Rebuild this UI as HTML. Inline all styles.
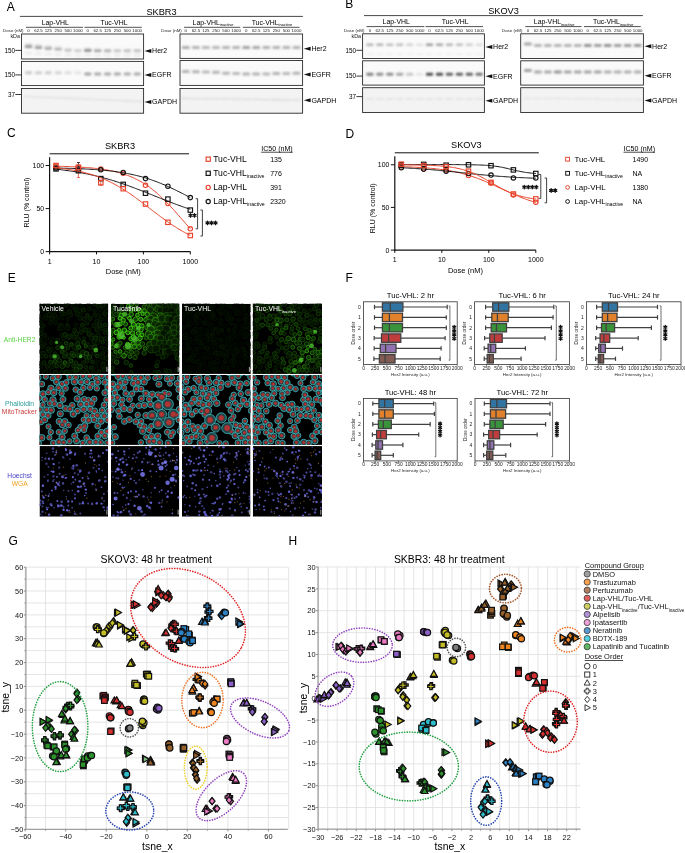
<!DOCTYPE html>
<html><head><meta charset="utf-8"><style>
html,body{margin:0;padding:0;background:#fff;}
svg{display:block;font-family:"Liberation Sans",sans-serif;will-change:transform;filter:blur(0.35px);}
</style></head><body>
<svg width="685" height="853" viewBox="0 0 685 853">
<defs><filter id="bl" x="-20%" y="-50%" width="140%" height="200%"><feGaussianBlur stdDeviation="1.0"/></filter><filter id="bl2" x="-20%" y="-20%" width="140%" height="140%"><feGaussianBlur stdDeviation="0.5"/></filter></defs>
<rect width="685" height="853" fill="#fff"/>
<text x="6.8" y="10.6" font-size="12" text-anchor="start" fill="#000" >A</text><text x="161.5" y="14.8" font-size="9.2" text-anchor="middle" fill="#000" >SKBR3</text><line x1="19.9" y1="16.4" x2="302.9" y2="16.4" stroke="#333" stroke-width="0.9" /><text x="55.3" y="24.6" font-size="6.9" text-anchor="middle" fill="#000" >Lap-VHL</text><line x1="26.0" y1="27.3" x2="83.0" y2="27.3" stroke="#333" stroke-width="0.85" /><text x="114.0" y="24.6" font-size="6.9" text-anchor="middle" fill="#000" >Tuc-VHL</text><line x1="84.5" y1="27.3" x2="141.8" y2="27.3" stroke="#333" stroke-width="0.85" /><text x="23.6" y="32.2" font-size="4.4" text-anchor="end" fill="#222" >Dose (nM)</text><text x="28.6" y="32.2" font-size="4.4" text-anchor="middle" fill="#222" >0</text><text x="38.5" y="32.2" font-size="4.4" text-anchor="middle" fill="#222" >62.5</text><text x="48.3" y="32.2" font-size="4.4" text-anchor="middle" fill="#222" >125</text><text x="58.2" y="32.2" font-size="4.4" text-anchor="middle" fill="#222" >250</text><text x="68.1" y="32.2" font-size="4.4" text-anchor="middle" fill="#222" >500</text><text x="77.9" y="32.2" font-size="4.4" text-anchor="middle" fill="#222" >1000</text><text x="87.8" y="32.2" font-size="4.4" text-anchor="middle" fill="#222" >0</text><text x="97.7" y="32.2" font-size="4.4" text-anchor="middle" fill="#222" >62.5</text><text x="107.6" y="32.2" font-size="4.4" text-anchor="middle" fill="#222" >125</text><text x="117.4" y="32.2" font-size="4.4" text-anchor="middle" fill="#222" >250</text><text x="127.3" y="32.2" font-size="4.4" text-anchor="middle" fill="#222" >500</text><text x="137.2" y="32.2" font-size="4.4" text-anchor="middle" fill="#222" >1000</text><rect x="21.5" y="34.0" width="122.1" height="25.0" fill="#fafafa" stroke="none" stroke-width="1" /><rect x="21.5" y="61.4" width="122.1" height="24.2" fill="#fafafa" stroke="none" stroke-width="1" /><rect x="21.5" y="88.5" width="122.1" height="24.7" fill="#f3f3f3" stroke="none" stroke-width="1" /><g filter="url(#bl)"><rect x="24.9" y="45.1" width="7.4" height="3.0" rx="1.2" fill="rgb(147,147,147)"/><rect x="34.8" y="45.9" width="7.4" height="3.0" rx="1.2" fill="rgb(153,153,153)"/><rect x="44.6" y="46.7" width="7.4" height="3.0" rx="1.2" fill="rgb(163,163,163)"/><rect x="54.5" y="47.5" width="7.4" height="3.0" rx="1.2" fill="rgb(173,173,173)"/><rect x="64.4" y="48.5" width="7.4" height="3.0" rx="1.2" fill="rgb(188,188,188)"/><rect x="74.2" y="49.0" width="7.4" height="3.0" rx="1.2" fill="rgb(198,198,198)"/><rect x="84.1" y="48.7" width="7.4" height="3.0" rx="1.2" fill="rgb(127,127,127)"/><rect x="94.0" y="49.1" width="7.4" height="3.0" rx="1.2" fill="rgb(158,158,158)"/><rect x="103.9" y="49.2" width="7.4" height="3.0" rx="1.2" fill="rgb(178,178,178)"/><rect x="113.7" y="49.2" width="7.4" height="3.0" rx="1.2" fill="rgb(198,198,198)"/><rect x="123.6" y="49.2" width="7.4" height="3.0" rx="1.2" fill="rgb(193,193,193)"/><rect x="133.5" y="49.2" width="7.4" height="3.0" rx="1.2" fill="rgb(193,193,193)"/><rect x="25.1" y="43.6" width="7.0" height="2.0" rx="0.8" fill="rgb(209,209,209)"/><rect x="35.0" y="44.4" width="7.0" height="2.0" rx="0.8" fill="rgb(216,216,216)"/><rect x="44.8" y="45.2" width="7.0" height="2.0" rx="0.8" fill="rgb(224,224,224)"/><rect x="54.7" y="46.0" width="7.0" height="2.0" rx="0.8" fill="rgb(229,229,229)"/><rect x="64.6" y="47.0" width="7.0" height="2.0" rx="0.8" fill="rgb(239,239,239)"/><rect x="74.4" y="47.5" width="7.0" height="2.0" rx="0.8" fill="rgb(244,244,244)"/><rect x="84.3" y="47.2" width="7.0" height="2.0" rx="0.8" fill="rgb(229,229,229)"/><rect x="94.2" y="47.6" width="7.0" height="2.0" rx="0.8" fill="rgb(239,239,239)"/><rect x="25.1" y="51.0" width="7.0" height="4.0" rx="1.6" fill="rgb(239,239,239)"/><rect x="35.0" y="51.5" width="7.0" height="4.0" rx="1.6" fill="rgb(239,239,239)"/><rect x="44.8" y="52.0" width="7.0" height="4.0" rx="1.6" fill="rgb(239,239,239)"/><rect x="54.7" y="52.5" width="7.0" height="4.0" rx="1.6" fill="rgb(239,239,239)"/><rect x="64.6" y="53.0" width="7.0" height="4.0" rx="1.6" fill="rgb(239,239,239)"/><rect x="74.4" y="53.5" width="7.0" height="4.0" rx="1.6" fill="rgb(239,239,239)"/><rect x="84.3" y="53.0" width="7.0" height="4.0" rx="1.6" fill="rgb(239,239,239)"/><rect x="94.2" y="53.5" width="7.0" height="4.0" rx="1.6" fill="rgb(239,239,239)"/><rect x="104.1" y="53.5" width="7.0" height="4.0" rx="1.6" fill="rgb(239,239,239)"/><rect x="113.9" y="53.5" width="7.0" height="4.0" rx="1.6" fill="rgb(239,239,239)"/><rect x="123.8" y="53.5" width="7.0" height="4.0" rx="1.6" fill="rgb(239,239,239)"/><rect x="133.7" y="53.5" width="7.0" height="4.0" rx="1.6" fill="rgb(239,239,239)"/><rect x="25.1" y="71.3" width="7.0" height="3.0" rx="1.2" fill="rgb(198,198,198)"/><rect x="35.0" y="71.3" width="7.0" height="3.0" rx="1.2" fill="rgb(204,204,204)"/><rect x="44.8" y="71.3" width="7.0" height="3.0" rx="1.2" fill="rgb(204,204,204)"/><rect x="54.7" y="71.3" width="7.0" height="3.0" rx="1.2" fill="rgb(211,211,211)"/><rect x="64.6" y="71.3" width="7.0" height="3.0" rx="1.2" fill="rgb(221,221,221)"/><rect x="74.4" y="71.3" width="7.0" height="3.0" rx="1.2" fill="rgb(229,229,229)"/><rect x="84.3" y="72.5" width="7.0" height="3.0" rx="1.2" fill="rgb(163,163,163)"/><rect x="94.2" y="72.5" width="7.0" height="3.0" rx="1.2" fill="rgb(168,168,168)"/><rect x="104.1" y="72.5" width="7.0" height="3.0" rx="1.2" fill="rgb(168,168,168)"/><rect x="113.9" y="72.5" width="7.0" height="3.0" rx="1.2" fill="rgb(168,168,168)"/><rect x="123.8" y="72.5" width="7.0" height="3.0" rx="1.2" fill="rgb(170,170,170)"/><rect x="133.7" y="72.5" width="7.0" height="3.0" rx="1.2" fill="rgb(170,170,170)"/><rect x="23.7" y="95.9" width="9.8" height="1.3" rx="0.5" fill="rgb(221,221,221)"/><rect x="33.6" y="96.4" width="9.8" height="1.3" rx="0.5" fill="rgb(221,221,221)"/><rect x="43.4" y="96.8" width="9.8" height="1.3" rx="0.5" fill="rgb(221,221,221)"/><rect x="53.3" y="97.2" width="9.8" height="1.3" rx="0.5" fill="rgb(221,221,221)"/><rect x="63.2" y="97.6" width="9.8" height="1.3" rx="0.5" fill="rgb(221,221,221)"/><rect x="73.0" y="98.0" width="9.8" height="1.3" rx="0.5" fill="rgb(221,221,221)"/><rect x="82.9" y="98.5" width="9.8" height="1.3" rx="0.5" fill="rgb(221,221,221)"/><rect x="92.8" y="98.9" width="9.8" height="1.3" rx="0.5" fill="rgb(221,221,221)"/><rect x="102.7" y="99.3" width="9.8" height="1.3" rx="0.5" fill="rgb(221,221,221)"/><rect x="112.5" y="99.7" width="9.8" height="1.3" rx="0.5" fill="rgb(221,221,221)"/><rect x="122.4" y="100.1" width="9.8" height="1.3" rx="0.5" fill="rgb(221,221,221)"/><rect x="132.3" y="100.6" width="9.8" height="1.3" rx="0.5" fill="rgb(221,221,221)"/></g><rect x="21.5" y="34.0" width="122.1" height="25.0" fill="none" stroke="#2a2a2a" stroke-width="0.9" /><rect x="21.5" y="61.4" width="122.1" height="24.2" fill="none" stroke="#2a2a2a" stroke-width="0.9" /><rect x="21.5" y="88.5" width="122.1" height="24.7" fill="none" stroke="#2a2a2a" stroke-width="0.9" /><path d="M144.5,50.9 L151.3,48.9 L151.3,52.9 Z" fill="#111"/><text x="152.1" y="53.2" font-size="7" text-anchor="start" fill="#000" >Her2</text><path d="M144.5,74.9 L151.3,72.9 L151.3,76.9 Z" fill="#111"/><text x="152.1" y="77.2" font-size="7" text-anchor="start" fill="#000" >EGFR</text><path d="M144.5,102.0 L151.3,100.0 L151.3,104.0 Z" fill="#111"/><text x="152.1" y="104.3" font-size="7" text-anchor="start" fill="#000" >GAPDH</text><text x="20.0" y="38.4" font-size="5.4" text-anchor="end" fill="#222" >kDa</text><text x="14.9" y="52.6" font-size="6.3" text-anchor="end" fill="#000" >150</text><line x1="15.3" y1="50.4" x2="21.5" y2="50.4" stroke="#222" stroke-width="0.9" /><text x="14.9" y="77.1" font-size="6.3" text-anchor="end" fill="#000" >150</text><line x1="15.3" y1="74.9" x2="21.5" y2="74.9" stroke="#222" stroke-width="0.9" /><text x="14.9" y="96.7" font-size="6.3" text-anchor="end" fill="#000" >37</text><line x1="15.3" y1="94.5" x2="21.5" y2="94.5" stroke="#222" stroke-width="0.9" /><text x="213.0" y="24.6" font-size="6.9" text-anchor="middle" fill="#000" >Lap-VHL<tspan font-size="4" dy="1.6">inactive</tspan></text><line x1="184.0" y1="27.3" x2="240.3" y2="27.3" stroke="#333" stroke-width="0.85" /><text x="271.9" y="24.6" font-size="6.9" text-anchor="middle" fill="#000" >Tuc-VHL<tspan font-size="4" dy="1.6">inactive</tspan></text><line x1="242.8" y1="27.3" x2="299.5" y2="27.3" stroke="#333" stroke-width="0.85" /><text x="181.8" y="32.2" font-size="4.4" text-anchor="end" fill="#222" >Dose (nM)</text><text x="185.8" y="32.2" font-size="4.4" text-anchor="middle" fill="#222" >0</text><text x="195.9" y="32.2" font-size="4.4" text-anchor="middle" fill="#222" >62.5</text><text x="205.9" y="32.2" font-size="4.4" text-anchor="middle" fill="#222" >125</text><text x="216.0" y="32.2" font-size="4.4" text-anchor="middle" fill="#222" >250</text><text x="226.0" y="32.2" font-size="4.4" text-anchor="middle" fill="#222" >500</text><text x="236.1" y="32.2" font-size="4.4" text-anchor="middle" fill="#222" >1000</text><text x="246.2" y="32.2" font-size="4.4" text-anchor="middle" fill="#222" >0</text><text x="256.2" y="32.2" font-size="4.4" text-anchor="middle" fill="#222" >62.5</text><text x="266.3" y="32.2" font-size="4.4" text-anchor="middle" fill="#222" >125</text><text x="276.3" y="32.2" font-size="4.4" text-anchor="middle" fill="#222" >250</text><text x="286.4" y="32.2" font-size="4.4" text-anchor="middle" fill="#222" >500</text><text x="296.5" y="32.2" font-size="4.4" text-anchor="middle" fill="#222" >1000</text><rect x="180.0" y="34.0" width="122.6" height="24.4" fill="#fafafa" stroke="none" stroke-width="1" /><rect x="180.0" y="60.5" width="122.6" height="24.9" fill="#fafafa" stroke="none" stroke-width="1" /><rect x="180.0" y="88.5" width="122.6" height="24.7" fill="#f3f3f3" stroke="none" stroke-width="1" /><g filter="url(#bl)"><rect x="181.9" y="46.1" width="7.8" height="3.0" rx="1.2" fill="rgb(173,173,173)"/><rect x="192.0" y="46.1" width="7.8" height="3.0" rx="1.2" fill="rgb(178,178,178)"/><rect x="202.0" y="46.1" width="7.8" height="3.0" rx="1.2" fill="rgb(183,183,183)"/><rect x="212.1" y="46.1" width="7.8" height="3.0" rx="1.2" fill="rgb(183,183,183)"/><rect x="222.1" y="46.1" width="7.8" height="3.0" rx="1.2" fill="rgb(178,178,178)"/><rect x="232.2" y="46.1" width="7.8" height="3.0" rx="1.2" fill="rgb(178,178,178)"/><rect x="242.3" y="46.1" width="7.8" height="3.0" rx="1.2" fill="rgb(163,163,163)"/><rect x="252.3" y="46.1" width="7.8" height="3.0" rx="1.2" fill="rgb(168,168,168)"/><rect x="262.4" y="46.1" width="7.8" height="3.0" rx="1.2" fill="rgb(178,178,178)"/><rect x="272.4" y="46.1" width="7.8" height="3.0" rx="1.2" fill="rgb(178,178,178)"/><rect x="282.5" y="46.1" width="7.8" height="3.0" rx="1.2" fill="rgb(178,178,178)"/><rect x="292.6" y="46.1" width="7.8" height="3.0" rx="1.2" fill="rgb(178,178,178)"/><rect x="181.9" y="70.0" width="7.8" height="3.0" rx="1.2" fill="rgb(178,178,178)"/><rect x="192.0" y="70.3" width="7.8" height="3.0" rx="1.2" fill="rgb(178,178,178)"/><rect x="202.0" y="70.5" width="7.8" height="3.0" rx="1.2" fill="rgb(183,183,183)"/><rect x="212.1" y="70.7" width="7.8" height="3.0" rx="1.2" fill="rgb(178,178,178)"/><rect x="222.1" y="71.7" width="7.8" height="3.0" rx="1.2" fill="rgb(178,178,178)"/><rect x="232.2" y="72.0" width="7.8" height="3.0" rx="1.2" fill="rgb(183,183,183)"/><rect x="242.3" y="72.5" width="7.8" height="3.0" rx="1.2" fill="rgb(178,178,178)"/><rect x="252.3" y="72.5" width="7.8" height="3.0" rx="1.2" fill="rgb(178,178,178)"/><rect x="262.4" y="72.5" width="7.8" height="3.0" rx="1.2" fill="rgb(183,183,183)"/><rect x="272.4" y="72.0" width="7.8" height="3.0" rx="1.2" fill="rgb(178,178,178)"/><rect x="282.5" y="72.0" width="7.8" height="3.0" rx="1.2" fill="rgb(183,183,183)"/><rect x="292.6" y="71.7" width="7.8" height="3.0" rx="1.2" fill="rgb(178,178,178)"/><rect x="181.1" y="97.8" width="9.5" height="1.3" rx="0.5" fill="rgb(214,214,214)"/><rect x="191.1" y="97.9" width="9.5" height="1.3" rx="0.5" fill="rgb(214,214,214)"/><rect x="201.2" y="98.0" width="9.5" height="1.3" rx="0.5" fill="rgb(214,214,214)"/><rect x="211.2" y="98.2" width="9.5" height="1.3" rx="0.5" fill="rgb(214,214,214)"/><rect x="221.3" y="98.3" width="9.5" height="1.3" rx="0.5" fill="rgb(214,214,214)"/><rect x="231.4" y="98.5" width="9.5" height="1.3" rx="0.5" fill="rgb(214,214,214)"/><rect x="241.4" y="98.7" width="9.5" height="1.3" rx="0.5" fill="rgb(214,214,214)"/><rect x="251.5" y="98.8" width="9.5" height="1.3" rx="0.5" fill="rgb(214,214,214)"/><rect x="261.5" y="99.0" width="9.5" height="1.3" rx="0.5" fill="rgb(214,214,214)"/><rect x="271.6" y="99.1" width="9.5" height="1.3" rx="0.5" fill="rgb(214,214,214)"/><rect x="281.7" y="99.2" width="9.5" height="1.3" rx="0.5" fill="rgb(214,214,214)"/><rect x="291.7" y="99.4" width="9.5" height="1.3" rx="0.5" fill="rgb(214,214,214)"/></g><rect x="180.0" y="34.0" width="122.6" height="24.4" fill="none" stroke="#2a2a2a" stroke-width="0.9" /><rect x="180.0" y="60.5" width="122.6" height="24.9" fill="none" stroke="#2a2a2a" stroke-width="0.9" /><rect x="180.0" y="88.5" width="122.6" height="24.7" fill="none" stroke="#2a2a2a" stroke-width="0.9" /><path d="M303.8,48.8 L310.6,46.8 L310.6,50.8 Z" fill="#111"/><text x="311.4" y="51.1" font-size="7" text-anchor="start" fill="#000" >Her2</text><path d="M303.8,74.6 L310.6,72.6 L310.6,76.6 Z" fill="#111"/><text x="311.4" y="76.9" font-size="7" text-anchor="start" fill="#000" >EGFR</text><path d="M303.8,100.3 L310.6,98.3 L310.6,102.3 Z" fill="#111"/><text x="311.4" y="102.6" font-size="7" text-anchor="start" fill="#000" >GAPDH</text><text x="345.3" y="7.9" font-size="12" text-anchor="start" fill="#000" >B</text><text x="503.5" y="14.0" font-size="9.2" text-anchor="middle" fill="#000" >SKOV3</text><line x1="364.0" y1="15.6" x2="642.9" y2="15.6" stroke="#333" stroke-width="0.9" /><text x="396.2" y="23.9" font-size="6.9" text-anchor="middle" fill="#000" >Lap-VHL</text><line x1="366.5" y1="26.6" x2="424.3" y2="26.6" stroke="#333" stroke-width="0.85" /><text x="455.1" y="23.9" font-size="6.9" text-anchor="middle" fill="#000" >Tuc-VHL</text><line x1="425.6" y1="26.6" x2="483.0" y2="26.6" stroke="#333" stroke-width="0.85" /><text x="364.5" y="32.2" font-size="4.4" text-anchor="end" fill="#222" >Dose (nM)</text><text x="369.9" y="32.2" font-size="4.4" text-anchor="middle" fill="#222" >0</text><text x="379.8" y="32.2" font-size="4.4" text-anchor="middle" fill="#222" >62.5</text><text x="389.8" y="32.2" font-size="4.4" text-anchor="middle" fill="#222" >125</text><text x="399.7" y="32.2" font-size="4.4" text-anchor="middle" fill="#222" >250</text><text x="409.7" y="32.2" font-size="4.4" text-anchor="middle" fill="#222" >500</text><text x="419.6" y="32.2" font-size="4.4" text-anchor="middle" fill="#222" >1000</text><text x="429.5" y="32.2" font-size="4.4" text-anchor="middle" fill="#222" >0</text><text x="439.5" y="32.2" font-size="4.4" text-anchor="middle" fill="#222" >62.5</text><text x="449.4" y="32.2" font-size="4.4" text-anchor="middle" fill="#222" >125</text><text x="459.4" y="32.2" font-size="4.4" text-anchor="middle" fill="#222" >250</text><text x="469.3" y="32.2" font-size="4.4" text-anchor="middle" fill="#222" >500</text><text x="479.2" y="32.2" font-size="4.4" text-anchor="middle" fill="#222" >1000</text><rect x="362.6" y="33.8" width="121.8" height="24.7" fill="#fafafa" stroke="none" stroke-width="1" /><rect x="362.6" y="60.8" width="121.8" height="24.3" fill="#fafafa" stroke="none" stroke-width="1" /><rect x="362.6" y="87.7" width="121.8" height="24.8" fill="#f3f3f3" stroke="none" stroke-width="1" /><g filter="url(#bl)"><rect x="366.3" y="43.5" width="7.2" height="2.6" rx="1.0" fill="rgb(178,178,178)"/><rect x="376.2" y="43.5" width="7.2" height="2.6" rx="1.0" fill="rgb(178,178,178)"/><rect x="386.2" y="43.5" width="7.2" height="2.6" rx="1.0" fill="rgb(188,188,188)"/><rect x="396.1" y="43.5" width="7.2" height="2.6" rx="1.0" fill="rgb(188,188,188)"/><rect x="406.1" y="43.5" width="7.2" height="2.6" rx="1.0" fill="rgb(209,209,209)"/><rect x="416.0" y="43.5" width="7.2" height="2.6" rx="1.0" fill="rgb(224,224,224)"/><rect x="425.9" y="43.5" width="7.2" height="2.6" rx="1.0" fill="rgb(153,153,153)"/><rect x="435.9" y="43.5" width="7.2" height="2.6" rx="1.0" fill="rgb(163,163,163)"/><rect x="445.8" y="43.5" width="7.2" height="2.6" rx="1.0" fill="rgb(178,178,178)"/><rect x="455.8" y="43.5" width="7.2" height="2.6" rx="1.0" fill="rgb(188,188,188)"/><rect x="465.7" y="43.5" width="7.2" height="2.6" rx="1.0" fill="rgb(204,204,204)"/><rect x="475.6" y="43.5" width="7.2" height="2.6" rx="1.0" fill="rgb(219,219,219)"/><rect x="366.4" y="53.0" width="7.0" height="2.0" rx="0.8" fill="rgb(239,239,239)"/><rect x="376.3" y="53.0" width="7.0" height="2.0" rx="0.8" fill="rgb(239,239,239)"/><rect x="386.3" y="53.0" width="7.0" height="2.0" rx="0.8" fill="rgb(239,239,239)"/><rect x="396.2" y="53.0" width="7.0" height="2.0" rx="0.8" fill="rgb(239,239,239)"/><rect x="406.2" y="53.0" width="7.0" height="2.0" rx="0.8" fill="rgb(239,239,239)"/><rect x="416.1" y="53.0" width="7.0" height="2.0" rx="0.8" fill="rgb(239,239,239)"/><rect x="426.0" y="53.0" width="7.0" height="2.0" rx="0.8" fill="rgb(239,239,239)"/><rect x="436.0" y="53.0" width="7.0" height="2.0" rx="0.8" fill="rgb(239,239,239)"/><rect x="445.9" y="53.0" width="7.0" height="2.0" rx="0.8" fill="rgb(239,239,239)"/><rect x="455.9" y="53.0" width="7.0" height="2.0" rx="0.8" fill="rgb(239,239,239)"/><rect x="465.8" y="53.0" width="7.0" height="2.0" rx="0.8" fill="rgb(239,239,239)"/><rect x="475.7" y="53.0" width="7.0" height="2.0" rx="0.8" fill="rgb(239,239,239)"/><rect x="366.3" y="72.8" width="7.2" height="3.0" rx="1.2" fill="rgb(127,127,127)"/><rect x="376.2" y="72.8" width="7.2" height="3.0" rx="1.2" fill="rgb(140,140,140)"/><rect x="386.2" y="72.8" width="7.2" height="3.0" rx="1.2" fill="rgb(140,140,140)"/><rect x="396.1" y="72.8" width="7.2" height="3.0" rx="1.2" fill="rgb(165,165,165)"/><rect x="406.1" y="72.8" width="7.2" height="3.0" rx="1.2" fill="rgb(198,198,198)"/><rect x="416.0" y="72.8" width="7.2" height="3.0" rx="1.2" fill="rgb(229,229,229)"/><rect x="425.9" y="72.8" width="7.2" height="3.0" rx="1.2" fill="rgb(76,76,76)"/><rect x="435.9" y="72.8" width="7.2" height="3.0" rx="1.2" fill="rgb(76,76,76)"/><rect x="445.8" y="72.8" width="7.2" height="3.0" rx="1.2" fill="rgb(96,96,96)"/><rect x="455.8" y="72.8" width="7.2" height="3.0" rx="1.2" fill="rgb(96,96,96)"/><rect x="465.7" y="72.8" width="7.2" height="3.0" rx="1.2" fill="rgb(96,96,96)"/><rect x="475.6" y="72.8" width="7.2" height="3.0" rx="1.2" fill="rgb(114,114,114)"/><rect x="365.9" y="98.6" width="8.0" height="0.9" rx="0.4" fill="rgb(214,214,214)"/><rect x="375.8" y="98.6" width="8.0" height="0.9" rx="0.4" fill="rgb(214,214,214)"/><rect x="385.8" y="98.6" width="8.0" height="0.9" rx="0.4" fill="rgb(214,214,214)"/><rect x="395.7" y="98.6" width="8.0" height="0.9" rx="0.4" fill="rgb(214,214,214)"/><rect x="405.7" y="98.6" width="8.0" height="0.9" rx="0.4" fill="rgb(214,214,214)"/><rect x="415.6" y="98.6" width="8.0" height="0.9" rx="0.4" fill="rgb(214,214,214)"/><rect x="425.5" y="98.6" width="8.0" height="0.9" rx="0.4" fill="rgb(214,214,214)"/><rect x="435.5" y="98.6" width="8.0" height="0.9" rx="0.4" fill="rgb(214,214,214)"/><rect x="445.4" y="98.6" width="8.0" height="0.9" rx="0.4" fill="rgb(214,214,214)"/><rect x="455.4" y="98.6" width="8.0" height="0.9" rx="0.4" fill="rgb(214,214,214)"/><rect x="465.3" y="98.6" width="8.0" height="0.9" rx="0.4" fill="rgb(214,214,214)"/><rect x="475.2" y="98.6" width="8.0" height="0.9" rx="0.4" fill="rgb(214,214,214)"/></g><rect x="362.6" y="33.8" width="121.8" height="24.7" fill="none" stroke="#2a2a2a" stroke-width="0.9" /><rect x="362.6" y="60.8" width="121.8" height="24.3" fill="none" stroke="#2a2a2a" stroke-width="0.9" /><rect x="362.6" y="87.7" width="121.8" height="24.8" fill="none" stroke="#2a2a2a" stroke-width="0.9" /><path d="M485.5,47.0 L492.3,45.0 L492.3,49.0 Z" fill="#111"/><text x="493.1" y="49.3" font-size="7" text-anchor="start" fill="#000" >Her2</text><path d="M485.5,76.3 L492.3,74.3 L492.3,78.3 Z" fill="#111"/><text x="493.1" y="78.6" font-size="7" text-anchor="start" fill="#000" >EGFR</text><path d="M485.5,100.7 L492.3,98.7 L492.3,102.7 Z" fill="#111"/><text x="493.1" y="103.0" font-size="7" text-anchor="start" fill="#000" >GAPDH</text><text x="361.1" y="37.9" font-size="5.4" text-anchor="end" fill="#222" >kDa</text><text x="356.0" y="52.5" font-size="6.3" text-anchor="end" fill="#000" >150</text><line x1="356.4" y1="50.3" x2="362.6" y2="50.3" stroke="#222" stroke-width="0.9" /><text x="356.0" y="78.3" font-size="6.3" text-anchor="end" fill="#000" >150</text><line x1="356.4" y1="76.1" x2="362.6" y2="76.1" stroke="#222" stroke-width="0.9" /><text x="356.0" y="98.8" font-size="6.3" text-anchor="end" fill="#000" >37</text><line x1="356.4" y1="96.6" x2="362.6" y2="96.6" stroke="#222" stroke-width="0.9" /><text x="554.2" y="23.9" font-size="6.9" text-anchor="middle" fill="#000" >Lap-VHL<tspan font-size="4" dy="1.6">inactive</tspan></text><line x1="525.3" y1="26.6" x2="581.5" y2="26.6" stroke="#333" stroke-width="0.85" /><text x="613.2" y="23.9" font-size="6.9" text-anchor="middle" fill="#000" >Tuc-VHL<tspan font-size="4" dy="1.6">inactive</tspan></text><line x1="584.0" y1="26.6" x2="640.8" y2="26.6" stroke="#333" stroke-width="0.85" /><text x="522.5" y="32.2" font-size="4.4" text-anchor="end" fill="#222" >Dose (nM)</text><text x="527.9" y="32.2" font-size="4.4" text-anchor="middle" fill="#222" >0</text><text x="537.9" y="32.2" font-size="4.4" text-anchor="middle" fill="#222" >62.5</text><text x="547.9" y="32.2" font-size="4.4" text-anchor="middle" fill="#222" >125</text><text x="557.8" y="32.2" font-size="4.4" text-anchor="middle" fill="#222" >250</text><text x="567.8" y="32.2" font-size="4.4" text-anchor="middle" fill="#222" >500</text><text x="577.8" y="32.2" font-size="4.4" text-anchor="middle" fill="#222" >1000</text><text x="587.8" y="32.2" font-size="4.4" text-anchor="middle" fill="#222" >0</text><text x="597.8" y="32.2" font-size="4.4" text-anchor="middle" fill="#222" >62.5</text><text x="607.7" y="32.2" font-size="4.4" text-anchor="middle" fill="#222" >125</text><text x="617.7" y="32.2" font-size="4.4" text-anchor="middle" fill="#222" >250</text><text x="627.7" y="32.2" font-size="4.4" text-anchor="middle" fill="#222" >500</text><text x="637.7" y="32.2" font-size="4.4" text-anchor="middle" fill="#222" >1000</text><rect x="520.7" y="33.8" width="122.7" height="24.7" fill="#fafafa" stroke="none" stroke-width="1" /><rect x="520.7" y="60.8" width="122.7" height="24.3" fill="#fafafa" stroke="none" stroke-width="1" /><rect x="520.7" y="87.7" width="122.7" height="24.8" fill="#f3f3f3" stroke="none" stroke-width="1" /><g filter="url(#bl)"><rect x="524.0" y="42.5" width="7.8" height="3.0" rx="1.2" fill="rgb(165,165,165)"/><rect x="534.0" y="44.0" width="7.8" height="3.0" rx="1.2" fill="rgb(178,178,178)"/><rect x="544.0" y="44.0" width="7.8" height="3.0" rx="1.2" fill="rgb(178,178,178)"/><rect x="553.9" y="44.0" width="7.8" height="3.0" rx="1.2" fill="rgb(178,178,178)"/><rect x="563.9" y="44.0" width="7.8" height="3.0" rx="1.2" fill="rgb(178,178,178)"/><rect x="573.9" y="44.0" width="7.8" height="3.0" rx="1.2" fill="rgb(178,178,178)"/><rect x="583.9" y="44.0" width="7.8" height="3.0" rx="1.2" fill="rgb(147,147,147)"/><rect x="593.9" y="44.0" width="7.8" height="3.0" rx="1.2" fill="rgb(158,158,158)"/><rect x="603.8" y="44.0" width="7.8" height="3.0" rx="1.2" fill="rgb(147,147,147)"/><rect x="613.8" y="44.0" width="7.8" height="3.0" rx="1.2" fill="rgb(158,158,158)"/><rect x="623.8" y="44.0" width="7.8" height="3.0" rx="1.2" fill="rgb(158,158,158)"/><rect x="633.8" y="44.0" width="7.8" height="3.0" rx="1.2" fill="rgb(153,153,153)"/><rect x="524.0" y="69.0" width="7.8" height="3.0" rx="1.2" fill="rgb(158,158,158)"/><rect x="534.0" y="70.5" width="7.8" height="3.0" rx="1.2" fill="rgb(168,168,168)"/><rect x="544.0" y="70.5" width="7.8" height="3.0" rx="1.2" fill="rgb(168,168,168)"/><rect x="553.9" y="70.5" width="7.8" height="3.0" rx="1.2" fill="rgb(147,147,147)"/><rect x="563.9" y="70.5" width="7.8" height="3.0" rx="1.2" fill="rgb(163,163,163)"/><rect x="573.9" y="70.5" width="7.8" height="3.0" rx="1.2" fill="rgb(163,163,163)"/><rect x="583.9" y="70.5" width="7.8" height="3.0" rx="1.2" fill="rgb(163,163,163)"/><rect x="593.9" y="70.5" width="7.8" height="3.0" rx="1.2" fill="rgb(163,163,163)"/><rect x="603.8" y="70.5" width="7.8" height="3.0" rx="1.2" fill="rgb(173,173,173)"/><rect x="613.8" y="70.5" width="7.8" height="3.0" rx="1.2" fill="rgb(173,173,173)"/><rect x="623.8" y="70.5" width="7.8" height="3.0" rx="1.2" fill="rgb(173,173,173)"/><rect x="633.8" y="70.5" width="7.8" height="3.0" rx="1.2" fill="rgb(173,173,173)"/><rect x="523.4" y="97.7" width="9.0" height="1.0" rx="0.4" fill="rgb(219,219,219)"/><rect x="533.4" y="97.8" width="9.0" height="1.0" rx="0.4" fill="rgb(219,219,219)"/><rect x="543.4" y="97.9" width="9.0" height="1.0" rx="0.4" fill="rgb(219,219,219)"/><rect x="553.3" y="98.1" width="9.0" height="1.0" rx="0.4" fill="rgb(219,219,219)"/><rect x="563.3" y="98.2" width="9.0" height="1.0" rx="0.4" fill="rgb(219,219,219)"/><rect x="573.3" y="98.3" width="9.0" height="1.0" rx="0.4" fill="rgb(219,219,219)"/><rect x="583.3" y="98.4" width="9.0" height="1.0" rx="0.4" fill="rgb(219,219,219)"/><rect x="593.3" y="98.5" width="9.0" height="1.0" rx="0.4" fill="rgb(219,219,219)"/><rect x="603.2" y="98.7" width="9.0" height="1.0" rx="0.4" fill="rgb(219,219,219)"/><rect x="613.2" y="98.8" width="9.0" height="1.0" rx="0.4" fill="rgb(219,219,219)"/><rect x="623.2" y="98.9" width="9.0" height="1.0" rx="0.4" fill="rgb(219,219,219)"/><rect x="633.2" y="99.0" width="9.0" height="1.0" rx="0.4" fill="rgb(219,219,219)"/></g><rect x="520.7" y="33.8" width="122.7" height="24.7" fill="none" stroke="#2a2a2a" stroke-width="0.9" /><rect x="520.7" y="60.8" width="122.7" height="24.3" fill="none" stroke="#2a2a2a" stroke-width="0.9" /><rect x="520.7" y="87.7" width="122.7" height="24.8" fill="none" stroke="#2a2a2a" stroke-width="0.9" /><path d="M644.5,46.3 L651.3,44.3 L651.3,48.3 Z" fill="#111"/><text x="652.1" y="48.6" font-size="7" text-anchor="start" fill="#000" >Her2</text><path d="M644.5,75.7 L651.3,73.7 L651.3,77.7 Z" fill="#111"/><text x="652.1" y="78.0" font-size="7" text-anchor="start" fill="#000" >EGFR</text><path d="M644.5,100.4 L651.3,98.4 L651.3,102.4 Z" fill="#111"/><text x="652.1" y="102.7" font-size="7" text-anchor="start" fill="#000" >GAPDH</text><line x1="78.4" y1="162.5" x2="78.4" y2="168.9" stroke="#111" stroke-width="0.8" /><line x1="76.9" y1="162.5" x2="79.9" y2="162.5" stroke="#111" stroke-width="0.8" /><line x1="76.9" y1="168.9" x2="79.9" y2="168.9" stroke="#111" stroke-width="0.8" /><line x1="78.4" y1="171.5" x2="78.4" y2="177.6" stroke="#e8422a" stroke-width="0.8" /><line x1="76.9" y1="171.5" x2="79.9" y2="171.5" stroke="#e8422a" stroke-width="0.8" /><line x1="76.9" y1="177.6" x2="79.9" y2="177.6" stroke="#e8422a" stroke-width="0.8" /><line x1="100.8" y1="180.1" x2="100.8" y2="185.3" stroke="#e8422a" stroke-width="0.8" /><line x1="99.3" y1="180.1" x2="102.3" y2="180.1" stroke="#e8422a" stroke-width="0.8" /><line x1="99.3" y1="185.3" x2="102.3" y2="185.3" stroke="#e8422a" stroke-width="0.8" /><text x="7.0" y="137.4" font-size="12" text-anchor="start" fill="#000" >C</text><line x1="49.6" y1="157.3" x2="49.6" y2="252.2" stroke="#111" stroke-width="1.2" /><line x1="49.0" y1="251.6" x2="190.4" y2="251.6" stroke="#111" stroke-width="1.2" /><line x1="45.6" y1="251.6" x2="49.6" y2="251.6" stroke="#111" stroke-width="1" /><text x="44.1" y="254.0" font-size="6.9" text-anchor="end" fill="#000" >0</text><line x1="45.6" y1="208.6" x2="49.6" y2="208.6" stroke="#111" stroke-width="1" /><text x="44.1" y="211.0" font-size="6.9" text-anchor="end" fill="#000" >50</text><line x1="45.6" y1="165.5" x2="49.6" y2="165.5" stroke="#111" stroke-width="1" /><text x="44.1" y="167.9" font-size="6.9" text-anchor="end" fill="#000" >100</text><line x1="49.6" y1="251.6" x2="49.6" y2="254.4" stroke="#111" stroke-width="1" /><text x="49.6" y="263.8" font-size="7.0" text-anchor="middle" fill="#000" >1</text><line x1="96.5" y1="251.6" x2="96.5" y2="254.4" stroke="#111" stroke-width="1" /><text x="96.5" y="263.8" font-size="7.0" text-anchor="middle" fill="#000" >10</text><line x1="143.4" y1="251.6" x2="143.4" y2="254.4" stroke="#111" stroke-width="1" /><text x="143.4" y="263.8" font-size="7.0" text-anchor="middle" fill="#000" >100</text><line x1="190.3" y1="251.6" x2="190.3" y2="254.4" stroke="#111" stroke-width="1" /><text x="190.3" y="263.8" font-size="7.0" text-anchor="middle" fill="#000" >1000</text><text x="123.3" y="274.4" font-size="7.5" text-anchor="middle" fill="#000" >Dose (nM)</text><text x="0.0" y="0.0" font-size="7.0" text-anchor="middle" fill="#000" transform="translate(29.1,202.5) rotate(-90)">RLU (% control)</text><text x="120.0" y="149.2" font-size="9.2" text-anchor="middle" fill="#000" >SKBR3</text><line x1="49.6" y1="153.8" x2="189.0" y2="153.8" stroke="#111" stroke-width="1.0" /><polyline points="53.3,166.2 54.5,166.2 55.6,166.2 56.7,166.2 57.9,166.3 59.0,166.3 60.2,166.3 61.3,166.4 62.4,166.4 63.6,166.4 64.7,166.5 65.9,166.5 67.0,166.5 68.2,166.6 69.3,166.6 70.4,166.7 71.6,166.7 72.7,166.8 73.9,166.8 75.0,166.9 76.1,166.9 77.3,167.0 78.4,167.0 79.6,167.1 80.7,167.2 81.9,167.2 83.0,167.3 84.1,167.4 85.3,167.5 86.4,167.6 87.6,167.6 88.7,167.7 89.8,167.8 91.0,167.9 92.1,168.0 93.3,168.2 94.4,168.3 95.6,168.4 96.7,168.5 97.8,168.7 99.0,168.8 100.1,169.0 101.3,169.1 102.4,169.3 103.5,169.4 104.7,169.6 105.8,169.8 107.0,170.0 108.1,170.2 109.2,170.4 110.4,170.6 111.5,170.9 112.7,171.1 113.8,171.4 115.0,171.6 116.1,171.9 117.2,172.2 118.4,172.5 119.5,172.8 120.7,173.1 121.8,173.5 122.9,173.8 124.1,174.2 125.2,174.6 126.4,175.0 127.5,175.4 128.7,175.8 129.8,176.3 130.9,176.7 132.1,177.2 133.2,177.7 134.4,178.3 135.5,178.8 136.6,179.4 137.8,180.0 138.9,180.6 140.1,181.2 141.2,181.8 142.4,182.5 143.5,183.2 144.6,183.9 145.8,184.7 146.9,185.4 148.1,186.2 149.2,187.0 150.3,187.9 151.5,188.7 152.6,189.6 153.8,190.5 154.9,191.5 156.1,192.4 157.2,193.4 158.3,194.4 159.5,195.4 160.6,196.5 161.8,197.6 162.9,198.7 164.0,199.8 165.2,200.9 166.3,202.1 167.5,203.2 168.6,204.4 169.8,205.6 170.9,206.9 172.0,208.1 173.2,209.3 174.3,210.6 175.5,211.9 176.6,213.2 177.7,214.5 178.9,215.8 180.0,217.1 181.2,218.4 182.3,219.7 183.5,221.0 184.6,222.3 185.7,223.6 186.9,224.9 188.0,226.2 189.2,227.4 190.3,228.7" fill="none" stroke="#e8422a" stroke-width="1.0"/><circle cx="56.0" cy="166.4" r="2.2" fill="none" stroke="#e8422a" stroke-width="1.15"/><circle cx="78.4" cy="167.2" r="2.2" fill="none" stroke="#e8422a" stroke-width="1.15"/><circle cx="100.8" cy="168.9" r="2.2" fill="none" stroke="#e8422a" stroke-width="1.15"/><circle cx="123.2" cy="173.2" r="2.2" fill="none" stroke="#e8422a" stroke-width="1.15"/><circle cx="145.5" cy="185.3" r="2.2" fill="none" stroke="#e8422a" stroke-width="1.15"/><circle cx="167.9" cy="203.4" r="2.2" fill="none" stroke="#e8422a" stroke-width="1.15"/><circle cx="190.3" cy="228.8" r="2.2" fill="none" stroke="#e8422a" stroke-width="1.15"/><polyline points="53.3,168.0 54.5,168.0 55.6,168.0 56.7,168.1 57.9,168.1 59.0,168.1 60.2,168.1 61.3,168.2 62.4,168.2 63.6,168.2 64.7,168.2 65.9,168.3 67.0,168.3 68.2,168.3 69.3,168.4 70.4,168.4 71.6,168.4 72.7,168.5 73.9,168.5 75.0,168.6 76.1,168.6 77.3,168.6 78.4,168.7 79.6,168.7 80.7,168.8 81.9,168.8 83.0,168.9 84.1,168.9 85.3,169.0 86.4,169.1 87.6,169.1 88.7,169.2 89.8,169.2 91.0,169.3 92.1,169.4 93.3,169.5 94.4,169.5 95.6,169.6 96.7,169.7 97.8,169.8 99.0,169.9 100.1,170.0 101.3,170.1 102.4,170.2 103.5,170.3 104.7,170.4 105.8,170.5 107.0,170.6 108.1,170.7 109.2,170.8 110.4,171.0 111.5,171.1 112.7,171.2 113.8,171.4 115.0,171.5 116.1,171.7 117.2,171.8 118.4,172.0 119.5,172.2 120.7,172.4 121.8,172.5 122.9,172.7 124.1,172.9 125.2,173.1 126.4,173.3 127.5,173.5 128.7,173.8 129.8,174.0 130.9,174.2 132.1,174.5 133.2,174.7 134.4,175.0 135.5,175.3 136.6,175.5 137.8,175.8 138.9,176.1 140.1,176.4 141.2,176.7 142.4,177.0 143.5,177.3 144.6,177.7 145.8,178.0 146.9,178.4 148.1,178.7 149.2,179.1 150.3,179.5 151.5,179.9 152.6,180.3 153.8,180.7 154.9,181.1 156.1,181.5 157.2,182.0 158.3,182.4 159.5,182.9 160.6,183.3 161.8,183.8 162.9,184.3 164.0,184.7 165.2,185.2 166.3,185.7 167.5,186.3 168.6,186.8 169.8,187.3 170.9,187.8 172.0,188.4 173.2,188.9 174.3,189.5 175.5,190.0 176.6,190.6 177.7,191.1 178.9,191.7 180.0,192.3 181.2,192.9 182.3,193.4 183.5,194.0 184.6,194.6 185.7,195.2 186.9,195.8 188.0,196.4 189.2,197.0 190.3,197.6" fill="none" stroke="#111" stroke-width="1.0"/><circle cx="56.0" cy="168.1" r="2.2" fill="none" stroke="#111" stroke-width="1.15"/><circle cx="78.4" cy="168.9" r="2.2" fill="none" stroke="#111" stroke-width="1.15"/><circle cx="100.8" cy="169.8" r="2.2" fill="none" stroke="#111" stroke-width="1.15"/><circle cx="123.2" cy="172.4" r="2.2" fill="none" stroke="#111" stroke-width="1.15"/><circle cx="145.5" cy="178.6" r="2.2" fill="none" stroke="#111" stroke-width="1.15"/><circle cx="167.9" cy="186.2" r="2.2" fill="none" stroke="#111" stroke-width="1.15"/><circle cx="190.3" cy="197.6" r="2.2" fill="none" stroke="#111" stroke-width="1.15"/><polyline points="53.3,168.9 54.5,169.0 55.6,169.1 56.7,169.2 57.9,169.4 59.0,169.5 60.2,169.6 61.3,169.8 62.4,169.9 63.6,170.1 64.7,170.2 65.9,170.4 67.0,170.5 68.2,170.7 69.3,170.8 70.4,171.0 71.6,171.2 72.7,171.4 73.9,171.5 75.0,171.7 76.1,171.9 77.3,172.1 78.4,172.3 79.6,172.5 80.7,172.7 81.9,172.9 83.0,173.1 84.1,173.3 85.3,173.6 86.4,173.8 87.6,174.0 88.7,174.3 89.8,174.5 91.0,174.8 92.1,175.0 93.3,175.3 94.4,175.5 95.6,175.8 96.7,176.1 97.8,176.4 99.0,176.7 100.1,176.9 101.3,177.2 102.4,177.5 103.5,177.8 104.7,178.2 105.8,178.5 107.0,178.8 108.1,179.1 109.2,179.5 110.4,179.8 111.5,180.1 112.7,180.5 113.8,180.8 115.0,181.2 116.1,181.6 117.2,181.9 118.4,182.3 119.5,182.7 120.7,183.1 121.8,183.4 122.9,183.8 124.1,184.2 125.2,184.6 126.4,185.0 127.5,185.4 128.7,185.8 129.8,186.3 130.9,186.7 132.1,187.1 133.2,187.5 134.4,188.0 135.5,188.4 136.6,188.8 137.8,189.3 138.9,189.7 140.1,190.2 141.2,190.6 142.4,191.0 143.5,191.5 144.6,191.9 145.8,192.4 146.9,192.9 148.1,193.3 149.2,193.8 150.3,194.2 151.5,194.7 152.6,195.1 153.8,195.6 154.9,196.1 156.1,196.5 157.2,197.0 158.3,197.4 159.5,197.9 160.6,198.3 161.8,198.8 162.9,199.3 164.0,199.7 165.2,200.2 166.3,200.6 167.5,201.1 168.6,201.5 169.8,201.9 170.9,202.4 172.0,202.8 173.2,203.2 174.3,203.7 175.5,204.1 176.6,204.5 177.7,204.9 178.9,205.3 180.0,205.8 181.2,206.2 182.3,206.6 183.5,207.0 184.6,207.4 185.7,207.8 186.9,208.1 188.0,208.5 189.2,208.9 190.3,209.3" fill="none" stroke="#111" stroke-width="1.0"/><rect x="53.8" y="166.7" width="4.4" height="4.4" fill="none" stroke="#111" stroke-width="1.15" /><rect x="76.2" y="168.5" width="4.4" height="4.4" fill="none" stroke="#111" stroke-width="1.15" /><rect x="98.6" y="176.4" width="4.4" height="4.4" fill="none" stroke="#111" stroke-width="1.15" /><rect x="121.0" y="182.2" width="4.4" height="4.4" fill="none" stroke="#111" stroke-width="1.15" /><rect x="143.3" y="191.0" width="4.4" height="4.4" fill="none" stroke="#111" stroke-width="1.15" /><rect x="165.7" y="196.9" width="4.4" height="4.4" fill="none" stroke="#111" stroke-width="1.15" /><rect x="188.1" y="207.9" width="4.4" height="4.4" fill="none" stroke="#111" stroke-width="1.15" /><polyline points="53.3,167.4 54.5,167.6 55.6,167.7 56.7,167.8 57.9,167.9 59.0,168.0 60.2,168.2 61.3,168.3 62.4,168.5 63.6,168.6 64.7,168.8 65.9,168.9 67.0,169.1 68.2,169.3 69.3,169.5 70.4,169.6 71.6,169.8 72.7,170.0 73.9,170.2 75.0,170.5 76.1,170.7 77.3,170.9 78.4,171.2 79.6,171.4 80.7,171.7 81.9,171.9 83.0,172.2 84.1,172.5 85.3,172.8 86.4,173.1 87.6,173.4 88.7,173.7 89.8,174.0 91.0,174.4 92.1,174.7 93.3,175.1 94.4,175.5 95.6,175.9 96.7,176.3 97.8,176.7 99.0,177.1 100.1,177.6 101.3,178.0 102.4,178.5 103.5,179.0 104.7,179.4 105.8,179.9 107.0,180.5 108.1,181.0 109.2,181.5 110.4,182.1 111.5,182.7 112.7,183.2 113.8,183.8 115.0,184.5 116.1,185.1 117.2,185.7 118.4,186.4 119.5,187.0 120.7,187.7 121.8,188.4 122.9,189.1 124.1,189.8 125.2,190.6 126.4,191.3 127.5,192.1 128.7,192.8 129.8,193.6 130.9,194.4 132.1,195.2 133.2,196.0 134.4,196.8 135.5,197.6 136.6,198.5 137.8,199.3 138.9,200.2 140.1,201.0 141.2,201.9 142.4,202.7 143.5,203.6 144.6,204.5 145.8,205.4 146.9,206.2 148.1,207.1 149.2,208.0 150.3,208.9 151.5,209.8 152.6,210.6 153.8,211.5 154.9,212.4 156.1,213.3 157.2,214.1 158.3,215.0 159.5,215.9 160.6,216.7 161.8,217.6 162.9,218.4 164.0,219.2 165.2,220.1 166.3,220.9 167.5,221.7 168.6,222.5 169.8,223.3 170.9,224.0 172.0,224.8 173.2,225.6 174.3,226.3 175.5,227.0 176.6,227.7 177.7,228.4 178.9,229.1 180.0,229.8 181.2,230.5 182.3,231.1 183.5,231.8 184.6,232.4 185.7,233.0 186.9,233.6 188.0,234.2 189.2,234.7 190.3,235.3" fill="none" stroke="#e8422a" stroke-width="1.0"/><rect x="53.8" y="163.3" width="4.4" height="4.4" fill="none" stroke="#e8422a" stroke-width="1.15" /><rect x="76.2" y="165.0" width="4.4" height="4.4" fill="none" stroke="#e8422a" stroke-width="1.15" /><rect x="98.6" y="180.5" width="4.4" height="4.4" fill="none" stroke="#e8422a" stroke-width="1.15" /><rect x="121.0" y="186.5" width="4.4" height="4.4" fill="none" stroke="#e8422a" stroke-width="1.15" /><rect x="143.3" y="201.8" width="4.4" height="4.4" fill="none" stroke="#e8422a" stroke-width="1.15" /><rect x="165.7" y="220.1" width="4.4" height="4.4" fill="none" stroke="#e8422a" stroke-width="1.15" /><rect x="188.1" y="233.3" width="4.4" height="4.4" fill="none" stroke="#e8422a" stroke-width="1.15" /><text x="261.2" y="150.8" font-size="7.1" text-anchor="start" fill="#000" text-decoration="underline">IC50 (nM)</text><rect x="206.1" y="157.1" width="4.2" height="4.2" fill="none" stroke="#e8422a" stroke-width="1.15" /><text x="213.2" y="162.0" font-size="8.6" text-anchor="start" fill="#000" >Tuc-VHL</text><text x="270.2" y="162.0" font-size="7.0" text-anchor="start" fill="#000" >135</text><rect x="206.1" y="171.2" width="4.2" height="4.2" fill="none" stroke="#111" stroke-width="1.15" /><text x="213.2" y="176.1" font-size="8.6" text-anchor="start" fill="#000" >Tuc-VHL<tspan font-size="5.2" dy="1.8">inactive</tspan></text><text x="270.2" y="176.1" font-size="7.0" text-anchor="start" fill="#000" >776</text><circle cx="208.2" cy="187.4" r="2.1" fill="none" stroke="#e8422a" stroke-width="1.15"/><text x="213.2" y="190.2" font-size="8.6" text-anchor="start" fill="#000" >Lap-VHL</text><text x="270.2" y="190.2" font-size="7.0" text-anchor="start" fill="#000" >391</text><circle cx="208.2" cy="201.5" r="2.1" fill="none" stroke="#111" stroke-width="1.15"/><text x="213.2" y="204.3" font-size="8.6" text-anchor="start" fill="#000" >Lap-VHL<tspan font-size="5.2" dy="1.8">inactive</tspan></text><text x="270.2" y="204.3" font-size="7.0" text-anchor="start" fill="#000" >2320</text><path d="M195.6,198.7 H197.6 V228.8 H195.6" fill="none" stroke="#111" stroke-width="0.8"/><path d="M200.4,210.0 H202.4 V236.0 H200.4" fill="none" stroke="#111" stroke-width="0.8"/><path d="M190.50,213.65L190.50,217.15M192.02,214.53L188.98,216.28M192.02,216.28L188.98,214.53" stroke="#111" stroke-width="1.35" stroke-linecap="round" fill="none"/><path d="M194.50,213.65L194.50,217.15M196.02,214.53L192.98,216.28M196.02,216.28L192.98,214.53" stroke="#111" stroke-width="1.35" stroke-linecap="round" fill="none"/><path d="M207.50,221.15L207.50,224.65M209.02,222.03L205.98,223.78M209.02,223.78L205.98,222.03" stroke="#111" stroke-width="1.35" stroke-linecap="round" fill="none"/><path d="M211.50,221.15L211.50,224.65M213.02,222.03L209.98,223.78M213.02,223.78L209.98,222.03" stroke="#111" stroke-width="1.35" stroke-linecap="round" fill="none"/><path d="M215.50,221.15L215.50,224.65M217.02,222.03L213.98,223.78M217.02,223.78L213.98,222.03" stroke="#111" stroke-width="1.35" stroke-linecap="round" fill="none"/><text x="345.5" y="137.5" font-size="12" text-anchor="start" fill="#000" >D</text><line x1="394.8" y1="156.3" x2="394.8" y2="250.7" stroke="#111" stroke-width="1.2" /><line x1="394.2" y1="250.1" x2="535.8" y2="250.1" stroke="#111" stroke-width="1.2" /><line x1="390.8" y1="250.1" x2="394.8" y2="250.1" stroke="#111" stroke-width="1" /><text x="389.3" y="252.5" font-size="6.9" text-anchor="end" fill="#000" >0</text><line x1="390.8" y1="207.4" x2="394.8" y2="207.4" stroke="#111" stroke-width="1" /><text x="389.3" y="209.8" font-size="6.9" text-anchor="end" fill="#000" >50</text><line x1="390.8" y1="164.8" x2="394.8" y2="164.8" stroke="#111" stroke-width="1" /><text x="389.3" y="167.2" font-size="6.9" text-anchor="end" fill="#000" >100</text><line x1="394.8" y1="250.1" x2="394.8" y2="252.9" stroke="#111" stroke-width="1" /><text x="394.8" y="262.3" font-size="7.0" text-anchor="middle" fill="#000" >1</text><line x1="441.8" y1="250.1" x2="441.8" y2="252.9" stroke="#111" stroke-width="1" /><text x="441.8" y="262.3" font-size="7.0" text-anchor="middle" fill="#000" >10</text><line x1="488.8" y1="250.1" x2="488.8" y2="252.9" stroke="#111" stroke-width="1" /><text x="488.8" y="262.3" font-size="7.0" text-anchor="middle" fill="#000" >100</text><line x1="535.8" y1="250.1" x2="535.8" y2="252.9" stroke="#111" stroke-width="1" /><text x="535.8" y="262.3" font-size="7.0" text-anchor="middle" fill="#000" >1000</text><text x="465.4" y="272.9" font-size="7.5" text-anchor="middle" fill="#000" >Dose (nM)</text><text x="0.0" y="0.0" font-size="7.0" text-anchor="middle" fill="#000" transform="translate(375.3,208.3) rotate(-90)">RLU (% control)</text><text x="466.4" y="148.2" font-size="9.2" text-anchor="middle" fill="#000" >SKOV3</text><line x1="394.8" y1="152.8" x2="538.8" y2="152.8" stroke="#111" stroke-width="1.0" /><polyline points="398.5,166.6 399.7,166.7 400.8,166.7 402.0,166.7 403.1,166.7 404.2,166.8 405.4,166.8 406.5,166.9 407.7,166.9 408.8,166.9 410.0,167.0 411.1,167.0 412.2,167.1 413.4,167.1 414.5,167.2 415.7,167.3 416.8,167.3 418.0,167.4 419.1,167.4 420.3,167.5 421.4,167.6 422.5,167.7 423.7,167.7 424.8,167.8 426.0,167.9 427.1,168.0 428.3,168.1 429.4,168.2 430.6,168.3 431.7,168.4 432.8,168.5 434.0,168.6 435.1,168.7 436.3,168.9 437.4,169.0 438.6,169.1 439.7,169.3 440.8,169.4 442.0,169.6 443.1,169.7 444.3,169.9 445.4,170.1 446.6,170.2 447.7,170.4 448.9,170.6 450.0,170.8 451.1,171.0 452.3,171.3 453.4,171.5 454.6,171.7 455.7,172.0 456.9,172.2 458.0,172.5 459.2,172.7 460.3,173.0 461.4,173.3 462.6,173.6 463.7,173.9 464.9,174.2 466.0,174.5 467.2,174.9 468.3,175.2 469.4,175.6 470.6,175.9 471.7,176.3 472.9,176.7 474.0,177.1 475.2,177.5 476.3,177.9 477.5,178.3 478.6,178.7 479.7,179.2 480.9,179.6 482.0,180.1 483.2,180.6 484.3,181.0 485.5,181.5 486.6,182.0 487.8,182.5 488.9,183.0 490.0,183.5 491.2,184.0 492.3,184.5 493.5,185.0 494.6,185.6 495.8,186.1 496.9,186.6 498.0,187.2 499.2,187.7 500.3,188.2 501.5,188.8 502.6,189.3 503.8,189.8 504.9,190.4 506.1,190.9 507.2,191.4 508.3,191.9 509.5,192.5 510.6,193.0 511.8,193.5 512.9,194.0 514.1,194.5 515.2,195.0 516.4,195.5 517.5,195.9 518.6,196.4 519.8,196.9 520.9,197.3 522.1,197.8 523.2,198.2 524.4,198.6 525.5,199.1 526.6,199.5 527.8,199.9 528.9,200.3 530.1,200.6 531.2,201.0 532.4,201.4 533.5,201.7 534.7,202.1 535.8,202.4" fill="none" stroke="#e8422a" stroke-width="1.0"/><circle cx="401.3" cy="165.7" r="2.2" fill="none" stroke="#e8422a" stroke-width="1.15"/><circle cx="423.7" cy="169.1" r="2.2" fill="none" stroke="#e8422a" stroke-width="1.15"/><circle cx="446.1" cy="169.9" r="2.2" fill="none" stroke="#e8422a" stroke-width="1.15"/><circle cx="468.5" cy="175.5" r="2.2" fill="none" stroke="#e8422a" stroke-width="1.15"/><circle cx="491.0" cy="183.1" r="2.2" fill="none" stroke="#e8422a" stroke-width="1.15"/><circle cx="513.4" cy="194.9" r="2.2" fill="none" stroke="#e8422a" stroke-width="1.15"/><circle cx="535.8" cy="202.2" r="2.2" fill="none" stroke="#e8422a" stroke-width="1.15"/><polyline points="398.5,167.6 399.7,167.6 400.8,167.7 402.0,167.7 403.1,167.8 404.2,167.9 405.4,167.9 406.5,168.0 407.7,168.0 408.8,168.1 410.0,168.2 411.1,168.2 412.2,168.3 413.4,168.4 414.5,168.4 415.7,168.5 416.8,168.6 418.0,168.7 419.1,168.8 420.3,168.8 421.4,168.9 422.5,169.0 423.7,169.1 424.8,169.2 426.0,169.3 427.1,169.4 428.3,169.4 429.4,169.5 430.6,169.6 431.7,169.7 432.8,169.8 434.0,169.9 435.1,170.0 436.3,170.1 437.4,170.2 438.6,170.3 439.7,170.5 440.8,170.6 442.0,170.7 443.1,170.8 444.3,170.9 445.4,171.0 446.6,171.1 447.7,171.2 448.9,171.4 450.0,171.5 451.1,171.6 452.3,171.7 453.4,171.8 454.6,171.9 455.7,172.1 456.9,172.2 458.0,172.3 459.2,172.4 460.3,172.5 461.4,172.7 462.6,172.8 463.7,172.9 464.9,173.0 466.0,173.2 467.2,173.3 468.3,173.4 469.4,173.5 470.6,173.6 471.7,173.8 472.9,173.9 474.0,174.0 475.2,174.1 476.3,174.2 477.5,174.3 478.6,174.4 479.7,174.6 480.9,174.7 482.0,174.8 483.2,174.9 484.3,175.0 485.5,175.1 486.6,175.2 487.8,175.3 488.9,175.4 490.0,175.5 491.2,175.6 492.3,175.7 493.5,175.8 494.6,175.9 495.8,176.0 496.9,176.1 498.0,176.2 499.2,176.3 500.3,176.4 501.5,176.4 502.6,176.5 503.8,176.6 504.9,176.7 506.1,176.8 507.2,176.8 508.3,176.9 509.5,177.0 510.6,177.1 511.8,177.1 512.9,177.2 514.1,177.3 515.2,177.3 516.4,177.4 517.5,177.5 518.6,177.5 519.8,177.6 520.9,177.6 522.1,177.7 523.2,177.7 524.4,177.8 525.5,177.8 526.6,177.9 527.8,177.9 528.9,178.0 530.1,178.0 531.2,178.1 532.4,178.1 533.5,178.2 534.7,178.2 535.8,178.2" fill="none" stroke="#111" stroke-width="1.0"/><circle cx="401.3" cy="167.7" r="2.2" fill="none" stroke="#111" stroke-width="1.15"/><circle cx="423.7" cy="169.1" r="2.2" fill="none" stroke="#111" stroke-width="1.15"/><circle cx="446.1" cy="171.2" r="2.2" fill="none" stroke="#111" stroke-width="1.15"/><circle cx="468.5" cy="173.5" r="2.2" fill="none" stroke="#111" stroke-width="1.15"/><circle cx="491.0" cy="175.0" r="2.2" fill="none" stroke="#111" stroke-width="1.15"/><circle cx="513.4" cy="177.9" r="2.2" fill="none" stroke="#111" stroke-width="1.15"/><circle cx="535.8" cy="177.9" r="2.2" fill="none" stroke="#111" stroke-width="1.15"/><polyline points="398.5,164.6 399.7,164.6 400.8,164.6 402.0,164.6 403.1,164.6 404.2,164.6 405.4,164.6 406.5,164.6 407.7,164.6 408.8,164.6 410.0,164.6 411.1,164.6 412.2,164.6 413.4,164.6 414.5,164.6 415.7,164.6 416.8,164.6 418.0,164.6 419.1,164.6 420.3,164.6 421.4,164.6 422.5,164.6 423.7,164.6 424.8,164.6 426.0,164.6 427.1,164.6 428.3,164.6 429.4,164.6 430.6,164.6 431.7,164.6 432.8,164.6 434.0,164.6 435.1,164.6 436.3,164.6 437.4,164.6 438.6,164.6 439.7,164.6 440.8,164.6 442.0,164.6 443.1,164.6 444.3,164.6 445.4,164.6 446.6,164.6 447.7,164.6 448.9,164.6 450.0,164.6 451.1,164.6 452.3,164.6 453.4,164.6 454.6,164.6 455.7,164.6 456.9,164.6 458.0,164.6 459.2,164.7 460.3,164.7 461.4,164.7 462.6,164.7 463.7,164.7 464.9,164.7 466.0,164.7 467.2,164.7 468.3,164.7 469.4,164.7 470.6,164.8 471.7,164.8 472.9,164.8 474.0,164.8 475.2,164.9 476.3,164.9 477.5,164.9 478.6,164.9 479.7,165.0 480.9,165.0 482.0,165.1 483.2,165.1 484.3,165.2 485.5,165.3 486.6,165.3 487.8,165.4 488.9,165.5 490.0,165.6 491.2,165.7 492.3,165.8 493.5,166.0 494.6,166.1 495.8,166.3 496.9,166.4 498.0,166.6 499.2,166.8 500.3,167.0 501.5,167.2 502.6,167.4 503.8,167.7 504.9,167.9 506.1,168.2 507.2,168.4 508.3,168.7 509.5,169.0 510.6,169.2 511.8,169.5 512.9,169.8 514.1,170.1 515.2,170.3 516.4,170.6 517.5,170.9 518.6,171.1 519.8,171.3 520.9,171.6 522.1,171.8 523.2,172.0 524.4,172.2 525.5,172.4 526.6,172.5 527.8,172.7 528.9,172.8 530.1,173.0 531.2,173.1 532.4,173.2 533.5,173.3 534.7,173.4 535.8,173.5" fill="none" stroke="#111" stroke-width="1.0"/><rect x="399.1" y="162.6" width="4.4" height="4.4" fill="none" stroke="#111" stroke-width="1.15" /><rect x="421.5" y="162.2" width="4.4" height="4.4" fill="none" stroke="#111" stroke-width="1.15" /><rect x="443.9" y="163.0" width="4.4" height="4.4" fill="none" stroke="#111" stroke-width="1.15" /><rect x="466.3" y="162.6" width="4.4" height="4.4" fill="none" stroke="#111" stroke-width="1.15" /><rect x="488.8" y="163.5" width="4.4" height="4.4" fill="none" stroke="#111" stroke-width="1.15" /><rect x="511.2" y="167.7" width="4.4" height="4.4" fill="none" stroke="#111" stroke-width="1.15" /><rect x="533.6" y="171.3" width="4.4" height="4.4" fill="none" stroke="#111" stroke-width="1.15" /><polyline points="398.5,164.8 399.7,164.8 400.8,164.8 402.0,164.8 403.1,164.8 404.2,164.8 405.4,164.9 406.5,164.9 407.7,164.9 408.8,164.9 410.0,164.9 411.1,164.9 412.2,164.9 413.4,164.9 414.5,165.0 415.7,165.0 416.8,165.0 418.0,165.0 419.1,165.0 420.3,165.1 421.4,165.1 422.5,165.1 423.7,165.2 424.8,165.2 426.0,165.2 427.1,165.3 428.3,165.3 429.4,165.4 430.6,165.4 431.7,165.4 432.8,165.5 434.0,165.6 435.1,165.6 436.3,165.7 437.4,165.8 438.6,165.8 439.7,165.9 440.8,166.0 442.0,166.1 443.1,166.2 444.3,166.3 445.4,166.5 446.6,166.6 447.7,166.7 448.9,166.9 450.0,167.0 451.1,167.2 452.3,167.3 453.4,167.5 454.6,167.7 455.7,167.9 456.9,168.2 458.0,168.4 459.2,168.7 460.3,168.9 461.4,169.2 462.6,169.5 463.7,169.8 464.9,170.2 466.0,170.5 467.2,170.9 468.3,171.3 469.4,171.7 470.6,172.1 471.7,172.5 472.9,173.0 474.0,173.5 475.2,174.0 476.3,174.5 477.5,175.1 478.6,175.6 479.7,176.2 480.9,176.8 482.0,177.4 483.2,178.0 484.3,178.6 485.5,179.3 486.6,179.9 487.8,180.6 488.9,181.2 490.0,181.9 491.2,182.6 492.3,183.2 493.5,183.9 494.6,184.6 495.8,185.2 496.9,185.9 498.0,186.5 499.2,187.2 500.3,187.8 501.5,188.4 502.6,189.0 503.8,189.6 504.9,190.2 506.1,190.7 507.2,191.3 508.3,191.8 509.5,192.3 510.6,192.7 511.8,193.2 512.9,193.6 514.1,194.1 515.2,194.5 516.4,194.9 517.5,195.2 518.6,195.6 519.8,195.9 520.9,196.2 522.1,196.5 523.2,196.8 524.4,197.1 525.5,197.3 526.6,197.5 527.8,197.8 528.9,198.0 530.1,198.2 531.2,198.4 532.4,198.5 533.5,198.7 534.7,198.9 535.8,199.0" fill="none" stroke="#e8422a" stroke-width="1.0"/><rect x="399.1" y="162.0" width="4.4" height="4.4" fill="none" stroke="#e8422a" stroke-width="1.15" /><rect x="421.5" y="163.5" width="4.4" height="4.4" fill="none" stroke="#e8422a" stroke-width="1.15" /><rect x="443.9" y="164.6" width="4.4" height="4.4" fill="none" stroke="#e8422a" stroke-width="1.15" /><rect x="466.3" y="169.0" width="4.4" height="4.4" fill="none" stroke="#e8422a" stroke-width="1.15" /><rect x="488.8" y="180.2" width="4.4" height="4.4" fill="none" stroke="#e8422a" stroke-width="1.15" /><rect x="511.2" y="191.8" width="4.4" height="4.4" fill="none" stroke="#e8422a" stroke-width="1.15" /><rect x="533.6" y="196.7" width="4.4" height="4.4" fill="none" stroke="#e8422a" stroke-width="1.15" /><text x="623.5" y="150.8" font-size="7.1" text-anchor="start" fill="#000" text-decoration="underline">IC50 (nM)</text><rect x="565.7" y="157.3" width="3.8" height="3.8" fill="none" stroke="#e8422a" stroke-width="0.95" /><text x="574.4" y="162.0" font-size="7.9" text-anchor="start" fill="#000" >Tuc-VHL</text><text x="632.5" y="162.0" font-size="7.0" text-anchor="start" fill="#000" >1490</text><rect x="565.7" y="171.4" width="3.8" height="3.8" fill="none" stroke="#111" stroke-width="0.95" /><text x="574.4" y="176.1" font-size="7.9" text-anchor="start" fill="#000" >Tuc-VHL<tspan font-size="5.2" dy="1.8">inactive</tspan></text><text x="632.5" y="176.1" font-size="7.0" text-anchor="start" fill="#000" >NA</text><circle cx="567.6" cy="187.4" r="1.9" fill="none" stroke="#e8422a" stroke-width="0.95"/><text x="574.4" y="190.2" font-size="7.9" text-anchor="start" fill="#000" >Lap-VHL</text><text x="632.5" y="190.2" font-size="7.0" text-anchor="start" fill="#000" >1380</text><circle cx="567.6" cy="201.5" r="1.9" fill="none" stroke="#111" stroke-width="0.95"/><text x="574.4" y="204.3" font-size="7.9" text-anchor="start" fill="#000" >Lap-VHL<tspan font-size="5.2" dy="1.8">inactive</tspan></text><text x="632.5" y="204.3" font-size="7.0" text-anchor="start" fill="#000" >NA</text><path d="M538.8,174.5 H540.8 V198.4 H538.8" fill="none" stroke="#111" stroke-width="0.8"/><path d="M544.6,178.0 H546.6 V202.8 H544.6" fill="none" stroke="#111" stroke-width="0.8"/><path d="M524.30,185.35L524.30,188.85M525.82,186.23L522.78,187.98M525.82,187.98L522.78,186.23" stroke="#111" stroke-width="1.35" stroke-linecap="round" fill="none"/><path d="M528.30,185.35L528.30,188.85M529.82,186.23L526.78,187.98M529.82,187.98L526.78,186.23" stroke="#111" stroke-width="1.35" stroke-linecap="round" fill="none"/><path d="M532.30,185.35L532.30,188.85M533.82,186.23L530.78,187.98M533.82,187.98L530.78,186.23" stroke="#111" stroke-width="1.35" stroke-linecap="round" fill="none"/><path d="M536.30,185.35L536.30,188.85M537.82,186.23L534.78,187.98M537.82,187.98L534.78,186.23" stroke="#111" stroke-width="1.35" stroke-linecap="round" fill="none"/><path d="M551.20,188.75L551.20,192.25M552.72,189.62L549.68,191.38M552.72,191.38L549.68,189.62" stroke="#111" stroke-width="1.35" stroke-linecap="round" fill="none"/><path d="M555.20,188.75L555.20,192.25M556.72,189.62L553.68,191.38M556.72,191.38L553.68,189.62" stroke="#111" stroke-width="1.35" stroke-linecap="round" fill="none"/><text x="7.8" y="282.0" font-size="12" text-anchor="start" fill="#000" >E</text><text x="345.5" y="281.9" font-size="12" text-anchor="start" fill="#000" >F</text><clipPath id="c00"><rect x="39.5" y="303.8" width="68.6" height="70.1"/></clipPath><g clip-path="url(#c00)"><rect x="39.5" y="303.8" width="68.6" height="70.1" fill="#000" stroke="none" stroke-width="1" /><circle cx="36.0" cy="299.8" r="1.7" fill="rgb(3,10,0)" stroke="rgb(9,31,2)" stroke-width="0.75"/><circle cx="42.4" cy="299.5" r="1.9" fill="rgb(3,10,0)" stroke="rgb(9,33,2)" stroke-width="0.75"/><circle cx="47.4" cy="300.4" r="1.9" fill="rgb(1,5,0)" stroke="rgb(5,18,1)" stroke-width="0.75"/><circle cx="51.4" cy="300.8" r="1.8" fill="rgb(3,10,0)" stroke="rgb(9,32,2)" stroke-width="0.75"/><circle cx="56.7" cy="300.6" r="2.4" fill="rgb(3,10,0)" stroke="rgb(9,33,2)" stroke-width="0.75"/><circle cx="62.2" cy="299.6" r="2.0" fill="rgb(2,8,0)" stroke="rgb(8,27,2)" stroke-width="0.75"/><circle cx="68.7" cy="301.8" r="2.2" fill="rgb(2,8,0)" stroke="rgb(8,27,2)" stroke-width="0.75"/><circle cx="73.2" cy="300.0" r="2.1" fill="rgb(3,11,1)" stroke="rgb(10,34,2)" stroke-width="0.75"/><circle cx="80.1" cy="302.1" r="1.8" fill="rgb(3,10,1)" stroke="rgb(10,33,2)" stroke-width="0.75"/><circle cx="85.3" cy="300.5" r="1.9" fill="rgb(2,6,0)" stroke="rgb(6,21,1)" stroke-width="0.75"/><circle cx="91.9" cy="299.4" r="1.9" fill="rgb(3,11,1)" stroke="rgb(10,36,2)" stroke-width="0.75"/><circle cx="97.0" cy="300.2" r="1.7" fill="rgb(3,10,0)" stroke="rgb(9,32,2)" stroke-width="0.75"/><circle cx="100.2" cy="299.7" r="1.9" fill="rgb(1,6,0)" stroke="rgb(5,19,1)" stroke-width="0.75"/><circle cx="106.1" cy="301.7" r="2.2" fill="rgb(3,11,1)" stroke="rgb(10,34,2)" stroke-width="0.75"/><circle cx="111.1" cy="301.0" r="1.9" fill="rgb(3,10,1)" stroke="rgb(10,33,2)" stroke-width="0.75"/><circle cx="39.6" cy="305.1" r="2.0" fill="rgb(2,9,0)" stroke="rgb(8,28,2)" stroke-width="0.75"/><circle cx="44.7" cy="304.2" r="1.8" fill="rgb(2,8,0)" stroke="rgb(8,27,2)" stroke-width="0.75"/><circle cx="48.7" cy="304.6" r="1.8" fill="rgb(3,11,1)" stroke="rgb(10,36,2)" stroke-width="0.75"/><circle cx="55.9" cy="305.3" r="2.4" fill="rgb(3,12,1)" stroke="rgb(11,38,3)" stroke-width="0.75"/><circle cx="60.2" cy="305.8" r="2.0" fill="rgb(1,5,0)" stroke="rgb(5,17,1)" stroke-width="0.75"/><circle cx="66.1" cy="304.9" r="2.4" fill="rgb(3,11,1)" stroke="rgb(10,35,2)" stroke-width="0.75"/><circle cx="72.5" cy="306.1" r="1.9" fill="rgb(2,9,0)" stroke="rgb(8,28,2)" stroke-width="0.75"/><circle cx="76.2" cy="305.7" r="2.4" fill="rgb(2,7,0)" stroke="rgb(6,23,1)" stroke-width="0.75"/><circle cx="82.5" cy="306.6" r="2.1" fill="rgb(2,7,0)" stroke="rgb(7,24,1)" stroke-width="0.75"/><circle cx="88.5" cy="304.9" r="2.1" fill="rgb(2,7,0)" stroke="rgb(6,23,1)" stroke-width="0.75"/><circle cx="94.6" cy="304.4" r="1.8" fill="rgb(4,14,1)" stroke="rgb(13,44,3)" stroke-width="0.75"/><circle cx="98.4" cy="306.3" r="2.1" fill="rgb(4,13,1)" stroke="rgb(12,41,3)" stroke-width="0.75"/><circle cx="103.0" cy="305.5" r="2.2" fill="rgb(4,13,1)" stroke="rgb(12,42,3)" stroke-width="0.75"/><circle cx="108.0" cy="306.0" r="2.3" fill="rgb(2,7,0)" stroke="rgb(7,24,1)" stroke-width="0.75"/><circle cx="115.6" cy="305.7" r="1.7" fill="rgb(2,9,0)" stroke="rgb(8,29,2)" stroke-width="0.75"/><circle cx="37.6" cy="309.6" r="2.0" fill="rgb(1,5,0)" stroke="rgb(4,16,1)" stroke-width="0.75"/><circle cx="42.5" cy="310.5" r="1.9" fill="rgb(2,8,0)" stroke="rgb(7,26,2)" stroke-width="0.75"/><circle cx="47.5" cy="310.1" r="1.9" fill="rgb(1,6,0)" stroke="rgb(5,19,1)" stroke-width="0.75"/><circle cx="53.7" cy="311.5" r="2.3" fill="rgb(2,7,0)" stroke="rgb(7,23,1)" stroke-width="0.75"/><circle cx="58.0" cy="310.7" r="2.2" fill="rgb(1,5,0)" stroke="rgb(5,16,1)" stroke-width="0.75"/><circle cx="62.2" cy="310.8" r="1.8" fill="rgb(3,11,1)" stroke="rgb(10,36,2)" stroke-width="0.75"/><circle cx="69.3" cy="311.7" r="2.2" fill="rgb(4,12,1)" stroke="rgb(12,40,3)" stroke-width="0.75"/><circle cx="75.3" cy="309.5" r="1.9" fill="rgb(4,13,1)" stroke="rgb(12,41,3)" stroke-width="0.75"/><circle cx="79.4" cy="310.7" r="2.0" fill="rgb(2,9,0)" stroke="rgb(8,29,2)" stroke-width="0.75"/><circle cx="83.7" cy="310.1" r="2.1" fill="rgb(4,15,1)" stroke="rgb(14,47,3)" stroke-width="0.75"/><circle cx="89.5" cy="309.0" r="2.0" fill="rgb(3,9,0)" stroke="rgb(9,30,2)" stroke-width="0.75"/><circle cx="94.6" cy="311.0" r="1.7" fill="rgb(2,9,0)" stroke="rgb(8,29,2)" stroke-width="0.75"/><circle cx="100.2" cy="309.4" r="2.3" fill="rgb(2,7,0)" stroke="rgb(7,23,1)" stroke-width="0.75"/><circle cx="106.4" cy="311.3" r="2.4" fill="rgb(2,8,0)" stroke="rgb(8,27,2)" stroke-width="0.75"/><circle cx="110.8" cy="310.0" r="1.9" fill="rgb(2,8,0)" stroke="rgb(7,25,2)" stroke-width="0.75"/><circle cx="39.3" cy="316.0" r="1.8" fill="rgb(2,8,0)" stroke="rgb(8,28,2)" stroke-width="0.75"/><circle cx="45.6" cy="316.0" r="2.4" fill="rgb(2,8,0)" stroke="rgb(7,25,2)" stroke-width="0.75"/><circle cx="49.3" cy="314.6" r="2.3" fill="rgb(3,11,1)" stroke="rgb(10,36,2)" stroke-width="0.75"/><circle cx="55.0" cy="316.0" r="2.3" fill="rgb(3,10,0)" stroke="rgb(9,31,2)" stroke-width="0.75"/><circle cx="62.2" cy="313.8" r="2.1" fill="rgb(3,12,1)" stroke="rgb(11,39,3)" stroke-width="0.75"/><circle cx="65.2" cy="314.1" r="1.7" fill="rgb(3,11,1)" stroke="rgb(10,34,2)" stroke-width="0.75"/><circle cx="70.8" cy="314.8" r="2.0" fill="rgb(3,11,1)" stroke="rgb(11,37,2)" stroke-width="0.75"/><circle cx="77.3" cy="314.2" r="2.2" fill="rgb(4,12,1)" stroke="rgb(12,40,3)" stroke-width="0.75"/><circle cx="80.9" cy="314.7" r="1.7" fill="rgb(2,9,0)" stroke="rgb(8,29,2)" stroke-width="0.75"/><circle cx="87.4" cy="315.1" r="1.8" fill="rgb(5,16,1)" stroke="rgb(15,51,4)" stroke-width="0.75"/><circle cx="94.6" cy="315.5" r="1.9" fill="rgb(3,12,1)" stroke="rgb(11,38,3)" stroke-width="0.75"/><circle cx="98.6" cy="315.2" r="2.2" fill="rgb(3,10,0)" stroke="rgb(9,32,2)" stroke-width="0.75"/><circle cx="104.5" cy="313.6" r="1.9" fill="rgb(4,15,1)" stroke="rgb(14,49,3)" stroke-width="0.75"/><circle cx="110.6" cy="315.7" r="1.9" fill="rgb(3,12,1)" stroke="rgb(11,37,3)" stroke-width="0.75"/><circle cx="115.9" cy="315.8" r="2.0" fill="rgb(3,10,0)" stroke="rgb(9,32,2)" stroke-width="0.75"/><circle cx="36.2" cy="319.3" r="1.8" fill="rgb(2,6,0)" stroke="rgb(6,20,1)" stroke-width="0.75"/><circle cx="40.7" cy="320.0" r="2.3" fill="rgb(2,6,0)" stroke="rgb(6,21,1)" stroke-width="0.75"/><circle cx="46.0" cy="318.3" r="1.9" fill="rgb(2,8,0)" stroke="rgb(8,27,2)" stroke-width="0.75"/><circle cx="51.8" cy="318.6" r="2.4" fill="rgb(3,12,1)" stroke="rgb(11,37,3)" stroke-width="0.75"/><circle cx="57.6" cy="318.2" r="1.8" fill="rgb(2,8,0)" stroke="rgb(8,27,2)" stroke-width="0.75"/><circle cx="62.0" cy="318.5" r="1.8" fill="rgb(2,7,0)" stroke="rgb(6,22,1)" stroke-width="0.75"/><circle cx="67.7" cy="319.2" r="1.8" fill="rgb(2,8,0)" stroke="rgb(8,27,2)" stroke-width="0.75"/><circle cx="80.0" cy="318.5" r="1.9" fill="rgb(2,9,0)" stroke="rgb(8,29,2)" stroke-width="0.75"/><circle cx="84.4" cy="319.1" r="2.3" fill="rgb(4,13,1)" stroke="rgb(12,41,3)" stroke-width="0.75"/><circle cx="90.1" cy="318.5" r="2.0" fill="rgb(4,15,1)" stroke="rgb(14,49,3)" stroke-width="0.75"/><circle cx="96.9" cy="321.1" r="2.1" fill="rgb(3,12,1)" stroke="rgb(11,39,3)" stroke-width="0.75"/><circle cx="101.2" cy="319.5" r="1.9" fill="rgb(3,11,1)" stroke="rgb(10,35,2)" stroke-width="0.75"/><circle cx="105.5" cy="318.4" r="1.9" fill="rgb(2,7,0)" stroke="rgb(7,23,1)" stroke-width="0.75"/><circle cx="111.6" cy="318.9" r="1.8" fill="rgb(4,14,1)" stroke="rgb(13,46,3)" stroke-width="0.75"/><circle cx="40.2" cy="323.3" r="2.1" fill="rgb(2,8,0)" stroke="rgb(8,27,2)" stroke-width="0.75"/><circle cx="43.2" cy="325.6" r="1.9" fill="rgb(3,11,1)" stroke="rgb(10,36,2)" stroke-width="0.75"/><circle cx="50.1" cy="323.2" r="1.9" fill="rgb(2,7,0)" stroke="rgb(6,23,1)" stroke-width="0.75"/><circle cx="55.5" cy="322.9" r="2.0" fill="rgb(2,8,0)" stroke="rgb(8,26,2)" stroke-width="0.75"/><circle cx="60.9" cy="325.7" r="2.3" fill="rgb(4,13,1)" stroke="rgb(13,43,3)" stroke-width="0.75"/><circle cx="67.3" cy="324.9" r="1.7" fill="rgb(4,14,1)" stroke="rgb(13,44,3)" stroke-width="0.75"/><circle cx="76.0" cy="325.1" r="2.2" fill="rgb(2,7,0)" stroke="rgb(7,24,1)" stroke-width="0.75"/><circle cx="82.5" cy="325.1" r="2.0" fill="rgb(5,18,1)" stroke="rgb(17,57,4)" stroke-width="0.75"/><circle cx="87.3" cy="323.5" r="1.7" fill="rgb(4,14,1)" stroke="rgb(14,46,3)" stroke-width="0.75"/><circle cx="94.1" cy="325.7" r="2.3" fill="rgb(4,13,1)" stroke="rgb(12,40,3)" stroke-width="0.75"/><circle cx="99.7" cy="325.2" r="2.3" fill="rgb(5,17,1)" stroke="rgb(16,53,4)" stroke-width="0.75"/><circle cx="105.0" cy="325.0" r="1.9" fill="rgb(5,17,1)" stroke="rgb(16,53,4)" stroke-width="0.75"/><circle cx="108.6" cy="324.3" r="1.8" fill="rgb(2,7,0)" stroke="rgb(7,24,1)" stroke-width="0.75"/><circle cx="114.4" cy="322.9" r="2.2" fill="rgb(3,10,0)" stroke="rgb(9,33,2)" stroke-width="0.75"/><circle cx="35.1" cy="328.3" r="2.2" fill="rgb(3,12,1)" stroke="rgb(11,37,3)" stroke-width="0.75"/><circle cx="41.2" cy="329.6" r="2.2" fill="rgb(3,10,0)" stroke="rgb(9,31,2)" stroke-width="0.75"/><circle cx="59.5" cy="328.6" r="2.1" fill="rgb(3,10,0)" stroke="rgb(9,31,2)" stroke-width="0.75"/><circle cx="62.7" cy="328.2" r="2.2" fill="rgb(2,6,0)" stroke="rgb(6,21,1)" stroke-width="0.75"/><circle cx="68.0" cy="328.1" r="2.3" fill="rgb(2,9,0)" stroke="rgb(8,29,2)" stroke-width="0.75"/><circle cx="74.7" cy="330.2" r="1.9" fill="rgb(5,16,1)" stroke="rgb(15,50,4)" stroke-width="0.75"/><circle cx="80.7" cy="328.9" r="1.9" fill="rgb(3,10,0)" stroke="rgb(9,32,2)" stroke-width="0.75"/><circle cx="85.6" cy="329.9" r="2.2" fill="rgb(5,17,1)" stroke="rgb(16,53,4)" stroke-width="0.75"/><circle cx="89.3" cy="329.5" r="1.7" fill="rgb(3,10,0)" stroke="rgb(9,32,2)" stroke-width="0.75"/><circle cx="97.1" cy="329.8" r="2.1" fill="rgb(4,14,1)" stroke="rgb(13,45,3)" stroke-width="0.75"/><circle cx="102.1" cy="328.9" r="1.9" fill="rgb(3,11,1)" stroke="rgb(11,37,2)" stroke-width="0.75"/><circle cx="105.7" cy="329.9" r="1.7" fill="rgb(4,13,1)" stroke="rgb(12,41,3)" stroke-width="0.75"/><circle cx="111.6" cy="329.9" r="2.0" fill="rgb(2,9,0)" stroke="rgb(8,28,2)" stroke-width="0.75"/><circle cx="40.6" cy="333.4" r="2.2" fill="rgb(3,12,1)" stroke="rgb(11,38,3)" stroke-width="0.75"/><circle cx="44.3" cy="335.0" r="2.0" fill="rgb(3,12,1)" stroke="rgb(11,38,3)" stroke-width="0.75"/><circle cx="62.0" cy="334.6" r="1.9" fill="rgb(3,9,0)" stroke="rgb(9,31,2)" stroke-width="0.75"/><circle cx="65.1" cy="334.7" r="2.2" fill="rgb(5,18,1)" stroke="rgb(17,59,4)" stroke-width="0.75"/><circle cx="73.0" cy="334.2" r="1.7" fill="rgb(4,13,1)" stroke="rgb(12,42,3)" stroke-width="0.75"/><circle cx="76.6" cy="333.8" r="2.2" fill="rgb(5,16,1)" stroke="rgb(15,51,4)" stroke-width="0.75"/><circle cx="81.3" cy="332.2" r="1.9" fill="rgb(4,15,1)" stroke="rgb(14,47,3)" stroke-width="0.75"/><circle cx="89.2" cy="334.1" r="2.3" fill="rgb(5,18,1)" stroke="rgb(17,58,4)" stroke-width="0.75"/><circle cx="93.3" cy="335.0" r="1.7" fill="rgb(3,12,1)" stroke="rgb(11,38,3)" stroke-width="0.75"/><circle cx="98.4" cy="334.8" r="2.0" fill="rgb(3,12,1)" stroke="rgb(11,38,3)" stroke-width="0.75"/><circle cx="105.0" cy="332.8" r="1.8" fill="rgb(4,14,1)" stroke="rgb(13,44,3)" stroke-width="0.75"/><circle cx="108.7" cy="333.1" r="2.2" fill="rgb(4,14,1)" stroke="rgb(13,44,3)" stroke-width="0.75"/><circle cx="114.0" cy="333.9" r="1.8" fill="rgb(3,10,0)" stroke="rgb(9,32,2)" stroke-width="0.75"/><circle cx="35.8" cy="338.1" r="1.9" fill="rgb(3,12,1)" stroke="rgb(11,38,3)" stroke-width="0.75"/><circle cx="40.8" cy="339.6" r="1.9" fill="rgb(3,11,1)" stroke="rgb(10,36,2)" stroke-width="0.75"/><circle cx="46.9" cy="338.3" r="2.2" fill="rgb(2,7,0)" stroke="rgb(7,23,1)" stroke-width="0.75"/><circle cx="53.0" cy="339.6" r="2.4" fill="rgb(2,9,0)" stroke="rgb(8,29,2)" stroke-width="0.75"/><circle cx="57.9" cy="339.6" r="1.8" fill="rgb(4,12,1)" stroke="rgb(12,40,3)" stroke-width="0.75"/><circle cx="63.5" cy="338.5" r="2.0" fill="rgb(3,11,1)" stroke="rgb(10,36,2)" stroke-width="0.75"/><circle cx="69.0" cy="336.9" r="2.4" fill="rgb(5,18,1)" stroke="rgb(17,58,4)" stroke-width="0.75"/><circle cx="74.1" cy="337.4" r="2.0" fill="rgb(4,13,1)" stroke="rgb(12,40,3)" stroke-width="0.75"/><circle cx="78.2" cy="339.3" r="2.4" fill="rgb(4,15,1)" stroke="rgb(14,48,3)" stroke-width="0.75"/><circle cx="84.1" cy="338.3" r="1.7" fill="rgb(4,13,1)" stroke="rgb(12,42,3)" stroke-width="0.75"/><circle cx="91.2" cy="338.6" r="2.0" fill="rgb(3,11,1)" stroke="rgb(10,34,2)" stroke-width="0.75"/><circle cx="95.4" cy="338.4" r="2.3" fill="rgb(6,20,1)" stroke="rgb(19,64,5)" stroke-width="0.75"/><circle cx="101.5" cy="339.2" r="2.4" fill="rgb(4,15,1)" stroke="rgb(14,49,3)" stroke-width="0.75"/><circle cx="105.5" cy="338.6" r="1.9" fill="rgb(5,16,1)" stroke="rgb(15,50,4)" stroke-width="0.75"/><circle cx="111.3" cy="337.7" r="2.4" fill="rgb(2,7,0)" stroke="rgb(7,24,1)" stroke-width="0.75"/><circle cx="40.0" cy="343.1" r="1.7" fill="rgb(3,11,1)" stroke="rgb(10,34,2)" stroke-width="0.75"/><circle cx="44.8" cy="343.9" r="2.0" fill="rgb(3,11,1)" stroke="rgb(10,34,2)" stroke-width="0.75"/><circle cx="51.2" cy="342.9" r="1.9" fill="rgb(3,10,0)" stroke="rgb(9,31,2)" stroke-width="0.75"/><circle cx="55.7" cy="343.1" r="1.7" fill="rgb(3,9,0)" stroke="rgb(9,30,2)" stroke-width="0.75"/><circle cx="60.8" cy="343.7" r="1.9" fill="rgb(4,13,1)" stroke="rgb(12,41,3)" stroke-width="0.75"/><circle cx="66.1" cy="343.2" r="1.8" fill="rgb(8,25,2)" stroke="rgb(24,81,6)" stroke-width="0.75"/><circle cx="71.5" cy="344.4" r="1.8" fill="rgb(9,30,2)" stroke="rgb(28,96,7)" stroke-width="0.75"/><circle cx="77.6" cy="344.2" r="2.3" fill="rgb(6,20,1)" stroke="rgb(19,64,5)" stroke-width="0.75"/><circle cx="83.7" cy="342.4" r="2.0" fill="rgb(8,27,2)" stroke="rgb(25,84,6)" stroke-width="0.75"/><circle cx="88.0" cy="344.4" r="2.0" fill="rgb(4,13,1)" stroke="rgb(12,40,3)" stroke-width="0.75"/><circle cx="94.2" cy="342.0" r="2.3" fill="rgb(4,14,1)" stroke="rgb(13,46,3)" stroke-width="0.75"/><circle cx="97.5" cy="342.9" r="2.0" fill="rgb(3,11,1)" stroke="rgb(10,35,2)" stroke-width="0.75"/><circle cx="102.7" cy="342.3" r="1.7" fill="rgb(5,16,1)" stroke="rgb(15,52,4)" stroke-width="0.75"/><circle cx="108.1" cy="343.6" r="2.3" fill="rgb(3,10,0)" stroke="rgb(9,31,2)" stroke-width="0.75"/><circle cx="115.7" cy="344.3" r="1.7" fill="rgb(3,11,1)" stroke="rgb(11,36,2)" stroke-width="0.75"/><circle cx="35.5" cy="348.4" r="1.7" fill="rgb(1,5,0)" stroke="rgb(5,17,1)" stroke-width="0.75"/><circle cx="42.4" cy="346.7" r="1.9" fill="rgb(4,12,1)" stroke="rgb(12,40,3)" stroke-width="0.75"/><circle cx="48.4" cy="349.2" r="2.3" fill="rgb(4,14,1)" stroke="rgb(13,44,3)" stroke-width="0.75"/><circle cx="51.9" cy="349.1" r="1.9" fill="rgb(3,11,1)" stroke="rgb(11,36,2)" stroke-width="0.75"/><circle cx="57.8" cy="347.7" r="2.1" fill="rgb(7,23,2)" stroke="rgb(21,71,5)" stroke-width="0.75"/><circle cx="65.0" cy="348.8" r="2.2" fill="rgb(5,17,1)" stroke="rgb(16,56,4)" stroke-width="0.75"/><circle cx="67.9" cy="347.6" r="1.9" fill="rgb(6,19,1)" stroke="rgb(18,60,4)" stroke-width="0.75"/><circle cx="74.3" cy="347.3" r="2.2" fill="rgb(4,14,1)" stroke="rgb(14,46,3)" stroke-width="0.75"/><circle cx="78.8" cy="347.2" r="2.1" fill="rgb(10,33,3)" stroke="rgb(31,105,8)" stroke-width="0.75"/><circle cx="85.8" cy="346.3" r="1.7" fill="rgb(9,30,2)" stroke="rgb(28,95,7)" stroke-width="0.75"/><circle cx="90.7" cy="347.6" r="2.0" fill="rgb(4,15,1)" stroke="rgb(14,48,3)" stroke-width="0.75"/><circle cx="94.5" cy="347.3" r="2.4" fill="rgb(7,23,2)" stroke="rgb(22,73,5)" stroke-width="0.75"/><circle cx="101.7" cy="347.8" r="1.9" fill="rgb(3,11,1)" stroke="rgb(11,37,2)" stroke-width="0.75"/><circle cx="105.4" cy="349.2" r="2.0" fill="rgb(3,10,1)" stroke="rgb(10,34,2)" stroke-width="0.75"/><circle cx="113.0" cy="349.2" r="1.8" fill="rgb(4,13,1)" stroke="rgb(12,41,3)" stroke-width="0.75"/><circle cx="38.0" cy="351.8" r="2.2" fill="rgb(3,11,1)" stroke="rgb(10,36,2)" stroke-width="0.75"/><circle cx="43.2" cy="353.3" r="2.2" fill="rgb(4,13,1)" stroke="rgb(12,41,3)" stroke-width="0.75"/><circle cx="49.3" cy="351.4" r="1.9" fill="rgb(4,14,1)" stroke="rgb(13,43,3)" stroke-width="0.75"/><circle cx="55.2" cy="353.7" r="2.0" fill="rgb(5,16,1)" stroke="rgb(15,50,4)" stroke-width="0.75"/><circle cx="61.8" cy="351.8" r="1.8" fill="rgb(8,27,2)" stroke="rgb(26,86,6)" stroke-width="0.75"/><circle cx="65.1" cy="353.7" r="2.2" fill="rgb(6,19,1)" stroke="rgb(18,61,4)" stroke-width="0.75"/><circle cx="71.8" cy="353.1" r="1.7" fill="rgb(6,21,2)" stroke="rgb(20,68,5)" stroke-width="0.75"/><circle cx="75.8" cy="351.2" r="2.1" fill="rgb(5,16,1)" stroke="rgb(15,52,4)" stroke-width="0.75"/><circle cx="83.0" cy="352.3" r="2.4" fill="rgb(6,21,2)" stroke="rgb(20,68,5)" stroke-width="0.75"/><circle cx="86.5" cy="353.8" r="2.4" fill="rgb(9,30,2)" stroke="rgb(28,96,7)" stroke-width="0.75"/><circle cx="93.6" cy="353.4" r="1.8" fill="rgb(4,14,1)" stroke="rgb(13,45,3)" stroke-width="0.75"/><circle cx="97.4" cy="353.5" r="2.0" fill="rgb(3,10,0)" stroke="rgb(9,32,2)" stroke-width="0.75"/><circle cx="102.7" cy="353.6" r="2.0" fill="rgb(4,14,1)" stroke="rgb(13,45,3)" stroke-width="0.75"/><circle cx="109.3" cy="352.0" r="2.0" fill="rgb(2,8,0)" stroke="rgb(7,25,2)" stroke-width="0.75"/><circle cx="115.0" cy="353.8" r="2.2" fill="rgb(3,10,0)" stroke="rgb(9,32,2)" stroke-width="0.75"/><circle cx="35.8" cy="356.1" r="2.3" fill="rgb(3,11,1)" stroke="rgb(10,34,2)" stroke-width="0.75"/><circle cx="42.0" cy="356.4" r="1.8" fill="rgb(3,11,1)" stroke="rgb(10,36,2)" stroke-width="0.75"/><circle cx="46.1" cy="356.2" r="1.9" fill="rgb(4,15,1)" stroke="rgb(14,48,3)" stroke-width="0.75"/><circle cx="51.4" cy="356.3" r="2.0" fill="rgb(5,17,1)" stroke="rgb(16,54,4)" stroke-width="0.75"/><circle cx="57.5" cy="356.6" r="1.8" fill="rgb(8,27,2)" stroke="rgb(26,86,6)" stroke-width="0.75"/><circle cx="64.3" cy="356.5" r="1.9" fill="rgb(6,21,2)" stroke="rgb(20,68,5)" stroke-width="0.75"/><circle cx="68.9" cy="356.2" r="2.3" fill="rgb(6,20,1)" stroke="rgb(19,63,5)" stroke-width="0.75"/><circle cx="73.8" cy="355.7" r="1.9" fill="rgb(9,29,2)" stroke="rgb(27,93,7)" stroke-width="0.75"/><circle cx="79.0" cy="355.7" r="2.4" fill="rgb(7,24,2)" stroke="rgb(23,77,6)" stroke-width="0.75"/><circle cx="85.8" cy="357.3" r="1.9" fill="rgb(7,23,2)" stroke="rgb(22,73,5)" stroke-width="0.75"/><circle cx="89.6" cy="357.1" r="2.2" fill="rgb(8,26,2)" stroke="rgb(24,81,6)" stroke-width="0.75"/><circle cx="97.2" cy="356.0" r="1.8" fill="rgb(6,21,2)" stroke="rgb(20,67,5)" stroke-width="0.75"/><circle cx="102.3" cy="357.0" r="2.3" fill="rgb(3,12,1)" stroke="rgb(11,38,3)" stroke-width="0.75"/><circle cx="106.7" cy="358.2" r="2.3" fill="rgb(4,13,1)" stroke="rgb(12,42,3)" stroke-width="0.75"/><circle cx="111.8" cy="357.2" r="1.9" fill="rgb(1,6,0)" stroke="rgb(5,19,1)" stroke-width="0.75"/><circle cx="39.8" cy="363.3" r="1.8" fill="rgb(2,6,0)" stroke="rgb(6,21,1)" stroke-width="0.75"/><circle cx="44.1" cy="362.9" r="2.1" fill="rgb(4,15,1)" stroke="rgb(14,49,3)" stroke-width="0.75"/><circle cx="50.6" cy="362.3" r="2.0" fill="rgb(7,23,2)" stroke="rgb(21,72,5)" stroke-width="0.75"/><circle cx="55.1" cy="361.4" r="2.0" fill="rgb(9,29,2)" stroke="rgb(27,92,7)" stroke-width="0.75"/><circle cx="59.5" cy="360.8" r="2.2" fill="rgb(6,21,2)" stroke="rgb(20,68,5)" stroke-width="0.75"/><circle cx="64.9" cy="362.6" r="1.8" fill="rgb(12,39,3)" stroke="rgb(36,122,9)" stroke-width="0.75"/><circle cx="70.9" cy="360.9" r="2.1" fill="rgb(9,30,2)" stroke="rgb(28,94,7)" stroke-width="0.75"/><circle cx="75.8" cy="362.9" r="2.0" fill="rgb(6,19,1)" stroke="rgb(18,61,4)" stroke-width="0.75"/><circle cx="83.5" cy="362.4" r="1.8" fill="rgb(5,16,1)" stroke="rgb(15,50,4)" stroke-width="0.75"/><circle cx="87.1" cy="361.1" r="2.1" fill="rgb(5,16,1)" stroke="rgb(15,53,4)" stroke-width="0.75"/><circle cx="92.6" cy="361.8" r="1.8" fill="rgb(6,19,1)" stroke="rgb(18,60,4)" stroke-width="0.75"/><circle cx="97.6" cy="361.7" r="1.9" fill="rgb(2,8,0)" stroke="rgb(8,26,2)" stroke-width="0.75"/><circle cx="103.3" cy="363.3" r="1.8" fill="rgb(4,12,1)" stroke="rgb(12,40,3)" stroke-width="0.75"/><circle cx="110.8" cy="362.0" r="1.8" fill="rgb(2,8,0)" stroke="rgb(7,25,2)" stroke-width="0.75"/><circle cx="114.0" cy="363.3" r="2.1" fill="rgb(3,11,1)" stroke="rgb(10,36,2)" stroke-width="0.75"/><circle cx="35.9" cy="366.1" r="1.8" fill="rgb(1,5,0)" stroke="rgb(5,18,1)" stroke-width="0.75"/><circle cx="40.4" cy="366.2" r="2.1" fill="rgb(2,9,0)" stroke="rgb(8,28,2)" stroke-width="0.75"/><circle cx="47.2" cy="366.6" r="1.8" fill="rgb(4,14,1)" stroke="rgb(13,46,3)" stroke-width="0.75"/><circle cx="51.8" cy="366.6" r="2.2" fill="rgb(4,12,1)" stroke="rgb(12,40,3)" stroke-width="0.75"/><circle cx="56.6" cy="365.9" r="1.9" fill="rgb(6,21,2)" stroke="rgb(20,67,5)" stroke-width="0.75"/><circle cx="62.3" cy="366.3" r="2.4" fill="rgb(6,22,2)" stroke="rgb(20,69,5)" stroke-width="0.75"/><circle cx="67.5" cy="365.1" r="2.1" fill="rgb(7,22,2)" stroke="rgb(21,71,5)" stroke-width="0.75"/><circle cx="73.7" cy="365.8" r="2.0" fill="rgb(6,21,1)" stroke="rgb(19,66,5)" stroke-width="0.75"/><circle cx="80.0" cy="366.7" r="2.4" fill="rgb(8,27,2)" stroke="rgb(25,86,6)" stroke-width="0.75"/><circle cx="85.9" cy="367.0" r="1.8" fill="rgb(5,16,1)" stroke="rgb(15,51,4)" stroke-width="0.75"/><circle cx="91.1" cy="367.7" r="1.8" fill="rgb(5,18,1)" stroke="rgb(17,57,4)" stroke-width="0.75"/><circle cx="95.6" cy="366.1" r="2.3" fill="rgb(2,8,0)" stroke="rgb(7,26,2)" stroke-width="0.75"/><circle cx="102.8" cy="365.5" r="2.3" fill="rgb(3,10,0)" stroke="rgb(9,32,2)" stroke-width="0.75"/><circle cx="107.4" cy="367.0" r="2.3" fill="rgb(2,9,0)" stroke="rgb(8,28,2)" stroke-width="0.75"/><circle cx="110.7" cy="367.6" r="1.8" fill="rgb(2,9,0)" stroke="rgb(8,28,2)" stroke-width="0.75"/><circle cx="40.4" cy="371.7" r="2.1" fill="rgb(1,5,0)" stroke="rgb(5,18,1)" stroke-width="0.75"/><circle cx="45.3" cy="372.2" r="2.3" fill="rgb(3,11,1)" stroke="rgb(11,37,2)" stroke-width="0.75"/><circle cx="48.9" cy="371.3" r="2.1" fill="rgb(2,8,0)" stroke="rgb(8,26,2)" stroke-width="0.75"/><circle cx="55.4" cy="372.3" r="2.1" fill="rgb(4,15,1)" stroke="rgb(14,47,3)" stroke-width="0.75"/><circle cx="61.7" cy="372.2" r="1.9" fill="rgb(4,14,1)" stroke="rgb(13,43,3)" stroke-width="0.75"/><circle cx="66.5" cy="372.4" r="2.3" fill="rgb(6,19,1)" stroke="rgb(18,61,4)" stroke-width="0.75"/><circle cx="72.1" cy="371.8" r="2.0" fill="rgb(4,12,1)" stroke="rgb(12,40,3)" stroke-width="0.75"/><circle cx="76.2" cy="369.9" r="2.4" fill="rgb(7,24,2)" stroke="rgb(23,76,6)" stroke-width="0.75"/><circle cx="81.3" cy="370.9" r="1.8" fill="rgb(4,13,1)" stroke="rgb(12,41,3)" stroke-width="0.75"/><circle cx="86.6" cy="372.3" r="2.4" fill="rgb(6,20,1)" stroke="rgb(19,64,5)" stroke-width="0.75"/><circle cx="93.4" cy="371.7" r="1.7" fill="rgb(4,12,1)" stroke="rgb(12,40,3)" stroke-width="0.75"/><circle cx="99.0" cy="371.8" r="2.0" fill="rgb(4,15,1)" stroke="rgb(14,47,3)" stroke-width="0.75"/><circle cx="104.0" cy="369.8" r="2.1" fill="rgb(4,13,1)" stroke="rgb(12,42,3)" stroke-width="0.75"/><circle cx="110.3" cy="372.0" r="1.8" fill="rgb(3,11,1)" stroke="rgb(11,36,2)" stroke-width="0.75"/><circle cx="114.8" cy="371.4" r="1.9" fill="rgb(3,11,1)" stroke="rgb(10,34,2)" stroke-width="0.75"/></g><clipPath id="c01"><rect x="39.5" y="375.0" width="68.6" height="69.9"/></clipPath><g clip-path="url(#c01)"><rect x="39.5" y="375.0" width="68.6" height="69.9" fill="#000" stroke="none" stroke-width="1" /><g fill="#1d4a4c" stroke="#48c4cc" stroke-width="0.7"><circle cx="36.2" cy="373.0" r="2.8"/><circle cx="43.6" cy="371.1" r="3.2"/><circle cx="48.1" cy="371.7" r="3.1"/><circle cx="55.2" cy="371.7" r="3.1"/><circle cx="60.2" cy="371.3" r="2.9"/><circle cx="68.1" cy="373.1" r="3.0"/><circle cx="80.6" cy="370.7" r="3.1"/><circle cx="87.0" cy="370.9" r="3.0"/><circle cx="92.6" cy="372.1" r="2.9"/><circle cx="98.9" cy="371.5" r="3.0"/><circle cx="104.5" cy="372.2" r="3.1"/><circle cx="110.7" cy="372.4" r="2.7"/><circle cx="117.0" cy="371.8" r="3.1"/><circle cx="38.3" cy="377.7" r="2.9"/><circle cx="45.8" cy="376.7" r="2.6"/><circle cx="52.7" cy="378.2" r="2.7"/><circle cx="58.1" cy="376.5" r="3.3"/><circle cx="69.6" cy="377.2" r="2.7"/><circle cx="75.7" cy="377.2" r="3.0"/><circle cx="83.0" cy="376.1" r="3.0"/><circle cx="89.6" cy="376.2" r="3.2"/><circle cx="96.1" cy="378.2" r="2.9"/><circle cx="101.6" cy="376.1" r="2.7"/><circle cx="107.8" cy="377.1" r="2.9"/><circle cx="115.3" cy="376.4" r="2.7"/><circle cx="121.2" cy="378.8" r="2.8"/><circle cx="41.8" cy="384.1" r="2.9"/><circle cx="56.3" cy="381.9" r="2.9"/><circle cx="62.1" cy="384.0" r="2.8"/><circle cx="66.3" cy="382.4" r="2.8"/><circle cx="74.4" cy="381.8" r="3.3"/><circle cx="81.0" cy="382.2" r="2.8"/><circle cx="87.0" cy="381.8" r="2.9"/><circle cx="92.3" cy="384.0" r="2.7"/><circle cx="97.7" cy="382.1" r="3.2"/><circle cx="104.7" cy="382.3" r="2.9"/><circle cx="109.6" cy="381.9" r="2.8"/><circle cx="116.2" cy="384.0" r="2.8"/><circle cx="50.9" cy="388.3" r="3.2"/><circle cx="58.6" cy="387.8" r="2.9"/><circle cx="65.4" cy="388.3" r="3.0"/><circle cx="75.7" cy="389.6" r="2.8"/><circle cx="83.4" cy="387.9" r="2.8"/><circle cx="90.0" cy="387.5" r="2.8"/><circle cx="96.8" cy="388.4" r="2.7"/><circle cx="107.6" cy="387.3" r="2.8"/><circle cx="114.7" cy="386.9" r="2.8"/><circle cx="121.1" cy="387.5" r="2.9"/><circle cx="36.9" cy="394.9" r="3.1"/><circle cx="42.9" cy="394.0" r="3.3"/><circle cx="48.4" cy="392.2" r="2.6"/><circle cx="53.8" cy="392.6" r="3.2"/><circle cx="61.6" cy="393.4" r="2.7"/><circle cx="80.3" cy="392.2" r="3.0"/><circle cx="104.9" cy="392.7" r="3.1"/><circle cx="111.2" cy="393.5" r="2.7"/><circle cx="38.9" cy="398.0" r="3.1"/><circle cx="44.7" cy="399.4" r="2.7"/><circle cx="53.0" cy="399.8" r="3.2"/><circle cx="63.0" cy="399.4" r="3.0"/><circle cx="77.2" cy="398.8" r="3.1"/><circle cx="84.2" cy="399.6" r="3.2"/><circle cx="88.5" cy="400.1" r="2.7"/><circle cx="94.1" cy="399.1" r="3.0"/><circle cx="106.6" cy="399.8" r="2.9"/><circle cx="112.6" cy="399.1" r="3.0"/><circle cx="121.4" cy="398.0" r="2.8"/><circle cx="42.7" cy="404.8" r="2.6"/><circle cx="49.8" cy="403.5" r="2.7"/><circle cx="54.6" cy="403.8" r="2.9"/><circle cx="60.0" cy="405.5" r="3.2"/><circle cx="72.3" cy="405.3" r="2.9"/><circle cx="80.6" cy="404.3" r="3.1"/><circle cx="86.8" cy="404.2" r="2.9"/><circle cx="91.5" cy="403.3" r="3.3"/><circle cx="104.2" cy="405.1" r="3.0"/><circle cx="117.7" cy="403.7" r="3.1"/><circle cx="39.8" cy="409.6" r="2.8"/><circle cx="46.6" cy="409.8" r="3.0"/><circle cx="51.3" cy="410.2" r="3.2"/><circle cx="65.5" cy="408.4" r="3.0"/><circle cx="69.9" cy="409.0" r="3.2"/><circle cx="77.5" cy="411.0" r="2.9"/><circle cx="83.7" cy="409.3" r="3.1"/><circle cx="90.3" cy="409.3" r="2.9"/><circle cx="94.7" cy="410.9" r="3.0"/><circle cx="102.0" cy="410.3" r="2.8"/><circle cx="108.3" cy="411.1" r="2.9"/><circle cx="113.9" cy="410.7" r="2.8"/><circle cx="120.8" cy="410.8" r="3.3"/><circle cx="36.3" cy="415.8" r="3.2"/><circle cx="42.9" cy="414.6" r="2.8"/><circle cx="48.1" cy="415.5" r="3.0"/><circle cx="60.3" cy="413.8" r="3.1"/><circle cx="73.3" cy="414.1" r="3.2"/><circle cx="86.6" cy="415.5" r="2.6"/><circle cx="92.9" cy="415.8" r="2.6"/><circle cx="97.3" cy="415.4" r="3.2"/><circle cx="104.3" cy="416.0" r="3.1"/><circle cx="111.8" cy="416.2" r="3.2"/><circle cx="115.9" cy="416.2" r="3.0"/><circle cx="40.8" cy="421.8" r="3.1"/><circle cx="44.7" cy="419.7" r="3.1"/><circle cx="59.2" cy="421.4" r="3.1"/><circle cx="64.8" cy="421.5" r="3.1"/><circle cx="83.7" cy="419.7" r="2.6"/><circle cx="88.7" cy="420.3" r="3.2"/><circle cx="94.1" cy="419.9" r="2.9"/><circle cx="101.0" cy="421.2" r="3.2"/><circle cx="107.4" cy="420.0" r="2.8"/><circle cx="115.3" cy="420.6" r="2.9"/><circle cx="121.2" cy="420.9" r="2.9"/><circle cx="35.2" cy="425.7" r="3.3"/><circle cx="48.5" cy="426.5" r="2.6"/><circle cx="62.3" cy="424.8" r="3.0"/><circle cx="68.4" cy="425.0" r="2.9"/><circle cx="80.6" cy="427.3" r="3.0"/><circle cx="84.7" cy="425.9" r="3.3"/><circle cx="97.6" cy="425.9" r="2.9"/><circle cx="110.2" cy="427.2" r="2.7"/><circle cx="50.8" cy="432.1" r="2.7"/><circle cx="58.8" cy="432.1" r="2.7"/><circle cx="64.8" cy="430.9" r="2.7"/><circle cx="77.9" cy="430.2" r="2.8"/><circle cx="84.1" cy="430.0" r="2.7"/><circle cx="101.3" cy="432.4" r="3.1"/><circle cx="107.1" cy="431.2" r="3.1"/><circle cx="120.9" cy="431.7" r="3.1"/><circle cx="36.1" cy="436.2" r="3.3"/><circle cx="41.7" cy="437.7" r="3.3"/><circle cx="49.4" cy="437.4" r="2.6"/><circle cx="62.1" cy="436.9" r="3.2"/><circle cx="74.8" cy="436.0" r="3.1"/><circle cx="86.7" cy="437.7" r="2.9"/><circle cx="97.8" cy="436.2" r="3.0"/><circle cx="104.8" cy="435.8" r="3.1"/><circle cx="118.4" cy="437.4" r="2.9"/><circle cx="38.5" cy="443.4" r="3.0"/><circle cx="53.4" cy="442.9" r="2.9"/><circle cx="58.9" cy="441.9" r="3.3"/><circle cx="63.5" cy="442.5" r="3.0"/><circle cx="69.5" cy="441.3" r="2.6"/><circle cx="76.5" cy="440.8" r="3.1"/><circle cx="82.7" cy="442.9" r="2.8"/><circle cx="89.7" cy="442.1" r="3.3"/><circle cx="95.8" cy="442.0" r="3.0"/><circle cx="100.6" cy="442.4" r="2.9"/><circle cx="107.5" cy="442.8" r="2.9"/><circle cx="115.1" cy="441.9" r="3.0"/><circle cx="120.4" cy="442.8" r="3.2"/></g><g fill="#b03636" stroke="#702424" stroke-width="0.4"><circle cx="36.2" cy="373.0" r="1.4"/><circle cx="43.6" cy="371.1" r="1.6"/><circle cx="48.1" cy="371.7" r="1.6"/><circle cx="55.2" cy="371.7" r="1.6"/><circle cx="60.2" cy="371.3" r="1.5"/><circle cx="68.1" cy="373.1" r="1.5"/><circle cx="80.6" cy="370.7" r="1.6"/><circle cx="87.0" cy="370.9" r="1.5"/><circle cx="92.6" cy="372.1" r="1.4"/><circle cx="98.9" cy="371.5" r="1.5"/><circle cx="104.5" cy="372.2" r="1.6"/><circle cx="110.7" cy="372.4" r="1.4"/><circle cx="117.0" cy="371.8" r="1.6"/><circle cx="38.3" cy="377.7" r="1.5"/><circle cx="45.8" cy="376.7" r="1.3"/><circle cx="52.7" cy="378.2" r="1.3"/><circle cx="58.1" cy="376.5" r="1.7"/><circle cx="69.6" cy="377.2" r="1.3"/><circle cx="75.7" cy="377.2" r="1.5"/><circle cx="83.0" cy="376.1" r="1.5"/><circle cx="89.6" cy="376.2" r="1.6"/><circle cx="96.1" cy="378.2" r="1.4"/><circle cx="101.6" cy="376.1" r="1.4"/><circle cx="107.8" cy="377.1" r="1.4"/><circle cx="115.3" cy="376.4" r="1.3"/><circle cx="121.2" cy="378.8" r="1.4"/><circle cx="41.8" cy="384.1" r="1.4"/><circle cx="56.3" cy="381.9" r="1.4"/><circle cx="62.1" cy="384.0" r="1.4"/><circle cx="66.3" cy="382.4" r="1.4"/><circle cx="74.4" cy="381.8" r="1.7"/><circle cx="81.0" cy="382.2" r="1.4"/><circle cx="87.0" cy="381.8" r="1.4"/><circle cx="92.3" cy="384.0" r="1.3"/><circle cx="97.7" cy="382.1" r="1.6"/><circle cx="104.7" cy="382.3" r="1.5"/><circle cx="109.6" cy="381.9" r="1.4"/><circle cx="116.2" cy="384.0" r="1.4"/><circle cx="50.9" cy="388.3" r="1.6"/><circle cx="58.6" cy="387.8" r="1.5"/><circle cx="65.4" cy="388.3" r="1.5"/><circle cx="75.7" cy="389.6" r="1.4"/><circle cx="83.4" cy="387.9" r="1.4"/><circle cx="90.0" cy="387.5" r="1.4"/><circle cx="96.8" cy="388.4" r="1.4"/><circle cx="107.6" cy="387.3" r="1.4"/><circle cx="114.7" cy="386.9" r="1.4"/><circle cx="121.1" cy="387.5" r="1.4"/><circle cx="36.9" cy="394.9" r="1.5"/><circle cx="42.9" cy="394.0" r="1.7"/><circle cx="48.4" cy="392.2" r="1.3"/><circle cx="53.8" cy="392.6" r="1.6"/><circle cx="61.6" cy="393.4" r="1.3"/><circle cx="80.3" cy="392.2" r="1.5"/><circle cx="104.9" cy="392.7" r="1.5"/><circle cx="111.2" cy="393.5" r="1.3"/><circle cx="38.9" cy="398.0" r="1.6"/><circle cx="44.7" cy="399.4" r="1.3"/><circle cx="53.0" cy="399.8" r="1.6"/><circle cx="63.0" cy="399.4" r="1.5"/><circle cx="77.2" cy="398.8" r="1.5"/><circle cx="84.2" cy="399.6" r="1.6"/><circle cx="88.5" cy="400.1" r="1.4"/><circle cx="94.1" cy="399.1" r="1.5"/><circle cx="106.6" cy="399.8" r="1.5"/><circle cx="112.6" cy="399.1" r="1.5"/><circle cx="121.4" cy="398.0" r="1.4"/><circle cx="42.7" cy="404.8" r="1.3"/><circle cx="49.8" cy="403.5" r="1.3"/><circle cx="54.6" cy="403.8" r="1.5"/><circle cx="60.0" cy="405.5" r="1.6"/><circle cx="72.3" cy="405.3" r="1.5"/><circle cx="80.6" cy="404.3" r="1.5"/><circle cx="86.8" cy="404.2" r="1.4"/><circle cx="91.5" cy="403.3" r="1.7"/><circle cx="104.2" cy="405.1" r="1.5"/><circle cx="117.7" cy="403.7" r="1.6"/><circle cx="39.8" cy="409.6" r="1.4"/><circle cx="46.6" cy="409.8" r="1.5"/><circle cx="51.3" cy="410.2" r="1.6"/><circle cx="65.5" cy="408.4" r="1.5"/><circle cx="69.9" cy="409.0" r="1.6"/><circle cx="77.5" cy="411.0" r="1.5"/><circle cx="83.7" cy="409.3" r="1.6"/><circle cx="90.3" cy="409.3" r="1.5"/><circle cx="94.7" cy="410.9" r="1.5"/><circle cx="102.0" cy="410.3" r="1.4"/><circle cx="108.3" cy="411.1" r="1.4"/><circle cx="113.9" cy="410.7" r="1.4"/><circle cx="120.8" cy="410.8" r="1.7"/><circle cx="36.3" cy="415.8" r="1.6"/><circle cx="42.9" cy="414.6" r="1.4"/><circle cx="48.1" cy="415.5" r="1.5"/><circle cx="60.3" cy="413.8" r="1.6"/><circle cx="73.3" cy="414.1" r="1.6"/><circle cx="86.6" cy="415.5" r="1.3"/><circle cx="92.9" cy="415.8" r="1.3"/><circle cx="97.3" cy="415.4" r="1.7"/><circle cx="104.3" cy="416.0" r="1.5"/><circle cx="111.8" cy="416.2" r="1.6"/><circle cx="115.9" cy="416.2" r="1.5"/><circle cx="40.8" cy="421.8" r="1.6"/><circle cx="44.7" cy="419.7" r="1.6"/><circle cx="59.2" cy="421.4" r="1.5"/><circle cx="64.8" cy="421.5" r="1.6"/><circle cx="83.7" cy="419.7" r="1.3"/><circle cx="88.7" cy="420.3" r="1.6"/><circle cx="94.1" cy="419.9" r="1.4"/><circle cx="101.0" cy="421.2" r="1.6"/><circle cx="107.4" cy="420.0" r="1.4"/><circle cx="115.3" cy="420.6" r="1.4"/><circle cx="121.2" cy="420.9" r="1.5"/><circle cx="35.2" cy="425.7" r="1.7"/><circle cx="48.5" cy="426.5" r="1.3"/><circle cx="62.3" cy="424.8" r="1.5"/><circle cx="68.4" cy="425.0" r="1.5"/><circle cx="80.6" cy="427.3" r="1.5"/><circle cx="84.7" cy="425.9" r="1.7"/><circle cx="97.6" cy="425.9" r="1.4"/><circle cx="110.2" cy="427.2" r="1.4"/><circle cx="50.8" cy="432.1" r="1.3"/><circle cx="58.8" cy="432.1" r="1.3"/><circle cx="64.8" cy="430.9" r="1.3"/><circle cx="77.9" cy="430.2" r="1.4"/><circle cx="84.1" cy="430.0" r="1.4"/><circle cx="101.3" cy="432.4" r="1.6"/><circle cx="107.1" cy="431.2" r="1.6"/><circle cx="120.9" cy="431.7" r="1.6"/><circle cx="36.1" cy="436.2" r="1.7"/><circle cx="41.7" cy="437.7" r="1.7"/><circle cx="49.4" cy="437.4" r="1.3"/><circle cx="62.1" cy="436.9" r="1.6"/><circle cx="74.8" cy="436.0" r="1.6"/><circle cx="86.7" cy="437.7" r="1.5"/><circle cx="97.8" cy="436.2" r="1.5"/><circle cx="104.8" cy="435.8" r="1.6"/><circle cx="118.4" cy="437.4" r="1.4"/><circle cx="38.5" cy="443.4" r="1.5"/><circle cx="53.4" cy="442.9" r="1.4"/><circle cx="58.9" cy="441.9" r="1.7"/><circle cx="63.5" cy="442.5" r="1.5"/><circle cx="69.5" cy="441.3" r="1.3"/><circle cx="76.5" cy="440.8" r="1.6"/><circle cx="82.7" cy="442.9" r="1.4"/><circle cx="89.7" cy="442.1" r="1.7"/><circle cx="95.8" cy="442.0" r="1.5"/><circle cx="100.6" cy="442.4" r="1.4"/><circle cx="107.5" cy="442.8" r="1.4"/><circle cx="115.1" cy="441.9" r="1.5"/><circle cx="120.4" cy="442.8" r="1.6"/></g></g><clipPath id="c02"><rect x="39.5" y="446.1" width="68.6" height="70.6"/></clipPath><g clip-path="url(#c02)"><rect x="39.5" y="446.1" width="68.6" height="70.6" fill="#000" stroke="none" stroke-width="1" /><circle cx="58.9" cy="446.2" r="0.9" fill="#6c6ae2" opacity="0.7"/><circle cx="79.7" cy="503.7" r="1.2" fill="#6c6ae2" opacity="0.5"/><circle cx="96.7" cy="503.4" r="1.2" fill="#6c6ae2" opacity="0.8"/><circle cx="58.3" cy="506.2" r="1.2" fill="#6c6ae2" opacity="0.8"/><circle cx="102.2" cy="470.6" r="0.8" fill="#6c6ae2" opacity="0.7"/><circle cx="94.2" cy="460.3" r="1.2" fill="#6c6ae2" opacity="0.9"/><circle cx="55.6" cy="488.9" r="1.1" fill="#6c6ae2" opacity="0.7"/><circle cx="53.7" cy="464.1" r="1.2" fill="#6c6ae2" opacity="0.9"/><circle cx="71.0" cy="452.3" r="1.2" fill="#6c6ae2" opacity="0.8"/><circle cx="55.5" cy="487.0" r="1.2" fill="#6c6ae2" opacity="0.9"/><circle cx="75.3" cy="479.7" r="1.1" fill="#6c6ae2" opacity="0.6"/><circle cx="52.7" cy="458.9" r="1.1" fill="#6c6ae2" opacity="0.7"/><circle cx="78.2" cy="474.5" r="1.0" fill="#6c6ae2" opacity="0.6"/><circle cx="42.6" cy="516.5" r="0.9" fill="#6c6ae2" opacity="0.5"/><circle cx="82.9" cy="501.7" r="0.8" fill="#6c6ae2" opacity="0.8"/><circle cx="63.2" cy="482.8" r="0.7" fill="#6c6ae2" opacity="0.5"/><circle cx="107.4" cy="507.2" r="1.0" fill="#6c6ae2" opacity="0.8"/><circle cx="57.4" cy="501.1" r="1.0" fill="#6c6ae2" opacity="0.9"/><circle cx="92.1" cy="503.9" r="1.3" fill="#6c6ae2" opacity="0.6"/><circle cx="42.1" cy="460.3" r="0.8" fill="#6c6ae2" opacity="0.5"/><circle cx="43.0" cy="485.5" r="1.2" fill="#6c6ae2" opacity="0.7"/><circle cx="104.5" cy="510.3" r="0.7" fill="#6c6ae2" opacity="0.8"/><circle cx="66.8" cy="454.6" r="1.3" fill="#6c6ae2" opacity="0.6"/><circle cx="78.2" cy="491.3" r="1.3" fill="#6c6ae2" opacity="0.8"/><circle cx="66.5" cy="477.8" r="0.8" fill="#6c6ae2" opacity="0.9"/><circle cx="107.5" cy="461.8" r="0.7" fill="#6c6ae2" opacity="0.6"/><circle cx="63.6" cy="509.8" r="1.2" fill="#6c6ae2" opacity="0.9"/><circle cx="42.7" cy="501.6" r="1.1" fill="#6c6ae2" opacity="0.8"/><circle cx="107.1" cy="450.0" r="0.8" fill="#6c6ae2" opacity="0.8"/><circle cx="103.9" cy="493.9" r="0.9" fill="#6c6ae2" opacity="0.8"/><circle cx="91.5" cy="453.5" r="0.9" fill="#6c6ae2" opacity="0.6"/><circle cx="48.0" cy="480.1" r="0.8" fill="#6c6ae2" opacity="0.6"/><circle cx="49.3" cy="493.9" r="0.7" fill="#6c6ae2" opacity="0.8"/><circle cx="52.9" cy="448.6" r="1.3" fill="#6c6ae2" opacity="0.6"/><circle cx="103.6" cy="507.3" r="1.2" fill="#6c6ae2" opacity="0.6"/><circle cx="70.2" cy="452.9" r="1.3" fill="#6c6ae2" opacity="0.9"/><circle cx="82.6" cy="478.0" r="0.9" fill="#6c6ae2" opacity="0.9"/><circle cx="72.3" cy="490.4" r="0.8" fill="#6c6ae2" opacity="0.6"/><circle cx="43.4" cy="496.5" r="1.0" fill="#6c6ae2" opacity="0.6"/><circle cx="99.2" cy="464.9" r="0.9" fill="#6c6ae2" opacity="0.6"/><circle cx="58.1" cy="505.4" r="0.9" fill="#6c6ae2" opacity="0.6"/><circle cx="73.2" cy="468.6" r="1.2" fill="#6c6ae2" opacity="0.6"/><circle cx="106.6" cy="450.1" r="1.2" fill="#6c6ae2" opacity="0.8"/><circle cx="54.0" cy="479.8" r="0.9" fill="#6c6ae2" opacity="0.6"/><circle cx="53.3" cy="471.8" r="1.3" fill="#6c6ae2" opacity="0.9"/><circle cx="103.0" cy="453.0" r="0.9" fill="#6c6ae2" opacity="0.9"/><circle cx="43.4" cy="497.4" r="0.9" fill="#6c6ae2" opacity="0.9"/><circle cx="40.6" cy="503.1" r="0.9" fill="#6c6ae2" opacity="0.6"/><circle cx="39.6" cy="504.9" r="1.0" fill="#6c6ae2" opacity="0.6"/><circle cx="69.4" cy="510.5" r="0.8" fill="#6c6ae2" opacity="0.8"/><circle cx="49.0" cy="458.8" r="1.2" fill="#6c6ae2" opacity="0.8"/><circle cx="53.0" cy="451.7" r="0.8" fill="#6c6ae2" opacity="0.8"/><circle cx="73.5" cy="465.4" r="0.8" fill="#6c6ae2" opacity="0.8"/><circle cx="88.1" cy="503.4" r="1.0" fill="#6c6ae2" opacity="0.6"/><circle cx="44.0" cy="497.8" r="0.9" fill="#6c6ae2" opacity="0.8"/><circle cx="43.3" cy="503.3" r="0.9" fill="#6c6ae2" opacity="0.9"/><circle cx="98.8" cy="480.9" r="0.7" fill="#6c6ae2" opacity="0.9"/><circle cx="72.2" cy="507.7" r="0.9" fill="#6c6ae2" opacity="0.6"/><circle cx="96.5" cy="472.0" r="0.8" fill="#6c6ae2" opacity="0.7"/><circle cx="80.3" cy="446.4" r="1.0" fill="#6c6ae2" opacity="0.7"/><circle cx="74.9" cy="454.6" r="1.1" fill="#6c6ae2" opacity="0.9"/><circle cx="98.9" cy="468.8" r="1.1" fill="#6c6ae2" opacity="0.7"/><circle cx="91.0" cy="450.4" r="1.2" fill="#6c6ae2" opacity="0.9"/><circle cx="73.4" cy="482.3" r="1.0" fill="#6c6ae2" opacity="0.7"/><circle cx="40.9" cy="514.4" r="0.8" fill="#6c6ae2" opacity="0.6"/><circle cx="46.5" cy="463.8" r="1.2" fill="#6c6ae2" opacity="0.5"/><circle cx="46.1" cy="495.4" r="0.8" fill="#6c6ae2" opacity="0.5"/><circle cx="80.6" cy="486.8" r="1.0" fill="#6c6ae2" opacity="0.8"/><circle cx="46.6" cy="507.5" r="1.1" fill="#6c6ae2" opacity="0.5"/><circle cx="47.9" cy="480.9" r="1.0" fill="#6c6ae2" opacity="0.6"/><circle cx="47.9" cy="474.7" r="0.8" fill="#6c6ae2" opacity="0.8"/><circle cx="98.6" cy="456.5" r="1.0" fill="#6c6ae2" opacity="0.8"/><circle cx="50.8" cy="504.4" r="1.3" fill="#6c6ae2" opacity="0.7"/><circle cx="68.3" cy="505.4" r="1.0" fill="#6c6ae2" opacity="0.7"/><circle cx="104.1" cy="500.9" r="0.9" fill="#6c6ae2" opacity="0.6"/><circle cx="62.5" cy="476.9" r="1.3" fill="#6c6ae2" opacity="0.9"/><circle cx="102.1" cy="503.6" r="1.2" fill="#6c6ae2" opacity="0.5"/><circle cx="75.0" cy="513.7" r="1.3" fill="#6c6ae2" opacity="0.6"/><circle cx="68.5" cy="490.8" r="0.9" fill="#6c6ae2" opacity="0.7"/><circle cx="44.3" cy="476.7" r="1.0" fill="#6c6ae2" opacity="0.5"/><circle cx="49.1" cy="514.6" r="1.2" fill="#6c6ae2" opacity="0.9"/><circle cx="82.9" cy="503.2" r="1.2" fill="#6c6ae2" opacity="0.9"/><circle cx="41.9" cy="491.4" r="0.9" fill="#6c6ae2" opacity="0.8"/><circle cx="58.3" cy="484.4" r="1.3" fill="#6c6ae2" opacity="0.8"/><circle cx="56.7" cy="482.8" r="1.0" fill="#6c6ae2" opacity="0.9"/><circle cx="59.2" cy="467.7" r="1.1" fill="#6c6ae2" opacity="0.6"/><circle cx="80.3" cy="513.6" r="1.0" fill="#6c6ae2" opacity="0.6"/><circle cx="71.5" cy="483.8" r="0.8" fill="#6c6ae2" opacity="0.6"/><circle cx="48.5" cy="466.8" r="0.9" fill="#6c6ae2" opacity="0.6"/><circle cx="56.2" cy="452.3" r="1.0" fill="#6c6ae2" opacity="0.9"/><circle cx="81.3" cy="486.4" r="1.1" fill="#6c6ae2" opacity="0.6"/><circle cx="88.2" cy="478.6" r="1.0" fill="#6c6ae2" opacity="0.8"/><circle cx="71.7" cy="468.0" r="0.8" fill="#6c6ae2" opacity="0.6"/><circle cx="74.7" cy="473.2" r="1.1" fill="#6c6ae2" opacity="0.5"/><circle cx="63.7" cy="506.9" r="0.8" fill="#6c6ae2" opacity="0.8"/><circle cx="73.2" cy="466.2" r="1.3" fill="#6c6ae2" opacity="0.6"/><circle cx="92.5" cy="457.3" r="0.7" fill="#6c6ae2" opacity="0.9"/><circle cx="69.7" cy="450.5" r="0.9" fill="#6c6ae2" opacity="0.7"/><circle cx="89.9" cy="453.8" r="0.8" fill="#6c6ae2" opacity="0.9"/><circle cx="90.2" cy="457.0" r="0.9" fill="#6c6ae2" opacity="0.7"/><circle cx="85.8" cy="489.6" r="1.2" fill="#6c6ae2" opacity="0.9"/><circle cx="75.0" cy="498.3" r="1.1" fill="#6c6ae2" opacity="0.8"/><circle cx="72.1" cy="501.5" r="1.1" fill="#6c6ae2" opacity="0.9"/><circle cx="48.2" cy="507.6" r="0.7" fill="#6c6ae2" opacity="0.8"/><circle cx="79.7" cy="481.3" r="1.3" fill="#6c6ae2" opacity="0.8"/><circle cx="68.2" cy="501.4" r="1.2" fill="#6c6ae2" opacity="0.8"/><circle cx="65.5" cy="478.0" r="1.0" fill="#6c6ae2" opacity="0.8"/><circle cx="59.6" cy="473.7" r="1.0" fill="#6c6ae2" opacity="0.7"/><circle cx="61.6" cy="501.7" r="1.2" fill="#6c6ae2" opacity="0.7"/><circle cx="70.0" cy="459.1" r="0.9" fill="#6c6ae2" opacity="0.6"/><circle cx="79.0" cy="487.2" r="0.8" fill="#6c6ae2" opacity="0.9"/><circle cx="61.7" cy="505.6" r="1.2" fill="#6c6ae2" opacity="0.9"/><circle cx="53.5" cy="476.2" r="1.2" fill="#6c6ae2" opacity="0.5"/><circle cx="42.8" cy="486.0" r="1.0" fill="#6c6ae2" opacity="0.9"/><circle cx="92.6" cy="484.1" r="1.3" fill="#6c6ae2" opacity="0.7"/><circle cx="75.0" cy="494.5" r="0.9" fill="#6c6ae2" opacity="0.7"/><circle cx="80.3" cy="470.9" r="1.3" fill="#6c6ae2" opacity="0.8"/><circle cx="75.5" cy="453.1" r="0.9" fill="#6c6ae2" opacity="0.7"/><circle cx="78.0" cy="486.6" r="1.2" fill="#6c6ae2" opacity="0.9"/><circle cx="72.9" cy="477.2" r="1.1" fill="#6c6ae2" opacity="0.9"/><circle cx="63.0" cy="483.5" r="1.2" fill="#6c6ae2" opacity="0.6"/><circle cx="61.3" cy="515.2" r="1.2" fill="#6c6ae2" opacity="0.7"/><circle cx="47.1" cy="509.3" r="1.1" fill="#6c6ae2" opacity="0.9"/><circle cx="107.4" cy="508.8" r="1.0" fill="#6c6ae2" opacity="0.6"/><circle cx="59.4" cy="482.2" r="1.0" fill="#6c6ae2" opacity="0.6"/><circle cx="52.0" cy="490.6" r="1.1" fill="#6c6ae2" opacity="0.7"/><circle cx="107.7" cy="491.0" r="0.7" fill="#6c6ae2" opacity="0.7"/><circle cx="93.5" cy="467.8" r="1.1" fill="#6c6ae2" opacity="0.5"/><circle cx="60.4" cy="505.6" r="1.1" fill="#6c6ae2" opacity="0.8"/><circle cx="53.0" cy="481.2" r="1.0" fill="#6c6ae2" opacity="0.6"/><circle cx="83.9" cy="483.6" r="1.3" fill="#6c6ae2" opacity="0.8"/><circle cx="67.7" cy="454.7" r="0.8" fill="#6c6ae2" opacity="0.8"/><circle cx="46.8" cy="453.2" r="0.8" fill="#6c6ae2" opacity="0.7"/><circle cx="96.0" cy="489.4" r="1.2" fill="#6c6ae2" opacity="0.5"/><circle cx="40.4" cy="500.5" r="0.9" fill="#6c6ae2" opacity="0.8"/><circle cx="63.8" cy="458.1" r="0.9" fill="#6c6ae2" opacity="0.5"/><circle cx="101.5" cy="487.2" r="0.9" fill="#6c6ae2" opacity="0.7"/><circle cx="66.0" cy="450.0" r="1.2" fill="#6c6ae2" opacity="0.8"/><circle cx="105.3" cy="477.1" r="1.1" fill="#6c6ae2" opacity="0.6"/><circle cx="42.5" cy="511.8" r="1.2" fill="#6c6ae2" opacity="0.6"/><circle cx="101.2" cy="503.7" r="0.9" fill="#6c6ae2" opacity="0.8"/><circle cx="105.4" cy="481.1" r="1.3" fill="#6c6ae2" opacity="0.6"/><circle cx="66.2" cy="496.8" r="0.8" fill="#6c6ae2" opacity="0.6"/><circle cx="99.5" cy="480.3" r="1.2" fill="#6c6ae2" opacity="0.6"/><circle cx="51.4" cy="471.4" r="0.8" fill="#6c6ae2" opacity="0.9"/><circle cx="59.4" cy="485.7" r="0.8" fill="#6c6ae2" opacity="0.7"/><circle cx="66.0" cy="474.6" r="0.7" fill="#6c6ae2" opacity="0.6"/><circle cx="96.2" cy="470.9" r="0.8" fill="#6c6ae2" opacity="0.6"/><circle cx="59.0" cy="462.8" r="0.7" fill="#6c6ae2" opacity="0.8"/><circle cx="62.9" cy="457.1" r="1.1" fill="#6c6ae2" opacity="0.5"/><circle cx="58.0" cy="505.1" r="0.8" fill="#6c6ae2" opacity="0.7"/><circle cx="96.9" cy="502.9" r="0.8" fill="#6c6ae2" opacity="0.7"/><circle cx="89.1" cy="472.7" r="1.3" fill="#6c6ae2" opacity="0.6"/><circle cx="104.7" cy="481.7" r="0.8" fill="#6c6ae2" opacity="0.7"/><circle cx="48.5" cy="496.0" r="0.9" fill="#6c6ae2" opacity="0.9"/><circle cx="79.8" cy="472.1" r="0.8" fill="#6c6ae2" opacity="0.8"/><circle cx="54.1" cy="507.7" r="0.8" fill="#6c6ae2" opacity="0.7"/><circle cx="76.7" cy="465.2" r="1.2" fill="#6c6ae2" opacity="0.7"/><circle cx="84.6" cy="486.2" r="0.9" fill="#6c6ae2" opacity="0.7"/><circle cx="45.4" cy="458.6" r="1.2" fill="#6c6ae2" opacity="0.6"/><circle cx="85.0" cy="453.8" r="1.0" fill="#6c6ae2" opacity="0.7"/><circle cx="73.8" cy="467.1" r="0.7" fill="#6c6ae2" opacity="0.6"/><circle cx="55.0" cy="455.0" r="1.1" fill="#6c6ae2" opacity="0.6"/><circle cx="67.2" cy="510.3" r="1.2" fill="#6c6ae2" opacity="0.9"/><circle cx="98.6" cy="455.4" r="0.9" fill="#6c6ae2" opacity="0.5"/><circle cx="86.1" cy="493.0" r="0.9" fill="#6c6ae2" opacity="0.7"/><circle cx="84.7" cy="495.5" r="0.8" fill="#6c6ae2" opacity="0.9"/><circle cx="63.7" cy="490.5" r="0.8" fill="#6c6ae2" opacity="0.6"/><circle cx="102.1" cy="497.9" r="1.1" fill="#6c6ae2" opacity="0.5"/><circle cx="42.2" cy="457.5" r="0.8" fill="#6c6ae2" opacity="0.6"/><circle cx="65.6" cy="448.9" r="0.9" fill="#6c6ae2" opacity="0.8"/><circle cx="51.8" cy="505.4" r="1.0" fill="#6c6ae2" opacity="0.8"/><circle cx="57.0" cy="476.8" r="1.1" fill="#6c6ae2" opacity="0.7"/><circle cx="39.6" cy="505.0" r="1.2" fill="#6c6ae2" opacity="0.6"/><circle cx="42.4" cy="506.4" r="1.1" fill="#6c6ae2" opacity="0.5"/><circle cx="56.3" cy="453.9" r="0.6" fill="#d09050" opacity=".6"/><circle cx="93.8" cy="460.9" r="0.6" fill="#d09050" opacity=".6"/><circle cx="102.2" cy="499.0" r="0.6" fill="#d09050" opacity=".6"/><circle cx="45.4" cy="495.1" r="0.6" fill="#d09050" opacity=".6"/><circle cx="66.5" cy="498.9" r="0.6" fill="#d09050" opacity=".6"/><circle cx="96.4" cy="466.0" r="0.6" fill="#d09050" opacity=".6"/><circle cx="45.7" cy="512.9" r="0.6" fill="#d09050" opacity=".6"/><circle cx="68.6" cy="511.8" r="0.6" fill="#d09050" opacity=".6"/><circle cx="86.9" cy="498.2" r="0.6" fill="#d09050" opacity=".6"/><circle cx="96.4" cy="490.4" r="0.6" fill="#d09050" opacity=".6"/><circle cx="70.6" cy="449.9" r="0.6" fill="#d09050" opacity=".6"/><circle cx="87.4" cy="476.3" r="0.6" fill="#d09050" opacity=".6"/><circle cx="74.6" cy="511.6" r="0.6" fill="#d09050" opacity=".6"/><circle cx="48.3" cy="499.9" r="0.6" fill="#d09050" opacity=".6"/><circle cx="42.5" cy="495.7" r="0.6" fill="#d09050" opacity=".6"/><circle cx="94.8" cy="464.5" r="0.6" fill="#d09050" opacity=".6"/><circle cx="77.0" cy="514.5" r="0.6" fill="#d09050" opacity=".6"/><circle cx="83.2" cy="484.5" r="0.6" fill="#d09050" opacity=".6"/><circle cx="56.6" cy="450.3" r="0.6" fill="#d09050" opacity=".6"/><circle cx="64.0" cy="475.2" r="0.6" fill="#d09050" opacity=".6"/><circle cx="53.3" cy="468.0" r="0.6" fill="#d09050" opacity=".6"/><circle cx="48.9" cy="496.0" r="0.6" fill="#d09050" opacity=".6"/><circle cx="85.5" cy="462.9" r="0.6" fill="#d09050" opacity=".6"/><circle cx="56.1" cy="482.5" r="0.6" fill="#d09050" opacity=".6"/><circle cx="70.0" cy="512.2" r="0.6" fill="#d09050" opacity=".6"/><circle cx="63.6" cy="467.2" r="0.6" fill="#d09050" opacity=".6"/><circle cx="100.2" cy="456.1" r="0.6" fill="#d09050" opacity=".6"/><circle cx="78.1" cy="469.7" r="0.6" fill="#d09050" opacity=".6"/><circle cx="95.4" cy="484.8" r="0.6" fill="#d09050" opacity=".6"/><circle cx="91.7" cy="458.0" r="0.6" fill="#d09050" opacity=".6"/></g><clipPath id="c10"><rect x="111.0" y="303.8" width="68.3" height="70.1"/></clipPath><g clip-path="url(#c10)"><rect x="111.0" y="303.8" width="68.3" height="70.1" fill="#000" stroke="none" stroke-width="1" /><circle cx="108.5" cy="301.1" r="1.8" fill="rgb(7,25,2)" stroke="rgb(23,79,6)" stroke-width="0.75"/><circle cx="113.3" cy="301.6" r="2.0" fill="rgb(8,28,2)" stroke="rgb(26,89,7)" stroke-width="0.75"/><circle cx="119.8" cy="299.6" r="2.3" fill="rgb(8,28,2)" stroke="rgb(26,89,7)" stroke-width="0.75"/><circle cx="123.6" cy="300.4" r="2.3" fill="rgb(6,19,1)" stroke="rgb(18,62,4)" stroke-width="0.75"/><circle cx="128.7" cy="299.5" r="1.9" fill="rgb(12,40,3)" stroke="rgb(37,125,10)" stroke-width="0.75"/><circle cx="134.3" cy="299.9" r="1.8" fill="rgb(6,19,1)" stroke="rgb(18,61,4)" stroke-width="0.75"/><circle cx="141.0" cy="300.6" r="1.7" fill="rgb(14,45,4)" stroke="rgb(43,143,11)" stroke-width="0.75"/><circle cx="144.6" cy="300.3" r="1.8" fill="rgb(12,40,3)" stroke="rgb(37,126,10)" stroke-width="0.75"/><circle cx="151.1" cy="300.4" r="3.0" fill="rgb(9,30,2)" stroke="rgb(28,95,7)" stroke-width="0.75"/><circle cx="155.6" cy="299.5" r="3.7" fill="rgb(5,16,1)" stroke="rgb(15,50,4)" stroke-width="0.75"/><circle cx="160.5" cy="302.3" r="3.3" fill="rgb(4,14,1)" stroke="rgb(13,45,3)" stroke-width="0.75"/><circle cx="168.2" cy="299.6" r="3.7" fill="rgb(7,24,2)" stroke="rgb(23,76,6)" stroke-width="0.75"/><circle cx="173.5" cy="302.2" r="4.1" fill="rgb(7,23,2)" stroke="rgb(22,74,5)" stroke-width="0.75"/><circle cx="178.4" cy="299.6" r="3.2" fill="rgb(3,10,0)" stroke="rgb(9,32,2)" stroke-width="0.75"/><circle cx="183.6" cy="300.6" r="3.7" fill="rgb(6,20,1)" stroke="rgb(18,62,5)" stroke-width="0.75"/><circle cx="109.8" cy="305.6" r="2.1" fill="rgb(4,14,1)" stroke="rgb(13,46,3)" stroke-width="0.75"/><circle cx="114.6" cy="306.8" r="2.0" fill="rgb(7,22,2)" stroke="rgb(21,71,5)" stroke-width="0.75"/><circle cx="121.9" cy="305.9" r="1.7" fill="rgb(7,24,2)" stroke="rgb(22,75,6)" stroke-width="0.75"/><circle cx="128.2" cy="306.0" r="1.9" fill="rgb(18,60,5)" stroke="rgb(56,189,15)" stroke-width="0.75"/><circle cx="131.6" cy="304.7" r="1.8" fill="rgb(17,56,5)" stroke="rgb(52,176,14)" stroke-width="0.75"/><circle cx="136.6" cy="304.1" r="1.8" fill="rgb(13,42,4)" stroke="rgb(40,133,10)" stroke-width="0.75"/><circle cx="143.9" cy="306.5" r="1.8" fill="rgb(13,42,3)" stroke="rgb(39,132,10)" stroke-width="0.75"/><circle cx="147.9" cy="304.6" r="1.8" fill="rgb(12,40,3)" stroke="rgb(38,127,10)" stroke-width="0.75"/><circle cx="154.3" cy="306.5" r="3.5" fill="rgb(11,36,3)" stroke="rgb(33,112,9)" stroke-width="0.75"/><circle cx="160.6" cy="304.5" r="3.3" fill="rgb(4,15,1)" stroke="rgb(14,49,3)" stroke-width="0.75"/><circle cx="165.6" cy="306.5" r="4.0" fill="rgb(6,22,2)" stroke="rgb(20,69,5)" stroke-width="0.75"/><circle cx="170.8" cy="305.0" r="3.1" fill="rgb(5,17,1)" stroke="rgb(16,54,4)" stroke-width="0.75"/><circle cx="174.6" cy="306.5" r="3.9" fill="rgb(8,26,2)" stroke="rgb(25,83,6)" stroke-width="0.75"/><circle cx="180.4" cy="305.1" r="3.2" fill="rgb(6,20,1)" stroke="rgb(19,65,5)" stroke-width="0.75"/><circle cx="186.5" cy="305.1" r="3.2" fill="rgb(3,12,1)" stroke="rgb(11,37,3)" stroke-width="0.75"/><circle cx="109.0" cy="309.4" r="1.7" fill="rgb(5,17,1)" stroke="rgb(16,55,4)" stroke-width="0.75"/><circle cx="112.0" cy="310.4" r="2.0" fill="rgb(10,32,3)" stroke="rgb(30,100,8)" stroke-width="0.75"/><circle cx="119.2" cy="311.2" r="2.0" fill="rgb(14,45,4)" stroke="rgb(42,143,11)" stroke-width="0.75"/><circle cx="124.8" cy="311.4" r="2.2" fill="rgb(10,32,3)" stroke="rgb(30,101,8)" stroke-width="0.75"/><circle cx="130.9" cy="310.2" r="2.1" fill="rgb(20,66,6)" stroke="rgb(62,207,16)" stroke-width="0.75"/><circle cx="135.0" cy="309.2" r="2.2" fill="rgb(19,60,5)" stroke="rgb(57,190,15)" stroke-width="0.75"/><circle cx="139.8" cy="310.4" r="2.3" fill="rgb(24,76,7)" stroke="rgb(72,240,19)" stroke-width="0.75"/><circle cx="144.5" cy="310.8" r="2.0" fill="rgb(19,63,5)" stroke="rgb(59,198,15)" stroke-width="0.75"/><circle cx="150.2" cy="310.0" r="3.4" fill="rgb(11,35,3)" stroke="rgb(33,110,8)" stroke-width="0.75"/><circle cx="158.0" cy="309.0" r="3.4" fill="rgb(12,39,3)" stroke="rgb(37,124,9)" stroke-width="0.75"/><circle cx="160.6" cy="310.0" r="3.4" fill="rgb(7,24,2)" stroke="rgb(23,77,6)" stroke-width="0.75"/><circle cx="166.5" cy="310.9" r="4.1" fill="rgb(5,17,1)" stroke="rgb(16,53,4)" stroke-width="0.75"/><circle cx="171.3" cy="311.2" r="3.6" fill="rgb(4,13,1)" stroke="rgb(12,41,3)" stroke-width="0.75"/><circle cx="179.3" cy="311.1" r="3.2" fill="rgb(8,25,2)" stroke="rgb(24,81,6)" stroke-width="0.75"/><circle cx="183.4" cy="309.5" r="3.3" fill="rgb(6,19,1)" stroke="rgb(18,60,4)" stroke-width="0.75"/><circle cx="111.2" cy="314.9" r="1.8" fill="rgb(9,30,2)" stroke="rgb(28,94,7)" stroke-width="0.75"/><circle cx="115.9" cy="314.4" r="2.3" fill="rgb(9,31,2)" stroke="rgb(29,98,7)" stroke-width="0.75"/><circle cx="121.3" cy="315.4" r="2.3" fill="rgb(22,72,6)" stroke="rgb(67,225,18)" stroke-width="0.75"/><circle cx="127.9" cy="316.1" r="2.2" fill="rgb(14,45,4)" stroke="rgb(43,143,11)" stroke-width="0.75"/><circle cx="131.3" cy="314.3" r="2.2" fill="rgb(19,61,5)" stroke="rgb(57,191,15)" stroke-width="0.75"/><circle cx="137.5" cy="315.1" r="1.9" fill="rgb(24,76,7)" stroke="rgb(72,240,19)" stroke-width="0.75"/><circle cx="142.6" cy="314.0" r="1.7" fill="rgb(24,76,7)" stroke="rgb(72,240,19)" stroke-width="0.75"/><circle cx="147.3" cy="314.4" r="2.3" fill="rgb(20,65,6)" stroke="rgb(61,204,16)" stroke-width="0.75"/><circle cx="153.8" cy="316.3" r="3.6" fill="rgb(13,42,3)" stroke="rgb(39,131,10)" stroke-width="0.75"/><circle cx="160.5" cy="316.0" r="3.2" fill="rgb(13,44,4)" stroke="rgb(41,138,11)" stroke-width="0.75"/><circle cx="166.1" cy="316.3" r="3.8" fill="rgb(9,30,2)" stroke="rgb(28,94,7)" stroke-width="0.75"/><circle cx="170.5" cy="315.8" r="3.7" fill="rgb(6,22,2)" stroke="rgb(20,69,5)" stroke-width="0.75"/><circle cx="174.2" cy="315.4" r="3.5" fill="rgb(6,20,1)" stroke="rgb(19,64,5)" stroke-width="0.75"/><circle cx="181.2" cy="314.3" r="3.7" fill="rgb(6,21,1)" stroke="rgb(19,66,5)" stroke-width="0.75"/><circle cx="186.5" cy="316.3" r="3.6" fill="rgb(4,15,1)" stroke="rgb(14,47,3)" stroke-width="0.75"/><circle cx="107.9" cy="320.0" r="1.9" fill="rgb(12,41,3)" stroke="rgb(38,129,10)" stroke-width="0.75"/><circle cx="112.8" cy="319.1" r="1.9" fill="rgb(16,53,5)" stroke="rgb(50,167,13)" stroke-width="0.75"/><circle cx="120.0" cy="318.2" r="2.0" fill="rgb(24,76,7)" stroke="rgb(72,240,19)" stroke-width="0.75"/><circle cx="123.3" cy="320.1" r="2.1" fill="rgb(24,76,7)" stroke="rgb(72,240,19)" stroke-width="0.75"/><circle cx="129.4" cy="318.3" r="1.9" fill="rgb(24,76,7)" stroke="rgb(72,240,19)" stroke-width="0.75"/><circle cx="135.5" cy="319.2" r="2.3" fill="rgb(18,58,5)" stroke="rgb(55,184,14)" stroke-width="0.75"/><circle cx="140.6" cy="319.3" r="2.1" fill="rgb(24,76,7)" stroke="rgb(72,240,19)" stroke-width="0.75"/><circle cx="145.9" cy="319.8" r="2.3" fill="rgb(20,64,6)" stroke="rgb(60,202,16)" stroke-width="0.75"/><circle cx="150.9" cy="318.4" r="3.1" fill="rgb(12,39,3)" stroke="rgb(36,122,9)" stroke-width="0.75"/><circle cx="155.6" cy="320.8" r="3.4" fill="rgb(16,51,4)" stroke="rgb(48,161,12)" stroke-width="0.75"/><circle cx="162.1" cy="318.4" r="3.9" fill="rgb(10,35,3)" stroke="rgb(32,109,8)" stroke-width="0.75"/><circle cx="168.5" cy="318.9" r="3.9" fill="rgb(11,35,3)" stroke="rgb(33,110,8)" stroke-width="0.75"/><circle cx="171.6" cy="319.7" r="3.3" fill="rgb(4,15,1)" stroke="rgb(14,49,3)" stroke-width="0.75"/><circle cx="177.5" cy="319.6" r="3.9" fill="rgb(8,28,2)" stroke="rgb(26,87,7)" stroke-width="0.75"/><circle cx="183.8" cy="318.8" r="3.1" fill="rgb(4,13,1)" stroke="rgb(12,41,3)" stroke-width="0.75"/><circle cx="110.9" cy="323.1" r="1.8" fill="rgb(12,41,3)" stroke="rgb(38,128,10)" stroke-width="0.75"/><circle cx="116.1" cy="324.6" r="2.3" fill="rgb(18,59,5)" stroke="rgb(56,187,14)" stroke-width="0.75"/><circle cx="120.2" cy="324.0" r="2.0" fill="rgb(24,76,7)" stroke="rgb(72,240,19)" stroke-width="0.75"/><circle cx="125.6" cy="324.1" r="2.0" fill="rgb(18,57,5)" stroke="rgb(54,181,14)" stroke-width="0.75"/><circle cx="133.4" cy="324.4" r="2.2" fill="rgb(24,76,7)" stroke="rgb(72,240,19)" stroke-width="0.75"/><circle cx="138.3" cy="325.1" r="2.0" fill="rgb(24,76,7)" stroke="rgb(72,240,19)" stroke-width="0.75"/><circle cx="141.9" cy="325.8" r="2.2" fill="rgb(24,76,7)" stroke="rgb(72,240,19)" stroke-width="0.75"/><circle cx="149.2" cy="323.1" r="3.7" fill="rgb(12,39,3)" stroke="rgb(37,124,9)" stroke-width="0.75"/><circle cx="154.9" cy="324.0" r="3.5" fill="rgb(12,38,3)" stroke="rgb(36,120,9)" stroke-width="0.75"/><circle cx="158.3" cy="325.7" r="3.3" fill="rgb(9,30,2)" stroke="rgb(28,93,7)" stroke-width="0.75"/><circle cx="164.9" cy="325.1" r="3.3" fill="rgb(8,27,2)" stroke="rgb(25,85,6)" stroke-width="0.75"/><circle cx="169.0" cy="325.1" r="3.1" fill="rgb(5,17,1)" stroke="rgb(16,53,4)" stroke-width="0.75"/><circle cx="174.2" cy="323.5" r="3.0" fill="rgb(8,26,2)" stroke="rgb(24,81,6)" stroke-width="0.75"/><circle cx="180.5" cy="322.8" r="3.7" fill="rgb(4,15,1)" stroke="rgb(14,48,3)" stroke-width="0.75"/><circle cx="186.6" cy="323.4" r="3.3" fill="rgb(4,15,1)" stroke="rgb(14,47,3)" stroke-width="0.75"/><circle cx="107.4" cy="329.6" r="2.3" fill="rgb(11,38,3)" stroke="rgb(35,119,9)" stroke-width="0.75"/><circle cx="113.2" cy="330.2" r="2.1" fill="rgb(13,44,4)" stroke="rgb(41,137,11)" stroke-width="0.75"/><circle cx="119.2" cy="330.1" r="1.8" fill="rgb(24,76,7)" stroke="rgb(72,240,19)" stroke-width="0.75"/><circle cx="124.4" cy="330.2" r="2.3" fill="rgb(24,76,7)" stroke="rgb(72,240,19)" stroke-width="0.75"/><circle cx="130.7" cy="328.0" r="2.0" fill="rgb(24,76,7)" stroke="rgb(72,240,19)" stroke-width="0.75"/><circle cx="135.7" cy="328.5" r="2.0" fill="rgb(17,55,5)" stroke="rgb(52,174,13)" stroke-width="0.75"/><circle cx="141.2" cy="329.5" r="2.2" fill="rgb(21,67,6)" stroke="rgb(63,210,16)" stroke-width="0.75"/><circle cx="146.8" cy="327.9" r="2.0" fill="rgb(16,51,4)" stroke="rgb(48,160,12)" stroke-width="0.75"/><circle cx="150.8" cy="329.7" r="3.9" fill="rgb(17,56,5)" stroke="rgb(53,177,14)" stroke-width="0.75"/><circle cx="157.9" cy="329.7" r="3.3" fill="rgb(10,33,3)" stroke="rgb(31,106,8)" stroke-width="0.75"/><circle cx="160.6" cy="329.3" r="4.0" fill="rgb(11,37,3)" stroke="rgb(35,117,9)" stroke-width="0.75"/><circle cx="166.2" cy="329.1" r="4.0" fill="rgb(7,22,2)" stroke="rgb(21,71,5)" stroke-width="0.75"/><circle cx="173.7" cy="327.8" r="3.3" fill="rgb(9,29,2)" stroke="rgb(27,92,7)" stroke-width="0.75"/><circle cx="179.5" cy="329.5" r="3.3" fill="rgb(7,24,2)" stroke="rgb(23,78,6)" stroke-width="0.75"/><circle cx="182.9" cy="328.1" r="3.8" fill="rgb(4,13,1)" stroke="rgb(12,41,3)" stroke-width="0.75"/><circle cx="110.5" cy="334.7" r="2.1" fill="rgb(16,52,4)" stroke="rgb(49,164,13)" stroke-width="0.75"/><circle cx="116.3" cy="332.5" r="2.3" fill="rgb(23,75,7)" stroke="rgb(71,237,18)" stroke-width="0.75"/><circle cx="120.1" cy="332.5" r="1.7" fill="rgb(24,76,7)" stroke="rgb(72,240,19)" stroke-width="0.75"/><circle cx="127.8" cy="332.7" r="2.0" fill="rgb(24,76,7)" stroke="rgb(72,240,19)" stroke-width="0.75"/><circle cx="132.5" cy="333.1" r="2.3" fill="rgb(24,76,7)" stroke="rgb(72,240,19)" stroke-width="0.75"/><circle cx="138.3" cy="333.3" r="2.0" fill="rgb(23,74,6)" stroke="rgb(69,232,18)" stroke-width="0.75"/><circle cx="142.0" cy="334.8" r="2.0" fill="rgb(24,76,7)" stroke="rgb(72,240,19)" stroke-width="0.75"/><circle cx="148.6" cy="334.3" r="3.5" fill="rgb(16,52,4)" stroke="rgb(49,164,13)" stroke-width="0.75"/><circle cx="154.8" cy="335.0" r="3.7" fill="rgb(16,51,4)" stroke="rgb(48,161,12)" stroke-width="0.75"/><circle cx="157.8" cy="333.2" r="3.4" fill="rgb(14,45,4)" stroke="rgb(42,140,11)" stroke-width="0.75"/><circle cx="163.7" cy="333.7" r="3.7" fill="rgb(6,19,1)" stroke="rgb(18,62,4)" stroke-width="0.75"/><circle cx="171.2" cy="334.6" r="3.8" fill="rgb(8,27,2)" stroke="rgb(25,85,6)" stroke-width="0.75"/><circle cx="174.1" cy="332.7" r="3.0" fill="rgb(9,30,2)" stroke="rgb(28,94,7)" stroke-width="0.75"/><circle cx="181.9" cy="334.2" r="3.0" fill="rgb(4,15,1)" stroke="rgb(14,49,3)" stroke-width="0.75"/><circle cx="186.0" cy="333.6" r="3.0" fill="rgb(7,23,2)" stroke="rgb(22,73,5)" stroke-width="0.75"/><circle cx="107.0" cy="339.4" r="2.2" fill="rgb(9,30,2)" stroke="rgb(28,94,7)" stroke-width="0.75"/><circle cx="113.1" cy="339.5" r="1.7" fill="rgb(20,65,6)" stroke="rgb(61,204,16)" stroke-width="0.75"/><circle cx="119.1" cy="337.1" r="2.2" fill="rgb(24,76,7)" stroke="rgb(72,240,19)" stroke-width="0.75"/><circle cx="123.7" cy="337.5" r="1.7" fill="rgb(24,76,7)" stroke="rgb(72,240,19)" stroke-width="0.75"/><circle cx="130.8" cy="338.7" r="2.0" fill="rgb(24,76,7)" stroke="rgb(72,240,19)" stroke-width="0.75"/><circle cx="133.6" cy="337.4" r="2.4" fill="rgb(24,76,7)" stroke="rgb(72,240,19)" stroke-width="0.75"/><circle cx="140.0" cy="338.3" r="2.3" fill="rgb(24,76,7)" stroke="rgb(72,240,19)" stroke-width="0.75"/><circle cx="146.0" cy="338.0" r="1.9" fill="rgb(12,39,3)" stroke="rgb(36,122,9)" stroke-width="0.75"/><circle cx="150.8" cy="336.9" r="2.9" fill="rgb(14,47,4)" stroke="rgb(44,147,11)" stroke-width="0.75"/><circle cx="156.8" cy="337.9" r="3.2" fill="rgb(15,51,4)" stroke="rgb(47,159,12)" stroke-width="0.75"/><circle cx="160.6" cy="338.3" r="3.3" fill="rgb(8,26,2)" stroke="rgb(24,82,6)" stroke-width="0.75"/><circle cx="168.9" cy="337.0" r="3.9" fill="rgb(6,21,2)" stroke="rgb(20,67,5)" stroke-width="0.75"/><circle cx="171.7" cy="338.9" r="3.5" fill="rgb(8,25,2)" stroke="rgb(24,80,6)" stroke-width="0.75"/><circle cx="177.5" cy="337.7" r="3.0" fill="rgb(6,20,1)" stroke="rgb(19,64,5)" stroke-width="0.75"/><circle cx="183.6" cy="337.7" r="3.9" fill="rgb(5,16,1)" stroke="rgb(15,50,4)" stroke-width="0.75"/><circle cx="110.9" cy="343.2" r="2.3" fill="rgb(19,63,5)" stroke="rgb(59,199,15)" stroke-width="0.75"/><circle cx="117.5" cy="344.6" r="1.8" fill="rgb(15,50,4)" stroke="rgb(47,159,12)" stroke-width="0.75"/><circle cx="120.1" cy="343.3" r="2.1" fill="rgb(14,45,4)" stroke="rgb(42,141,11)" stroke-width="0.75"/><circle cx="127.7" cy="344.2" r="2.0" fill="rgb(20,66,6)" stroke="rgb(62,207,16)" stroke-width="0.75"/><circle cx="133.1" cy="343.5" r="2.1" fill="rgb(22,71,6)" stroke="rgb(66,222,17)" stroke-width="0.75"/><circle cx="138.1" cy="342.7" r="2.3" fill="rgb(18,57,5)" stroke="rgb(54,181,14)" stroke-width="0.75"/><circle cx="142.4" cy="344.0" r="2.3" fill="rgb(12,40,3)" stroke="rgb(37,126,10)" stroke-width="0.75"/><circle cx="149.6" cy="344.4" r="3.0" fill="rgb(13,41,3)" stroke="rgb(39,130,10)" stroke-width="0.75"/><circle cx="154.4" cy="342.5" r="3.5" fill="rgb(9,30,2)" stroke="rgb(28,94,7)" stroke-width="0.75"/><circle cx="160.1" cy="343.8" r="3.6" fill="rgb(8,27,2)" stroke="rgb(25,84,6)" stroke-width="0.75"/><circle cx="164.7" cy="343.5" r="3.2" fill="rgb(7,22,2)" stroke="rgb(21,71,5)" stroke-width="0.75"/><circle cx="169.7" cy="343.2" r="3.2" fill="rgb(9,29,2)" stroke="rgb(28,93,7)" stroke-width="0.75"/><circle cx="175.2" cy="341.8" r="3.8" fill="rgb(8,25,2)" stroke="rgb(24,80,6)" stroke-width="0.75"/><circle cx="180.4" cy="342.6" r="3.4" fill="rgb(6,21,1)" stroke="rgb(19,66,5)" stroke-width="0.75"/><circle cx="187.8" cy="343.0" r="3.4" fill="rgb(7,23,2)" stroke="rgb(21,73,5)" stroke-width="0.75"/><circle cx="107.6" cy="347.0" r="1.7" fill="rgb(15,50,4)" stroke="rgb(46,156,12)" stroke-width="0.75"/><circle cx="112.6" cy="347.3" r="2.1" fill="rgb(14,45,4)" stroke="rgb(42,141,11)" stroke-width="0.75"/><circle cx="117.7" cy="346.3" r="2.3" fill="rgb(11,37,3)" stroke="rgb(35,118,9)" stroke-width="0.75"/><circle cx="125.3" cy="347.6" r="2.1" fill="rgb(13,41,3)" stroke="rgb(39,130,10)" stroke-width="0.75"/><circle cx="129.4" cy="348.0" r="2.3" fill="rgb(14,46,4)" stroke="rgb(43,144,11)" stroke-width="0.75"/><circle cx="134.4" cy="346.8" r="2.3" fill="rgb(20,64,6)" stroke="rgb(60,200,16)" stroke-width="0.75"/><circle cx="139.1" cy="347.2" r="2.2" fill="rgb(16,52,4)" stroke="rgb(49,165,13)" stroke-width="0.75"/><circle cx="145.2" cy="348.5" r="1.9" fill="rgb(14,46,4)" stroke="rgb(43,144,11)" stroke-width="0.75"/><circle cx="151.4" cy="349.1" r="3.9" fill="rgb(7,24,2)" stroke="rgb(23,76,6)" stroke-width="0.75"/><circle cx="156.1" cy="349.0" r="4.0" fill="rgb(6,19,1)" stroke="rgb(18,62,4)" stroke-width="0.75"/><circle cx="162.3" cy="346.5" r="3.0" fill="rgb(6,19,1)" stroke="rgb(18,62,4)" stroke-width="0.75"/><circle cx="166.4" cy="348.0" r="3.8" fill="rgb(4,15,1)" stroke="rgb(14,48,3)" stroke-width="0.75"/><circle cx="174.3" cy="347.4" r="3.4" fill="rgb(8,28,2)" stroke="rgb(26,87,7)" stroke-width="0.75"/><circle cx="179.0" cy="347.6" r="3.2" fill="rgb(6,21,2)" stroke="rgb(20,66,5)" stroke-width="0.75"/><circle cx="184.7" cy="346.5" r="3.7" fill="rgb(7,23,2)" stroke="rgb(21,72,5)" stroke-width="0.75"/><circle cx="110.7" cy="353.7" r="1.7" fill="rgb(7,23,2)" stroke="rgb(22,74,5)" stroke-width="0.75"/><circle cx="115.4" cy="351.8" r="1.7" fill="rgb(15,49,4)" stroke="rgb(46,156,12)" stroke-width="0.75"/><circle cx="120.1" cy="351.5" r="1.9" fill="rgb(19,62,5)" stroke="rgb(58,196,15)" stroke-width="0.75"/><circle cx="126.2" cy="353.1" r="2.1" fill="rgb(11,37,3)" stroke="rgb(35,117,9)" stroke-width="0.75"/><circle cx="131.5" cy="352.2" r="2.1" fill="rgb(13,41,3)" stroke="rgb(39,130,10)" stroke-width="0.75"/><circle cx="136.8" cy="352.8" r="2.3" fill="rgb(9,30,2)" stroke="rgb(28,96,7)" stroke-width="0.75"/><circle cx="144.2" cy="352.9" r="2.3" fill="rgb(9,29,2)" stroke="rgb(27,92,7)" stroke-width="0.75"/><circle cx="158.0" cy="353.4" r="2.3" fill="rgb(5,16,1)" stroke="rgb(15,52,4)" stroke-width="0.75"/><circle cx="165.8" cy="352.0" r="3.4" fill="rgb(9,29,2)" stroke="rgb(27,92,7)" stroke-width="0.75"/><circle cx="169.0" cy="351.5" r="3.3" fill="rgb(3,12,1)" stroke="rgb(11,39,3)" stroke-width="0.75"/><circle cx="175.6" cy="353.6" r="1.9" fill="rgb(6,20,1)" stroke="rgb(18,63,5)" stroke-width="0.75"/><circle cx="181.3" cy="353.7" r="1.8" fill="rgb(5,17,1)" stroke="rgb(16,55,4)" stroke-width="0.75"/><circle cx="185.4" cy="352.0" r="3.8" fill="rgb(5,16,1)" stroke="rgb(15,50,4)" stroke-width="0.75"/><circle cx="108.7" cy="357.6" r="2.2" fill="rgb(7,24,2)" stroke="rgb(22,76,6)" stroke-width="0.75"/><circle cx="113.1" cy="357.7" r="2.3" fill="rgb(6,20,1)" stroke="rgb(18,63,5)" stroke-width="0.75"/><circle cx="118.3" cy="355.8" r="2.3" fill="rgb(8,25,2)" stroke="rgb(24,80,6)" stroke-width="0.75"/><circle cx="123.9" cy="355.8" r="2.4" fill="rgb(17,56,5)" stroke="rgb(53,177,14)" stroke-width="0.75"/><circle cx="130.0" cy="356.7" r="1.9" fill="rgb(12,39,3)" stroke="rgb(36,122,9)" stroke-width="0.75"/><circle cx="135.0" cy="357.5" r="2.2" fill="rgb(9,30,2)" stroke="rgb(28,93,7)" stroke-width="0.75"/><circle cx="162.7" cy="356.7" r="2.4" fill="rgb(6,19,1)" stroke="rgb(18,62,4)" stroke-width="0.75"/><circle cx="166.2" cy="356.1" r="2.0" fill="rgb(4,12,1)" stroke="rgb(12,40,3)" stroke-width="0.75"/><circle cx="177.0" cy="358.1" r="2.1" fill="rgb(6,21,2)" stroke="rgb(20,68,5)" stroke-width="0.75"/><circle cx="183.4" cy="357.3" r="1.8" fill="rgb(5,16,1)" stroke="rgb(15,52,4)" stroke-width="0.75"/><circle cx="111.0" cy="362.0" r="1.9" fill="rgb(5,16,1)" stroke="rgb(15,50,4)" stroke-width="0.75"/><circle cx="116.6" cy="362.2" r="2.3" fill="rgb(10,33,3)" stroke="rgb(31,104,8)" stroke-width="0.75"/><circle cx="126.2" cy="362.5" r="2.3" fill="rgb(6,21,1)" stroke="rgb(19,66,5)" stroke-width="0.75"/><circle cx="157.8" cy="361.8" r="2.1" fill="rgb(3,11,1)" stroke="rgb(10,36,2)" stroke-width="0.75"/><circle cx="179.7" cy="360.5" r="1.9" fill="rgb(6,22,2)" stroke="rgb(20,69,5)" stroke-width="0.75"/><circle cx="185.2" cy="360.6" r="2.2" fill="rgb(6,21,1)" stroke="rgb(19,66,5)" stroke-width="0.75"/><circle cx="108.0" cy="366.7" r="1.9" fill="rgb(3,11,1)" stroke="rgb(10,36,2)" stroke-width="0.75"/><circle cx="112.4" cy="367.9" r="1.9" fill="rgb(5,18,1)" stroke="rgb(16,56,4)" stroke-width="0.75"/><circle cx="130.9" cy="365.6" r="1.8" fill="rgb(8,27,2)" stroke="rgb(25,86,6)" stroke-width="0.75"/><circle cx="156.5" cy="366.0" r="1.9" fill="rgb(6,21,1)" stroke="rgb(19,66,5)" stroke-width="0.75"/><circle cx="179.3" cy="365.3" r="2.1" fill="rgb(3,10,0)" stroke="rgb(9,31,2)" stroke-width="0.75"/><circle cx="183.8" cy="366.3" r="2.1" fill="rgb(3,10,0)" stroke="rgb(9,32,2)" stroke-width="0.75"/><circle cx="112.0" cy="372.6" r="2.1" fill="rgb(6,20,1)" stroke="rgb(19,64,5)" stroke-width="0.75"/><circle cx="131.4" cy="372.0" r="1.7" fill="rgb(5,17,1)" stroke="rgb(16,54,4)" stroke-width="0.75"/><circle cx="155.0" cy="372.4" r="1.8" fill="rgb(5,16,1)" stroke="rgb(15,50,4)" stroke-width="0.75"/><circle cx="158.6" cy="372.0" r="1.8" fill="rgb(5,17,1)" stroke="rgb(16,55,4)" stroke-width="0.75"/><circle cx="165.7" cy="370.6" r="1.9" fill="rgb(5,16,1)" stroke="rgb(15,52,4)" stroke-width="0.75"/><circle cx="169.6" cy="371.2" r="2.2" fill="rgb(4,13,1)" stroke="rgb(13,43,3)" stroke-width="0.75"/><circle cx="176.7" cy="370.3" r="1.8" fill="rgb(3,11,1)" stroke="rgb(10,34,2)" stroke-width="0.75"/><circle cx="181.4" cy="371.6" r="1.9" fill="rgb(6,20,1)" stroke="rgb(19,64,5)" stroke-width="0.75"/><circle cx="186.2" cy="371.5" r="2.3" fill="rgb(5,19,1)" stroke="rgb(17,59,4)" stroke-width="0.75"/></g><clipPath id="c11"><rect x="111.0" y="375.0" width="68.3" height="69.9"/></clipPath><g clip-path="url(#c11)"><rect x="111.0" y="375.0" width="68.3" height="69.9" fill="#000" stroke="none" stroke-width="1" /><g fill="#1d4a4c" stroke="#48c4cc" stroke-width="0.7"><circle cx="107.9" cy="371.0" r="2.7"/><circle cx="113.1" cy="373.1" r="2.6"/><circle cx="119.3" cy="372.0" r="3.0"/><circle cx="126.7" cy="370.9" r="2.6"/><circle cx="132.7" cy="371.1" r="2.7"/><circle cx="139.1" cy="372.0" r="3.0"/><circle cx="144.8" cy="371.2" r="2.8"/><circle cx="151.1" cy="371.2" r="2.8"/><circle cx="156.6" cy="371.3" r="2.7"/><circle cx="164.8" cy="372.0" r="3.2"/><circle cx="171.1" cy="370.6" r="2.6"/><circle cx="177.4" cy="372.0" r="2.6"/><circle cx="183.2" cy="372.2" r="2.9"/><circle cx="118.0" cy="376.4" r="3.1"/><circle cx="122.8" cy="376.1" r="2.9"/><circle cx="129.4" cy="377.4" r="3.0"/><circle cx="135.3" cy="378.5" r="3.2"/><circle cx="140.9" cy="377.6" r="3.2"/><circle cx="147.6" cy="377.7" r="2.8"/><circle cx="155.3" cy="378.0" r="2.6"/><circle cx="159.5" cy="376.7" r="2.7"/><circle cx="167.2" cy="378.7" r="3.1"/><circle cx="171.8" cy="377.7" r="2.9"/><circle cx="179.8" cy="378.3" r="2.7"/><circle cx="185.1" cy="378.3" r="2.8"/><circle cx="107.9" cy="384.0" r="3.1"/><circle cx="112.8" cy="384.0" r="2.9"/><circle cx="120.2" cy="382.5" r="3.1"/><circle cx="125.4" cy="382.1" r="2.8"/><circle cx="133.5" cy="383.3" r="3.1"/><circle cx="138.0" cy="382.4" r="3.1"/><circle cx="144.2" cy="381.9" r="3.2"/><circle cx="158.9" cy="384.2" r="3.1"/><circle cx="170.0" cy="383.6" r="2.6"/><circle cx="177.3" cy="383.5" r="3.1"/><circle cx="182.8" cy="381.9" r="2.8"/><circle cx="111.5" cy="389.2" r="2.7"/><circle cx="118.1" cy="387.0" r="3.3"/><circle cx="124.1" cy="387.8" r="2.6"/><circle cx="136.4" cy="388.9" r="3.2"/><circle cx="141.1" cy="389.1" r="2.9"/><circle cx="178.7" cy="389.5" r="2.9"/><circle cx="185.6" cy="389.4" r="3.2"/><circle cx="106.9" cy="394.9" r="2.9"/><circle cx="115.0" cy="392.9" r="2.7"/><circle cx="125.8" cy="393.5" r="3.0"/><circle cx="132.1" cy="393.6" r="2.8"/><circle cx="145.8" cy="393.3" r="3.1"/><circle cx="152.2" cy="394.4" r="3.3"/><circle cx="158.1" cy="394.8" r="3.1"/><circle cx="164.7" cy="393.3" r="3.2"/><circle cx="168.8" cy="394.0" r="2.7"/><circle cx="182.7" cy="394.5" r="3.0"/><circle cx="111.9" cy="397.6" r="2.6"/><circle cx="117.3" cy="397.6" r="3.2"/><circle cx="122.4" cy="399.8" r="2.6"/><circle cx="129.5" cy="399.3" r="3.0"/><circle cx="141.3" cy="398.6" r="3.0"/><circle cx="149.3" cy="399.3" r="2.9"/><circle cx="179.8" cy="397.7" r="2.7"/><circle cx="186.4" cy="398.1" r="2.7"/><circle cx="107.4" cy="405.6" r="2.9"/><circle cx="113.8" cy="403.6" r="3.0"/><circle cx="121.5" cy="404.7" r="2.9"/><circle cx="132.8" cy="405.6" r="2.6"/><circle cx="139.0" cy="405.7" r="2.9"/><circle cx="144.3" cy="405.3" r="3.1"/><circle cx="150.5" cy="404.4" r="3.1"/><circle cx="182.5" cy="405.4" r="2.6"/><circle cx="111.1" cy="409.4" r="3.3"/><circle cx="118.5" cy="410.9" r="2.9"/><circle cx="124.0" cy="408.6" r="3.2"/><circle cx="130.0" cy="409.6" r="3.1"/><circle cx="179.5" cy="409.6" r="3.3"/><circle cx="186.2" cy="410.9" r="3.1"/><circle cx="108.6" cy="415.9" r="3.0"/><circle cx="119.4" cy="416.4" r="2.8"/><circle cx="137.7" cy="414.9" r="2.7"/><circle cx="145.9" cy="415.5" r="3.1"/><circle cx="150.8" cy="415.9" r="3.2"/><circle cx="176.7" cy="414.8" r="3.2"/><circle cx="183.7" cy="415.7" r="2.6"/><circle cx="124.4" cy="421.4" r="3.0"/><circle cx="129.3" cy="419.5" r="3.0"/><circle cx="135.9" cy="421.6" r="3.0"/><circle cx="141.2" cy="421.2" r="2.7"/><circle cx="178.5" cy="420.0" r="2.6"/><circle cx="185.3" cy="419.4" r="3.2"/><circle cx="107.3" cy="425.6" r="2.7"/><circle cx="113.9" cy="427.2" r="2.7"/><circle cx="139.8" cy="425.4" r="2.7"/><circle cx="144.2" cy="426.7" r="3.0"/><circle cx="151.3" cy="426.1" r="2.7"/><circle cx="181.7" cy="426.7" r="2.8"/><circle cx="109.8" cy="432.2" r="2.7"/><circle cx="142.6" cy="431.1" r="3.3"/><circle cx="149.2" cy="430.2" r="2.6"/><circle cx="167.4" cy="432.1" r="3.0"/><circle cx="172.8" cy="432.6" r="2.9"/><circle cx="180.0" cy="430.9" r="3.0"/><circle cx="185.2" cy="432.2" r="3.2"/><circle cx="107.6" cy="435.8" r="3.2"/><circle cx="115.2" cy="436.8" r="3.2"/><circle cx="146.2" cy="437.2" r="2.6"/><circle cx="151.6" cy="436.5" r="3.2"/><circle cx="157.8" cy="436.1" r="3.2"/><circle cx="170.9" cy="435.8" r="2.9"/><circle cx="182.4" cy="437.8" r="2.8"/><circle cx="112.2" cy="442.8" r="2.8"/><circle cx="140.9" cy="442.4" r="2.7"/><circle cx="149.2" cy="441.5" r="3.3"/><circle cx="153.7" cy="441.3" r="3.3"/><circle cx="159.6" cy="442.6" r="3.2"/><circle cx="168.2" cy="443.0" r="3.1"/><circle cx="185.0" cy="440.7" r="2.8"/><circle cx="161.8" cy="396.9" r="4.7"/><circle cx="158.2" cy="405.8" r="5.3"/><circle cx="167.8" cy="404.2" r="5.6"/><circle cx="152.1" cy="415.4" r="4.6"/><circle cx="161.7" cy="414.3" r="4.9"/><circle cx="173.3" cy="414.3" r="5.2"/><circle cx="158.2" cy="423.8" r="5.2"/><circle cx="168.9" cy="422.4" r="5.3"/></g><g fill="#b03636" stroke="#702424" stroke-width="0.4"><circle cx="107.9" cy="371.0" r="1.3"/><circle cx="113.1" cy="373.1" r="1.3"/><circle cx="119.3" cy="372.0" r="1.5"/><circle cx="126.7" cy="370.9" r="1.3"/><circle cx="132.7" cy="371.1" r="1.3"/><circle cx="139.1" cy="372.0" r="1.5"/><circle cx="144.8" cy="371.2" r="1.4"/><circle cx="151.1" cy="371.2" r="1.4"/><circle cx="156.6" cy="371.3" r="1.4"/><circle cx="164.8" cy="372.0" r="1.6"/><circle cx="171.1" cy="370.6" r="1.3"/><circle cx="177.4" cy="372.0" r="1.3"/><circle cx="183.2" cy="372.2" r="1.4"/><circle cx="118.0" cy="376.4" r="1.6"/><circle cx="122.8" cy="376.1" r="1.4"/><circle cx="129.4" cy="377.4" r="1.5"/><circle cx="135.3" cy="378.5" r="1.6"/><circle cx="140.9" cy="377.6" r="1.6"/><circle cx="147.6" cy="377.7" r="1.4"/><circle cx="155.3" cy="378.0" r="1.3"/><circle cx="159.5" cy="376.7" r="1.3"/><circle cx="167.2" cy="378.7" r="1.6"/><circle cx="171.8" cy="377.7" r="1.5"/><circle cx="179.8" cy="378.3" r="1.4"/><circle cx="185.1" cy="378.3" r="1.4"/><circle cx="107.9" cy="384.0" r="1.6"/><circle cx="112.8" cy="384.0" r="1.5"/><circle cx="120.2" cy="382.5" r="1.6"/><circle cx="125.4" cy="382.1" r="1.4"/><circle cx="133.5" cy="383.3" r="1.6"/><circle cx="138.0" cy="382.4" r="1.6"/><circle cx="144.2" cy="381.9" r="1.6"/><circle cx="158.9" cy="384.2" r="1.6"/><circle cx="170.0" cy="383.6" r="1.3"/><circle cx="177.3" cy="383.5" r="1.6"/><circle cx="182.8" cy="381.9" r="1.4"/><circle cx="111.5" cy="389.2" r="1.3"/><circle cx="118.1" cy="387.0" r="1.7"/><circle cx="124.1" cy="387.8" r="1.3"/><circle cx="136.4" cy="388.9" r="1.6"/><circle cx="141.1" cy="389.1" r="1.5"/><circle cx="178.7" cy="389.5" r="1.5"/><circle cx="185.6" cy="389.4" r="1.6"/><circle cx="106.9" cy="394.9" r="1.5"/><circle cx="115.0" cy="392.9" r="1.3"/><circle cx="125.8" cy="393.5" r="1.5"/><circle cx="132.1" cy="393.6" r="1.4"/><circle cx="145.8" cy="393.3" r="1.6"/><circle cx="152.2" cy="394.4" r="1.7"/><circle cx="158.1" cy="394.8" r="1.6"/><circle cx="164.7" cy="393.3" r="1.6"/><circle cx="168.8" cy="394.0" r="1.3"/><circle cx="182.7" cy="394.5" r="1.5"/><circle cx="111.9" cy="397.6" r="1.3"/><circle cx="117.3" cy="397.6" r="1.6"/><circle cx="122.4" cy="399.8" r="1.3"/><circle cx="129.5" cy="399.3" r="1.5"/><circle cx="141.3" cy="398.6" r="1.5"/><circle cx="149.3" cy="399.3" r="1.5"/><circle cx="179.8" cy="397.7" r="1.3"/><circle cx="186.4" cy="398.1" r="1.3"/><circle cx="107.4" cy="405.6" r="1.5"/><circle cx="113.8" cy="403.6" r="1.5"/><circle cx="121.5" cy="404.7" r="1.5"/><circle cx="132.8" cy="405.6" r="1.3"/><circle cx="139.0" cy="405.7" r="1.4"/><circle cx="144.3" cy="405.3" r="1.6"/><circle cx="150.5" cy="404.4" r="1.5"/><circle cx="182.5" cy="405.4" r="1.3"/><circle cx="111.1" cy="409.4" r="1.7"/><circle cx="118.5" cy="410.9" r="1.4"/><circle cx="124.0" cy="408.6" r="1.6"/><circle cx="130.0" cy="409.6" r="1.6"/><circle cx="179.5" cy="409.6" r="1.7"/><circle cx="186.2" cy="410.9" r="1.5"/><circle cx="108.6" cy="415.9" r="1.5"/><circle cx="119.4" cy="416.4" r="1.4"/><circle cx="137.7" cy="414.9" r="1.3"/><circle cx="145.9" cy="415.5" r="1.6"/><circle cx="150.8" cy="415.9" r="1.6"/><circle cx="176.7" cy="414.8" r="1.6"/><circle cx="183.7" cy="415.7" r="1.3"/><circle cx="124.4" cy="421.4" r="1.5"/><circle cx="129.3" cy="419.5" r="1.5"/><circle cx="135.9" cy="421.6" r="1.5"/><circle cx="141.2" cy="421.2" r="1.3"/><circle cx="178.5" cy="420.0" r="1.3"/><circle cx="185.3" cy="419.4" r="1.6"/><circle cx="107.3" cy="425.6" r="1.3"/><circle cx="113.9" cy="427.2" r="1.4"/><circle cx="139.8" cy="425.4" r="1.3"/><circle cx="144.2" cy="426.7" r="1.5"/><circle cx="151.3" cy="426.1" r="1.3"/><circle cx="181.7" cy="426.7" r="1.4"/><circle cx="109.8" cy="432.2" r="1.3"/><circle cx="142.6" cy="431.1" r="1.7"/><circle cx="149.2" cy="430.2" r="1.3"/><circle cx="167.4" cy="432.1" r="1.5"/><circle cx="172.8" cy="432.6" r="1.5"/><circle cx="180.0" cy="430.9" r="1.5"/><circle cx="185.2" cy="432.2" r="1.6"/><circle cx="107.6" cy="435.8" r="1.6"/><circle cx="115.2" cy="436.8" r="1.6"/><circle cx="146.2" cy="437.2" r="1.3"/><circle cx="151.6" cy="436.5" r="1.6"/><circle cx="157.8" cy="436.1" r="1.6"/><circle cx="170.9" cy="435.8" r="1.5"/><circle cx="182.4" cy="437.8" r="1.4"/><circle cx="112.2" cy="442.8" r="1.4"/><circle cx="140.9" cy="442.4" r="1.3"/><circle cx="149.2" cy="441.5" r="1.7"/><circle cx="153.7" cy="441.3" r="1.7"/><circle cx="159.6" cy="442.6" r="1.6"/><circle cx="168.2" cy="443.0" r="1.6"/><circle cx="185.0" cy="440.7" r="1.4"/><circle cx="161.8" cy="396.9" r="2.5"/><circle cx="158.2" cy="405.8" r="2.8"/><circle cx="167.8" cy="404.2" r="3.0"/><circle cx="152.1" cy="415.4" r="2.4"/><circle cx="161.7" cy="414.3" r="2.6"/><circle cx="173.3" cy="414.3" r="2.8"/><circle cx="158.2" cy="423.8" r="2.8"/><circle cx="168.9" cy="422.4" r="2.8"/></g></g><clipPath id="c12"><rect x="111.0" y="446.1" width="68.3" height="70.6"/></clipPath><g clip-path="url(#c12)"><rect x="111.0" y="446.1" width="68.3" height="70.6" fill="#000" stroke="none" stroke-width="1" /><circle cx="162.4" cy="463.6" r="0.9" fill="#6c6ae2" opacity="0.5"/><circle cx="158.2" cy="460.9" r="0.9" fill="#6c6ae2" opacity="0.9"/><circle cx="154.9" cy="487.8" r="1.1" fill="#6c6ae2" opacity="0.8"/><circle cx="158.5" cy="467.6" r="0.7" fill="#6c6ae2" opacity="0.5"/><circle cx="112.0" cy="471.6" r="0.8" fill="#6c6ae2" opacity="0.6"/><circle cx="144.7" cy="514.5" r="1.1" fill="#6c6ae2" opacity="0.6"/><circle cx="163.6" cy="458.7" r="0.8" fill="#6c6ae2" opacity="0.6"/><circle cx="138.9" cy="494.8" r="1.0" fill="#6c6ae2" opacity="0.8"/><circle cx="117.5" cy="511.9" r="0.9" fill="#6c6ae2" opacity="0.9"/><circle cx="113.1" cy="504.6" r="0.8" fill="#6c6ae2" opacity="0.9"/><circle cx="165.8" cy="493.5" r="0.9" fill="#6c6ae2" opacity="0.5"/><circle cx="124.0" cy="510.0" r="0.8" fill="#6c6ae2" opacity="0.8"/><circle cx="151.1" cy="492.8" r="0.8" fill="#6c6ae2" opacity="0.6"/><circle cx="117.6" cy="515.5" r="0.9" fill="#6c6ae2" opacity="0.8"/><circle cx="149.9" cy="461.9" r="0.7" fill="#6c6ae2" opacity="0.5"/><circle cx="169.2" cy="455.3" r="1.3" fill="#6c6ae2" opacity="0.7"/><circle cx="160.4" cy="455.9" r="1.2" fill="#6c6ae2" opacity="0.6"/><circle cx="136.0" cy="483.0" r="0.8" fill="#6c6ae2" opacity="0.6"/><circle cx="165.4" cy="466.2" r="0.9" fill="#6c6ae2" opacity="0.8"/><circle cx="126.3" cy="459.8" r="0.8" fill="#6c6ae2" opacity="0.7"/><circle cx="136.0" cy="491.4" r="1.0" fill="#6c6ae2" opacity="0.9"/><circle cx="114.5" cy="493.0" r="1.2" fill="#6c6ae2" opacity="0.6"/><circle cx="113.0" cy="477.0" r="0.8" fill="#6c6ae2" opacity="0.7"/><circle cx="159.6" cy="452.7" r="0.8" fill="#6c6ae2" opacity="0.7"/><circle cx="122.9" cy="462.4" r="1.0" fill="#6c6ae2" opacity="0.6"/><circle cx="115.6" cy="471.6" r="1.0" fill="#6c6ae2" opacity="0.9"/><circle cx="148.9" cy="451.1" r="0.8" fill="#6c6ae2" opacity="0.8"/><circle cx="149.4" cy="507.5" r="1.3" fill="#6c6ae2" opacity="0.9"/><circle cx="118.5" cy="512.7" r="1.0" fill="#6c6ae2" opacity="0.6"/><circle cx="122.7" cy="507.1" r="0.8" fill="#6c6ae2" opacity="0.5"/><circle cx="129.1" cy="511.3" r="1.0" fill="#6c6ae2" opacity="0.8"/><circle cx="116.1" cy="478.1" r="0.9" fill="#6c6ae2" opacity="0.6"/><circle cx="156.3" cy="471.6" r="0.8" fill="#6c6ae2" opacity="0.9"/><circle cx="143.9" cy="458.8" r="0.7" fill="#6c6ae2" opacity="0.8"/><circle cx="146.2" cy="447.8" r="1.0" fill="#6c6ae2" opacity="0.8"/><circle cx="147.7" cy="462.6" r="1.0" fill="#6c6ae2" opacity="0.8"/><circle cx="155.5" cy="456.3" r="1.2" fill="#6c6ae2" opacity="0.9"/><circle cx="161.6" cy="506.6" r="0.9" fill="#6c6ae2" opacity="0.9"/><circle cx="123.4" cy="462.1" r="1.1" fill="#6c6ae2" opacity="0.9"/><circle cx="116.6" cy="461.4" r="0.7" fill="#6c6ae2" opacity="0.7"/><circle cx="120.6" cy="459.6" r="1.1" fill="#6c6ae2" opacity="0.8"/><circle cx="175.2" cy="474.5" r="1.1" fill="#6c6ae2" opacity="0.5"/><circle cx="175.8" cy="462.6" r="1.0" fill="#6c6ae2" opacity="0.7"/><circle cx="175.8" cy="480.8" r="1.3" fill="#6c6ae2" opacity="0.8"/><circle cx="125.8" cy="505.0" r="0.8" fill="#6c6ae2" opacity="0.9"/><circle cx="142.2" cy="462.1" r="1.3" fill="#6c6ae2" opacity="0.6"/><circle cx="138.8" cy="470.3" r="1.1" fill="#6c6ae2" opacity="0.5"/><circle cx="136.5" cy="457.5" r="1.2" fill="#6c6ae2" opacity="0.5"/><circle cx="152.5" cy="464.3" r="1.0" fill="#6c6ae2" opacity="0.8"/><circle cx="159.6" cy="455.8" r="0.8" fill="#6c6ae2" opacity="0.6"/><circle cx="176.6" cy="456.6" r="0.8" fill="#6c6ae2" opacity="0.7"/><circle cx="150.7" cy="508.7" r="0.7" fill="#6c6ae2" opacity="0.6"/><circle cx="122.4" cy="487.4" r="1.0" fill="#6c6ae2" opacity="0.7"/><circle cx="171.7" cy="492.8" r="1.2" fill="#6c6ae2" opacity="0.9"/><circle cx="129.4" cy="512.6" r="0.9" fill="#6c6ae2" opacity="0.5"/><circle cx="173.5" cy="453.4" r="0.7" fill="#6c6ae2" opacity="0.6"/><circle cx="130.7" cy="514.4" r="1.2" fill="#6c6ae2" opacity="0.7"/><circle cx="147.2" cy="506.0" r="1.2" fill="#6c6ae2" opacity="0.8"/><circle cx="146.0" cy="454.3" r="0.8" fill="#6c6ae2" opacity="0.8"/><circle cx="151.0" cy="502.7" r="1.2" fill="#6c6ae2" opacity="0.9"/><circle cx="124.2" cy="451.5" r="1.2" fill="#6c6ae2" opacity="0.8"/><circle cx="123.4" cy="495.0" r="0.9" fill="#6c6ae2" opacity="0.6"/><circle cx="136.0" cy="483.1" r="1.1" fill="#6c6ae2" opacity="0.5"/><circle cx="161.6" cy="490.2" r="1.0" fill="#6c6ae2" opacity="0.8"/><circle cx="165.6" cy="446.8" r="1.0" fill="#6c6ae2" opacity="0.8"/><circle cx="159.4" cy="491.8" r="0.8" fill="#6c6ae2" opacity="0.9"/><circle cx="164.7" cy="462.5" r="1.0" fill="#6c6ae2" opacity="0.9"/><circle cx="125.1" cy="475.0" r="1.3" fill="#6c6ae2" opacity="0.9"/><circle cx="126.9" cy="498.0" r="0.9" fill="#6c6ae2" opacity="0.8"/><circle cx="163.4" cy="455.1" r="0.8" fill="#6c6ae2" opacity="0.6"/><circle cx="129.2" cy="448.6" r="0.8" fill="#6c6ae2" opacity="0.7"/><circle cx="139.7" cy="451.6" r="1.0" fill="#6c6ae2" opacity="0.9"/><circle cx="150.4" cy="471.2" r="1.1" fill="#6c6ae2" opacity="0.7"/><circle cx="123.0" cy="480.1" r="0.7" fill="#6c6ae2" opacity="0.8"/><circle cx="122.0" cy="472.2" r="1.3" fill="#6c6ae2" opacity="0.8"/><circle cx="168.1" cy="491.4" r="1.1" fill="#6c6ae2" opacity="0.8"/><circle cx="177.0" cy="460.0" r="1.2" fill="#6c6ae2" opacity="0.6"/><circle cx="128.5" cy="504.1" r="1.1" fill="#6c6ae2" opacity="0.9"/><circle cx="170.8" cy="487.7" r="0.8" fill="#6c6ae2" opacity="0.5"/><circle cx="147.5" cy="497.3" r="0.9" fill="#6c6ae2" opacity="0.5"/><circle cx="111.3" cy="458.3" r="1.1" fill="#6c6ae2" opacity="0.5"/><circle cx="126.7" cy="464.8" r="1.1" fill="#6c6ae2" opacity="0.9"/><circle cx="112.3" cy="454.2" r="1.3" fill="#6c6ae2" opacity="0.9"/><circle cx="121.2" cy="469.8" r="1.0" fill="#6c6ae2" opacity="0.6"/><circle cx="139.5" cy="479.9" r="0.9" fill="#6c6ae2" opacity="0.5"/><circle cx="116.7" cy="457.6" r="0.8" fill="#6c6ae2" opacity="0.8"/><circle cx="158.6" cy="464.7" r="1.2" fill="#6c6ae2" opacity="0.8"/><circle cx="134.3" cy="480.8" r="0.8" fill="#6c6ae2" opacity="0.9"/><circle cx="149.3" cy="449.7" r="0.8" fill="#6c6ae2" opacity="0.8"/><circle cx="137.3" cy="496.7" r="0.8" fill="#6c6ae2" opacity="0.9"/><circle cx="165.8" cy="452.8" r="1.1" fill="#6c6ae2" opacity="0.6"/><circle cx="159.3" cy="502.9" r="1.2" fill="#6c6ae2" opacity="0.6"/><circle cx="117.4" cy="492.9" r="1.0" fill="#6c6ae2" opacity="0.6"/><circle cx="124.2" cy="487.2" r="0.8" fill="#6c6ae2" opacity="0.8"/><circle cx="127.5" cy="464.4" r="1.0" fill="#6c6ae2" opacity="0.7"/><circle cx="160.5" cy="448.3" r="1.1" fill="#6c6ae2" opacity="0.6"/><circle cx="130.9" cy="491.3" r="1.1" fill="#6c6ae2" opacity="0.8"/><circle cx="172.6" cy="460.5" r="0.9" fill="#6c6ae2" opacity="0.8"/><circle cx="128.8" cy="457.2" r="0.8" fill="#6c6ae2" opacity="0.8"/><circle cx="167.5" cy="496.7" r="1.3" fill="#6c6ae2" opacity="0.9"/><circle cx="132.2" cy="468.4" r="1.1" fill="#6c6ae2" opacity="0.5"/><circle cx="152.6" cy="452.4" r="0.7" fill="#6c6ae2" opacity="0.7"/><circle cx="121.3" cy="511.9" r="1.2" fill="#6c6ae2" opacity="0.7"/><circle cx="124.5" cy="454.5" r="1.0" fill="#6c6ae2" opacity="0.7"/><circle cx="135.8" cy="496.7" r="1.0" fill="#6c6ae2" opacity="0.8"/><circle cx="118.3" cy="451.0" r="0.9" fill="#6c6ae2" opacity="0.7"/><circle cx="128.3" cy="493.3" r="0.8" fill="#6c6ae2" opacity="0.6"/><circle cx="143.6" cy="496.4" r="1.2" fill="#6c6ae2" opacity="0.7"/><circle cx="141.5" cy="511.6" r="1.3" fill="#6c6ae2" opacity="0.8"/><circle cx="118.2" cy="478.3" r="1.1" fill="#6c6ae2" opacity="0.6"/><circle cx="113.6" cy="515.4" r="1.2" fill="#6c6ae2" opacity="0.6"/><circle cx="142.8" cy="489.8" r="0.9" fill="#6c6ae2" opacity="0.5"/><circle cx="162.3" cy="500.5" r="1.0" fill="#6c6ae2" opacity="0.5"/><circle cx="137.9" cy="452.7" r="1.3" fill="#6c6ae2" opacity="0.5"/><circle cx="130.7" cy="500.3" r="0.8" fill="#6c6ae2" opacity="0.5"/><circle cx="115.8" cy="457.7" r="1.0" fill="#6c6ae2" opacity="0.9"/><circle cx="122.6" cy="458.4" r="1.2" fill="#6c6ae2" opacity="0.7"/><circle cx="134.1" cy="454.8" r="0.8" fill="#6c6ae2" opacity="0.9"/><circle cx="119.0" cy="464.4" r="1.1" fill="#6c6ae2" opacity="0.9"/><circle cx="172.8" cy="479.5" r="1.3" fill="#6c6ae2" opacity="0.8"/><circle cx="130.7" cy="478.9" r="1.1" fill="#6c6ae2" opacity="0.8"/><circle cx="119.9" cy="459.8" r="1.3" fill="#6c6ae2" opacity="0.5"/><circle cx="166.6" cy="470.0" r="0.8" fill="#6c6ae2" opacity="0.6"/><circle cx="143.0" cy="516.0" r="0.8" fill="#6c6ae2" opacity="0.9"/><circle cx="132.9" cy="458.3" r="1.1" fill="#6c6ae2" opacity="0.7"/><circle cx="123.8" cy="475.6" r="1.2" fill="#6c6ae2" opacity="0.9"/><circle cx="150.3" cy="446.8" r="1.2" fill="#6c6ae2" opacity="0.8"/><circle cx="172.4" cy="513.3" r="0.9" fill="#6c6ae2" opacity="0.9"/><circle cx="166.9" cy="464.9" r="0.9" fill="#6c6ae2" opacity="0.7"/><circle cx="135.1" cy="472.8" r="0.8" fill="#6c6ae2" opacity="0.6"/><circle cx="173.1" cy="475.1" r="1.1" fill="#6c6ae2" opacity="0.9"/><circle cx="162.6" cy="463.4" r="1.3" fill="#6c6ae2" opacity="0.9"/><circle cx="178.7" cy="497.5" r="1.2" fill="#6c6ae2" opacity="0.9"/><circle cx="128.3" cy="492.4" r="0.9" fill="#6c6ae2" opacity="0.9"/><circle cx="120.1" cy="484.2" r="0.9" fill="#6c6ae2" opacity="0.9"/><circle cx="134.6" cy="505.7" r="1.2" fill="#6c6ae2" opacity="0.9"/><circle cx="120.5" cy="512.3" r="1.1" fill="#6c6ae2" opacity="0.8"/><circle cx="155.6" cy="449.5" r="1.2" fill="#6c6ae2" opacity="0.7"/><circle cx="142.1" cy="470.1" r="1.2" fill="#6c6ae2" opacity="0.9"/><circle cx="170.4" cy="461.2" r="0.9" fill="#6c6ae2" opacity="0.6"/><circle cx="117.9" cy="469.2" r="1.8" fill="#7a7af4" fill-opacity="0.85"/><circle cx="165.4" cy="462.1" r="1.9" fill="#7a7af4" fill-opacity="0.85"/><circle cx="115.6" cy="498.4" r="2.0" fill="#7a7af4" fill-opacity="0.85"/><circle cx="142.6" cy="474.5" r="2.4" fill="#7a7af4" fill-opacity="0.85"/><circle cx="176.2" cy="468.0" r="2.3" fill="#7a7af4" fill-opacity="0.85"/><circle cx="172.1" cy="479.3" r="2.5" fill="#7a7af4" fill-opacity="0.85"/><circle cx="161.1" cy="468.1" r="2.5" fill="#7a7af4" fill-opacity="0.85"/><circle cx="150.2" cy="453.6" r="2.3" fill="#7a7af4" fill-opacity="0.85"/><circle cx="167.6" cy="482.7" r="2.2" fill="#7a7af4" fill-opacity="0.85"/><circle cx="139.4" cy="508.3" r="2.3" fill="#7a7af4" fill-opacity="0.85"/><circle cx="125.2" cy="471.7" r="0.6" fill="#d09050" opacity=".6"/><circle cx="135.8" cy="513.8" r="0.6" fill="#d09050" opacity=".6"/><circle cx="158.5" cy="454.9" r="0.6" fill="#d09050" opacity=".6"/><circle cx="173.4" cy="448.6" r="0.6" fill="#d09050" opacity=".6"/><circle cx="151.4" cy="476.6" r="0.6" fill="#d09050" opacity=".6"/><circle cx="160.0" cy="476.4" r="0.6" fill="#d09050" opacity=".6"/><circle cx="117.3" cy="483.1" r="0.6" fill="#d09050" opacity=".6"/><circle cx="167.0" cy="501.8" r="0.6" fill="#d09050" opacity=".6"/><circle cx="135.4" cy="461.8" r="0.6" fill="#d09050" opacity=".6"/><circle cx="161.9" cy="502.7" r="0.6" fill="#d09050" opacity=".6"/><circle cx="126.0" cy="508.4" r="0.6" fill="#d09050" opacity=".6"/><circle cx="178.8" cy="476.7" r="0.6" fill="#d09050" opacity=".6"/><circle cx="137.0" cy="496.2" r="0.6" fill="#d09050" opacity=".6"/><circle cx="174.5" cy="460.3" r="0.6" fill="#d09050" opacity=".6"/><circle cx="131.6" cy="469.3" r="0.6" fill="#d09050" opacity=".6"/><circle cx="161.0" cy="459.3" r="0.6" fill="#d09050" opacity=".6"/><circle cx="148.4" cy="481.4" r="0.6" fill="#d09050" opacity=".6"/><circle cx="156.7" cy="456.2" r="0.6" fill="#d09050" opacity=".6"/><circle cx="176.3" cy="516.7" r="0.6" fill="#d09050" opacity=".6"/><circle cx="149.3" cy="502.2" r="0.6" fill="#d09050" opacity=".6"/><circle cx="123.5" cy="510.4" r="0.6" fill="#d09050" opacity=".6"/><circle cx="148.7" cy="499.7" r="0.6" fill="#d09050" opacity=".6"/><circle cx="170.3" cy="471.6" r="0.6" fill="#d09050" opacity=".6"/><circle cx="174.1" cy="460.7" r="0.6" fill="#d09050" opacity=".6"/><circle cx="112.6" cy="481.6" r="0.6" fill="#d09050" opacity=".6"/><circle cx="172.4" cy="509.7" r="0.6" fill="#d09050" opacity=".6"/><circle cx="176.2" cy="482.2" r="0.6" fill="#d09050" opacity=".6"/><circle cx="174.7" cy="485.6" r="0.6" fill="#d09050" opacity=".6"/><circle cx="120.8" cy="490.7" r="0.6" fill="#d09050" opacity=".6"/><circle cx="165.9" cy="476.0" r="0.6" fill="#d09050" opacity=".6"/><circle cx="152.1" cy="464.4" r="0.6" fill="#d09050" opacity=".6"/><circle cx="129.9" cy="475.8" r="0.6" fill="#d09050" opacity=".6"/><circle cx="146.1" cy="479.2" r="0.6" fill="#d09050" opacity=".6"/><circle cx="117.3" cy="446.5" r="0.6" fill="#d09050" opacity=".6"/><circle cx="134.2" cy="496.7" r="0.6" fill="#d09050" opacity=".6"/><circle cx="162.1" cy="462.8" r="0.6" fill="#d09050" opacity=".6"/><circle cx="128.5" cy="482.6" r="0.6" fill="#d09050" opacity=".6"/><circle cx="123.0" cy="488.7" r="0.6" fill="#d09050" opacity=".6"/><circle cx="172.8" cy="460.4" r="0.6" fill="#d09050" opacity=".6"/><circle cx="151.0" cy="497.0" r="0.6" fill="#d09050" opacity=".6"/></g><clipPath id="c20"><rect x="182.0" y="303.8" width="68.5" height="70.1"/></clipPath><g clip-path="url(#c20)"><rect x="182.0" y="303.8" width="68.5" height="70.1" fill="#000" stroke="none" stroke-width="1" /><circle cx="179.7" cy="301.4" r="1.8" fill="rgb(1,4,0)" stroke="rgb(4,14,1)" stroke-width="0.75"/><circle cx="185.0" cy="300.1" r="2.2" fill="rgb(1,3,0)" stroke="rgb(3,10,0)" stroke-width="0.75"/><circle cx="190.8" cy="302.1" r="1.9" fill="rgb(2,7,0)" stroke="rgb(7,23,1)" stroke-width="0.75"/><circle cx="193.9" cy="302.1" r="2.2" fill="rgb(1,4,0)" stroke="rgb(4,13,1)" stroke-width="0.75"/><circle cx="200.4" cy="299.6" r="2.0" fill="rgb(1,4,0)" stroke="rgb(3,13,1)" stroke-width="0.75"/><circle cx="204.7" cy="301.7" r="2.0" fill="rgb(2,6,0)" stroke="rgb(6,20,1)" stroke-width="0.75"/><circle cx="211.9" cy="299.7" r="1.7" fill="rgb(1,4,0)" stroke="rgb(3,12,1)" stroke-width="0.75"/><circle cx="216.7" cy="301.2" r="2.4" fill="rgb(1,5,0)" stroke="rgb(5,18,1)" stroke-width="0.75"/><circle cx="223.7" cy="300.3" r="1.8" fill="rgb(2,7,0)" stroke="rgb(7,23,1)" stroke-width="0.75"/><circle cx="228.4" cy="300.0" r="2.0" fill="rgb(1,5,0)" stroke="rgb(5,17,1)" stroke-width="0.75"/><circle cx="232.1" cy="299.8" r="2.2" fill="rgb(1,4,0)" stroke="rgb(3,12,1)" stroke-width="0.75"/><circle cx="238.1" cy="301.2" r="2.3" fill="rgb(1,5,0)" stroke="rgb(5,16,1)" stroke-width="0.75"/><circle cx="243.2" cy="299.8" r="2.4" fill="rgb(1,4,0)" stroke="rgb(4,13,1)" stroke-width="0.75"/><circle cx="248.4" cy="299.6" r="2.0" fill="rgb(2,6,0)" stroke="rgb(6,20,1)" stroke-width="0.75"/><circle cx="253.7" cy="300.2" r="2.0" fill="rgb(1,3,0)" stroke="rgb(3,11,0)" stroke-width="0.75"/><circle cx="181.7" cy="304.5" r="2.2" fill="rgb(1,3,0)" stroke="rgb(3,11,0)" stroke-width="0.75"/><circle cx="187.0" cy="305.3" r="2.1" fill="rgb(1,6,0)" stroke="rgb(5,19,1)" stroke-width="0.75"/><circle cx="193.9" cy="305.5" r="1.7" fill="rgb(2,7,0)" stroke="rgb(7,24,1)" stroke-width="0.75"/><circle cx="199.2" cy="305.4" r="2.3" fill="rgb(2,6,0)" stroke="rgb(6,20,1)" stroke-width="0.75"/><circle cx="202.4" cy="305.8" r="1.9" fill="rgb(1,3,0)" stroke="rgb(3,12,0)" stroke-width="0.75"/><circle cx="207.6" cy="304.5" r="2.1" fill="rgb(1,3,0)" stroke="rgb(3,11,0)" stroke-width="0.75"/><circle cx="212.8" cy="306.1" r="1.9" fill="rgb(2,6,0)" stroke="rgb(6,21,1)" stroke-width="0.75"/><circle cx="220.9" cy="305.2" r="2.0" fill="rgb(2,6,0)" stroke="rgb(6,21,1)" stroke-width="0.75"/><circle cx="224.5" cy="305.3" r="1.9" fill="rgb(2,6,0)" stroke="rgb(6,21,1)" stroke-width="0.75"/><circle cx="229.9" cy="306.1" r="2.0" fill="rgb(2,8,0)" stroke="rgb(7,25,2)" stroke-width="0.75"/><circle cx="235.4" cy="304.5" r="1.8" fill="rgb(1,3,0)" stroke="rgb(3,10,0)" stroke-width="0.75"/><circle cx="242.2" cy="305.7" r="2.3" fill="rgb(2,6,0)" stroke="rgb(6,20,1)" stroke-width="0.75"/><circle cx="245.0" cy="306.5" r="1.8" fill="rgb(1,6,0)" stroke="rgb(5,18,1)" stroke-width="0.75"/><circle cx="252.6" cy="305.1" r="2.2" fill="rgb(2,6,0)" stroke="rgb(6,21,1)" stroke-width="0.75"/><circle cx="257.7" cy="306.8" r="2.0" fill="rgb(1,3,0)" stroke="rgb(3,11,0)" stroke-width="0.75"/><circle cx="178.7" cy="310.0" r="1.7" fill="rgb(1,6,0)" stroke="rgb(5,18,1)" stroke-width="0.75"/><circle cx="183.8" cy="310.4" r="1.9" fill="rgb(1,3,0)" stroke="rgb(3,10,0)" stroke-width="0.75"/><circle cx="190.3" cy="310.9" r="2.4" fill="rgb(2,7,0)" stroke="rgb(6,23,1)" stroke-width="0.75"/><circle cx="196.5" cy="309.1" r="2.3" fill="rgb(1,4,0)" stroke="rgb(4,15,1)" stroke-width="0.75"/><circle cx="200.2" cy="311.3" r="2.3" fill="rgb(2,7,0)" stroke="rgb(6,22,1)" stroke-width="0.75"/><circle cx="206.9" cy="310.5" r="2.4" fill="rgb(2,6,0)" stroke="rgb(6,20,1)" stroke-width="0.75"/><circle cx="211.9" cy="309.7" r="2.4" fill="rgb(2,6,0)" stroke="rgb(6,21,1)" stroke-width="0.75"/><circle cx="218.1" cy="310.3" r="1.8" fill="rgb(2,6,0)" stroke="rgb(6,20,1)" stroke-width="0.75"/><circle cx="221.9" cy="309.2" r="2.0" fill="rgb(1,6,0)" stroke="rgb(5,19,1)" stroke-width="0.75"/><circle cx="226.4" cy="311.4" r="2.0" fill="rgb(1,5,0)" stroke="rgb(4,16,1)" stroke-width="0.75"/><circle cx="233.9" cy="308.8" r="2.1" fill="rgb(1,5,0)" stroke="rgb(5,18,1)" stroke-width="0.75"/><circle cx="237.9" cy="310.1" r="1.9" fill="rgb(1,4,0)" stroke="rgb(4,13,1)" stroke-width="0.75"/><circle cx="243.8" cy="309.8" r="2.1" fill="rgb(1,5,0)" stroke="rgb(5,17,1)" stroke-width="0.75"/><circle cx="250.4" cy="309.7" r="2.2" fill="rgb(1,5,0)" stroke="rgb(4,15,1)" stroke-width="0.75"/><circle cx="254.7" cy="311.5" r="2.1" fill="rgb(1,3,0)" stroke="rgb(3,12,0)" stroke-width="0.75"/><circle cx="182.1" cy="314.8" r="2.2" fill="rgb(1,4,0)" stroke="rgb(4,14,1)" stroke-width="0.75"/><circle cx="186.6" cy="314.6" r="2.2" fill="rgb(2,6,0)" stroke="rgb(6,20,1)" stroke-width="0.75"/><circle cx="192.8" cy="315.8" r="1.9" fill="rgb(1,5,0)" stroke="rgb(5,18,1)" stroke-width="0.75"/><circle cx="197.2" cy="314.5" r="2.1" fill="rgb(2,8,0)" stroke="rgb(7,25,2)" stroke-width="0.75"/><circle cx="203.0" cy="314.5" r="1.9" fill="rgb(1,5,0)" stroke="rgb(5,17,1)" stroke-width="0.75"/><circle cx="209.9" cy="315.0" r="2.2" fill="rgb(1,5,0)" stroke="rgb(5,18,1)" stroke-width="0.75"/><circle cx="213.4" cy="314.4" r="2.0" fill="rgb(2,7,0)" stroke="rgb(7,24,1)" stroke-width="0.75"/><circle cx="220.5" cy="313.9" r="1.8" fill="rgb(2,7,0)" stroke="rgb(7,23,1)" stroke-width="0.75"/><circle cx="225.5" cy="313.5" r="2.0" fill="rgb(1,5,0)" stroke="rgb(5,18,1)" stroke-width="0.75"/><circle cx="229.4" cy="313.6" r="2.0" fill="rgb(1,5,0)" stroke="rgb(4,16,1)" stroke-width="0.75"/><circle cx="236.6" cy="313.8" r="2.2" fill="rgb(2,7,0)" stroke="rgb(6,22,1)" stroke-width="0.75"/><circle cx="240.3" cy="313.6" r="1.9" fill="rgb(1,4,0)" stroke="rgb(4,13,1)" stroke-width="0.75"/><circle cx="245.8" cy="315.6" r="2.2" fill="rgb(2,6,0)" stroke="rgb(6,21,1)" stroke-width="0.75"/><circle cx="252.6" cy="316.1" r="2.1" fill="rgb(1,6,0)" stroke="rgb(5,19,1)" stroke-width="0.75"/><circle cx="258.6" cy="315.0" r="1.9" fill="rgb(1,6,0)" stroke="rgb(5,18,1)" stroke-width="0.75"/><circle cx="180.3" cy="318.4" r="2.0" fill="rgb(1,3,0)" stroke="rgb(3,11,0)" stroke-width="0.75"/><circle cx="185.7" cy="319.4" r="2.4" fill="rgb(1,3,0)" stroke="rgb(3,11,0)" stroke-width="0.75"/><circle cx="188.9" cy="320.3" r="2.2" fill="rgb(1,6,0)" stroke="rgb(5,18,1)" stroke-width="0.75"/><circle cx="196.3" cy="319.2" r="2.3" fill="rgb(2,8,0)" stroke="rgb(7,26,2)" stroke-width="0.75"/><circle cx="199.4" cy="320.7" r="1.9" fill="rgb(1,4,0)" stroke="rgb(4,15,1)" stroke-width="0.75"/><circle cx="206.8" cy="319.9" r="2.3" fill="rgb(1,4,0)" stroke="rgb(4,13,1)" stroke-width="0.75"/><circle cx="212.8" cy="318.2" r="2.0" fill="rgb(2,7,0)" stroke="rgb(7,24,1)" stroke-width="0.75"/><circle cx="215.5" cy="318.5" r="1.9" fill="rgb(1,5,0)" stroke="rgb(5,18,1)" stroke-width="0.75"/><circle cx="220.8" cy="320.2" r="2.2" fill="rgb(2,6,0)" stroke="rgb(6,20,1)" stroke-width="0.75"/><circle cx="228.0" cy="318.4" r="2.3" fill="rgb(2,8,0)" stroke="rgb(7,26,2)" stroke-width="0.75"/><circle cx="232.0" cy="318.6" r="2.0" fill="rgb(2,8,0)" stroke="rgb(7,25,2)" stroke-width="0.75"/><circle cx="238.7" cy="320.1" r="1.9" fill="rgb(1,5,0)" stroke="rgb(5,17,1)" stroke-width="0.75"/><circle cx="245.2" cy="319.2" r="1.8" fill="rgb(2,8,0)" stroke="rgb(7,25,2)" stroke-width="0.75"/><circle cx="250.6" cy="319.4" r="1.9" fill="rgb(1,4,0)" stroke="rgb(3,12,1)" stroke-width="0.75"/><circle cx="254.3" cy="318.9" r="2.3" fill="rgb(2,7,0)" stroke="rgb(6,22,1)" stroke-width="0.75"/><circle cx="180.9" cy="325.7" r="2.3" fill="rgb(1,4,0)" stroke="rgb(4,15,1)" stroke-width="0.75"/><circle cx="188.6" cy="324.9" r="2.0" fill="rgb(2,7,0)" stroke="rgb(7,24,1)" stroke-width="0.75"/><circle cx="191.5" cy="323.3" r="2.2" fill="rgb(1,4,0)" stroke="rgb(4,14,1)" stroke-width="0.75"/><circle cx="196.9" cy="323.8" r="1.8" fill="rgb(1,5,0)" stroke="rgb(5,17,1)" stroke-width="0.75"/><circle cx="204.0" cy="323.0" r="2.0" fill="rgb(2,8,0)" stroke="rgb(8,27,2)" stroke-width="0.75"/><circle cx="208.8" cy="324.8" r="2.1" fill="rgb(1,6,0)" stroke="rgb(5,19,1)" stroke-width="0.75"/><circle cx="212.7" cy="324.1" r="1.7" fill="rgb(1,5,0)" stroke="rgb(5,16,1)" stroke-width="0.75"/><circle cx="220.4" cy="324.5" r="2.0" fill="rgb(1,6,0)" stroke="rgb(5,19,1)" stroke-width="0.75"/><circle cx="224.8" cy="325.4" r="2.0" fill="rgb(1,4,0)" stroke="rgb(3,12,1)" stroke-width="0.75"/><circle cx="230.6" cy="323.8" r="1.9" fill="rgb(2,7,0)" stroke="rgb(7,24,1)" stroke-width="0.75"/><circle cx="235.4" cy="325.6" r="2.1" fill="rgb(2,7,0)" stroke="rgb(6,22,1)" stroke-width="0.75"/><circle cx="242.2" cy="325.5" r="1.7" fill="rgb(1,4,0)" stroke="rgb(4,14,1)" stroke-width="0.75"/><circle cx="246.7" cy="323.2" r="2.1" fill="rgb(2,6,0)" stroke="rgb(6,20,1)" stroke-width="0.75"/><circle cx="250.9" cy="323.9" r="1.8" fill="rgb(1,4,0)" stroke="rgb(4,14,1)" stroke-width="0.75"/><circle cx="257.9" cy="322.8" r="2.3" fill="rgb(2,6,0)" stroke="rgb(6,21,1)" stroke-width="0.75"/><circle cx="179.9" cy="329.8" r="2.1" fill="rgb(1,4,0)" stroke="rgb(4,13,1)" stroke-width="0.75"/><circle cx="184.4" cy="327.5" r="1.9" fill="rgb(1,6,0)" stroke="rgb(5,19,1)" stroke-width="0.75"/><circle cx="190.7" cy="328.7" r="1.9" fill="rgb(1,3,0)" stroke="rgb(3,12,0)" stroke-width="0.75"/><circle cx="195.7" cy="329.2" r="2.1" fill="rgb(2,7,0)" stroke="rgb(6,22,1)" stroke-width="0.75"/><circle cx="201.3" cy="328.7" r="1.8" fill="rgb(2,6,0)" stroke="rgb(6,20,1)" stroke-width="0.75"/><circle cx="207.4" cy="330.4" r="1.9" fill="rgb(1,5,0)" stroke="rgb(4,16,1)" stroke-width="0.75"/><circle cx="212.7" cy="329.3" r="2.0" fill="rgb(2,6,0)" stroke="rgb(6,20,1)" stroke-width="0.75"/><circle cx="216.2" cy="328.6" r="1.8" fill="rgb(2,9,0)" stroke="rgb(8,28,2)" stroke-width="0.75"/><circle cx="221.5" cy="330.2" r="1.9" fill="rgb(3,9,0)" stroke="rgb(9,30,2)" stroke-width="0.75"/><circle cx="228.5" cy="329.9" r="1.9" fill="rgb(2,8,0)" stroke="rgb(8,27,2)" stroke-width="0.75"/><circle cx="234.0" cy="330.5" r="2.0" fill="rgb(2,7,0)" stroke="rgb(6,21,1)" stroke-width="0.75"/><circle cx="239.0" cy="328.4" r="2.3" fill="rgb(1,3,0)" stroke="rgb(3,12,0)" stroke-width="0.75"/><circle cx="244.6" cy="328.3" r="1.9" fill="rgb(2,7,0)" stroke="rgb(7,23,1)" stroke-width="0.75"/><circle cx="249.5" cy="328.0" r="2.0" fill="rgb(2,7,0)" stroke="rgb(6,22,1)" stroke-width="0.75"/><circle cx="255.7" cy="329.0" r="1.7" fill="rgb(2,7,0)" stroke="rgb(7,24,1)" stroke-width="0.75"/><circle cx="181.0" cy="335.0" r="1.9" fill="rgb(1,5,0)" stroke="rgb(4,16,1)" stroke-width="0.75"/><circle cx="185.8" cy="335.0" r="2.2" fill="rgb(2,6,0)" stroke="rgb(6,20,1)" stroke-width="0.75"/><circle cx="193.3" cy="332.6" r="2.1" fill="rgb(2,8,0)" stroke="rgb(7,25,2)" stroke-width="0.75"/><circle cx="198.7" cy="333.9" r="2.3" fill="rgb(1,6,0)" stroke="rgb(5,18,1)" stroke-width="0.75"/><circle cx="204.5" cy="333.9" r="1.9" fill="rgb(1,4,0)" stroke="rgb(4,14,1)" stroke-width="0.75"/><circle cx="208.5" cy="335.0" r="2.0" fill="rgb(2,8,0)" stroke="rgb(7,26,2)" stroke-width="0.75"/><circle cx="212.9" cy="334.5" r="1.8" fill="rgb(3,9,0)" stroke="rgb(9,30,2)" stroke-width="0.75"/><circle cx="218.3" cy="333.0" r="1.8" fill="rgb(2,6,0)" stroke="rgb(6,21,1)" stroke-width="0.75"/><circle cx="223.7" cy="334.8" r="1.8" fill="rgb(1,4,0)" stroke="rgb(3,13,1)" stroke-width="0.75"/><circle cx="230.1" cy="334.4" r="2.0" fill="rgb(1,4,0)" stroke="rgb(4,14,1)" stroke-width="0.75"/><circle cx="235.0" cy="334.4" r="2.1" fill="rgb(1,6,0)" stroke="rgb(5,19,1)" stroke-width="0.75"/><circle cx="241.5" cy="332.5" r="2.2" fill="rgb(1,5,0)" stroke="rgb(4,16,1)" stroke-width="0.75"/><circle cx="246.5" cy="334.4" r="2.4" fill="rgb(1,6,0)" stroke="rgb(5,19,1)" stroke-width="0.75"/><circle cx="251.0" cy="334.1" r="2.1" fill="rgb(1,4,0)" stroke="rgb(3,13,1)" stroke-width="0.75"/><circle cx="256.6" cy="333.3" r="2.0" fill="rgb(1,5,0)" stroke="rgb(5,17,1)" stroke-width="0.75"/><circle cx="180.3" cy="339.7" r="1.8" fill="rgb(2,7,0)" stroke="rgb(6,23,1)" stroke-width="0.75"/><circle cx="185.9" cy="338.2" r="2.0" fill="rgb(2,7,0)" stroke="rgb(7,24,1)" stroke-width="0.75"/><circle cx="190.0" cy="339.3" r="2.1" fill="rgb(1,5,0)" stroke="rgb(5,16,1)" stroke-width="0.75"/><circle cx="196.0" cy="338.3" r="1.9" fill="rgb(2,6,0)" stroke="rgb(6,21,1)" stroke-width="0.75"/><circle cx="201.7" cy="338.1" r="2.4" fill="rgb(1,4,0)" stroke="rgb(4,14,1)" stroke-width="0.75"/><circle cx="207.4" cy="338.3" r="1.8" fill="rgb(1,6,0)" stroke="rgb(5,19,1)" stroke-width="0.75"/><circle cx="210.3" cy="339.1" r="2.1" fill="rgb(2,7,0)" stroke="rgb(7,24,1)" stroke-width="0.75"/><circle cx="215.7" cy="338.9" r="1.9" fill="rgb(1,6,0)" stroke="rgb(5,19,1)" stroke-width="0.75"/><circle cx="220.9" cy="339.8" r="1.9" fill="rgb(2,9,0)" stroke="rgb(8,28,2)" stroke-width="0.75"/><circle cx="227.7" cy="339.1" r="2.4" fill="rgb(2,6,0)" stroke="rgb(6,20,1)" stroke-width="0.75"/><circle cx="231.9" cy="338.8" r="2.0" fill="rgb(1,5,0)" stroke="rgb(5,18,1)" stroke-width="0.75"/><circle cx="238.0" cy="337.6" r="2.2" fill="rgb(1,4,0)" stroke="rgb(4,14,1)" stroke-width="0.75"/><circle cx="244.7" cy="337.0" r="2.0" fill="rgb(2,6,0)" stroke="rgb(6,21,1)" stroke-width="0.75"/><circle cx="249.1" cy="337.1" r="1.9" fill="rgb(1,5,0)" stroke="rgb(5,16,1)" stroke-width="0.75"/><circle cx="255.7" cy="339.6" r="2.0" fill="rgb(2,6,0)" stroke="rgb(6,21,1)" stroke-width="0.75"/><circle cx="180.3" cy="343.0" r="2.0" fill="rgb(2,7,0)" stroke="rgb(6,22,1)" stroke-width="0.75"/><circle cx="187.0" cy="343.7" r="1.7" fill="rgb(2,7,0)" stroke="rgb(6,22,1)" stroke-width="0.75"/><circle cx="193.2" cy="342.6" r="2.4" fill="rgb(1,4,0)" stroke="rgb(4,15,1)" stroke-width="0.75"/><circle cx="199.2" cy="342.1" r="2.2" fill="rgb(2,7,0)" stroke="rgb(7,23,1)" stroke-width="0.75"/><circle cx="202.2" cy="344.0" r="2.0" fill="rgb(2,6,0)" stroke="rgb(6,21,1)" stroke-width="0.75"/><circle cx="207.6" cy="342.1" r="1.8" fill="rgb(1,5,0)" stroke="rgb(4,16,1)" stroke-width="0.75"/><circle cx="214.1" cy="342.6" r="2.2" fill="rgb(2,7,0)" stroke="rgb(7,24,1)" stroke-width="0.75"/><circle cx="218.5" cy="344.4" r="2.2" fill="rgb(1,5,0)" stroke="rgb(5,17,1)" stroke-width="0.75"/><circle cx="224.8" cy="343.9" r="2.1" fill="rgb(1,4,0)" stroke="rgb(4,15,1)" stroke-width="0.75"/><circle cx="229.6" cy="344.3" r="2.1" fill="rgb(1,4,0)" stroke="rgb(4,15,1)" stroke-width="0.75"/><circle cx="234.9" cy="344.3" r="2.1" fill="rgb(1,5,0)" stroke="rgb(5,17,1)" stroke-width="0.75"/><circle cx="241.4" cy="344.5" r="2.0" fill="rgb(1,4,0)" stroke="rgb(4,13,1)" stroke-width="0.75"/><circle cx="247.3" cy="343.5" r="1.8" fill="rgb(2,6,0)" stroke="rgb(6,20,1)" stroke-width="0.75"/><circle cx="252.0" cy="344.1" r="2.2" fill="rgb(1,4,0)" stroke="rgb(4,15,1)" stroke-width="0.75"/><circle cx="257.1" cy="341.9" r="2.1" fill="rgb(1,5,0)" stroke="rgb(5,17,1)" stroke-width="0.75"/><circle cx="180.2" cy="348.7" r="2.1" fill="rgb(2,6,0)" stroke="rgb(6,21,1)" stroke-width="0.75"/><circle cx="184.9" cy="348.5" r="2.0" fill="rgb(1,4,0)" stroke="rgb(4,14,1)" stroke-width="0.75"/><circle cx="189.0" cy="347.7" r="2.1" fill="rgb(2,7,0)" stroke="rgb(7,24,1)" stroke-width="0.75"/><circle cx="196.2" cy="349.2" r="2.0" fill="rgb(2,7,0)" stroke="rgb(7,24,1)" stroke-width="0.75"/><circle cx="201.9" cy="346.8" r="2.4" fill="rgb(2,6,0)" stroke="rgb(6,20,1)" stroke-width="0.75"/><circle cx="206.6" cy="347.9" r="2.2" fill="rgb(2,8,0)" stroke="rgb(8,26,2)" stroke-width="0.75"/><circle cx="211.1" cy="346.8" r="2.1" fill="rgb(1,4,0)" stroke="rgb(4,14,1)" stroke-width="0.75"/><circle cx="215.7" cy="347.7" r="2.4" fill="rgb(1,4,0)" stroke="rgb(4,13,1)" stroke-width="0.75"/><circle cx="222.2" cy="347.1" r="2.2" fill="rgb(3,9,0)" stroke="rgb(9,30,2)" stroke-width="0.75"/><circle cx="227.2" cy="347.9" r="2.3" fill="rgb(1,5,0)" stroke="rgb(5,17,1)" stroke-width="0.75"/><circle cx="233.8" cy="348.0" r="2.3" fill="rgb(1,4,0)" stroke="rgb(4,15,1)" stroke-width="0.75"/><circle cx="237.4" cy="348.9" r="1.7" fill="rgb(2,6,0)" stroke="rgb(6,20,1)" stroke-width="0.75"/><circle cx="243.4" cy="349.2" r="2.0" fill="rgb(2,8,0)" stroke="rgb(7,25,2)" stroke-width="0.75"/><circle cx="250.6" cy="346.7" r="2.2" fill="rgb(2,7,0)" stroke="rgb(6,22,1)" stroke-width="0.75"/><circle cx="254.8" cy="349.2" r="2.3" fill="rgb(1,5,0)" stroke="rgb(5,17,1)" stroke-width="0.75"/><circle cx="181.4" cy="352.6" r="2.3" fill="rgb(1,4,0)" stroke="rgb(4,13,1)" stroke-width="0.75"/><circle cx="186.5" cy="351.1" r="1.7" fill="rgb(1,5,0)" stroke="rgb(4,16,1)" stroke-width="0.75"/><circle cx="191.6" cy="351.3" r="1.7" fill="rgb(1,5,0)" stroke="rgb(5,16,1)" stroke-width="0.75"/><circle cx="197.3" cy="352.9" r="2.1" fill="rgb(1,4,0)" stroke="rgb(3,13,1)" stroke-width="0.75"/><circle cx="203.5" cy="353.8" r="1.8" fill="rgb(1,4,0)" stroke="rgb(4,14,1)" stroke-width="0.75"/><circle cx="209.3" cy="352.1" r="1.9" fill="rgb(1,5,0)" stroke="rgb(5,17,1)" stroke-width="0.75"/><circle cx="215.4" cy="352.9" r="2.3" fill="rgb(2,9,0)" stroke="rgb(8,28,2)" stroke-width="0.75"/><circle cx="219.6" cy="353.6" r="2.4" fill="rgb(2,8,0)" stroke="rgb(8,27,2)" stroke-width="0.75"/><circle cx="225.4" cy="352.1" r="2.3" fill="rgb(2,6,0)" stroke="rgb(6,20,1)" stroke-width="0.75"/><circle cx="230.6" cy="351.9" r="2.3" fill="rgb(1,5,0)" stroke="rgb(5,16,1)" stroke-width="0.75"/><circle cx="237.1" cy="351.7" r="2.2" fill="rgb(2,7,0)" stroke="rgb(7,24,1)" stroke-width="0.75"/><circle cx="242.5" cy="351.2" r="1.8" fill="rgb(1,4,0)" stroke="rgb(4,14,1)" stroke-width="0.75"/><circle cx="245.0" cy="352.6" r="2.1" fill="rgb(2,7,0)" stroke="rgb(7,24,1)" stroke-width="0.75"/><circle cx="251.0" cy="352.5" r="2.3" fill="rgb(1,6,0)" stroke="rgb(5,19,1)" stroke-width="0.75"/><circle cx="256.2" cy="353.5" r="2.2" fill="rgb(1,3,0)" stroke="rgb(3,12,0)" stroke-width="0.75"/><circle cx="179.5" cy="357.7" r="2.3" fill="rgb(1,5,0)" stroke="rgb(5,16,1)" stroke-width="0.75"/><circle cx="185.7" cy="358.7" r="1.8" fill="rgb(1,5,0)" stroke="rgb(5,17,1)" stroke-width="0.75"/><circle cx="190.3" cy="357.8" r="1.9" fill="rgb(2,8,0)" stroke="rgb(7,25,2)" stroke-width="0.75"/><circle cx="193.7" cy="355.8" r="2.3" fill="rgb(2,7,0)" stroke="rgb(6,23,1)" stroke-width="0.75"/><circle cx="200.4" cy="358.6" r="2.2" fill="rgb(1,5,0)" stroke="rgb(4,15,1)" stroke-width="0.75"/><circle cx="205.4" cy="357.4" r="1.9" fill="rgb(1,5,0)" stroke="rgb(5,18,1)" stroke-width="0.75"/><circle cx="209.9" cy="356.9" r="2.4" fill="rgb(1,5,0)" stroke="rgb(4,15,1)" stroke-width="0.75"/><circle cx="218.0" cy="357.4" r="2.1" fill="rgb(1,5,0)" stroke="rgb(5,18,1)" stroke-width="0.75"/><circle cx="223.2" cy="355.7" r="1.7" fill="rgb(2,6,0)" stroke="rgb(6,20,1)" stroke-width="0.75"/><circle cx="226.7" cy="356.2" r="2.2" fill="rgb(2,7,0)" stroke="rgb(7,24,1)" stroke-width="0.75"/><circle cx="234.0" cy="356.0" r="1.9" fill="rgb(2,8,0)" stroke="rgb(7,25,2)" stroke-width="0.75"/><circle cx="239.7" cy="356.5" r="1.9" fill="rgb(1,4,0)" stroke="rgb(4,14,1)" stroke-width="0.75"/><circle cx="244.9" cy="357.2" r="2.2" fill="rgb(2,6,0)" stroke="rgb(6,21,1)" stroke-width="0.75"/><circle cx="248.7" cy="358.6" r="2.1" fill="rgb(1,5,0)" stroke="rgb(4,16,1)" stroke-width="0.75"/><circle cx="254.3" cy="357.8" r="2.3" fill="rgb(1,3,0)" stroke="rgb(3,12,0)" stroke-width="0.75"/><circle cx="180.4" cy="362.9" r="2.1" fill="rgb(1,5,0)" stroke="rgb(4,16,1)" stroke-width="0.75"/><circle cx="188.5" cy="360.7" r="1.8" fill="rgb(2,7,0)" stroke="rgb(6,22,1)" stroke-width="0.75"/><circle cx="193.2" cy="361.2" r="1.9" fill="rgb(2,7,0)" stroke="rgb(6,21,1)" stroke-width="0.75"/><circle cx="196.8" cy="361.5" r="1.8" fill="rgb(2,7,0)" stroke="rgb(7,23,1)" stroke-width="0.75"/><circle cx="203.8" cy="363.2" r="2.1" fill="rgb(1,5,0)" stroke="rgb(4,15,1)" stroke-width="0.75"/><circle cx="210.2" cy="363.4" r="2.0" fill="rgb(1,6,0)" stroke="rgb(5,19,1)" stroke-width="0.75"/><circle cx="214.5" cy="362.3" r="1.9" fill="rgb(2,6,0)" stroke="rgb(6,21,1)" stroke-width="0.75"/><circle cx="218.5" cy="362.6" r="1.7" fill="rgb(1,6,0)" stroke="rgb(5,18,1)" stroke-width="0.75"/><circle cx="225.1" cy="361.5" r="1.9" fill="rgb(2,7,0)" stroke="rgb(7,24,1)" stroke-width="0.75"/><circle cx="231.5" cy="361.1" r="2.1" fill="rgb(2,7,0)" stroke="rgb(7,24,1)" stroke-width="0.75"/><circle cx="234.6" cy="360.8" r="2.1" fill="rgb(2,6,0)" stroke="rgb(6,20,1)" stroke-width="0.75"/><circle cx="240.0" cy="362.1" r="2.2" fill="rgb(1,4,0)" stroke="rgb(3,12,1)" stroke-width="0.75"/><circle cx="247.4" cy="360.9" r="2.3" fill="rgb(1,4,0)" stroke="rgb(4,14,1)" stroke-width="0.75"/><circle cx="251.9" cy="362.1" r="2.2" fill="rgb(2,6,0)" stroke="rgb(6,21,1)" stroke-width="0.75"/><circle cx="257.5" cy="361.6" r="2.0" fill="rgb(2,6,0)" stroke="rgb(6,20,1)" stroke-width="0.75"/><circle cx="179.1" cy="365.1" r="2.4" fill="rgb(1,6,0)" stroke="rgb(5,19,1)" stroke-width="0.75"/><circle cx="183.1" cy="366.3" r="1.8" fill="rgb(1,4,0)" stroke="rgb(3,12,1)" stroke-width="0.75"/><circle cx="189.0" cy="367.3" r="2.1" fill="rgb(1,5,0)" stroke="rgb(4,16,1)" stroke-width="0.75"/><circle cx="194.4" cy="367.5" r="1.9" fill="rgb(1,4,0)" stroke="rgb(3,12,1)" stroke-width="0.75"/><circle cx="199.8" cy="365.3" r="2.0" fill="rgb(2,7,0)" stroke="rgb(7,24,1)" stroke-width="0.75"/><circle cx="205.9" cy="366.2" r="1.8" fill="rgb(1,4,0)" stroke="rgb(4,13,1)" stroke-width="0.75"/><circle cx="210.9" cy="367.4" r="1.8" fill="rgb(2,6,0)" stroke="rgb(6,20,1)" stroke-width="0.75"/><circle cx="216.0" cy="367.1" r="2.1" fill="rgb(1,6,0)" stroke="rgb(5,18,1)" stroke-width="0.75"/><circle cx="223.2" cy="366.4" r="2.1" fill="rgb(1,5,0)" stroke="rgb(5,18,1)" stroke-width="0.75"/><circle cx="227.6" cy="367.8" r="1.7" fill="rgb(2,7,0)" stroke="rgb(7,23,1)" stroke-width="0.75"/><circle cx="233.3" cy="365.6" r="1.8" fill="rgb(2,8,0)" stroke="rgb(7,25,2)" stroke-width="0.75"/><circle cx="237.1" cy="365.3" r="2.2" fill="rgb(1,3,0)" stroke="rgb(3,11,0)" stroke-width="0.75"/><circle cx="243.3" cy="365.3" r="2.1" fill="rgb(1,5,0)" stroke="rgb(5,18,1)" stroke-width="0.75"/><circle cx="249.6" cy="366.3" r="2.2" fill="rgb(1,4,0)" stroke="rgb(3,13,1)" stroke-width="0.75"/><circle cx="254.0" cy="366.6" r="2.2" fill="rgb(1,4,0)" stroke="rgb(4,13,1)" stroke-width="0.75"/><circle cx="183.0" cy="370.5" r="2.1" fill="rgb(1,4,0)" stroke="rgb(3,13,1)" stroke-width="0.75"/><circle cx="186.1" cy="370.7" r="2.0" fill="rgb(1,6,0)" stroke="rgb(5,18,1)" stroke-width="0.75"/><circle cx="192.0" cy="372.5" r="1.7" fill="rgb(1,5,0)" stroke="rgb(5,16,1)" stroke-width="0.75"/><circle cx="198.5" cy="371.1" r="2.2" fill="rgb(1,6,0)" stroke="rgb(5,19,1)" stroke-width="0.75"/><circle cx="202.3" cy="369.9" r="2.1" fill="rgb(1,4,0)" stroke="rgb(3,13,1)" stroke-width="0.75"/><circle cx="207.6" cy="372.3" r="1.8" fill="rgb(2,6,0)" stroke="rgb(6,21,1)" stroke-width="0.75"/><circle cx="214.5" cy="370.2" r="2.3" fill="rgb(2,7,0)" stroke="rgb(7,23,1)" stroke-width="0.75"/><circle cx="219.9" cy="369.9" r="1.9" fill="rgb(1,3,0)" stroke="rgb(3,11,0)" stroke-width="0.75"/><circle cx="224.9" cy="370.8" r="1.9" fill="rgb(1,3,0)" stroke="rgb(3,12,0)" stroke-width="0.75"/><circle cx="229.1" cy="372.0" r="2.0" fill="rgb(1,3,0)" stroke="rgb(3,12,0)" stroke-width="0.75"/><circle cx="236.4" cy="371.3" r="1.9" fill="rgb(1,4,0)" stroke="rgb(4,14,1)" stroke-width="0.75"/><circle cx="240.1" cy="371.8" r="2.0" fill="rgb(1,5,0)" stroke="rgb(5,16,1)" stroke-width="0.75"/><circle cx="246.3" cy="371.8" r="2.2" fill="rgb(2,6,0)" stroke="rgb(6,20,1)" stroke-width="0.75"/><circle cx="250.7" cy="372.5" r="1.9" fill="rgb(1,3,0)" stroke="rgb(3,11,0)" stroke-width="0.75"/><circle cx="255.8" cy="370.4" r="1.9" fill="rgb(0,3,0)" stroke="rgb(2,9,0)" stroke-width="0.75"/></g><clipPath id="c21"><rect x="182.0" y="375.0" width="68.5" height="69.9"/></clipPath><g clip-path="url(#c21)"><rect x="182.0" y="375.0" width="68.5" height="69.9" fill="#000" stroke="none" stroke-width="1" /><g fill="#1d4a4c" stroke="#48c4cc" stroke-width="0.7"><circle cx="177.9" cy="372.6" r="3.2"/><circle cx="190.6" cy="370.7" r="2.6"/><circle cx="198.3" cy="371.8" r="3.2"/><circle cx="205.0" cy="371.7" r="2.9"/><circle cx="209.5" cy="370.8" r="3.1"/><circle cx="217.5" cy="372.0" r="3.0"/><circle cx="222.2" cy="371.8" r="3.0"/><circle cx="229.4" cy="372.9" r="3.1"/><circle cx="234.7" cy="371.1" r="2.8"/><circle cx="240.7" cy="373.1" r="2.9"/><circle cx="246.9" cy="372.5" r="3.2"/><circle cx="259.8" cy="371.3" r="3.1"/><circle cx="182.3" cy="378.4" r="2.6"/><circle cx="187.1" cy="377.0" r="2.9"/><circle cx="195.6" cy="378.7" r="2.7"/><circle cx="199.3" cy="377.7" r="2.9"/><circle cx="207.3" cy="378.4" r="3.2"/><circle cx="218.7" cy="378.0" r="2.7"/><circle cx="232.1" cy="377.8" r="3.1"/><circle cx="238.3" cy="376.1" r="2.7"/><circle cx="250.6" cy="376.9" r="3.0"/><circle cx="262.1" cy="378.2" r="3.2"/><circle cx="178.5" cy="382.9" r="3.3"/><circle cx="186.1" cy="381.7" r="2.8"/><circle cx="198.8" cy="381.5" r="3.2"/><circle cx="209.1" cy="382.5" r="3.1"/><circle cx="216.2" cy="382.5" r="3.2"/><circle cx="221.3" cy="382.9" r="2.8"/><circle cx="228.0" cy="384.1" r="3.2"/><circle cx="234.5" cy="382.6" r="3.1"/><circle cx="240.2" cy="384.1" r="3.2"/><circle cx="246.7" cy="383.2" r="2.8"/><circle cx="254.3" cy="382.5" r="3.0"/><circle cx="181.0" cy="386.9" r="3.2"/><circle cx="188.2" cy="389.2" r="3.1"/><circle cx="193.7" cy="388.0" r="2.7"/><circle cx="201.4" cy="387.6" r="3.1"/><circle cx="205.9" cy="388.2" r="2.7"/><circle cx="212.9" cy="389.4" r="3.1"/><circle cx="220.4" cy="387.4" r="3.2"/><circle cx="239.1" cy="387.6" r="3.2"/><circle cx="255.4" cy="387.6" r="2.7"/><circle cx="263.3" cy="386.8" r="2.7"/><circle cx="178.7" cy="392.5" r="3.1"/><circle cx="185.1" cy="392.2" r="2.9"/><circle cx="196.4" cy="392.4" r="2.6"/><circle cx="202.9" cy="393.6" r="2.8"/><circle cx="209.0" cy="394.5" r="3.1"/><circle cx="216.0" cy="392.9" r="3.0"/><circle cx="233.7" cy="394.8" r="2.7"/><circle cx="240.7" cy="393.8" r="2.8"/><circle cx="248.2" cy="392.5" r="3.1"/><circle cx="252.2" cy="394.1" r="2.8"/><circle cx="259.8" cy="394.2" r="3.2"/><circle cx="181.5" cy="399.0" r="2.9"/><circle cx="193.9" cy="399.2" r="3.2"/><circle cx="200.1" cy="398.3" r="2.9"/><circle cx="207.3" cy="397.8" r="3.2"/><circle cx="213.9" cy="399.0" r="2.8"/><circle cx="232.3" cy="398.6" r="3.1"/><circle cx="243.5" cy="400.3" r="3.3"/><circle cx="251.4" cy="400.3" r="2.9"/><circle cx="257.7" cy="398.3" r="3.2"/><circle cx="263.6" cy="399.3" r="2.7"/><circle cx="178.2" cy="405.8" r="3.1"/><circle cx="185.6" cy="405.2" r="3.1"/><circle cx="191.6" cy="403.2" r="3.0"/><circle cx="198.6" cy="403.5" r="2.9"/><circle cx="203.1" cy="404.7" r="3.2"/><circle cx="209.1" cy="404.3" r="3.2"/><circle cx="216.8" cy="403.2" r="3.3"/><circle cx="228.5" cy="404.8" r="3.0"/><circle cx="235.3" cy="403.1" r="2.9"/><circle cx="240.1" cy="405.7" r="2.6"/><circle cx="246.9" cy="404.2" r="3.2"/><circle cx="253.0" cy="404.9" r="3.2"/><circle cx="260.3" cy="404.8" r="3.1"/><circle cx="181.8" cy="410.0" r="2.9"/><circle cx="188.3" cy="408.9" r="3.2"/><circle cx="195.8" cy="411.1" r="2.7"/><circle cx="201.5" cy="411.1" r="2.8"/><circle cx="231.0" cy="410.6" r="3.0"/><circle cx="237.8" cy="409.2" r="2.7"/><circle cx="251.3" cy="410.7" r="3.0"/><circle cx="257.0" cy="408.8" r="3.3"/><circle cx="261.7" cy="409.9" r="2.8"/><circle cx="178.2" cy="414.7" r="2.7"/><circle cx="184.1" cy="414.2" r="3.0"/><circle cx="192.0" cy="414.4" r="2.9"/><circle cx="204.8" cy="414.6" r="2.8"/><circle cx="233.4" cy="416.4" r="2.6"/><circle cx="254.0" cy="415.4" r="3.1"/><circle cx="259.6" cy="414.4" r="2.8"/><circle cx="181.5" cy="421.9" r="2.9"/><circle cx="187.9" cy="421.9" r="3.0"/><circle cx="231.4" cy="419.7" r="3.2"/><circle cx="244.9" cy="420.9" r="2.8"/><circle cx="257.4" cy="420.7" r="3.1"/><circle cx="262.2" cy="421.7" r="2.6"/><circle cx="178.6" cy="424.8" r="2.6"/><circle cx="184.7" cy="426.5" r="3.0"/><circle cx="192.6" cy="426.3" r="2.9"/><circle cx="198.1" cy="427.2" r="2.7"/><circle cx="204.6" cy="425.8" r="3.2"/><circle cx="235.9" cy="424.9" r="3.1"/><circle cx="240.0" cy="425.9" r="3.0"/><circle cx="246.7" cy="427.2" r="3.3"/><circle cx="254.8" cy="425.8" r="3.0"/><circle cx="260.4" cy="426.3" r="2.7"/><circle cx="181.2" cy="432.7" r="2.8"/><circle cx="187.4" cy="430.1" r="2.6"/><circle cx="194.4" cy="430.0" r="3.2"/><circle cx="200.6" cy="431.1" r="3.1"/><circle cx="231.4" cy="431.7" r="2.8"/><circle cx="237.9" cy="430.8" r="3.0"/><circle cx="244.4" cy="432.7" r="3.3"/><circle cx="249.5" cy="430.9" r="3.3"/><circle cx="261.5" cy="431.1" r="2.6"/><circle cx="179.9" cy="437.3" r="2.9"/><circle cx="186.5" cy="437.7" r="2.8"/><circle cx="191.6" cy="437.0" r="3.1"/><circle cx="196.2" cy="436.4" r="3.1"/><circle cx="203.1" cy="437.1" r="2.6"/><circle cx="235.1" cy="435.7" r="3.1"/><circle cx="241.3" cy="437.8" r="3.0"/><circle cx="248.6" cy="437.5" r="3.1"/><circle cx="252.1" cy="437.8" r="2.7"/><circle cx="260.1" cy="436.1" r="3.0"/><circle cx="183.3" cy="443.0" r="2.7"/><circle cx="189.4" cy="441.4" r="2.8"/><circle cx="200.1" cy="442.9" r="3.1"/><circle cx="207.2" cy="441.7" r="2.7"/><circle cx="219.5" cy="443.3" r="2.7"/><circle cx="225.7" cy="443.5" r="2.7"/><circle cx="238.0" cy="442.8" r="3.0"/><circle cx="245.4" cy="442.5" r="3.2"/><circle cx="250.2" cy="442.5" r="2.8"/><circle cx="256.6" cy="442.7" r="3.1"/><circle cx="264.0" cy="440.8" r="2.8"/><circle cx="207.1" cy="411.0" r="4.6"/><circle cx="210.1" cy="419.9" r="5.5"/><circle cx="221.3" cy="417.9" r="5.1"/><circle cx="215.7" cy="427.6" r="4.5"/><circle cx="227.2" cy="428.1" r="5.5"/><circle cx="211.9" cy="437.9" r="5.5"/></g><g fill="#b03636" stroke="#702424" stroke-width="0.4"><circle cx="177.9" cy="372.6" r="1.6"/><circle cx="190.6" cy="370.7" r="1.3"/><circle cx="198.3" cy="371.8" r="1.6"/><circle cx="205.0" cy="371.7" r="1.4"/><circle cx="209.5" cy="370.8" r="1.6"/><circle cx="217.5" cy="372.0" r="1.5"/><circle cx="222.2" cy="371.8" r="1.5"/><circle cx="229.4" cy="372.9" r="1.6"/><circle cx="234.7" cy="371.1" r="1.4"/><circle cx="240.7" cy="373.1" r="1.4"/><circle cx="246.9" cy="372.5" r="1.6"/><circle cx="259.8" cy="371.3" r="1.6"/><circle cx="182.3" cy="378.4" r="1.3"/><circle cx="187.1" cy="377.0" r="1.5"/><circle cx="195.6" cy="378.7" r="1.3"/><circle cx="199.3" cy="377.7" r="1.4"/><circle cx="207.3" cy="378.4" r="1.7"/><circle cx="218.7" cy="378.0" r="1.3"/><circle cx="232.1" cy="377.8" r="1.6"/><circle cx="238.3" cy="376.1" r="1.3"/><circle cx="250.6" cy="376.9" r="1.5"/><circle cx="262.1" cy="378.2" r="1.6"/><circle cx="178.5" cy="382.9" r="1.7"/><circle cx="186.1" cy="381.7" r="1.4"/><circle cx="198.8" cy="381.5" r="1.6"/><circle cx="209.1" cy="382.5" r="1.6"/><circle cx="216.2" cy="382.5" r="1.6"/><circle cx="221.3" cy="382.9" r="1.4"/><circle cx="228.0" cy="384.1" r="1.6"/><circle cx="234.5" cy="382.6" r="1.6"/><circle cx="240.2" cy="384.1" r="1.6"/><circle cx="246.7" cy="383.2" r="1.4"/><circle cx="254.3" cy="382.5" r="1.5"/><circle cx="181.0" cy="386.9" r="1.6"/><circle cx="188.2" cy="389.2" r="1.6"/><circle cx="193.7" cy="388.0" r="1.3"/><circle cx="201.4" cy="387.6" r="1.6"/><circle cx="205.9" cy="388.2" r="1.3"/><circle cx="212.9" cy="389.4" r="1.6"/><circle cx="220.4" cy="387.4" r="1.6"/><circle cx="239.1" cy="387.6" r="1.6"/><circle cx="255.4" cy="387.6" r="1.3"/><circle cx="263.3" cy="386.8" r="1.3"/><circle cx="178.7" cy="392.5" r="1.5"/><circle cx="185.1" cy="392.2" r="1.4"/><circle cx="196.4" cy="392.4" r="1.3"/><circle cx="202.9" cy="393.6" r="1.4"/><circle cx="209.0" cy="394.5" r="1.6"/><circle cx="216.0" cy="392.9" r="1.5"/><circle cx="233.7" cy="394.8" r="1.3"/><circle cx="240.7" cy="393.8" r="1.4"/><circle cx="248.2" cy="392.5" r="1.6"/><circle cx="252.2" cy="394.1" r="1.4"/><circle cx="259.8" cy="394.2" r="1.6"/><circle cx="181.5" cy="399.0" r="1.5"/><circle cx="193.9" cy="399.2" r="1.7"/><circle cx="200.1" cy="398.3" r="1.5"/><circle cx="207.3" cy="397.8" r="1.6"/><circle cx="213.9" cy="399.0" r="1.4"/><circle cx="232.3" cy="398.6" r="1.6"/><circle cx="243.5" cy="400.3" r="1.7"/><circle cx="251.4" cy="400.3" r="1.4"/><circle cx="257.7" cy="398.3" r="1.6"/><circle cx="263.6" cy="399.3" r="1.3"/><circle cx="178.2" cy="405.8" r="1.6"/><circle cx="185.6" cy="405.2" r="1.5"/><circle cx="191.6" cy="403.2" r="1.5"/><circle cx="198.6" cy="403.5" r="1.5"/><circle cx="203.1" cy="404.7" r="1.6"/><circle cx="209.1" cy="404.3" r="1.7"/><circle cx="216.8" cy="403.2" r="1.7"/><circle cx="228.5" cy="404.8" r="1.5"/><circle cx="235.3" cy="403.1" r="1.4"/><circle cx="240.1" cy="405.7" r="1.3"/><circle cx="246.9" cy="404.2" r="1.6"/><circle cx="253.0" cy="404.9" r="1.6"/><circle cx="260.3" cy="404.8" r="1.6"/><circle cx="181.8" cy="410.0" r="1.4"/><circle cx="188.3" cy="408.9" r="1.6"/><circle cx="195.8" cy="411.1" r="1.3"/><circle cx="201.5" cy="411.1" r="1.4"/><circle cx="231.0" cy="410.6" r="1.5"/><circle cx="237.8" cy="409.2" r="1.3"/><circle cx="251.3" cy="410.7" r="1.5"/><circle cx="257.0" cy="408.8" r="1.7"/><circle cx="261.7" cy="409.9" r="1.4"/><circle cx="178.2" cy="414.7" r="1.3"/><circle cx="184.1" cy="414.2" r="1.5"/><circle cx="192.0" cy="414.4" r="1.4"/><circle cx="204.8" cy="414.6" r="1.4"/><circle cx="233.4" cy="416.4" r="1.3"/><circle cx="254.0" cy="415.4" r="1.6"/><circle cx="259.6" cy="414.4" r="1.4"/><circle cx="181.5" cy="421.9" r="1.5"/><circle cx="187.9" cy="421.9" r="1.5"/><circle cx="231.4" cy="419.7" r="1.6"/><circle cx="244.9" cy="420.9" r="1.4"/><circle cx="257.4" cy="420.7" r="1.5"/><circle cx="262.2" cy="421.7" r="1.3"/><circle cx="178.6" cy="424.8" r="1.3"/><circle cx="184.7" cy="426.5" r="1.5"/><circle cx="192.6" cy="426.3" r="1.5"/><circle cx="198.1" cy="427.2" r="1.4"/><circle cx="204.6" cy="425.8" r="1.6"/><circle cx="235.9" cy="424.9" r="1.5"/><circle cx="240.0" cy="425.9" r="1.5"/><circle cx="246.7" cy="427.2" r="1.7"/><circle cx="254.8" cy="425.8" r="1.5"/><circle cx="260.4" cy="426.3" r="1.3"/><circle cx="181.2" cy="432.7" r="1.4"/><circle cx="187.4" cy="430.1" r="1.3"/><circle cx="194.4" cy="430.0" r="1.6"/><circle cx="200.6" cy="431.1" r="1.6"/><circle cx="231.4" cy="431.7" r="1.4"/><circle cx="237.9" cy="430.8" r="1.5"/><circle cx="244.4" cy="432.7" r="1.7"/><circle cx="249.5" cy="430.9" r="1.7"/><circle cx="261.5" cy="431.1" r="1.3"/><circle cx="179.9" cy="437.3" r="1.4"/><circle cx="186.5" cy="437.7" r="1.4"/><circle cx="191.6" cy="437.0" r="1.6"/><circle cx="196.2" cy="436.4" r="1.6"/><circle cx="203.1" cy="437.1" r="1.3"/><circle cx="235.1" cy="435.7" r="1.5"/><circle cx="241.3" cy="437.8" r="1.5"/><circle cx="248.6" cy="437.5" r="1.6"/><circle cx="252.1" cy="437.8" r="1.4"/><circle cx="260.1" cy="436.1" r="1.5"/><circle cx="183.3" cy="443.0" r="1.4"/><circle cx="189.4" cy="441.4" r="1.4"/><circle cx="200.1" cy="442.9" r="1.6"/><circle cx="207.2" cy="441.7" r="1.3"/><circle cx="219.5" cy="443.3" r="1.3"/><circle cx="225.7" cy="443.5" r="1.3"/><circle cx="238.0" cy="442.8" r="1.5"/><circle cx="245.4" cy="442.5" r="1.6"/><circle cx="250.2" cy="442.5" r="1.4"/><circle cx="256.6" cy="442.7" r="1.6"/><circle cx="264.0" cy="440.8" r="1.4"/><circle cx="207.1" cy="411.0" r="2.4"/><circle cx="210.1" cy="419.9" r="2.9"/><circle cx="221.3" cy="417.9" r="2.7"/><circle cx="215.7" cy="427.6" r="2.4"/><circle cx="227.2" cy="428.1" r="3.0"/><circle cx="211.9" cy="437.9" r="2.9"/></g></g><clipPath id="c22"><rect x="182.0" y="446.1" width="68.5" height="70.6"/></clipPath><g clip-path="url(#c22)"><rect x="182.0" y="446.1" width="68.5" height="70.6" fill="#000" stroke="none" stroke-width="1" /><circle cx="184.3" cy="495.6" r="0.8" fill="#6c6ae2" opacity="0.7"/><circle cx="239.1" cy="470.8" r="1.0" fill="#6c6ae2" opacity="0.8"/><circle cx="195.2" cy="490.3" r="1.0" fill="#6c6ae2" opacity="0.9"/><circle cx="194.9" cy="496.3" r="0.7" fill="#6c6ae2" opacity="0.6"/><circle cx="190.1" cy="456.6" r="1.0" fill="#6c6ae2" opacity="0.6"/><circle cx="236.4" cy="452.9" r="1.1" fill="#6c6ae2" opacity="0.9"/><circle cx="190.7" cy="461.5" r="1.2" fill="#6c6ae2" opacity="0.7"/><circle cx="245.9" cy="470.0" r="0.9" fill="#6c6ae2" opacity="0.9"/><circle cx="205.6" cy="514.3" r="1.2" fill="#6c6ae2" opacity="0.6"/><circle cx="219.4" cy="512.6" r="0.8" fill="#6c6ae2" opacity="0.9"/><circle cx="235.0" cy="499.0" r="1.1" fill="#6c6ae2" opacity="0.5"/><circle cx="247.6" cy="453.3" r="1.2" fill="#6c6ae2" opacity="0.8"/><circle cx="203.7" cy="494.4" r="0.9" fill="#6c6ae2" opacity="0.8"/><circle cx="185.0" cy="512.0" r="0.9" fill="#6c6ae2" opacity="0.9"/><circle cx="214.3" cy="503.5" r="0.9" fill="#6c6ae2" opacity="0.7"/><circle cx="183.7" cy="480.6" r="0.7" fill="#6c6ae2" opacity="0.9"/><circle cx="228.4" cy="476.1" r="1.3" fill="#6c6ae2" opacity="0.9"/><circle cx="247.5" cy="451.9" r="1.1" fill="#6c6ae2" opacity="0.8"/><circle cx="223.5" cy="447.2" r="1.3" fill="#6c6ae2" opacity="0.7"/><circle cx="222.8" cy="503.6" r="0.9" fill="#6c6ae2" opacity="0.5"/><circle cx="245.3" cy="465.2" r="0.7" fill="#6c6ae2" opacity="0.6"/><circle cx="250.1" cy="498.3" r="0.8" fill="#6c6ae2" opacity="0.6"/><circle cx="243.5" cy="493.0" r="1.0" fill="#6c6ae2" opacity="0.6"/><circle cx="210.3" cy="512.9" r="0.7" fill="#6c6ae2" opacity="0.7"/><circle cx="185.9" cy="516.5" r="0.8" fill="#6c6ae2" opacity="0.9"/><circle cx="239.6" cy="497.8" r="0.7" fill="#6c6ae2" opacity="0.8"/><circle cx="215.8" cy="480.8" r="0.8" fill="#6c6ae2" opacity="0.7"/><circle cx="236.9" cy="455.4" r="1.2" fill="#6c6ae2" opacity="0.7"/><circle cx="200.2" cy="463.0" r="1.0" fill="#6c6ae2" opacity="0.8"/><circle cx="221.0" cy="508.9" r="1.0" fill="#6c6ae2" opacity="0.7"/><circle cx="249.7" cy="461.3" r="0.7" fill="#6c6ae2" opacity="0.6"/><circle cx="203.5" cy="454.9" r="1.0" fill="#6c6ae2" opacity="0.5"/><circle cx="245.1" cy="480.3" r="1.2" fill="#6c6ae2" opacity="0.8"/><circle cx="232.0" cy="499.7" r="0.9" fill="#6c6ae2" opacity="0.8"/><circle cx="196.1" cy="485.3" r="1.1" fill="#6c6ae2" opacity="0.8"/><circle cx="193.5" cy="470.4" r="1.2" fill="#6c6ae2" opacity="0.9"/><circle cx="249.0" cy="454.5" r="0.8" fill="#6c6ae2" opacity="0.5"/><circle cx="231.6" cy="498.7" r="1.1" fill="#6c6ae2" opacity="0.9"/><circle cx="217.3" cy="485.8" r="1.3" fill="#6c6ae2" opacity="0.8"/><circle cx="226.9" cy="487.7" r="1.0" fill="#6c6ae2" opacity="0.8"/><circle cx="221.2" cy="455.2" r="1.0" fill="#6c6ae2" opacity="0.7"/><circle cx="211.6" cy="485.7" r="0.9" fill="#6c6ae2" opacity="0.7"/><circle cx="211.2" cy="472.3" r="1.3" fill="#6c6ae2" opacity="0.5"/><circle cx="183.2" cy="497.0" r="0.9" fill="#6c6ae2" opacity="0.7"/><circle cx="222.5" cy="472.0" r="0.8" fill="#6c6ae2" opacity="0.5"/><circle cx="241.9" cy="512.4" r="0.9" fill="#6c6ae2" opacity="0.7"/><circle cx="204.2" cy="450.2" r="1.2" fill="#6c6ae2" opacity="0.9"/><circle cx="198.5" cy="464.1" r="1.1" fill="#6c6ae2" opacity="0.9"/><circle cx="214.2" cy="473.5" r="0.8" fill="#6c6ae2" opacity="0.9"/><circle cx="241.2" cy="506.7" r="0.8" fill="#6c6ae2" opacity="0.8"/><circle cx="249.5" cy="496.6" r="1.0" fill="#6c6ae2" opacity="0.6"/><circle cx="186.1" cy="497.8" r="0.7" fill="#6c6ae2" opacity="0.9"/><circle cx="227.6" cy="479.5" r="1.2" fill="#6c6ae2" opacity="0.9"/><circle cx="224.2" cy="453.1" r="1.1" fill="#6c6ae2" opacity="0.7"/><circle cx="199.1" cy="511.7" r="1.1" fill="#6c6ae2" opacity="0.6"/><circle cx="197.7" cy="470.3" r="1.0" fill="#6c6ae2" opacity="0.6"/><circle cx="212.1" cy="503.5" r="0.8" fill="#6c6ae2" opacity="0.8"/><circle cx="204.6" cy="512.8" r="1.3" fill="#6c6ae2" opacity="0.6"/><circle cx="223.5" cy="453.9" r="0.9" fill="#6c6ae2" opacity="0.8"/><circle cx="225.7" cy="470.3" r="0.7" fill="#6c6ae2" opacity="0.6"/><circle cx="220.4" cy="458.2" r="0.9" fill="#6c6ae2" opacity="0.8"/><circle cx="243.7" cy="482.5" r="0.9" fill="#6c6ae2" opacity="0.8"/><circle cx="200.9" cy="501.3" r="0.8" fill="#6c6ae2" opacity="0.6"/><circle cx="212.0" cy="510.2" r="0.8" fill="#6c6ae2" opacity="0.6"/><circle cx="191.0" cy="461.2" r="0.9" fill="#6c6ae2" opacity="0.7"/><circle cx="234.0" cy="474.6" r="1.0" fill="#6c6ae2" opacity="0.7"/><circle cx="235.0" cy="509.9" r="1.0" fill="#6c6ae2" opacity="0.9"/><circle cx="199.2" cy="515.1" r="1.0" fill="#6c6ae2" opacity="0.8"/><circle cx="208.1" cy="465.3" r="0.8" fill="#6c6ae2" opacity="0.9"/><circle cx="206.6" cy="495.4" r="1.0" fill="#6c6ae2" opacity="0.7"/><circle cx="196.2" cy="458.6" r="0.9" fill="#6c6ae2" opacity="0.8"/><circle cx="219.2" cy="446.3" r="1.1" fill="#6c6ae2" opacity="0.7"/><circle cx="186.7" cy="464.4" r="0.8" fill="#6c6ae2" opacity="0.9"/><circle cx="219.7" cy="469.2" r="0.8" fill="#6c6ae2" opacity="0.6"/><circle cx="201.2" cy="470.6" r="1.2" fill="#6c6ae2" opacity="0.9"/><circle cx="229.8" cy="508.6" r="1.1" fill="#6c6ae2" opacity="0.6"/><circle cx="185.0" cy="457.7" r="0.9" fill="#6c6ae2" opacity="0.7"/><circle cx="238.3" cy="487.5" r="1.0" fill="#6c6ae2" opacity="0.6"/><circle cx="249.2" cy="499.3" r="0.9" fill="#6c6ae2" opacity="0.5"/><circle cx="249.3" cy="464.2" r="1.2" fill="#6c6ae2" opacity="0.6"/><circle cx="226.7" cy="471.3" r="1.2" fill="#6c6ae2" opacity="0.6"/><circle cx="188.9" cy="460.1" r="1.2" fill="#6c6ae2" opacity="0.9"/><circle cx="226.0" cy="494.2" r="0.9" fill="#6c6ae2" opacity="0.6"/><circle cx="187.9" cy="515.6" r="0.7" fill="#6c6ae2" opacity="0.8"/><circle cx="206.0" cy="459.3" r="1.0" fill="#6c6ae2" opacity="0.9"/><circle cx="199.0" cy="457.7" r="1.1" fill="#6c6ae2" opacity="0.8"/><circle cx="217.0" cy="458.8" r="1.2" fill="#6c6ae2" opacity="0.5"/><circle cx="193.9" cy="463.2" r="1.0" fill="#6c6ae2" opacity="0.7"/><circle cx="219.9" cy="497.4" r="1.2" fill="#6c6ae2" opacity="0.7"/><circle cx="184.9" cy="504.8" r="0.7" fill="#6c6ae2" opacity="0.6"/><circle cx="191.8" cy="488.6" r="1.2" fill="#6c6ae2" opacity="0.6"/><circle cx="202.2" cy="506.2" r="1.1" fill="#6c6ae2" opacity="0.5"/><circle cx="229.0" cy="502.2" r="0.9" fill="#6c6ae2" opacity="0.6"/><circle cx="227.1" cy="468.6" r="0.8" fill="#6c6ae2" opacity="0.6"/><circle cx="209.6" cy="455.1" r="0.9" fill="#6c6ae2" opacity="0.7"/><circle cx="219.8" cy="474.6" r="1.2" fill="#6c6ae2" opacity="0.5"/><circle cx="204.6" cy="512.0" r="1.2" fill="#6c6ae2" opacity="0.9"/><circle cx="234.4" cy="483.9" r="1.2" fill="#6c6ae2" opacity="0.8"/><circle cx="190.1" cy="464.1" r="0.8" fill="#6c6ae2" opacity="0.9"/><circle cx="204.1" cy="474.9" r="1.0" fill="#6c6ae2" opacity="0.5"/><circle cx="230.3" cy="502.3" r="1.2" fill="#6c6ae2" opacity="0.9"/><circle cx="203.7" cy="456.4" r="1.2" fill="#6c6ae2" opacity="0.8"/><circle cx="207.5" cy="470.3" r="0.8" fill="#6c6ae2" opacity="0.9"/><circle cx="213.6" cy="503.4" r="0.9" fill="#6c6ae2" opacity="0.6"/><circle cx="217.2" cy="498.7" r="1.2" fill="#6c6ae2" opacity="0.7"/><circle cx="229.5" cy="474.6" r="1.2" fill="#6c6ae2" opacity="0.8"/><circle cx="220.0" cy="471.7" r="0.9" fill="#6c6ae2" opacity="0.9"/><circle cx="236.9" cy="467.6" r="0.8" fill="#6c6ae2" opacity="0.6"/><circle cx="248.0" cy="448.9" r="1.2" fill="#6c6ae2" opacity="0.7"/><circle cx="219.9" cy="484.2" r="0.9" fill="#6c6ae2" opacity="0.8"/><circle cx="188.2" cy="511.0" r="0.8" fill="#6c6ae2" opacity="0.6"/><circle cx="228.1" cy="491.3" r="1.2" fill="#6c6ae2" opacity="0.8"/><circle cx="245.8" cy="449.8" r="0.7" fill="#6c6ae2" opacity="0.6"/><circle cx="235.4" cy="456.9" r="1.0" fill="#6c6ae2" opacity="0.8"/><circle cx="192.7" cy="483.3" r="1.2" fill="#6c6ae2" opacity="0.8"/><circle cx="209.3" cy="479.9" r="0.9" fill="#6c6ae2" opacity="0.9"/><circle cx="235.6" cy="494.1" r="0.9" fill="#6c6ae2" opacity="0.8"/><circle cx="215.3" cy="502.5" r="0.9" fill="#6c6ae2" opacity="0.9"/><circle cx="228.9" cy="477.9" r="1.0" fill="#6c6ae2" opacity="0.9"/><circle cx="218.2" cy="513.9" r="0.7" fill="#6c6ae2" opacity="0.9"/><circle cx="230.9" cy="480.7" r="1.2" fill="#6c6ae2" opacity="0.6"/><circle cx="205.1" cy="496.5" r="1.2" fill="#6c6ae2" opacity="0.7"/><circle cx="250.1" cy="491.9" r="0.7" fill="#6c6ae2" opacity="0.6"/><circle cx="187.2" cy="486.3" r="0.9" fill="#6c6ae2" opacity="0.6"/><circle cx="212.7" cy="451.6" r="1.2" fill="#6c6ae2" opacity="0.9"/><circle cx="220.3" cy="477.5" r="0.9" fill="#6c6ae2" opacity="0.8"/><circle cx="205.8" cy="515.0" r="1.3" fill="#6c6ae2" opacity="0.8"/><circle cx="238.6" cy="451.4" r="0.8" fill="#6c6ae2" opacity="0.7"/><circle cx="190.6" cy="475.9" r="1.3" fill="#6c6ae2" opacity="0.9"/><circle cx="247.7" cy="461.7" r="0.8" fill="#6c6ae2" opacity="0.5"/><circle cx="200.7" cy="450.1" r="1.0" fill="#6c6ae2" opacity="0.6"/><circle cx="228.2" cy="485.7" r="1.1" fill="#6c6ae2" opacity="0.6"/><circle cx="232.3" cy="494.8" r="1.1" fill="#6c6ae2" opacity="0.7"/><circle cx="213.8" cy="466.3" r="0.7" fill="#6c6ae2" opacity="0.7"/><circle cx="224.2" cy="459.2" r="1.2" fill="#6c6ae2" opacity="0.9"/><circle cx="240.5" cy="503.7" r="1.0" fill="#6c6ae2" opacity="0.6"/><circle cx="200.6" cy="498.2" r="1.3" fill="#6c6ae2" opacity="0.6"/><circle cx="182.4" cy="471.0" r="0.9" fill="#6c6ae2" opacity="0.8"/><circle cx="189.7" cy="505.7" r="0.9" fill="#6c6ae2" opacity="0.9"/><circle cx="204.6" cy="467.7" r="0.8" fill="#6c6ae2" opacity="0.9"/><circle cx="222.4" cy="504.4" r="0.7" fill="#6c6ae2" opacity="0.7"/><circle cx="232.2" cy="515.6" r="1.3" fill="#6c6ae2" opacity="0.5"/><circle cx="207.6" cy="516.6" r="1.0" fill="#6c6ae2" opacity="0.9"/><circle cx="199.4" cy="447.9" r="1.3" fill="#6c6ae2" opacity="0.6"/><circle cx="220.4" cy="471.6" r="1.0" fill="#6c6ae2" opacity="0.9"/><circle cx="246.9" cy="508.0" r="0.9" fill="#6c6ae2" opacity="0.9"/><circle cx="183.3" cy="475.5" r="1.3" fill="#6c6ae2" opacity="0.6"/><circle cx="207.2" cy="487.2" r="0.8" fill="#6c6ae2" opacity="0.8"/><circle cx="226.7" cy="452.8" r="1.3" fill="#6c6ae2" opacity="0.5"/><circle cx="229.7" cy="470.7" r="0.8" fill="#6c6ae2" opacity="0.5"/><circle cx="250.3" cy="502.6" r="1.0" fill="#6c6ae2" opacity="0.9"/><circle cx="248.4" cy="511.5" r="1.0" fill="#6c6ae2" opacity="0.6"/><circle cx="217.5" cy="515.4" r="1.1" fill="#6c6ae2" opacity="0.8"/><circle cx="239.7" cy="475.0" r="1.0" fill="#6c6ae2" opacity="0.9"/><circle cx="195.6" cy="506.7" r="0.7" fill="#6c6ae2" opacity="0.7"/><circle cx="221.4" cy="456.4" r="1.3" fill="#6c6ae2" opacity="0.7"/><circle cx="194.7" cy="475.2" r="1.1" fill="#6c6ae2" opacity="0.7"/><circle cx="182.2" cy="452.6" r="1.1" fill="#6c6ae2" opacity="0.6"/><circle cx="199.5" cy="503.1" r="1.2" fill="#6c6ae2" opacity="0.9"/><circle cx="194.0" cy="446.5" r="1.2" fill="#6c6ae2" opacity="0.8"/><circle cx="207.0" cy="447.4" r="1.0" fill="#6c6ae2" opacity="0.6"/><circle cx="222.3" cy="515.3" r="0.8" fill="#6c6ae2" opacity="0.5"/><circle cx="229.6" cy="453.7" r="0.8" fill="#6c6ae2" opacity="0.7"/><circle cx="249.5" cy="469.0" r="0.9" fill="#6c6ae2" opacity="0.7"/><circle cx="193.1" cy="474.5" r="1.1" fill="#6c6ae2" opacity="0.6"/><circle cx="236.6" cy="459.1" r="0.8" fill="#6c6ae2" opacity="0.8"/><circle cx="213.0" cy="510.9" r="0.8" fill="#6c6ae2" opacity="0.8"/><circle cx="227.9" cy="472.2" r="0.8" fill="#6c6ae2" opacity="0.8"/><circle cx="233.9" cy="479.5" r="1.0" fill="#6c6ae2" opacity="0.8"/><circle cx="223.7" cy="476.0" r="0.8" fill="#6c6ae2" opacity="0.7"/><circle cx="219.7" cy="509.4" r="1.3" fill="#6c6ae2" opacity="0.8"/><circle cx="204.5" cy="461.8" r="1.1" fill="#6c6ae2" opacity="0.8"/><circle cx="199.0" cy="494.8" r="1.3" fill="#6c6ae2" opacity="0.7"/><circle cx="246.3" cy="476.9" r="1.1" fill="#6c6ae2" opacity="0.9"/><circle cx="195.9" cy="470.5" r="1.3" fill="#6c6ae2" opacity="0.5"/><circle cx="203.0" cy="479.7" r="1.1" fill="#6c6ae2" opacity="0.8"/><circle cx="245.7" cy="493.4" r="0.7" fill="#6c6ae2" opacity="0.5"/><circle cx="184.5" cy="476.6" r="0.7" fill="#6c6ae2" opacity="0.7"/><circle cx="225.3" cy="460.4" r="1.2" fill="#6c6ae2" opacity="0.7"/><circle cx="247.8" cy="471.4" r="1.1" fill="#6c6ae2" opacity="0.7"/><circle cx="200.0" cy="501.2" r="0.7" fill="#6c6ae2" opacity="0.6"/><circle cx="204.0" cy="508.4" r="1.0" fill="#6c6ae2" opacity="0.5"/><circle cx="202.5" cy="489.1" r="1.2" fill="#6c6ae2" opacity="0.5"/><circle cx="235.4" cy="473.7" r="1.0" fill="#6c6ae2" opacity="0.7"/><circle cx="212.0" cy="516.0" r="1.3" fill="#6c6ae2" opacity="0.9"/><circle cx="232.4" cy="495.5" r="0.6" fill="#d09050" opacity=".6"/><circle cx="191.7" cy="448.6" r="0.6" fill="#d09050" opacity=".6"/><circle cx="238.9" cy="493.6" r="0.6" fill="#d09050" opacity=".6"/><circle cx="225.2" cy="468.2" r="0.6" fill="#d09050" opacity=".6"/><circle cx="200.3" cy="511.1" r="0.6" fill="#d09050" opacity=".6"/><circle cx="218.4" cy="447.5" r="0.6" fill="#d09050" opacity=".6"/><circle cx="205.3" cy="470.7" r="0.6" fill="#d09050" opacity=".6"/><circle cx="186.6" cy="515.2" r="0.6" fill="#d09050" opacity=".6"/><circle cx="243.9" cy="503.6" r="0.6" fill="#d09050" opacity=".6"/><circle cx="182.3" cy="475.6" r="0.6" fill="#d09050" opacity=".6"/><circle cx="189.6" cy="497.3" r="0.6" fill="#d09050" opacity=".6"/><circle cx="237.4" cy="501.8" r="0.6" fill="#d09050" opacity=".6"/><circle cx="236.2" cy="454.6" r="0.6" fill="#d09050" opacity=".6"/><circle cx="182.9" cy="452.7" r="0.6" fill="#d09050" opacity=".6"/><circle cx="239.7" cy="504.6" r="0.6" fill="#d09050" opacity=".6"/><circle cx="217.4" cy="462.7" r="0.6" fill="#d09050" opacity=".6"/><circle cx="240.7" cy="454.6" r="0.6" fill="#d09050" opacity=".6"/><circle cx="204.3" cy="446.2" r="0.6" fill="#d09050" opacity=".6"/><circle cx="249.3" cy="475.4" r="0.6" fill="#d09050" opacity=".6"/><circle cx="234.8" cy="502.7" r="0.6" fill="#d09050" opacity=".6"/><circle cx="221.8" cy="515.8" r="0.6" fill="#d09050" opacity=".6"/><circle cx="235.1" cy="511.6" r="0.6" fill="#d09050" opacity=".6"/><circle cx="248.0" cy="451.9" r="0.6" fill="#d09050" opacity=".6"/><circle cx="233.4" cy="462.1" r="0.6" fill="#d09050" opacity=".6"/><circle cx="204.2" cy="470.2" r="0.6" fill="#d09050" opacity=".6"/><circle cx="249.7" cy="450.4" r="0.6" fill="#d09050" opacity=".6"/><circle cx="211.8" cy="455.1" r="0.6" fill="#d09050" opacity=".6"/><circle cx="250.3" cy="481.1" r="0.6" fill="#d09050" opacity=".6"/><circle cx="230.1" cy="482.8" r="0.6" fill="#d09050" opacity=".6"/><circle cx="234.6" cy="469.9" r="0.6" fill="#d09050" opacity=".6"/></g><clipPath id="c30"><rect x="252.8" y="303.8" width="69.2" height="70.1"/></clipPath><g clip-path="url(#c30)"><rect x="252.8" y="303.8" width="69.2" height="70.1" fill="#000" stroke="none" stroke-width="1" /><circle cx="249.5" cy="301.5" r="2.3" fill="rgb(3,10,0)" stroke="rgb(9,31,2)" stroke-width="0.75"/><circle cx="255.8" cy="302.0" r="2.4" fill="rgb(5,16,1)" stroke="rgb(15,52,4)" stroke-width="0.75"/><circle cx="260.0" cy="301.8" r="1.8" fill="rgb(5,17,1)" stroke="rgb(16,53,4)" stroke-width="0.75"/><circle cx="266.7" cy="301.0" r="1.8" fill="rgb(6,21,2)" stroke="rgb(20,66,5)" stroke-width="0.75"/><circle cx="271.1" cy="301.0" r="2.1" fill="rgb(8,26,2)" stroke="rgb(24,82,6)" stroke-width="0.75"/><circle cx="275.5" cy="299.6" r="2.0" fill="rgb(7,24,2)" stroke="rgb(23,77,6)" stroke-width="0.75"/><circle cx="281.6" cy="299.7" r="2.2" fill="rgb(5,16,1)" stroke="rgb(15,50,4)" stroke-width="0.75"/><circle cx="286.2" cy="301.5" r="2.0" fill="rgb(6,21,2)" stroke="rgb(20,68,5)" stroke-width="0.75"/><circle cx="293.7" cy="301.1" r="2.0" fill="rgb(4,14,1)" stroke="rgb(13,44,3)" stroke-width="0.75"/><circle cx="297.5" cy="301.5" r="1.9" fill="rgb(6,19,1)" stroke="rgb(18,60,4)" stroke-width="0.75"/><circle cx="304.8" cy="301.2" r="2.0" fill="rgb(3,11,1)" stroke="rgb(10,35,2)" stroke-width="0.75"/><circle cx="308.4" cy="301.0" r="1.7" fill="rgb(5,17,1)" stroke="rgb(16,54,4)" stroke-width="0.75"/><circle cx="314.3" cy="300.1" r="2.4" fill="rgb(3,12,1)" stroke="rgb(11,38,3)" stroke-width="0.75"/><circle cx="318.9" cy="301.9" r="2.2" fill="rgb(3,12,1)" stroke="rgb(11,38,3)" stroke-width="0.75"/><circle cx="325.8" cy="302.1" r="1.8" fill="rgb(3,12,1)" stroke="rgb(11,39,3)" stroke-width="0.75"/><circle cx="251.5" cy="304.8" r="2.3" fill="rgb(4,15,1)" stroke="rgb(14,49,3)" stroke-width="0.75"/><circle cx="257.9" cy="304.2" r="1.7" fill="rgb(6,21,1)" stroke="rgb(19,65,5)" stroke-width="0.75"/><circle cx="262.7" cy="305.6" r="2.1" fill="rgb(6,22,2)" stroke="rgb(20,69,5)" stroke-width="0.75"/><circle cx="268.6" cy="306.7" r="2.2" fill="rgb(6,20,1)" stroke="rgb(19,65,5)" stroke-width="0.75"/><circle cx="274.3" cy="305.9" r="1.8" fill="rgb(6,22,2)" stroke="rgb(20,69,5)" stroke-width="0.75"/><circle cx="279.8" cy="306.4" r="1.8" fill="rgb(8,25,2)" stroke="rgb(24,80,6)" stroke-width="0.75"/><circle cx="284.5" cy="304.0" r="2.3" fill="rgb(5,17,1)" stroke="rgb(16,53,4)" stroke-width="0.75"/><circle cx="291.7" cy="306.4" r="2.1" fill="rgb(6,20,1)" stroke="rgb(19,63,5)" stroke-width="0.75"/><circle cx="294.6" cy="304.3" r="2.0" fill="rgb(6,20,1)" stroke="rgb(19,65,5)" stroke-width="0.75"/><circle cx="300.3" cy="306.0" r="2.1" fill="rgb(4,15,1)" stroke="rgb(14,48,3)" stroke-width="0.75"/><circle cx="305.4" cy="304.1" r="1.9" fill="rgb(3,9,0)" stroke="rgb(9,30,2)" stroke-width="0.75"/><circle cx="311.9" cy="304.0" r="2.4" fill="rgb(3,9,0)" stroke="rgb(9,30,2)" stroke-width="0.75"/><circle cx="316.6" cy="305.1" r="2.2" fill="rgb(6,20,1)" stroke="rgb(19,63,5)" stroke-width="0.75"/><circle cx="321.8" cy="304.0" r="2.3" fill="rgb(3,10,1)" stroke="rgb(10,34,2)" stroke-width="0.75"/><circle cx="327.4" cy="304.7" r="2.3" fill="rgb(3,12,1)" stroke="rgb(11,38,3)" stroke-width="0.75"/><circle cx="249.3" cy="309.9" r="2.1" fill="rgb(5,18,1)" stroke="rgb(16,56,4)" stroke-width="0.75"/><circle cx="254.8" cy="309.7" r="1.9" fill="rgb(6,20,1)" stroke="rgb(19,64,5)" stroke-width="0.75"/><circle cx="259.2" cy="311.2" r="2.1" fill="rgb(7,24,2)" stroke="rgb(22,76,6)" stroke-width="0.75"/><circle cx="266.7" cy="310.2" r="2.3" fill="rgb(8,26,2)" stroke="rgb(25,83,6)" stroke-width="0.75"/><circle cx="269.9" cy="309.4" r="2.0" fill="rgb(5,18,1)" stroke="rgb(17,57,4)" stroke-width="0.75"/><circle cx="278.0" cy="310.1" r="1.8" fill="rgb(6,21,2)" stroke="rgb(20,68,5)" stroke-width="0.75"/><circle cx="281.3" cy="311.2" r="2.2" fill="rgb(10,32,3)" stroke="rgb(30,101,8)" stroke-width="0.75"/><circle cx="288.8" cy="309.1" r="2.1" fill="rgb(6,21,2)" stroke="rgb(20,66,5)" stroke-width="0.75"/><circle cx="293.0" cy="310.4" r="1.7" fill="rgb(8,26,2)" stroke="rgb(25,83,6)" stroke-width="0.75"/><circle cx="297.3" cy="309.7" r="2.2" fill="rgb(5,16,1)" stroke="rgb(15,51,4)" stroke-width="0.75"/><circle cx="304.2" cy="310.7" r="2.0" fill="rgb(5,17,1)" stroke="rgb(16,55,4)" stroke-width="0.75"/><circle cx="309.6" cy="310.6" r="1.9" fill="rgb(4,13,1)" stroke="rgb(12,41,3)" stroke-width="0.75"/><circle cx="314.2" cy="308.9" r="1.9" fill="rgb(5,18,1)" stroke="rgb(16,56,4)" stroke-width="0.75"/><circle cx="318.5" cy="311.2" r="2.3" fill="rgb(6,21,2)" stroke="rgb(20,67,5)" stroke-width="0.75"/><circle cx="326.5" cy="311.4" r="1.9" fill="rgb(6,21,1)" stroke="rgb(19,66,5)" stroke-width="0.75"/><circle cx="251.2" cy="315.7" r="1.8" fill="rgb(5,17,1)" stroke="rgb(16,53,4)" stroke-width="0.75"/><circle cx="256.9" cy="314.4" r="1.8" fill="rgb(5,16,1)" stroke="rgb(15,52,4)" stroke-width="0.75"/><circle cx="262.4" cy="316.0" r="2.4" fill="rgb(6,21,2)" stroke="rgb(20,68,5)" stroke-width="0.75"/><circle cx="269.7" cy="315.9" r="2.0" fill="rgb(9,31,2)" stroke="rgb(29,97,7)" stroke-width="0.75"/><circle cx="273.7" cy="316.2" r="2.4" fill="rgb(6,22,2)" stroke="rgb(20,69,5)" stroke-width="0.75"/><circle cx="278.8" cy="315.1" r="2.3" fill="rgb(5,17,1)" stroke="rgb(16,54,4)" stroke-width="0.75"/><circle cx="285.4" cy="314.1" r="1.7" fill="rgb(10,32,3)" stroke="rgb(30,101,8)" stroke-width="0.75"/><circle cx="289.9" cy="313.7" r="2.2" fill="rgb(9,31,2)" stroke="rgb(29,98,7)" stroke-width="0.75"/><circle cx="296.6" cy="313.9" r="2.0" fill="rgb(5,18,1)" stroke="rgb(17,58,4)" stroke-width="0.75"/><circle cx="300.0" cy="314.2" r="2.1" fill="rgb(6,21,1)" stroke="rgb(19,66,5)" stroke-width="0.75"/><circle cx="306.9" cy="315.3" r="2.3" fill="rgb(7,23,2)" stroke="rgb(22,74,5)" stroke-width="0.75"/><circle cx="312.0" cy="316.0" r="1.7" fill="rgb(4,15,1)" stroke="rgb(14,47,3)" stroke-width="0.75"/><circle cx="318.1" cy="314.0" r="2.2" fill="rgb(6,20,1)" stroke="rgb(18,63,5)" stroke-width="0.75"/><circle cx="322.8" cy="313.9" r="1.8" fill="rgb(5,18,1)" stroke="rgb(16,56,4)" stroke-width="0.75"/><circle cx="327.3" cy="313.8" r="2.3" fill="rgb(3,10,0)" stroke="rgb(9,32,2)" stroke-width="0.75"/><circle cx="248.5" cy="319.1" r="2.0" fill="rgb(4,14,1)" stroke="rgb(13,45,3)" stroke-width="0.75"/><circle cx="256.4" cy="320.1" r="1.8" fill="rgb(8,26,2)" stroke="rgb(24,82,6)" stroke-width="0.75"/><circle cx="259.4" cy="318.7" r="1.7" fill="rgb(7,22,2)" stroke="rgb(21,71,5)" stroke-width="0.75"/><circle cx="266.3" cy="319.7" r="2.2" fill="rgb(8,25,2)" stroke="rgb(24,80,6)" stroke-width="0.75"/><circle cx="270.0" cy="318.4" r="2.2" fill="rgb(5,19,1)" stroke="rgb(17,59,4)" stroke-width="0.75"/><circle cx="277.0" cy="319.9" r="2.3" fill="rgb(12,39,3)" stroke="rgb(36,123,9)" stroke-width="0.75"/><circle cx="280.9" cy="320.4" r="2.4" fill="rgb(11,35,3)" stroke="rgb(33,110,8)" stroke-width="0.75"/><circle cx="286.8" cy="319.9" r="2.1" fill="rgb(9,31,2)" stroke="rgb(29,98,7)" stroke-width="0.75"/><circle cx="293.1" cy="319.1" r="2.3" fill="rgb(9,30,2)" stroke="rgb(28,94,7)" stroke-width="0.75"/><circle cx="299.7" cy="319.3" r="2.2" fill="rgb(7,23,2)" stroke="rgb(22,74,5)" stroke-width="0.75"/><circle cx="303.6" cy="319.7" r="1.9" fill="rgb(4,15,1)" stroke="rgb(14,48,3)" stroke-width="0.75"/><circle cx="310.2" cy="321.1" r="2.3" fill="rgb(5,17,1)" stroke="rgb(16,54,4)" stroke-width="0.75"/><circle cx="315.4" cy="319.7" r="1.9" fill="rgb(7,23,2)" stroke="rgb(21,72,5)" stroke-width="0.75"/><circle cx="320.7" cy="320.0" r="1.7" fill="rgb(7,25,2)" stroke="rgb(23,78,6)" stroke-width="0.75"/><circle cx="326.8" cy="321.0" r="1.9" fill="rgb(3,11,1)" stroke="rgb(10,34,2)" stroke-width="0.75"/><circle cx="253.3" cy="323.4" r="2.4" fill="rgb(3,11,1)" stroke="rgb(10,36,2)" stroke-width="0.75"/><circle cx="258.1" cy="324.1" r="2.0" fill="rgb(5,17,1)" stroke="rgb(16,55,4)" stroke-width="0.75"/><circle cx="262.5" cy="325.1" r="2.1" fill="rgb(8,28,2)" stroke="rgb(26,89,7)" stroke-width="0.75"/><circle cx="267.9" cy="324.9" r="2.0" fill="rgb(8,28,2)" stroke="rgb(26,87,7)" stroke-width="0.75"/><circle cx="274.1" cy="324.1" r="2.4" fill="rgb(8,27,2)" stroke="rgb(25,85,6)" stroke-width="0.75"/><circle cx="280.1" cy="325.0" r="2.1" fill="rgb(7,23,2)" stroke="rgb(22,73,5)" stroke-width="0.75"/><circle cx="286.4" cy="325.8" r="1.8" fill="rgb(8,27,2)" stroke="rgb(25,85,6)" stroke-width="0.75"/><circle cx="291.2" cy="323.6" r="2.1" fill="rgb(5,18,1)" stroke="rgb(17,58,4)" stroke-width="0.75"/><circle cx="296.2" cy="324.3" r="2.0" fill="rgb(9,31,2)" stroke="rgb(29,97,7)" stroke-width="0.75"/><circle cx="302.4" cy="324.1" r="2.4" fill="rgb(4,15,1)" stroke="rgb(14,47,3)" stroke-width="0.75"/><circle cx="306.1" cy="322.9" r="2.3" fill="rgb(4,15,1)" stroke="rgb(14,49,3)" stroke-width="0.75"/><circle cx="311.8" cy="324.4" r="2.2" fill="rgb(4,14,1)" stroke="rgb(13,44,3)" stroke-width="0.75"/><circle cx="316.7" cy="323.1" r="1.9" fill="rgb(4,14,1)" stroke="rgb(13,45,3)" stroke-width="0.75"/><circle cx="322.7" cy="323.0" r="2.2" fill="rgb(5,17,1)" stroke="rgb(16,54,4)" stroke-width="0.75"/><circle cx="327.1" cy="324.1" r="2.0" fill="rgb(5,17,1)" stroke="rgb(16,53,4)" stroke-width="0.75"/><circle cx="249.3" cy="329.0" r="2.1" fill="rgb(4,15,1)" stroke="rgb(14,47,3)" stroke-width="0.75"/><circle cx="255.3" cy="328.7" r="2.4" fill="rgb(4,14,1)" stroke="rgb(14,46,3)" stroke-width="0.75"/><circle cx="259.5" cy="327.5" r="1.8" fill="rgb(4,15,1)" stroke="rgb(14,47,3)" stroke-width="0.75"/><circle cx="270.7" cy="328.5" r="1.9" fill="rgb(8,26,2)" stroke="rgb(25,83,6)" stroke-width="0.75"/><circle cx="276.3" cy="329.7" r="1.7" fill="rgb(10,32,3)" stroke="rgb(30,100,8)" stroke-width="0.75"/><circle cx="282.2" cy="329.9" r="2.0" fill="rgb(9,31,2)" stroke="rgb(29,99,7)" stroke-width="0.75"/><circle cx="286.1" cy="327.9" r="1.9" fill="rgb(11,37,3)" stroke="rgb(35,117,9)" stroke-width="0.75"/><circle cx="292.1" cy="328.6" r="1.9" fill="rgb(8,25,2)" stroke="rgb(24,80,6)" stroke-width="0.75"/><circle cx="298.1" cy="328.6" r="1.9" fill="rgb(8,27,2)" stroke="rgb(26,87,6)" stroke-width="0.75"/><circle cx="305.2" cy="328.8" r="2.0" fill="rgb(9,30,2)" stroke="rgb(28,95,7)" stroke-width="0.75"/><circle cx="309.4" cy="330.4" r="1.9" fill="rgb(10,32,3)" stroke="rgb(30,102,8)" stroke-width="0.75"/><circle cx="315.0" cy="329.3" r="2.1" fill="rgb(7,24,2)" stroke="rgb(22,76,6)" stroke-width="0.75"/><circle cx="321.0" cy="328.5" r="2.2" fill="rgb(8,26,2)" stroke="rgb(24,82,6)" stroke-width="0.75"/><circle cx="324.0" cy="330.4" r="1.8" fill="rgb(6,20,1)" stroke="rgb(19,65,5)" stroke-width="0.75"/><circle cx="252.6" cy="333.9" r="1.8" fill="rgb(3,11,1)" stroke="rgb(10,35,2)" stroke-width="0.75"/><circle cx="256.6" cy="334.4" r="1.8" fill="rgb(4,13,1)" stroke="rgb(12,41,3)" stroke-width="0.75"/><circle cx="273.7" cy="333.0" r="1.9" fill="rgb(8,28,2)" stroke="rgb(26,88,7)" stroke-width="0.75"/><circle cx="280.7" cy="332.9" r="1.9" fill="rgb(11,35,3)" stroke="rgb(33,111,8)" stroke-width="0.75"/><circle cx="284.2" cy="333.6" r="1.8" fill="rgb(6,21,2)" stroke="rgb(20,67,5)" stroke-width="0.75"/><circle cx="291.7" cy="332.5" r="2.2" fill="rgb(6,20,1)" stroke="rgb(19,63,5)" stroke-width="0.75"/><circle cx="294.8" cy="334.6" r="1.9" fill="rgb(9,31,2)" stroke="rgb(29,99,7)" stroke-width="0.75"/><circle cx="299.8" cy="333.4" r="2.2" fill="rgb(11,38,3)" stroke="rgb(35,119,9)" stroke-width="0.75"/><circle cx="307.3" cy="334.3" r="2.1" fill="rgb(9,30,2)" stroke="rgb(28,94,7)" stroke-width="0.75"/><circle cx="312.8" cy="332.5" r="2.0" fill="rgb(10,32,3)" stroke="rgb(30,102,8)" stroke-width="0.75"/><circle cx="318.5" cy="333.3" r="2.0" fill="rgb(5,18,1)" stroke="rgb(17,56,4)" stroke-width="0.75"/><circle cx="323.6" cy="333.6" r="2.0" fill="rgb(10,33,3)" stroke="rgb(30,103,8)" stroke-width="0.75"/><circle cx="329.3" cy="333.6" r="1.8" fill="rgb(7,23,2)" stroke="rgb(21,72,5)" stroke-width="0.75"/><circle cx="249.1" cy="337.3" r="2.3" fill="rgb(6,19,1)" stroke="rgb(18,60,4)" stroke-width="0.75"/><circle cx="255.2" cy="337.0" r="2.0" fill="rgb(4,15,1)" stroke="rgb(14,47,3)" stroke-width="0.75"/><circle cx="270.4" cy="338.3" r="1.9" fill="rgb(6,21,2)" stroke="rgb(20,67,5)" stroke-width="0.75"/><circle cx="276.7" cy="337.2" r="1.8" fill="rgb(5,18,1)" stroke="rgb(17,57,4)" stroke-width="0.75"/><circle cx="281.5" cy="339.6" r="2.1" fill="rgb(8,28,2)" stroke="rgb(26,89,7)" stroke-width="0.75"/><circle cx="288.3" cy="338.4" r="2.4" fill="rgb(12,38,3)" stroke="rgb(36,120,9)" stroke-width="0.75"/><circle cx="293.3" cy="339.5" r="2.4" fill="rgb(12,40,3)" stroke="rgb(38,126,10)" stroke-width="0.75"/><circle cx="299.8" cy="338.7" r="1.7" fill="rgb(13,43,4)" stroke="rgb(41,136,10)" stroke-width="0.75"/><circle cx="302.5" cy="339.5" r="2.4" fill="rgb(7,25,2)" stroke="rgb(23,78,6)" stroke-width="0.75"/><circle cx="308.2" cy="337.6" r="2.1" fill="rgb(14,45,4)" stroke="rgb(43,143,11)" stroke-width="0.75"/><circle cx="313.5" cy="338.4" r="2.0" fill="rgb(11,37,3)" stroke="rgb(35,118,9)" stroke-width="0.75"/><circle cx="320.2" cy="338.3" r="1.8" fill="rgb(8,28,2)" stroke="rgb(26,87,7)" stroke-width="0.75"/><circle cx="325.3" cy="337.3" r="1.9" fill="rgb(8,26,2)" stroke="rgb(24,81,6)" stroke-width="0.75"/><circle cx="253.2" cy="343.2" r="2.3" fill="rgb(3,10,1)" stroke="rgb(10,34,2)" stroke-width="0.75"/><circle cx="257.3" cy="344.1" r="2.3" fill="rgb(5,17,1)" stroke="rgb(16,53,4)" stroke-width="0.75"/><circle cx="264.6" cy="344.3" r="2.1" fill="rgb(4,14,1)" stroke="rgb(13,45,3)" stroke-width="0.75"/><circle cx="270.2" cy="341.8" r="2.3" fill="rgb(5,16,1)" stroke="rgb(15,50,4)" stroke-width="0.75"/><circle cx="278.8" cy="343.8" r="2.2" fill="rgb(5,17,1)" stroke="rgb(15,53,4)" stroke-width="0.75"/><circle cx="286.1" cy="342.0" r="1.9" fill="rgb(8,27,2)" stroke="rgb(26,87,6)" stroke-width="0.75"/><circle cx="290.3" cy="344.5" r="2.0" fill="rgb(6,19,1)" stroke="rgb(18,61,4)" stroke-width="0.75"/><circle cx="296.9" cy="342.9" r="2.3" fill="rgb(11,35,3)" stroke="rgb(33,110,8)" stroke-width="0.75"/><circle cx="299.9" cy="343.0" r="1.8" fill="rgb(8,28,2)" stroke="rgb(26,87,7)" stroke-width="0.75"/><circle cx="306.6" cy="343.9" r="2.3" fill="rgb(10,33,3)" stroke="rgb(31,105,8)" stroke-width="0.75"/><circle cx="311.0" cy="342.4" r="2.1" fill="rgb(9,30,2)" stroke="rgb(28,94,7)" stroke-width="0.75"/><circle cx="318.8" cy="341.6" r="1.8" fill="rgb(6,20,1)" stroke="rgb(19,64,5)" stroke-width="0.75"/><circle cx="323.0" cy="341.9" r="2.0" fill="rgb(10,34,3)" stroke="rgb(32,107,8)" stroke-width="0.75"/><circle cx="328.9" cy="342.9" r="2.0" fill="rgb(5,16,1)" stroke="rgb(15,52,4)" stroke-width="0.75"/><circle cx="251.1" cy="347.0" r="2.0" fill="rgb(6,20,1)" stroke="rgb(19,64,5)" stroke-width="0.75"/><circle cx="256.3" cy="347.0" r="2.0" fill="rgb(5,16,1)" stroke="rgb(15,51,4)" stroke-width="0.75"/><circle cx="259.2" cy="346.5" r="1.7" fill="rgb(5,16,1)" stroke="rgb(15,50,4)" stroke-width="0.75"/><circle cx="264.7" cy="347.4" r="2.1" fill="rgb(6,22,2)" stroke="rgb(20,68,5)" stroke-width="0.75"/><circle cx="282.2" cy="347.9" r="1.9" fill="rgb(6,20,1)" stroke="rgb(18,63,5)" stroke-width="0.75"/><circle cx="286.4" cy="348.0" r="2.4" fill="rgb(6,19,1)" stroke="rgb(18,60,4)" stroke-width="0.75"/><circle cx="292.8" cy="347.3" r="2.0" fill="rgb(12,40,3)" stroke="rgb(38,127,10)" stroke-width="0.75"/><circle cx="299.4" cy="348.4" r="2.1" fill="rgb(12,41,3)" stroke="rgb(38,128,10)" stroke-width="0.75"/><circle cx="302.7" cy="346.6" r="1.7" fill="rgb(9,30,2)" stroke="rgb(28,94,7)" stroke-width="0.75"/><circle cx="307.9" cy="347.1" r="1.8" fill="rgb(15,49,4)" stroke="rgb(46,153,12)" stroke-width="0.75"/><circle cx="315.0" cy="349.2" r="1.7" fill="rgb(12,40,3)" stroke="rgb(38,128,10)" stroke-width="0.75"/><circle cx="321.4" cy="348.9" r="1.8" fill="rgb(6,20,1)" stroke="rgb(18,63,5)" stroke-width="0.75"/><circle cx="324.3" cy="348.7" r="2.1" fill="rgb(10,33,3)" stroke="rgb(31,105,8)" stroke-width="0.75"/><circle cx="253.3" cy="352.4" r="2.2" fill="rgb(6,21,1)" stroke="rgb(19,65,5)" stroke-width="0.75"/><circle cx="259.4" cy="352.8" r="1.7" fill="rgb(4,15,1)" stroke="rgb(14,49,3)" stroke-width="0.75"/><circle cx="262.2" cy="351.6" r="2.0" fill="rgb(6,21,2)" stroke="rgb(20,67,5)" stroke-width="0.75"/><circle cx="267.6" cy="352.8" r="1.7" fill="rgb(6,21,1)" stroke="rgb(19,66,5)" stroke-width="0.75"/><circle cx="274.5" cy="353.6" r="2.0" fill="rgb(7,22,2)" stroke="rgb(21,71,5)" stroke-width="0.75"/><circle cx="278.0" cy="351.0" r="2.0" fill="rgb(4,15,1)" stroke="rgb(14,48,3)" stroke-width="0.75"/><circle cx="286.3" cy="351.8" r="2.1" fill="rgb(5,16,1)" stroke="rgb(15,52,4)" stroke-width="0.75"/><circle cx="289.6" cy="353.6" r="2.2" fill="rgb(6,21,2)" stroke="rgb(20,68,5)" stroke-width="0.75"/><circle cx="294.5" cy="353.4" r="2.2" fill="rgb(7,24,2)" stroke="rgb(23,76,6)" stroke-width="0.75"/><circle cx="302.3" cy="352.7" r="2.2" fill="rgb(13,43,4)" stroke="rgb(40,135,10)" stroke-width="0.75"/><circle cx="306.8" cy="351.0" r="1.9" fill="rgb(17,56,5)" stroke="rgb(52,176,14)" stroke-width="0.75"/><circle cx="312.2" cy="352.8" r="2.0" fill="rgb(14,45,4)" stroke="rgb(42,143,11)" stroke-width="0.75"/><circle cx="318.1" cy="352.5" r="2.3" fill="rgb(14,47,4)" stroke="rgb(44,147,11)" stroke-width="0.75"/><circle cx="321.5" cy="351.6" r="2.1" fill="rgb(12,39,3)" stroke="rgb(37,124,9)" stroke-width="0.75"/><circle cx="328.6" cy="351.2" r="2.3" fill="rgb(6,20,1)" stroke="rgb(19,64,5)" stroke-width="0.75"/><circle cx="248.6" cy="356.4" r="2.4" fill="rgb(6,20,1)" stroke="rgb(19,64,5)" stroke-width="0.75"/><circle cx="256.1" cy="357.3" r="2.3" fill="rgb(4,13,1)" stroke="rgb(12,40,3)" stroke-width="0.75"/><circle cx="260.2" cy="358.6" r="2.3" fill="rgb(5,17,1)" stroke="rgb(16,54,4)" stroke-width="0.75"/><circle cx="266.2" cy="356.4" r="2.0" fill="rgb(6,19,1)" stroke="rgb(18,61,4)" stroke-width="0.75"/><circle cx="271.6" cy="358.2" r="2.3" fill="rgb(4,15,1)" stroke="rgb(14,47,3)" stroke-width="0.75"/><circle cx="276.4" cy="357.0" r="2.1" fill="rgb(6,20,1)" stroke="rgb(19,63,5)" stroke-width="0.75"/><circle cx="282.4" cy="358.6" r="1.7" fill="rgb(8,27,2)" stroke="rgb(26,87,6)" stroke-width="0.75"/><circle cx="288.0" cy="356.2" r="2.0" fill="rgb(5,16,1)" stroke="rgb(15,50,4)" stroke-width="0.75"/><circle cx="293.2" cy="356.6" r="2.3" fill="rgb(6,21,2)" stroke="rgb(20,68,5)" stroke-width="0.75"/><circle cx="298.3" cy="357.8" r="2.3" fill="rgb(7,24,2)" stroke="rgb(22,76,6)" stroke-width="0.75"/><circle cx="302.4" cy="357.2" r="1.8" fill="rgb(9,29,2)" stroke="rgb(27,92,7)" stroke-width="0.75"/><circle cx="308.6" cy="357.5" r="2.2" fill="rgb(14,46,4)" stroke="rgb(43,144,11)" stroke-width="0.75"/><circle cx="315.6" cy="357.1" r="2.1" fill="rgb(10,33,3)" stroke="rgb(31,103,8)" stroke-width="0.75"/><circle cx="320.4" cy="356.5" r="2.4" fill="rgb(10,33,3)" stroke="rgb(31,104,8)" stroke-width="0.75"/><circle cx="324.7" cy="357.2" r="2.1" fill="rgb(8,27,2)" stroke="rgb(26,87,6)" stroke-width="0.75"/><circle cx="252.6" cy="361.0" r="2.0" fill="rgb(4,14,1)" stroke="rgb(13,45,3)" stroke-width="0.75"/><circle cx="258.7" cy="361.9" r="1.8" fill="rgb(5,17,1)" stroke="rgb(16,54,4)" stroke-width="0.75"/><circle cx="262.9" cy="361.1" r="2.4" fill="rgb(5,17,1)" stroke="rgb(16,54,4)" stroke-width="0.75"/><circle cx="269.7" cy="363.1" r="2.1" fill="rgb(5,19,1)" stroke="rgb(17,59,4)" stroke-width="0.75"/><circle cx="275.4" cy="361.1" r="1.8" fill="rgb(4,15,1)" stroke="rgb(14,47,3)" stroke-width="0.75"/><circle cx="278.2" cy="362.3" r="2.1" fill="rgb(3,12,1)" stroke="rgb(11,38,3)" stroke-width="0.75"/><circle cx="283.5" cy="362.9" r="2.3" fill="rgb(9,29,2)" stroke="rgb(27,93,7)" stroke-width="0.75"/><circle cx="290.8" cy="361.4" r="2.2" fill="rgb(7,23,2)" stroke="rgb(22,74,5)" stroke-width="0.75"/><circle cx="295.5" cy="362.4" r="2.0" fill="rgb(14,46,4)" stroke="rgb(43,145,11)" stroke-width="0.75"/><circle cx="300.1" cy="361.5" r="1.8" fill="rgb(15,48,4)" stroke="rgb(45,151,12)" stroke-width="0.75"/><circle cx="307.4" cy="362.4" r="2.1" fill="rgb(9,30,2)" stroke="rgb(28,94,7)" stroke-width="0.75"/><circle cx="312.2" cy="360.7" r="2.0" fill="rgb(12,41,3)" stroke="rgb(38,128,10)" stroke-width="0.75"/><circle cx="316.5" cy="361.1" r="2.3" fill="rgb(8,26,2)" stroke="rgb(25,83,6)" stroke-width="0.75"/><circle cx="321.3" cy="362.3" r="2.0" fill="rgb(7,25,2)" stroke="rgb(23,79,6)" stroke-width="0.75"/><circle cx="328.3" cy="363.1" r="2.0" fill="rgb(5,17,1)" stroke="rgb(16,53,4)" stroke-width="0.75"/><circle cx="250.0" cy="367.8" r="2.0" fill="rgb(5,17,1)" stroke="rgb(16,54,4)" stroke-width="0.75"/><circle cx="255.1" cy="366.6" r="2.0" fill="rgb(5,16,1)" stroke="rgb(15,52,4)" stroke-width="0.75"/><circle cx="259.9" cy="366.5" r="2.4" fill="rgb(2,9,0)" stroke="rgb(8,28,2)" stroke-width="0.75"/><circle cx="267.3" cy="366.5" r="2.1" fill="rgb(3,12,1)" stroke="rgb(11,39,3)" stroke-width="0.75"/><circle cx="269.9" cy="366.1" r="1.8" fill="rgb(6,21,1)" stroke="rgb(19,66,5)" stroke-width="0.75"/><circle cx="275.9" cy="366.9" r="1.8" fill="rgb(3,10,1)" stroke="rgb(10,33,2)" stroke-width="0.75"/><circle cx="282.2" cy="366.5" r="2.3" fill="rgb(4,15,1)" stroke="rgb(14,48,3)" stroke-width="0.75"/><circle cx="288.9" cy="367.4" r="1.7" fill="rgb(10,33,3)" stroke="rgb(31,103,8)" stroke-width="0.75"/><circle cx="291.8" cy="365.2" r="2.1" fill="rgb(9,29,2)" stroke="rgb(27,92,7)" stroke-width="0.75"/><circle cx="299.0" cy="366.9" r="1.9" fill="rgb(8,28,2)" stroke="rgb(26,89,7)" stroke-width="0.75"/><circle cx="304.3" cy="366.6" r="2.0" fill="rgb(14,45,4)" stroke="rgb(42,141,11)" stroke-width="0.75"/><circle cx="307.8" cy="366.4" r="2.1" fill="rgb(7,24,2)" stroke="rgb(23,77,6)" stroke-width="0.75"/><circle cx="315.6" cy="366.9" r="2.1" fill="rgb(5,18,1)" stroke="rgb(17,58,4)" stroke-width="0.75"/><circle cx="318.6" cy="365.4" r="1.8" fill="rgb(9,30,2)" stroke="rgb(28,94,7)" stroke-width="0.75"/><circle cx="326.6" cy="366.7" r="1.9" fill="rgb(7,22,2)" stroke="rgb(21,70,5)" stroke-width="0.75"/><circle cx="251.5" cy="371.9" r="2.1" fill="rgb(5,17,1)" stroke="rgb(16,55,4)" stroke-width="0.75"/><circle cx="259.2" cy="372.4" r="2.1" fill="rgb(6,19,1)" stroke="rgb(18,61,4)" stroke-width="0.75"/><circle cx="263.7" cy="372.2" r="1.8" fill="rgb(3,11,1)" stroke="rgb(10,34,2)" stroke-width="0.75"/><circle cx="267.5" cy="371.2" r="2.3" fill="rgb(5,17,1)" stroke="rgb(16,54,4)" stroke-width="0.75"/><circle cx="275.0" cy="370.8" r="2.0" fill="rgb(3,10,0)" stroke="rgb(9,32,2)" stroke-width="0.75"/><circle cx="278.4" cy="372.4" r="2.0" fill="rgb(4,14,1)" stroke="rgb(13,44,3)" stroke-width="0.75"/><circle cx="285.5" cy="369.8" r="2.1" fill="rgb(10,34,3)" stroke="rgb(32,107,8)" stroke-width="0.75"/><circle cx="289.0" cy="371.4" r="2.2" fill="rgb(12,38,3)" stroke="rgb(36,120,9)" stroke-width="0.75"/><circle cx="297.1" cy="371.6" r="2.1" fill="rgb(9,31,2)" stroke="rgb(29,97,7)" stroke-width="0.75"/><circle cx="302.2" cy="370.1" r="2.0" fill="rgb(9,30,2)" stroke="rgb(28,95,7)" stroke-width="0.75"/><circle cx="306.7" cy="370.3" r="2.2" fill="rgb(9,29,2)" stroke="rgb(27,92,7)" stroke-width="0.75"/><circle cx="311.4" cy="370.2" r="2.3" fill="rgb(5,19,1)" stroke="rgb(17,59,4)" stroke-width="0.75"/><circle cx="317.2" cy="369.9" r="1.9" fill="rgb(5,17,1)" stroke="rgb(16,54,4)" stroke-width="0.75"/><circle cx="323.2" cy="371.7" r="2.4" fill="rgb(8,26,2)" stroke="rgb(24,82,6)" stroke-width="0.75"/><circle cx="329.3" cy="372.1" r="2.4" fill="rgb(5,16,1)" stroke="rgb(15,50,4)" stroke-width="0.75"/></g><clipPath id="c31"><rect x="252.8" y="375.0" width="69.2" height="69.9"/></clipPath><g clip-path="url(#c31)"><rect x="252.8" y="375.0" width="69.2" height="69.9" fill="#000" stroke="none" stroke-width="1" /><g fill="#1d4a4c" stroke="#48c4cc" stroke-width="0.7"><circle cx="248.5" cy="373.3" r="3.2"/><circle cx="255.2" cy="370.7" r="3.2"/><circle cx="269.1" cy="370.6" r="3.1"/><circle cx="273.5" cy="371.6" r="2.9"/><circle cx="286.6" cy="372.7" r="3.0"/><circle cx="293.2" cy="373.3" r="2.8"/><circle cx="306.8" cy="373.1" r="2.9"/><circle cx="312.0" cy="372.1" r="3.1"/><circle cx="317.1" cy="371.5" r="3.0"/><circle cx="323.4" cy="371.1" r="2.7"/><circle cx="330.7" cy="371.5" r="3.0"/><circle cx="253.6" cy="377.6" r="2.7"/><circle cx="266.3" cy="377.4" r="3.1"/><circle cx="271.9" cy="376.7" r="2.8"/><circle cx="278.2" cy="377.1" r="3.1"/><circle cx="284.5" cy="377.6" r="3.2"/><circle cx="297.0" cy="376.0" r="2.6"/><circle cx="302.9" cy="377.5" r="3.0"/><circle cx="314.8" cy="377.3" r="3.1"/><circle cx="321.8" cy="376.2" r="2.7"/><circle cx="327.3" cy="376.7" r="3.2"/><circle cx="249.0" cy="382.0" r="3.3"/><circle cx="257.1" cy="382.4" r="2.7"/><circle cx="267.8" cy="382.9" r="2.9"/><circle cx="273.2" cy="384.0" r="3.3"/><circle cx="281.2" cy="381.7" r="3.3"/><circle cx="287.1" cy="382.8" r="3.1"/><circle cx="300.5" cy="383.1" r="2.6"/><circle cx="312.9" cy="382.2" r="2.7"/><circle cx="318.6" cy="383.8" r="3.0"/><circle cx="325.3" cy="381.6" r="2.6"/><circle cx="253.7" cy="388.7" r="2.9"/><circle cx="272.8" cy="388.4" r="2.9"/><circle cx="278.4" cy="388.7" r="2.6"/><circle cx="283.6" cy="388.2" r="2.7"/><circle cx="290.1" cy="387.4" r="3.3"/><circle cx="295.6" cy="389.1" r="2.7"/><circle cx="303.5" cy="388.7" r="2.9"/><circle cx="309.2" cy="388.2" r="3.1"/><circle cx="315.1" cy="388.6" r="2.8"/><circle cx="319.7" cy="388.0" r="3.0"/><circle cx="328.6" cy="387.4" r="3.0"/><circle cx="249.1" cy="394.5" r="3.3"/><circle cx="254.7" cy="394.4" r="3.0"/><circle cx="263.0" cy="394.6" r="3.2"/><circle cx="267.7" cy="394.8" r="2.9"/><circle cx="274.2" cy="393.4" r="2.7"/><circle cx="282.1" cy="393.7" r="2.6"/><circle cx="287.5" cy="392.5" r="2.7"/><circle cx="304.9" cy="394.9" r="3.1"/><circle cx="318.6" cy="393.1" r="2.7"/><circle cx="324.3" cy="392.4" r="3.3"/><circle cx="331.3" cy="394.4" r="3.2"/><circle cx="253.1" cy="399.5" r="2.9"/><circle cx="258.7" cy="397.9" r="2.6"/><circle cx="264.8" cy="399.6" r="3.1"/><circle cx="271.7" cy="397.9" r="2.7"/><circle cx="282.5" cy="397.7" r="3.0"/><circle cx="303.2" cy="399.8" r="2.7"/><circle cx="308.2" cy="399.1" r="3.3"/><circle cx="316.3" cy="399.3" r="3.2"/><circle cx="320.8" cy="400.3" r="3.1"/><circle cx="326.6" cy="400.2" r="2.9"/><circle cx="333.0" cy="398.8" r="2.7"/><circle cx="257.1" cy="404.9" r="2.7"/><circle cx="261.3" cy="405.7" r="2.9"/><circle cx="269.0" cy="404.4" r="3.0"/><circle cx="275.6" cy="403.3" r="3.2"/><circle cx="281.1" cy="405.2" r="2.9"/><circle cx="287.8" cy="404.8" r="3.0"/><circle cx="292.0" cy="404.3" r="3.2"/><circle cx="305.3" cy="404.2" r="2.8"/><circle cx="311.9" cy="404.6" r="3.0"/><circle cx="323.6" cy="403.5" r="3.3"/><circle cx="329.3" cy="405.3" r="3.3"/><circle cx="254.1" cy="408.7" r="3.0"/><circle cx="258.7" cy="410.9" r="2.7"/><circle cx="266.3" cy="411.1" r="2.9"/><circle cx="283.9" cy="408.4" r="3.2"/><circle cx="289.4" cy="409.7" r="3.1"/><circle cx="296.8" cy="408.8" r="2.7"/><circle cx="301.4" cy="409.3" r="2.6"/><circle cx="307.6" cy="408.7" r="3.3"/><circle cx="313.8" cy="410.6" r="2.7"/><circle cx="328.2" cy="410.7" r="2.6"/><circle cx="333.9" cy="409.2" r="2.8"/><circle cx="250.7" cy="414.0" r="3.0"/><circle cx="254.7" cy="416.4" r="2.6"/><circle cx="261.4" cy="416.3" r="3.0"/><circle cx="279.8" cy="415.6" r="2.9"/><circle cx="293.1" cy="414.3" r="3.0"/><circle cx="300.4" cy="415.5" r="3.3"/><circle cx="306.1" cy="415.5" r="3.2"/><circle cx="310.6" cy="416.2" r="3.2"/><circle cx="318.8" cy="415.2" r="2.9"/><circle cx="324.5" cy="415.1" r="2.7"/><circle cx="331.1" cy="415.2" r="2.6"/><circle cx="252.3" cy="420.6" r="2.9"/><circle cx="258.3" cy="419.2" r="3.3"/><circle cx="265.4" cy="421.6" r="2.9"/><circle cx="277.7" cy="420.8" r="3.0"/><circle cx="290.1" cy="421.1" r="2.6"/><circle cx="297.4" cy="420.6" r="2.9"/><circle cx="314.4" cy="420.1" r="2.7"/><circle cx="321.1" cy="420.0" r="3.2"/><circle cx="328.7" cy="421.2" r="3.3"/><circle cx="251.0" cy="425.0" r="2.8"/><circle cx="256.4" cy="427.2" r="2.7"/><circle cx="261.9" cy="427.0" r="3.2"/><circle cx="269.3" cy="425.4" r="3.2"/><circle cx="280.6" cy="425.5" r="2.8"/><circle cx="294.3" cy="427.1" r="3.1"/><circle cx="317.1" cy="425.9" r="2.7"/><circle cx="323.2" cy="426.4" r="2.6"/><circle cx="330.2" cy="425.2" r="3.1"/><circle cx="253.4" cy="430.9" r="3.3"/><circle cx="257.8" cy="432.3" r="2.7"/><circle cx="266.0" cy="432.4" r="2.7"/><circle cx="270.9" cy="430.7" r="3.0"/><circle cx="278.2" cy="430.3" r="3.1"/><circle cx="290.2" cy="430.1" r="2.8"/><circle cx="295.7" cy="431.1" r="3.3"/><circle cx="316.2" cy="432.0" r="2.7"/><circle cx="322.0" cy="432.0" r="2.9"/><circle cx="326.4" cy="430.6" r="3.1"/><circle cx="332.2" cy="431.5" r="3.0"/><circle cx="248.6" cy="435.9" r="3.3"/><circle cx="255.1" cy="437.9" r="2.8"/><circle cx="269.7" cy="435.8" r="2.6"/><circle cx="273.6" cy="436.4" r="3.3"/><circle cx="281.7" cy="435.6" r="3.3"/><circle cx="294.0" cy="436.3" r="3.1"/><circle cx="298.1" cy="435.6" r="2.8"/><circle cx="312.5" cy="435.9" r="2.9"/><circle cx="325.2" cy="437.3" r="2.8"/><circle cx="329.4" cy="437.4" r="3.2"/><circle cx="251.6" cy="442.0" r="3.1"/><circle cx="258.4" cy="442.9" r="2.9"/><circle cx="265.9" cy="442.6" r="2.9"/><circle cx="270.7" cy="440.8" r="3.1"/><circle cx="278.1" cy="442.7" r="2.8"/><circle cx="282.5" cy="443.1" r="2.8"/><circle cx="296.4" cy="442.5" r="3.1"/><circle cx="303.7" cy="442.5" r="3.3"/><circle cx="308.7" cy="442.9" r="2.8"/><circle cx="314.9" cy="440.8" r="3.2"/><circle cx="326.8" cy="441.8" r="2.9"/><circle cx="332.7" cy="441.6" r="2.9"/></g><g fill="#b03636" stroke="#702424" stroke-width="0.4"><circle cx="248.5" cy="373.3" r="1.6"/><circle cx="255.2" cy="370.7" r="1.6"/><circle cx="269.1" cy="370.6" r="1.6"/><circle cx="273.5" cy="371.6" r="1.4"/><circle cx="286.6" cy="372.7" r="1.5"/><circle cx="293.2" cy="373.3" r="1.4"/><circle cx="306.8" cy="373.1" r="1.4"/><circle cx="312.0" cy="372.1" r="1.5"/><circle cx="317.1" cy="371.5" r="1.5"/><circle cx="323.4" cy="371.1" r="1.3"/><circle cx="330.7" cy="371.5" r="1.5"/><circle cx="253.6" cy="377.6" r="1.4"/><circle cx="266.3" cy="377.4" r="1.6"/><circle cx="271.9" cy="376.7" r="1.4"/><circle cx="278.2" cy="377.1" r="1.6"/><circle cx="284.5" cy="377.6" r="1.6"/><circle cx="297.0" cy="376.0" r="1.3"/><circle cx="302.9" cy="377.5" r="1.5"/><circle cx="314.8" cy="377.3" r="1.5"/><circle cx="321.8" cy="376.2" r="1.3"/><circle cx="327.3" cy="376.7" r="1.6"/><circle cx="249.0" cy="382.0" r="1.7"/><circle cx="257.1" cy="382.4" r="1.4"/><circle cx="267.8" cy="382.9" r="1.4"/><circle cx="273.2" cy="384.0" r="1.7"/><circle cx="281.2" cy="381.7" r="1.7"/><circle cx="287.1" cy="382.8" r="1.5"/><circle cx="300.5" cy="383.1" r="1.3"/><circle cx="312.9" cy="382.2" r="1.3"/><circle cx="318.6" cy="383.8" r="1.5"/><circle cx="325.3" cy="381.6" r="1.3"/><circle cx="253.7" cy="388.7" r="1.4"/><circle cx="272.8" cy="388.4" r="1.4"/><circle cx="278.4" cy="388.7" r="1.3"/><circle cx="283.6" cy="388.2" r="1.3"/><circle cx="290.1" cy="387.4" r="1.7"/><circle cx="295.6" cy="389.1" r="1.3"/><circle cx="303.5" cy="388.7" r="1.4"/><circle cx="309.2" cy="388.2" r="1.6"/><circle cx="315.1" cy="388.6" r="1.4"/><circle cx="319.7" cy="388.0" r="1.5"/><circle cx="328.6" cy="387.4" r="1.5"/><circle cx="249.1" cy="394.5" r="1.7"/><circle cx="254.7" cy="394.4" r="1.5"/><circle cx="263.0" cy="394.6" r="1.6"/><circle cx="267.7" cy="394.8" r="1.4"/><circle cx="274.2" cy="393.4" r="1.4"/><circle cx="282.1" cy="393.7" r="1.3"/><circle cx="287.5" cy="392.5" r="1.3"/><circle cx="304.9" cy="394.9" r="1.6"/><circle cx="318.6" cy="393.1" r="1.3"/><circle cx="324.3" cy="392.4" r="1.7"/><circle cx="331.3" cy="394.4" r="1.6"/><circle cx="253.1" cy="399.5" r="1.5"/><circle cx="258.7" cy="397.9" r="1.3"/><circle cx="264.8" cy="399.6" r="1.5"/><circle cx="271.7" cy="397.9" r="1.3"/><circle cx="282.5" cy="397.7" r="1.5"/><circle cx="303.2" cy="399.8" r="1.3"/><circle cx="308.2" cy="399.1" r="1.7"/><circle cx="316.3" cy="399.3" r="1.6"/><circle cx="320.8" cy="400.3" r="1.5"/><circle cx="326.6" cy="400.2" r="1.4"/><circle cx="333.0" cy="398.8" r="1.3"/><circle cx="257.1" cy="404.9" r="1.3"/><circle cx="261.3" cy="405.7" r="1.4"/><circle cx="269.0" cy="404.4" r="1.5"/><circle cx="275.6" cy="403.3" r="1.6"/><circle cx="281.1" cy="405.2" r="1.5"/><circle cx="287.8" cy="404.8" r="1.5"/><circle cx="292.0" cy="404.3" r="1.6"/><circle cx="305.3" cy="404.2" r="1.4"/><circle cx="311.9" cy="404.6" r="1.5"/><circle cx="323.6" cy="403.5" r="1.7"/><circle cx="329.3" cy="405.3" r="1.7"/><circle cx="254.1" cy="408.7" r="1.5"/><circle cx="258.7" cy="410.9" r="1.4"/><circle cx="266.3" cy="411.1" r="1.5"/><circle cx="283.9" cy="408.4" r="1.7"/><circle cx="289.4" cy="409.7" r="1.6"/><circle cx="296.8" cy="408.8" r="1.3"/><circle cx="301.4" cy="409.3" r="1.3"/><circle cx="307.6" cy="408.7" r="1.7"/><circle cx="313.8" cy="410.6" r="1.3"/><circle cx="328.2" cy="410.7" r="1.3"/><circle cx="333.9" cy="409.2" r="1.4"/><circle cx="250.7" cy="414.0" r="1.5"/><circle cx="254.7" cy="416.4" r="1.3"/><circle cx="261.4" cy="416.3" r="1.5"/><circle cx="279.8" cy="415.6" r="1.4"/><circle cx="293.1" cy="414.3" r="1.5"/><circle cx="300.4" cy="415.5" r="1.7"/><circle cx="306.1" cy="415.5" r="1.6"/><circle cx="310.6" cy="416.2" r="1.6"/><circle cx="318.8" cy="415.2" r="1.5"/><circle cx="324.5" cy="415.1" r="1.3"/><circle cx="331.1" cy="415.2" r="1.3"/><circle cx="252.3" cy="420.6" r="1.5"/><circle cx="258.3" cy="419.2" r="1.7"/><circle cx="265.4" cy="421.6" r="1.5"/><circle cx="277.7" cy="420.8" r="1.5"/><circle cx="290.1" cy="421.1" r="1.3"/><circle cx="297.4" cy="420.6" r="1.5"/><circle cx="314.4" cy="420.1" r="1.3"/><circle cx="321.1" cy="420.0" r="1.6"/><circle cx="328.7" cy="421.2" r="1.7"/><circle cx="251.0" cy="425.0" r="1.4"/><circle cx="256.4" cy="427.2" r="1.3"/><circle cx="261.9" cy="427.0" r="1.6"/><circle cx="269.3" cy="425.4" r="1.6"/><circle cx="280.6" cy="425.5" r="1.4"/><circle cx="294.3" cy="427.1" r="1.6"/><circle cx="317.1" cy="425.9" r="1.3"/><circle cx="323.2" cy="426.4" r="1.3"/><circle cx="330.2" cy="425.2" r="1.6"/><circle cx="253.4" cy="430.9" r="1.7"/><circle cx="257.8" cy="432.3" r="1.4"/><circle cx="266.0" cy="432.4" r="1.4"/><circle cx="270.9" cy="430.7" r="1.5"/><circle cx="278.2" cy="430.3" r="1.6"/><circle cx="290.2" cy="430.1" r="1.4"/><circle cx="295.7" cy="431.1" r="1.7"/><circle cx="316.2" cy="432.0" r="1.3"/><circle cx="322.0" cy="432.0" r="1.5"/><circle cx="326.4" cy="430.6" r="1.5"/><circle cx="332.2" cy="431.5" r="1.5"/><circle cx="248.6" cy="435.9" r="1.7"/><circle cx="255.1" cy="437.9" r="1.4"/><circle cx="269.7" cy="435.8" r="1.3"/><circle cx="273.6" cy="436.4" r="1.7"/><circle cx="281.7" cy="435.6" r="1.7"/><circle cx="294.0" cy="436.3" r="1.6"/><circle cx="298.1" cy="435.6" r="1.4"/><circle cx="312.5" cy="435.9" r="1.5"/><circle cx="325.2" cy="437.3" r="1.4"/><circle cx="329.4" cy="437.4" r="1.6"/><circle cx="251.6" cy="442.0" r="1.6"/><circle cx="258.4" cy="442.9" r="1.5"/><circle cx="265.9" cy="442.6" r="1.5"/><circle cx="270.7" cy="440.8" r="1.6"/><circle cx="278.1" cy="442.7" r="1.4"/><circle cx="282.5" cy="443.1" r="1.4"/><circle cx="296.4" cy="442.5" r="1.6"/><circle cx="303.7" cy="442.5" r="1.7"/><circle cx="308.7" cy="442.9" r="1.4"/><circle cx="314.9" cy="440.8" r="1.6"/><circle cx="326.8" cy="441.8" r="1.5"/><circle cx="332.7" cy="441.6" r="1.4"/></g></g><clipPath id="c32"><rect x="252.8" y="446.1" width="69.2" height="70.6"/></clipPath><g clip-path="url(#c32)"><rect x="252.8" y="446.1" width="69.2" height="70.6" fill="#000" stroke="none" stroke-width="1" /><circle cx="289.4" cy="483.3" r="0.9" fill="#6c6ae2" opacity="0.5"/><circle cx="296.5" cy="496.8" r="1.1" fill="#6c6ae2" opacity="0.7"/><circle cx="312.2" cy="447.3" r="0.8" fill="#6c6ae2" opacity="0.5"/><circle cx="291.2" cy="483.0" r="0.8" fill="#6c6ae2" opacity="0.7"/><circle cx="253.0" cy="448.7" r="1.3" fill="#6c6ae2" opacity="0.9"/><circle cx="257.6" cy="492.4" r="1.0" fill="#6c6ae2" opacity="0.7"/><circle cx="311.0" cy="491.4" r="1.3" fill="#6c6ae2" opacity="0.8"/><circle cx="316.1" cy="454.3" r="1.2" fill="#6c6ae2" opacity="0.6"/><circle cx="316.5" cy="502.0" r="1.3" fill="#6c6ae2" opacity="0.8"/><circle cx="279.8" cy="483.1" r="1.2" fill="#6c6ae2" opacity="0.5"/><circle cx="290.1" cy="486.2" r="1.1" fill="#6c6ae2" opacity="0.7"/><circle cx="294.7" cy="498.1" r="0.9" fill="#6c6ae2" opacity="0.8"/><circle cx="315.3" cy="472.2" r="1.0" fill="#6c6ae2" opacity="0.7"/><circle cx="310.8" cy="465.2" r="0.9" fill="#6c6ae2" opacity="0.7"/><circle cx="297.9" cy="457.0" r="1.3" fill="#6c6ae2" opacity="0.7"/><circle cx="303.4" cy="475.2" r="0.7" fill="#6c6ae2" opacity="0.7"/><circle cx="292.3" cy="452.5" r="1.3" fill="#6c6ae2" opacity="0.8"/><circle cx="284.6" cy="448.1" r="0.8" fill="#6c6ae2" opacity="0.7"/><circle cx="297.7" cy="458.4" r="1.0" fill="#6c6ae2" opacity="0.6"/><circle cx="291.9" cy="494.7" r="1.0" fill="#6c6ae2" opacity="0.8"/><circle cx="295.9" cy="452.0" r="1.1" fill="#6c6ae2" opacity="0.7"/><circle cx="305.3" cy="512.3" r="0.9" fill="#6c6ae2" opacity="0.9"/><circle cx="268.7" cy="492.0" r="0.7" fill="#6c6ae2" opacity="0.9"/><circle cx="283.7" cy="478.2" r="1.0" fill="#6c6ae2" opacity="0.7"/><circle cx="268.7" cy="495.0" r="1.1" fill="#6c6ae2" opacity="0.5"/><circle cx="271.5" cy="511.9" r="0.9" fill="#6c6ae2" opacity="0.6"/><circle cx="292.8" cy="472.4" r="1.3" fill="#6c6ae2" opacity="0.9"/><circle cx="261.7" cy="462.0" r="0.8" fill="#6c6ae2" opacity="0.7"/><circle cx="272.4" cy="493.7" r="1.2" fill="#6c6ae2" opacity="0.5"/><circle cx="254.6" cy="454.0" r="0.9" fill="#6c6ae2" opacity="0.6"/><circle cx="282.7" cy="471.8" r="1.1" fill="#6c6ae2" opacity="0.9"/><circle cx="320.4" cy="475.8" r="1.1" fill="#6c6ae2" opacity="0.6"/><circle cx="295.0" cy="508.5" r="1.2" fill="#6c6ae2" opacity="0.6"/><circle cx="264.3" cy="509.8" r="1.1" fill="#6c6ae2" opacity="0.8"/><circle cx="257.5" cy="489.8" r="0.7" fill="#6c6ae2" opacity="0.8"/><circle cx="307.8" cy="468.8" r="0.7" fill="#6c6ae2" opacity="0.8"/><circle cx="321.9" cy="489.9" r="0.9" fill="#6c6ae2" opacity="0.6"/><circle cx="309.0" cy="514.5" r="0.9" fill="#6c6ae2" opacity="0.6"/><circle cx="321.8" cy="476.3" r="1.0" fill="#6c6ae2" opacity="0.6"/><circle cx="303.0" cy="515.5" r="1.0" fill="#6c6ae2" opacity="0.9"/><circle cx="280.5" cy="475.9" r="1.2" fill="#6c6ae2" opacity="0.9"/><circle cx="305.1" cy="495.9" r="1.2" fill="#6c6ae2" opacity="0.9"/><circle cx="318.8" cy="483.6" r="0.9" fill="#6c6ae2" opacity="0.5"/><circle cx="289.3" cy="471.2" r="0.7" fill="#6c6ae2" opacity="0.9"/><circle cx="274.1" cy="511.9" r="0.7" fill="#6c6ae2" opacity="0.7"/><circle cx="307.0" cy="493.6" r="1.1" fill="#6c6ae2" opacity="0.7"/><circle cx="259.1" cy="504.8" r="1.2" fill="#6c6ae2" opacity="0.7"/><circle cx="291.7" cy="502.9" r="1.0" fill="#6c6ae2" opacity="0.7"/><circle cx="286.3" cy="498.1" r="1.1" fill="#6c6ae2" opacity="0.7"/><circle cx="306.5" cy="472.6" r="1.1" fill="#6c6ae2" opacity="0.7"/><circle cx="315.0" cy="512.5" r="1.2" fill="#6c6ae2" opacity="0.7"/><circle cx="277.1" cy="476.7" r="1.1" fill="#6c6ae2" opacity="0.5"/><circle cx="290.5" cy="511.6" r="0.7" fill="#6c6ae2" opacity="0.9"/><circle cx="292.4" cy="516.5" r="1.1" fill="#6c6ae2" opacity="0.8"/><circle cx="304.9" cy="475.8" r="0.8" fill="#6c6ae2" opacity="0.9"/><circle cx="313.5" cy="497.0" r="0.8" fill="#6c6ae2" opacity="0.7"/><circle cx="288.4" cy="471.8" r="1.0" fill="#6c6ae2" opacity="0.7"/><circle cx="320.7" cy="490.4" r="1.3" fill="#6c6ae2" opacity="0.9"/><circle cx="265.1" cy="500.6" r="0.9" fill="#6c6ae2" opacity="0.8"/><circle cx="291.8" cy="498.3" r="0.9" fill="#6c6ae2" opacity="0.8"/><circle cx="278.4" cy="501.3" r="1.0" fill="#6c6ae2" opacity="0.8"/><circle cx="321.8" cy="465.9" r="0.7" fill="#6c6ae2" opacity="0.9"/><circle cx="289.1" cy="491.7" r="1.2" fill="#6c6ae2" opacity="0.9"/><circle cx="279.5" cy="515.8" r="0.9" fill="#6c6ae2" opacity="0.8"/><circle cx="310.4" cy="471.7" r="1.0" fill="#6c6ae2" opacity="0.7"/><circle cx="276.5" cy="475.2" r="1.2" fill="#6c6ae2" opacity="0.5"/><circle cx="321.3" cy="501.9" r="1.0" fill="#6c6ae2" opacity="0.8"/><circle cx="273.5" cy="500.1" r="1.2" fill="#6c6ae2" opacity="0.7"/><circle cx="287.3" cy="461.6" r="0.9" fill="#6c6ae2" opacity="0.9"/><circle cx="297.2" cy="477.7" r="1.1" fill="#6c6ae2" opacity="0.6"/><circle cx="253.1" cy="471.3" r="1.0" fill="#6c6ae2" opacity="0.6"/><circle cx="290.3" cy="469.1" r="0.9" fill="#6c6ae2" opacity="0.8"/><circle cx="277.8" cy="498.5" r="1.1" fill="#6c6ae2" opacity="0.7"/><circle cx="255.0" cy="505.6" r="1.0" fill="#6c6ae2" opacity="0.8"/><circle cx="300.2" cy="484.8" r="1.2" fill="#6c6ae2" opacity="0.5"/><circle cx="319.8" cy="489.6" r="0.9" fill="#6c6ae2" opacity="0.9"/><circle cx="314.8" cy="488.2" r="0.7" fill="#6c6ae2" opacity="0.8"/><circle cx="281.3" cy="486.6" r="1.2" fill="#6c6ae2" opacity="0.6"/><circle cx="311.2" cy="468.0" r="0.9" fill="#6c6ae2" opacity="0.5"/><circle cx="260.2" cy="465.0" r="1.0" fill="#6c6ae2" opacity="0.9"/><circle cx="264.7" cy="466.5" r="0.9" fill="#6c6ae2" opacity="0.8"/><circle cx="277.3" cy="493.4" r="0.8" fill="#6c6ae2" opacity="0.5"/><circle cx="292.9" cy="497.2" r="0.8" fill="#6c6ae2" opacity="0.5"/><circle cx="299.1" cy="450.7" r="1.3" fill="#6c6ae2" opacity="0.8"/><circle cx="263.9" cy="475.0" r="0.7" fill="#6c6ae2" opacity="0.5"/><circle cx="277.2" cy="508.1" r="1.2" fill="#6c6ae2" opacity="0.8"/><circle cx="296.9" cy="487.3" r="1.0" fill="#6c6ae2" opacity="0.8"/><circle cx="287.2" cy="474.2" r="1.2" fill="#6c6ae2" opacity="0.6"/><circle cx="280.9" cy="494.1" r="1.3" fill="#6c6ae2" opacity="0.7"/><circle cx="282.8" cy="474.5" r="0.8" fill="#6c6ae2" opacity="0.7"/><circle cx="307.4" cy="459.4" r="1.0" fill="#6c6ae2" opacity="0.6"/><circle cx="292.8" cy="500.7" r="0.8" fill="#6c6ae2" opacity="0.7"/><circle cx="265.8" cy="491.7" r="1.1" fill="#6c6ae2" opacity="0.6"/><circle cx="268.8" cy="467.5" r="0.9" fill="#6c6ae2" opacity="0.9"/><circle cx="313.3" cy="502.0" r="0.9" fill="#6c6ae2" opacity="0.7"/><circle cx="266.7" cy="478.6" r="1.3" fill="#6c6ae2" opacity="0.5"/><circle cx="280.1" cy="459.9" r="1.2" fill="#6c6ae2" opacity="0.6"/><circle cx="286.5" cy="449.8" r="1.1" fill="#6c6ae2" opacity="0.7"/><circle cx="308.2" cy="497.0" r="1.1" fill="#6c6ae2" opacity="0.6"/><circle cx="270.2" cy="488.3" r="0.7" fill="#6c6ae2" opacity="0.9"/><circle cx="302.7" cy="480.9" r="0.9" fill="#6c6ae2" opacity="0.5"/><circle cx="291.2" cy="500.7" r="0.8" fill="#6c6ae2" opacity="0.5"/><circle cx="300.2" cy="479.3" r="1.2" fill="#6c6ae2" opacity="0.7"/><circle cx="320.8" cy="507.7" r="0.9" fill="#6c6ae2" opacity="0.7"/><circle cx="293.4" cy="477.9" r="1.2" fill="#6c6ae2" opacity="0.8"/><circle cx="309.4" cy="464.0" r="1.0" fill="#6c6ae2" opacity="0.7"/><circle cx="293.2" cy="447.2" r="1.2" fill="#6c6ae2" opacity="0.7"/><circle cx="263.8" cy="506.5" r="1.0" fill="#6c6ae2" opacity="0.8"/><circle cx="304.0" cy="490.1" r="1.2" fill="#6c6ae2" opacity="0.5"/><circle cx="275.9" cy="457.7" r="1.1" fill="#6c6ae2" opacity="0.6"/><circle cx="254.8" cy="455.7" r="0.8" fill="#6c6ae2" opacity="0.7"/><circle cx="284.3" cy="478.9" r="0.7" fill="#6c6ae2" opacity="0.7"/><circle cx="270.3" cy="452.6" r="0.7" fill="#6c6ae2" opacity="0.6"/><circle cx="280.5" cy="457.9" r="1.0" fill="#6c6ae2" opacity="0.6"/><circle cx="303.7" cy="507.9" r="0.9" fill="#6c6ae2" opacity="0.5"/><circle cx="319.6" cy="452.0" r="1.1" fill="#6c6ae2" opacity="0.8"/><circle cx="286.2" cy="509.0" r="0.8" fill="#6c6ae2" opacity="0.8"/><circle cx="315.6" cy="509.4" r="1.2" fill="#6c6ae2" opacity="0.7"/><circle cx="288.2" cy="506.0" r="0.9" fill="#6c6ae2" opacity="0.6"/><circle cx="255.0" cy="460.5" r="0.8" fill="#6c6ae2" opacity="0.9"/><circle cx="274.2" cy="471.0" r="1.3" fill="#6c6ae2" opacity="0.8"/><circle cx="282.8" cy="453.5" r="0.9" fill="#6c6ae2" opacity="0.6"/><circle cx="318.4" cy="475.8" r="1.3" fill="#6c6ae2" opacity="0.6"/><circle cx="256.1" cy="509.6" r="0.7" fill="#6c6ae2" opacity="0.9"/><circle cx="294.0" cy="466.1" r="1.2" fill="#6c6ae2" opacity="0.7"/><circle cx="320.9" cy="485.5" r="1.3" fill="#6c6ae2" opacity="0.9"/><circle cx="278.8" cy="494.9" r="1.1" fill="#6c6ae2" opacity="0.8"/><circle cx="254.4" cy="494.7" r="1.2" fill="#6c6ae2" opacity="0.6"/><circle cx="259.4" cy="450.9" r="1.0" fill="#6c6ae2" opacity="0.5"/><circle cx="311.5" cy="475.4" r="1.3" fill="#6c6ae2" opacity="0.8"/><circle cx="282.4" cy="459.0" r="1.0" fill="#6c6ae2" opacity="0.8"/><circle cx="312.4" cy="509.1" r="0.9" fill="#6c6ae2" opacity="0.5"/><circle cx="298.8" cy="494.6" r="1.1" fill="#6c6ae2" opacity="0.9"/><circle cx="309.0" cy="490.3" r="1.2" fill="#6c6ae2" opacity="0.6"/><circle cx="318.3" cy="493.1" r="0.8" fill="#6c6ae2" opacity="0.6"/><circle cx="297.2" cy="467.7" r="1.3" fill="#6c6ae2" opacity="0.6"/><circle cx="286.4" cy="481.7" r="1.3" fill="#6c6ae2" opacity="0.6"/><circle cx="314.5" cy="497.2" r="1.0" fill="#6c6ae2" opacity="0.9"/><circle cx="313.9" cy="499.0" r="1.0" fill="#6c6ae2" opacity="0.5"/><circle cx="268.1" cy="492.0" r="0.8" fill="#6c6ae2" opacity="0.8"/><circle cx="276.8" cy="473.5" r="1.2" fill="#6c6ae2" opacity="0.9"/><circle cx="304.5" cy="477.6" r="1.0" fill="#6c6ae2" opacity="0.9"/><circle cx="316.9" cy="489.0" r="0.7" fill="#6c6ae2" opacity="0.9"/><circle cx="256.0" cy="454.4" r="1.1" fill="#6c6ae2" opacity="0.6"/><circle cx="304.9" cy="494.6" r="0.8" fill="#6c6ae2" opacity="0.9"/><circle cx="321.9" cy="492.5" r="1.3" fill="#6c6ae2" opacity="0.9"/><circle cx="285.5" cy="504.3" r="1.3" fill="#6c6ae2" opacity="0.8"/><circle cx="258.6" cy="472.4" r="1.1" fill="#6c6ae2" opacity="0.7"/><circle cx="264.3" cy="478.3" r="0.8" fill="#6c6ae2" opacity="0.7"/><circle cx="259.7" cy="497.4" r="0.8" fill="#6c6ae2" opacity="0.9"/><circle cx="260.2" cy="490.7" r="0.6" fill="#d09050" opacity=".6"/><circle cx="297.3" cy="460.1" r="0.6" fill="#d09050" opacity=".6"/><circle cx="296.2" cy="484.9" r="0.6" fill="#d09050" opacity=".6"/><circle cx="295.4" cy="459.2" r="0.6" fill="#d09050" opacity=".6"/><circle cx="285.8" cy="505.1" r="0.6" fill="#d09050" opacity=".6"/><circle cx="295.6" cy="463.3" r="0.6" fill="#d09050" opacity=".6"/><circle cx="275.9" cy="508.2" r="0.6" fill="#d09050" opacity=".6"/><circle cx="256.5" cy="479.9" r="0.6" fill="#d09050" opacity=".6"/><circle cx="288.3" cy="476.5" r="0.6" fill="#d09050" opacity=".6"/><circle cx="253.0" cy="453.6" r="0.6" fill="#d09050" opacity=".6"/><circle cx="311.1" cy="478.2" r="0.6" fill="#d09050" opacity=".6"/><circle cx="273.0" cy="478.0" r="0.6" fill="#d09050" opacity=".6"/><circle cx="256.4" cy="451.8" r="0.6" fill="#d09050" opacity=".6"/><circle cx="310.2" cy="499.7" r="0.6" fill="#d09050" opacity=".6"/><circle cx="266.4" cy="468.5" r="0.6" fill="#d09050" opacity=".6"/><circle cx="258.1" cy="468.5" r="0.6" fill="#d09050" opacity=".6"/><circle cx="288.9" cy="499.2" r="0.6" fill="#d09050" opacity=".6"/><circle cx="287.8" cy="506.0" r="0.6" fill="#d09050" opacity=".6"/><circle cx="321.9" cy="486.2" r="0.6" fill="#d09050" opacity=".6"/><circle cx="255.8" cy="455.6" r="0.6" fill="#d09050" opacity=".6"/><circle cx="299.3" cy="455.3" r="0.6" fill="#d09050" opacity=".6"/><circle cx="315.0" cy="449.9" r="0.6" fill="#d09050" opacity=".6"/><circle cx="256.6" cy="516.4" r="0.6" fill="#d09050" opacity=".6"/><circle cx="280.9" cy="485.3" r="0.6" fill="#d09050" opacity=".6"/><circle cx="294.1" cy="454.5" r="0.6" fill="#d09050" opacity=".6"/><circle cx="276.0" cy="472.1" r="0.6" fill="#d09050" opacity=".6"/><circle cx="303.9" cy="501.3" r="0.6" fill="#d09050" opacity=".6"/><circle cx="300.9" cy="458.9" r="0.6" fill="#d09050" opacity=".6"/><circle cx="284.7" cy="510.8" r="0.6" fill="#d09050" opacity=".6"/><circle cx="264.9" cy="470.7" r="0.6" fill="#d09050" opacity=".6"/><circle cx="295.4" cy="516.4" r="0.6" fill="#d09050" opacity=".6"/><circle cx="254.6" cy="494.9" r="0.6" fill="#d09050" opacity=".6"/><circle cx="284.7" cy="483.4" r="0.6" fill="#d09050" opacity=".6"/><circle cx="311.0" cy="452.9" r="0.6" fill="#d09050" opacity=".6"/><circle cx="294.2" cy="468.5" r="0.6" fill="#d09050" opacity=".6"/><circle cx="305.1" cy="496.5" r="0.6" fill="#d09050" opacity=".6"/><circle cx="281.6" cy="456.8" r="0.6" fill="#d09050" opacity=".6"/><circle cx="305.7" cy="495.6" r="0.6" fill="#d09050" opacity=".6"/><circle cx="291.8" cy="498.8" r="0.6" fill="#d09050" opacity=".6"/><circle cx="318.5" cy="463.4" r="0.6" fill="#d09050" opacity=".6"/><circle cx="300.5" cy="503.1" r="0.6" fill="#d09050" opacity=".6"/><circle cx="271.2" cy="509.9" r="0.6" fill="#d09050" opacity=".6"/><circle cx="274.5" cy="513.6" r="0.6" fill="#d09050" opacity=".6"/><circle cx="293.1" cy="514.8" r="0.6" fill="#d09050" opacity=".6"/><circle cx="314.0" cy="501.3" r="0.6" fill="#d09050" opacity=".6"/><circle cx="278.4" cy="478.5" r="0.6" fill="#d09050" opacity=".6"/><circle cx="293.4" cy="502.9" r="0.6" fill="#d09050" opacity=".6"/><circle cx="281.6" cy="509.6" r="0.6" fill="#d09050" opacity=".6"/><circle cx="267.8" cy="482.9" r="0.6" fill="#d09050" opacity=".6"/><circle cx="262.8" cy="458.2" r="0.6" fill="#d09050" opacity=".6"/><circle cx="272.9" cy="449.5" r="0.6" fill="#d09050" opacity=".6"/><circle cx="292.2" cy="489.9" r="0.6" fill="#d09050" opacity=".6"/><circle cx="280.2" cy="502.4" r="0.6" fill="#d09050" opacity=".6"/><circle cx="290.6" cy="494.3" r="0.6" fill="#d09050" opacity=".6"/><circle cx="258.7" cy="469.4" r="0.6" fill="#d09050" opacity=".6"/><circle cx="254.3" cy="457.4" r="0.6" fill="#d09050" opacity=".6"/><circle cx="311.6" cy="455.7" r="0.6" fill="#d09050" opacity=".6"/><circle cx="294.0" cy="472.8" r="0.6" fill="#d09050" opacity=".6"/><circle cx="299.3" cy="507.6" r="0.6" fill="#d09050" opacity=".6"/><circle cx="310.2" cy="514.2" r="0.6" fill="#d09050" opacity=".6"/><circle cx="319.6" cy="474.2" r="0.6" fill="#d09050" opacity=".6"/><circle cx="321.2" cy="499.9" r="0.6" fill="#d09050" opacity=".6"/><circle cx="272.0" cy="469.3" r="0.6" fill="#d09050" opacity=".6"/><circle cx="289.0" cy="505.8" r="0.6" fill="#d09050" opacity=".6"/><circle cx="259.7" cy="509.0" r="0.6" fill="#d09050" opacity=".6"/><circle cx="299.2" cy="488.0" r="0.6" fill="#d09050" opacity=".6"/><circle cx="281.0" cy="473.0" r="0.6" fill="#d09050" opacity=".6"/><circle cx="280.9" cy="496.6" r="0.6" fill="#d09050" opacity=".6"/><circle cx="283.4" cy="496.5" r="0.6" fill="#d09050" opacity=".6"/><circle cx="313.4" cy="452.2" r="0.6" fill="#d09050" opacity=".6"/></g><g clip-path="url(#c00)" filter="url(#bl2)"><circle cx="54.6" cy="356.4" r="2.2" fill="#4cc030" fill-opacity="0.8"/><circle cx="62.1" cy="347.3" r="2.0" fill="#4cc030" fill-opacity="0.8"/><circle cx="95.8" cy="350.1" r="2.4" fill="#4cc030" fill-opacity="0.8"/><circle cx="56.6" cy="342.4" r="1.6" fill="#4cc030" fill-opacity="0.8"/><circle cx="80.7" cy="356.4" r="1.8" fill="#4cc030" fill-opacity="0.8"/></g><g clip-path="url(#c10)" filter="url(#bl2)"><circle cx="121.2" cy="335.3" r="3.6" fill="#4cc030" fill-opacity="0.8"/><circle cx="128.1" cy="345.9" r="3.2" fill="#4cc030" fill-opacity="0.8"/><circle cx="134.9" cy="338.9" r="2.8" fill="#4cc030" fill-opacity="0.8"/><circle cx="117.8" cy="324.8" r="2.8" fill="#4cc030" fill-opacity="0.8"/><circle cx="138.3" cy="328.3" r="2.4" fill="#4cc030" fill-opacity="0.8"/><circle cx="124.7" cy="314.3" r="2.4" fill="#4cc030" fill-opacity="0.8"/><circle cx="148.6" cy="324.8" r="2.0" fill="#4cc030" fill-opacity="0.8"/><circle cx="131.5" cy="321.3" r="2.4" fill="#4cc030" fill-opacity="0.8"/><circle cx="116.5" cy="345.9" r="2.4" fill="#4cc030" fill-opacity="0.8"/></g><g clip-path="url(#c20)" filter="url(#bl2)"></g><g clip-path="url(#c30)" filter="url(#bl2)"><circle cx="311.6" cy="345.9" r="2.4" fill="#4cc030" fill-opacity="0.8"/><circle cx="301.2" cy="359.9" r="2.4" fill="#4cc030" fill-opacity="0.8"/><circle cx="315.1" cy="331.8" r="2.0" fill="#4cc030" fill-opacity="0.8"/><circle cx="294.3" cy="370.4" r="2.4" fill="#4cc030" fill-opacity="0.8"/><circle cx="277.0" cy="324.8" r="1.8" fill="#4cc030" fill-opacity="0.8"/></g><rect x="106.5" y="366.9" width="0.9" height="5.0" fill="#b8b8b8" stroke="none" stroke-width="1" /><rect x="106.5" y="509.7" width="0.9" height="5.0" fill="#b8b8b8" stroke="none" stroke-width="1" /><rect x="177.7" y="366.9" width="0.9" height="5.0" fill="#b8b8b8" stroke="none" stroke-width="1" /><rect x="177.7" y="509.7" width="0.9" height="5.0" fill="#b8b8b8" stroke="none" stroke-width="1" /><rect x="248.9" y="366.9" width="0.9" height="5.0" fill="#b8b8b8" stroke="none" stroke-width="1" /><rect x="248.9" y="509.7" width="0.9" height="5.0" fill="#b8b8b8" stroke="none" stroke-width="1" /><rect x="320.4" y="366.9" width="0.9" height="5.0" fill="#b8b8b8" stroke="none" stroke-width="1" /><rect x="320.4" y="509.7" width="0.9" height="5.0" fill="#b8b8b8" stroke="none" stroke-width="1" /><text x="41.6" y="310.9" font-size="6.9" text-anchor="start" fill="#fff" >Vehicle</text><text x="113.1" y="310.9" font-size="6.9" text-anchor="start" fill="#fff" >Tucatinib</text><text x="184.1" y="310.9" font-size="6.9" text-anchor="start" fill="#fff" >Tuc-VHL</text><text x="254.9" y="310.9" font-size="6.9" text-anchor="start" fill="#fff" >Tuc-VHL<tspan font-size="4.2" dy="1.7">inactive</tspan></text><text x="19.6" y="341.5" font-size="6.7" text-anchor="middle" fill="#58d040" >Anti-HER2</text><text x="19.6" y="406.2" font-size="6.7" text-anchor="middle" fill="#2a9a9a" >Phalloidin</text><text x="19.4" y="414.3" font-size="6.7" text-anchor="middle" fill="#c83c3c" >MitoTracker</text><text x="19.6" y="478.3" font-size="6.7" text-anchor="middle" fill="#4444c8" >Hoechst</text><text x="19.7" y="486.3" font-size="6.7" text-anchor="middle" fill="#f0a020" >WGA</text><rect x="363.5" y="301.8" width="93.7" height="62.7" fill="none" stroke="#333" stroke-width="0.8"/><text x="410.4" y="297.7" font-size="7.65" text-anchor="middle" fill="#000" >Tuc-VHL: 2 hr</text><line x1="374.5" y1="307.0" x2="382.4" y2="307.0" stroke="#404040" stroke-width="1.2" /><line x1="402.9" y1="307.0" x2="447.2" y2="307.0" stroke="#404040" stroke-width="1.2" /><line x1="374.5" y1="304.8" x2="374.5" y2="309.2" stroke="#404040" stroke-width="1.2" /><line x1="447.2" y1="304.8" x2="447.2" y2="309.2" stroke="#404040" stroke-width="1.2" /><rect x="382.4" y="302.8" width="20.5" height="8.4" fill="#3274a1" stroke="#404040" stroke-width="1.3" /><line x1="390.3" y1="302.8" x2="390.3" y2="311.2" stroke="#404040" stroke-width="1.3" /><text x="360.9" y="308.8" font-size="5.0" text-anchor="end" fill="#222" >0</text><line x1="374.5" y1="317.4" x2="382.4" y2="317.4" stroke="#404040" stroke-width="1.2" /><line x1="402.6" y1="317.4" x2="446.3" y2="317.4" stroke="#404040" stroke-width="1.2" /><line x1="374.5" y1="315.2" x2="374.5" y2="319.6" stroke="#404040" stroke-width="1.2" /><line x1="446.3" y1="315.2" x2="446.3" y2="319.6" stroke="#404040" stroke-width="1.2" /><rect x="382.4" y="313.2" width="20.1" height="8.4" fill="#e1812c" stroke="#404040" stroke-width="1.3" /><line x1="389.4" y1="313.2" x2="389.4" y2="321.6" stroke="#404040" stroke-width="1.3" /><text x="360.9" y="319.2" font-size="5.0" text-anchor="end" fill="#222" >1</text><line x1="374.5" y1="327.7" x2="382.4" y2="327.7" stroke="#404040" stroke-width="1.2" /><line x1="402.6" y1="327.7" x2="446.3" y2="327.7" stroke="#404040" stroke-width="1.2" /><line x1="374.5" y1="325.5" x2="374.5" y2="329.9" stroke="#404040" stroke-width="1.2" /><line x1="446.3" y1="325.5" x2="446.3" y2="329.9" stroke="#404040" stroke-width="1.2" /><rect x="382.4" y="323.5" width="20.1" height="8.4" fill="#3a923a" stroke="#404040" stroke-width="1.3" /><line x1="389.4" y1="323.5" x2="389.4" y2="331.9" stroke="#404040" stroke-width="1.3" /><text x="360.9" y="329.5" font-size="5.0" text-anchor="end" fill="#222" >2</text><line x1="374.2" y1="338.1" x2="381.5" y2="338.1" stroke="#404040" stroke-width="1.2" /><line x1="400.8" y1="338.1" x2="445.1" y2="338.1" stroke="#404040" stroke-width="1.2" /><line x1="374.2" y1="335.9" x2="374.2" y2="340.2" stroke="#404040" stroke-width="1.2" /><line x1="445.1" y1="335.9" x2="445.1" y2="340.2" stroke="#404040" stroke-width="1.2" /><rect x="381.5" y="333.9" width="19.3" height="8.4" fill="#c03d3e" stroke="#404040" stroke-width="1.3" /><line x1="388.6" y1="333.9" x2="388.6" y2="342.2" stroke="#404040" stroke-width="1.3" /><text x="360.9" y="339.9" font-size="5.0" text-anchor="end" fill="#222" >3</text><line x1="374.2" y1="348.4" x2="380.3" y2="348.4" stroke="#404040" stroke-width="1.2" /><line x1="396.1" y1="348.4" x2="441.1" y2="348.4" stroke="#404040" stroke-width="1.2" /><line x1="374.2" y1="346.2" x2="374.2" y2="350.6" stroke="#404040" stroke-width="1.2" /><line x1="441.1" y1="346.2" x2="441.1" y2="350.6" stroke="#404040" stroke-width="1.2" /><rect x="380.3" y="344.2" width="15.7" height="8.4" fill="#9372b2" stroke="#404040" stroke-width="1.3" /><line x1="385.6" y1="344.2" x2="385.6" y2="352.6" stroke="#404040" stroke-width="1.3" /><text x="360.9" y="350.2" font-size="5.0" text-anchor="end" fill="#222" >4</text><line x1="373.9" y1="358.8" x2="379.4" y2="358.8" stroke="#404040" stroke-width="1.2" /><line x1="395.0" y1="358.8" x2="440.2" y2="358.8" stroke="#404040" stroke-width="1.2" /><line x1="373.9" y1="356.6" x2="373.9" y2="360.9" stroke="#404040" stroke-width="1.2" /><line x1="440.2" y1="356.6" x2="440.2" y2="360.9" stroke="#404040" stroke-width="1.2" /><rect x="379.4" y="354.6" width="15.6" height="8.4" fill="#845b53" stroke="#404040" stroke-width="1.3" /><line x1="385.1" y1="354.6" x2="385.1" y2="362.9" stroke="#404040" stroke-width="1.3" /><text x="360.9" y="360.6" font-size="5.0" text-anchor="end" fill="#222" >5</text><line x1="363.5" y1="364.5" x2="363.5" y2="366.0" stroke="#333" stroke-width="0.6" /><text x="363.5" y="369.8" font-size="4.9" text-anchor="middle" fill="#222" >0</text><line x1="375.2" y1="364.5" x2="375.2" y2="366.0" stroke="#333" stroke-width="0.6" /><text x="375.2" y="369.8" font-size="4.9" text-anchor="middle" fill="#222" >250</text><line x1="386.9" y1="364.5" x2="386.9" y2="366.0" stroke="#333" stroke-width="0.6" /><text x="386.9" y="369.8" font-size="4.9" text-anchor="middle" fill="#222" >500</text><line x1="398.6" y1="364.5" x2="398.6" y2="366.0" stroke="#333" stroke-width="0.6" /><text x="398.6" y="369.8" font-size="4.9" text-anchor="middle" fill="#222" >750</text><line x1="410.4" y1="364.5" x2="410.4" y2="366.0" stroke="#333" stroke-width="0.6" /><text x="410.4" y="369.8" font-size="4.9" text-anchor="middle" fill="#222" >1000</text><line x1="422.1" y1="364.5" x2="422.1" y2="366.0" stroke="#333" stroke-width="0.6" /><text x="422.1" y="369.8" font-size="4.9" text-anchor="middle" fill="#222" >1250</text><line x1="433.8" y1="364.5" x2="433.8" y2="366.0" stroke="#333" stroke-width="0.6" /><text x="433.8" y="369.8" font-size="4.9" text-anchor="middle" fill="#222" >1500</text><line x1="445.5" y1="364.5" x2="445.5" y2="366.0" stroke="#333" stroke-width="0.6" /><text x="445.5" y="369.8" font-size="4.9" text-anchor="middle" fill="#222" >1750</text><line x1="457.2" y1="364.5" x2="457.2" y2="366.0" stroke="#333" stroke-width="0.6" /><text x="457.2" y="369.8" font-size="4.9" text-anchor="middle" fill="#222" >2000</text><text x="410.4" y="375.5" font-size="4.4" text-anchor="middle" fill="#222" >Her2 Intensity (a.u.)</text><text x="0.0" y="0.0" font-size="4.6" text-anchor="middle" fill="#222" transform="translate(355.0,333.1) rotate(-90)">Dose order</text><path d="M448.7,306.0 H449.9 V360.2 H448.7" fill="none" stroke="#333" stroke-width="0.7"/><path d="M454.20,325.43L454.20,328.93M455.72,326.30L452.68,328.05M455.72,328.05L452.68,326.30" stroke="#111" stroke-width="1.3" stroke-linecap="round" fill="none"/><path d="M454.20,329.23L454.20,332.73M455.72,330.10L452.68,331.85M455.72,331.85L452.68,330.10" stroke="#111" stroke-width="1.3" stroke-linecap="round" fill="none"/><path d="M454.20,333.03L454.20,336.53M455.72,333.90L452.68,335.65M455.72,335.65L452.68,333.90" stroke="#111" stroke-width="1.3" stroke-linecap="round" fill="none"/><path d="M454.20,336.82L454.20,340.32M455.72,337.70L452.68,339.45M455.72,339.45L452.68,337.70" stroke="#111" stroke-width="1.3" stroke-linecap="round" fill="none"/><rect x="474.6" y="301.8" width="95.0" height="62.7" fill="none" stroke="#333" stroke-width="0.8"/><text x="522.1" y="297.7" font-size="7.65" text-anchor="middle" fill="#000" >Tuc-VHL: 6 hr</text><line x1="485.6" y1="307.0" x2="492.7" y2="307.0" stroke="#404040" stroke-width="1.2" /><line x1="508.8" y1="307.0" x2="553.8" y2="307.0" stroke="#404040" stroke-width="1.2" /><line x1="485.6" y1="304.8" x2="485.6" y2="309.2" stroke="#404040" stroke-width="1.2" /><line x1="553.8" y1="304.8" x2="553.8" y2="309.2" stroke="#404040" stroke-width="1.2" /><rect x="492.7" y="302.8" width="16.1" height="8.4" fill="#3274a1" stroke="#404040" stroke-width="1.3" /><line x1="498.6" y1="302.8" x2="498.6" y2="311.2" stroke="#404040" stroke-width="1.3" /><text x="472.0" y="308.8" font-size="5.0" text-anchor="end" fill="#222" >0</text><line x1="485.6" y1="317.4" x2="491.8" y2="317.4" stroke="#404040" stroke-width="1.2" /><line x1="508.2" y1="317.4" x2="553.1" y2="317.4" stroke="#404040" stroke-width="1.2" /><line x1="485.6" y1="315.2" x2="485.6" y2="319.6" stroke="#404040" stroke-width="1.2" /><line x1="553.1" y1="315.2" x2="553.1" y2="319.6" stroke="#404040" stroke-width="1.2" /><rect x="491.8" y="313.2" width="16.4" height="8.4" fill="#e1812c" stroke="#404040" stroke-width="1.3" /><line x1="497.4" y1="313.2" x2="497.4" y2="321.6" stroke="#404040" stroke-width="1.3" /><text x="472.0" y="319.2" font-size="5.0" text-anchor="end" fill="#222" >1</text><line x1="485.6" y1="327.7" x2="491.2" y2="327.7" stroke="#404040" stroke-width="1.2" /><line x1="506.5" y1="327.7" x2="551.4" y2="327.7" stroke="#404040" stroke-width="1.2" /><line x1="485.6" y1="325.5" x2="485.6" y2="329.9" stroke="#404040" stroke-width="1.2" /><line x1="551.4" y1="325.5" x2="551.4" y2="329.9" stroke="#404040" stroke-width="1.2" /><rect x="491.2" y="323.5" width="15.3" height="8.4" fill="#3a923a" stroke="#404040" stroke-width="1.3" /><line x1="496.5" y1="323.5" x2="496.5" y2="331.9" stroke="#404040" stroke-width="1.3" /><text x="472.0" y="329.5" font-size="5.0" text-anchor="end" fill="#222" >2</text><line x1="484.6" y1="338.1" x2="489.8" y2="338.1" stroke="#404040" stroke-width="1.2" /><line x1="502.3" y1="338.1" x2="545.0" y2="338.1" stroke="#404040" stroke-width="1.2" /><line x1="484.6" y1="335.9" x2="484.6" y2="340.2" stroke="#404040" stroke-width="1.2" /><line x1="545.0" y1="335.9" x2="545.0" y2="340.2" stroke="#404040" stroke-width="1.2" /><rect x="489.8" y="333.9" width="12.4" height="8.4" fill="#c03d3e" stroke="#404040" stroke-width="1.3" /><line x1="494.4" y1="333.9" x2="494.4" y2="342.2" stroke="#404040" stroke-width="1.3" /><text x="472.0" y="339.9" font-size="5.0" text-anchor="end" fill="#222" >3</text><line x1="484.2" y1="348.4" x2="488.1" y2="348.4" stroke="#404040" stroke-width="1.2" /><line x1="495.6" y1="348.4" x2="525.4" y2="348.4" stroke="#404040" stroke-width="1.2" /><line x1="484.2" y1="346.2" x2="484.2" y2="350.6" stroke="#404040" stroke-width="1.2" /><line x1="525.4" y1="346.2" x2="525.4" y2="350.6" stroke="#404040" stroke-width="1.2" /><rect x="488.1" y="344.2" width="7.6" height="8.4" fill="#9372b2" stroke="#404040" stroke-width="1.3" /><line x1="490.7" y1="344.2" x2="490.7" y2="352.6" stroke="#404040" stroke-width="1.3" /><text x="472.0" y="350.2" font-size="5.0" text-anchor="end" fill="#222" >4</text><line x1="484.2" y1="358.8" x2="487.2" y2="358.8" stroke="#404040" stroke-width="1.2" /><line x1="493.4" y1="358.8" x2="521.1" y2="358.8" stroke="#404040" stroke-width="1.2" /><line x1="484.2" y1="356.6" x2="484.2" y2="360.9" stroke="#404040" stroke-width="1.2" /><line x1="521.1" y1="356.6" x2="521.1" y2="360.9" stroke="#404040" stroke-width="1.2" /><rect x="487.2" y="354.6" width="6.1" height="8.4" fill="#845b53" stroke="#404040" stroke-width="1.3" /><line x1="489.5" y1="354.6" x2="489.5" y2="362.9" stroke="#404040" stroke-width="1.3" /><text x="472.0" y="360.6" font-size="5.0" text-anchor="end" fill="#222" >5</text><line x1="474.6" y1="364.5" x2="474.6" y2="366.0" stroke="#333" stroke-width="0.6" /><text x="474.6" y="369.8" font-size="4.9" text-anchor="middle" fill="#222" >0</text><line x1="486.5" y1="364.5" x2="486.5" y2="366.0" stroke="#333" stroke-width="0.6" /><text x="486.5" y="369.8" font-size="4.9" text-anchor="middle" fill="#222" >250</text><line x1="498.4" y1="364.5" x2="498.4" y2="366.0" stroke="#333" stroke-width="0.6" /><text x="498.4" y="369.8" font-size="4.9" text-anchor="middle" fill="#222" >500</text><line x1="510.2" y1="364.5" x2="510.2" y2="366.0" stroke="#333" stroke-width="0.6" /><text x="510.2" y="369.8" font-size="4.9" text-anchor="middle" fill="#222" >750</text><line x1="522.1" y1="364.5" x2="522.1" y2="366.0" stroke="#333" stroke-width="0.6" /><text x="522.1" y="369.8" font-size="4.9" text-anchor="middle" fill="#222" >1000</text><line x1="534.0" y1="364.5" x2="534.0" y2="366.0" stroke="#333" stroke-width="0.6" /><text x="534.0" y="369.8" font-size="4.9" text-anchor="middle" fill="#222" >1250</text><line x1="545.9" y1="364.5" x2="545.9" y2="366.0" stroke="#333" stroke-width="0.6" /><text x="545.9" y="369.8" font-size="4.9" text-anchor="middle" fill="#222" >1500</text><line x1="557.7" y1="364.5" x2="557.7" y2="366.0" stroke="#333" stroke-width="0.6" /><text x="557.7" y="369.8" font-size="4.9" text-anchor="middle" fill="#222" >1750</text><line x1="569.6" y1="364.5" x2="569.6" y2="366.0" stroke="#333" stroke-width="0.6" /><text x="569.6" y="369.8" font-size="4.9" text-anchor="middle" fill="#222" >2000</text><text x="522.1" y="375.5" font-size="4.4" text-anchor="middle" fill="#222" >Her2 Intensity (a.u.)</text><text x="0.0" y="0.0" font-size="4.6" text-anchor="middle" fill="#222" transform="translate(466.1,333.1) rotate(-90)">Dose order</text><path d="M555.1,306.0 H556.3 V360.2 H555.1" fill="none" stroke="#333" stroke-width="0.7"/><path d="M560.60,325.43L560.60,328.93M562.12,326.30L559.08,328.05M562.12,328.05L559.08,326.30" stroke="#111" stroke-width="1.3" stroke-linecap="round" fill="none"/><path d="M560.60,329.23L560.60,332.73M562.12,330.10L559.08,331.85M562.12,331.85L559.08,330.10" stroke="#111" stroke-width="1.3" stroke-linecap="round" fill="none"/><path d="M560.60,333.03L560.60,336.53M562.12,333.90L559.08,335.65M562.12,335.65L559.08,333.90" stroke="#111" stroke-width="1.3" stroke-linecap="round" fill="none"/><path d="M560.60,336.82L560.60,340.32M562.12,337.70L559.08,339.45M562.12,339.45L559.08,337.70" stroke="#111" stroke-width="1.3" stroke-linecap="round" fill="none"/><rect x="586.4" y="301.8" width="94.6" height="62.7" fill="none" stroke="#333" stroke-width="0.8"/><text x="633.7" y="297.7" font-size="7.65" text-anchor="middle" fill="#000" >Tuc-VHL: 24 hr</text><line x1="596.6" y1="307.0" x2="602.3" y2="307.0" stroke="#404040" stroke-width="1.2" /><line x1="617.6" y1="307.0" x2="657.5" y2="307.0" stroke="#404040" stroke-width="1.2" /><line x1="596.6" y1="304.8" x2="596.6" y2="309.2" stroke="#404040" stroke-width="1.2" /><line x1="657.5" y1="304.8" x2="657.5" y2="309.2" stroke="#404040" stroke-width="1.2" /><rect x="602.3" y="302.8" width="15.2" height="8.4" fill="#3274a1" stroke="#404040" stroke-width="1.3" /><line x1="608.5" y1="302.8" x2="608.5" y2="311.2" stroke="#404040" stroke-width="1.3" /><text x="583.8" y="308.8" font-size="5.0" text-anchor="end" fill="#222" >0</text><line x1="596.6" y1="317.4" x2="602.3" y2="317.4" stroke="#404040" stroke-width="1.2" /><line x1="617.1" y1="317.4" x2="657.5" y2="317.4" stroke="#404040" stroke-width="1.2" /><line x1="596.6" y1="315.2" x2="596.6" y2="319.6" stroke="#404040" stroke-width="1.2" /><line x1="657.5" y1="315.2" x2="657.5" y2="319.6" stroke="#404040" stroke-width="1.2" /><rect x="602.3" y="313.2" width="14.7" height="8.4" fill="#e1812c" stroke="#404040" stroke-width="1.3" /><line x1="607.6" y1="313.2" x2="607.6" y2="321.6" stroke="#404040" stroke-width="1.3" /><text x="583.8" y="319.2" font-size="5.0" text-anchor="end" fill="#222" >1</text><line x1="596.6" y1="327.7" x2="601.5" y2="327.7" stroke="#404040" stroke-width="1.2" /><line x1="614.6" y1="327.7" x2="651.4" y2="327.7" stroke="#404040" stroke-width="1.2" /><line x1="596.6" y1="325.5" x2="596.6" y2="329.9" stroke="#404040" stroke-width="1.2" /><line x1="651.4" y1="325.5" x2="651.4" y2="329.9" stroke="#404040" stroke-width="1.2" /><rect x="601.5" y="323.5" width="13.1" height="8.4" fill="#3a923a" stroke="#404040" stroke-width="1.3" /><line x1="606.2" y1="323.5" x2="606.2" y2="331.9" stroke="#404040" stroke-width="1.3" /><text x="583.8" y="329.5" font-size="5.0" text-anchor="end" fill="#222" >2</text><line x1="595.7" y1="338.1" x2="600.1" y2="338.1" stroke="#404040" stroke-width="1.2" /><line x1="609.7" y1="338.1" x2="638.2" y2="338.1" stroke="#404040" stroke-width="1.2" /><line x1="595.7" y1="335.9" x2="595.7" y2="340.2" stroke="#404040" stroke-width="1.2" /><line x1="638.2" y1="335.9" x2="638.2" y2="340.2" stroke="#404040" stroke-width="1.2" /><rect x="600.1" y="333.9" width="9.6" height="8.4" fill="#c03d3e" stroke="#404040" stroke-width="1.3" /><line x1="603.9" y1="333.9" x2="603.9" y2="342.2" stroke="#404040" stroke-width="1.3" /><text x="583.8" y="339.9" font-size="5.0" text-anchor="end" fill="#222" >3</text><line x1="595.7" y1="348.4" x2="598.7" y2="348.4" stroke="#404040" stroke-width="1.2" /><line x1="605.3" y1="348.4" x2="622.5" y2="348.4" stroke="#404040" stroke-width="1.2" /><line x1="595.7" y1="346.2" x2="595.7" y2="350.6" stroke="#404040" stroke-width="1.2" /><line x1="622.5" y1="346.2" x2="622.5" y2="350.6" stroke="#404040" stroke-width="1.2" /><rect x="598.7" y="344.2" width="6.7" height="8.4" fill="#9372b2" stroke="#404040" stroke-width="1.3" /><line x1="600.6" y1="344.2" x2="600.6" y2="352.6" stroke="#404040" stroke-width="1.3" /><text x="583.8" y="350.2" font-size="5.0" text-anchor="end" fill="#222" >4</text><line x1="595.7" y1="358.8" x2="598.3" y2="358.8" stroke="#404040" stroke-width="1.2" /><line x1="603.6" y1="358.8" x2="615.5" y2="358.8" stroke="#404040" stroke-width="1.2" /><line x1="595.7" y1="356.6" x2="595.7" y2="360.9" stroke="#404040" stroke-width="1.2" /><line x1="615.5" y1="356.6" x2="615.5" y2="360.9" stroke="#404040" stroke-width="1.2" /><rect x="598.3" y="354.6" width="5.3" height="8.4" fill="#845b53" stroke="#404040" stroke-width="1.3" /><line x1="600.1" y1="354.6" x2="600.1" y2="362.9" stroke="#404040" stroke-width="1.3" /><text x="583.8" y="360.6" font-size="5.0" text-anchor="end" fill="#222" >5</text><line x1="586.4" y1="364.5" x2="586.4" y2="366.0" stroke="#333" stroke-width="0.6" /><text x="586.4" y="369.8" font-size="4.9" text-anchor="middle" fill="#222" >0</text><line x1="598.2" y1="364.5" x2="598.2" y2="366.0" stroke="#333" stroke-width="0.6" /><text x="598.2" y="369.8" font-size="4.9" text-anchor="middle" fill="#222" >250</text><line x1="610.0" y1="364.5" x2="610.0" y2="366.0" stroke="#333" stroke-width="0.6" /><text x="610.0" y="369.8" font-size="4.9" text-anchor="middle" fill="#222" >500</text><line x1="621.9" y1="364.5" x2="621.9" y2="366.0" stroke="#333" stroke-width="0.6" /><text x="621.9" y="369.8" font-size="4.9" text-anchor="middle" fill="#222" >750</text><line x1="633.7" y1="364.5" x2="633.7" y2="366.0" stroke="#333" stroke-width="0.6" /><text x="633.7" y="369.8" font-size="4.9" text-anchor="middle" fill="#222" >1000</text><line x1="645.5" y1="364.5" x2="645.5" y2="366.0" stroke="#333" stroke-width="0.6" /><text x="645.5" y="369.8" font-size="4.9" text-anchor="middle" fill="#222" >1250</text><line x1="657.4" y1="364.5" x2="657.4" y2="366.0" stroke="#333" stroke-width="0.6" /><text x="657.4" y="369.8" font-size="4.9" text-anchor="middle" fill="#222" >1500</text><line x1="669.2" y1="364.5" x2="669.2" y2="366.0" stroke="#333" stroke-width="0.6" /><text x="669.2" y="369.8" font-size="4.9" text-anchor="middle" fill="#222" >1750</text><line x1="681.0" y1="364.5" x2="681.0" y2="366.0" stroke="#333" stroke-width="0.6" /><text x="681.0" y="369.8" font-size="4.9" text-anchor="middle" fill="#222" >2000</text><text x="633.7" y="375.5" font-size="4.4" text-anchor="middle" fill="#222" >Her2 Intensity (a.u.)</text><text x="0.0" y="0.0" font-size="4.6" text-anchor="middle" fill="#222" transform="translate(577.9,333.1) rotate(-90)">Dose order</text><path d="M659.8,306.0 H661.0 V360.2 H659.8" fill="none" stroke="#333" stroke-width="0.7"/><path d="M665.30,325.43L665.30,328.93M666.82,326.30L663.78,328.05M666.82,328.05L663.78,326.30" stroke="#111" stroke-width="1.3" stroke-linecap="round" fill="none"/><path d="M665.30,329.23L665.30,332.73M666.82,330.10L663.78,331.85M666.82,331.85L663.78,330.10" stroke="#111" stroke-width="1.3" stroke-linecap="round" fill="none"/><path d="M665.30,333.03L665.30,336.53M666.82,333.90L663.78,335.65M666.82,335.65L663.78,333.90" stroke="#111" stroke-width="1.3" stroke-linecap="round" fill="none"/><path d="M665.30,336.82L665.30,340.32M666.82,337.70L663.78,339.45M666.82,339.45L663.78,337.70" stroke="#111" stroke-width="1.3" stroke-linecap="round" fill="none"/><rect x="363.5" y="398.4" width="93.7" height="62.5" fill="none" stroke="#333" stroke-width="0.8"/><text x="410.4" y="395.3" font-size="7.65" text-anchor="middle" fill="#000" >Tuc-VHL: 48 hr</text><line x1="372.8" y1="403.6" x2="378.9" y2="403.6" stroke="#404040" stroke-width="1.2" /><line x1="393.3" y1="403.6" x2="433.7" y2="403.6" stroke="#404040" stroke-width="1.2" /><line x1="372.8" y1="401.4" x2="372.8" y2="405.8" stroke="#404040" stroke-width="1.2" /><line x1="433.7" y1="401.4" x2="433.7" y2="405.8" stroke="#404040" stroke-width="1.2" /><rect x="378.9" y="399.4" width="14.4" height="8.4" fill="#3274a1" stroke="#404040" stroke-width="1.3" /><line x1="384.7" y1="399.4" x2="384.7" y2="407.8" stroke="#404040" stroke-width="1.3" /><text x="360.9" y="405.4" font-size="5.0" text-anchor="end" fill="#222" >0</text><line x1="372.8" y1="413.9" x2="378.9" y2="413.9" stroke="#404040" stroke-width="1.2" /><line x1="393.3" y1="413.9" x2="434.4" y2="413.9" stroke="#404040" stroke-width="1.2" /><line x1="372.8" y1="411.8" x2="372.8" y2="416.1" stroke="#404040" stroke-width="1.2" /><line x1="434.4" y1="411.8" x2="434.4" y2="416.1" stroke="#404040" stroke-width="1.2" /><rect x="378.9" y="409.8" width="14.4" height="8.4" fill="#e1812c" stroke="#404040" stroke-width="1.3" /><line x1="384.7" y1="409.8" x2="384.7" y2="418.1" stroke="#404040" stroke-width="1.3" /><text x="360.9" y="415.8" font-size="5.0" text-anchor="end" fill="#222" >1</text><line x1="372.8" y1="424.3" x2="378.4" y2="424.3" stroke="#404040" stroke-width="1.2" /><line x1="391.3" y1="424.3" x2="430.2" y2="424.3" stroke="#404040" stroke-width="1.2" /><line x1="372.8" y1="422.1" x2="372.8" y2="426.5" stroke="#404040" stroke-width="1.2" /><line x1="430.2" y1="422.1" x2="430.2" y2="426.5" stroke="#404040" stroke-width="1.2" /><rect x="378.4" y="420.1" width="12.9" height="8.4" fill="#3a923a" stroke="#404040" stroke-width="1.3" /><line x1="383.3" y1="420.1" x2="383.3" y2="428.5" stroke="#404040" stroke-width="1.3" /><text x="360.9" y="426.1" font-size="5.0" text-anchor="end" fill="#222" >2</text><line x1="372.4" y1="434.6" x2="376.6" y2="434.6" stroke="#404040" stroke-width="1.2" /><line x1="386.5" y1="434.6" x2="418.7" y2="434.6" stroke="#404040" stroke-width="1.2" /><line x1="372.4" y1="432.4" x2="372.4" y2="436.8" stroke="#404040" stroke-width="1.2" /><line x1="418.7" y1="432.4" x2="418.7" y2="436.8" stroke="#404040" stroke-width="1.2" /><rect x="376.6" y="430.4" width="9.8" height="8.4" fill="#c03d3e" stroke="#404040" stroke-width="1.3" /><line x1="380.6" y1="430.4" x2="380.6" y2="438.8" stroke="#404040" stroke-width="1.3" /><text x="360.9" y="436.4" font-size="5.0" text-anchor="end" fill="#222" >3</text><line x1="372.1" y1="445.0" x2="375.8" y2="445.0" stroke="#404040" stroke-width="1.2" /><line x1="382.4" y1="445.0" x2="402.9" y2="445.0" stroke="#404040" stroke-width="1.2" /><line x1="372.1" y1="442.8" x2="372.1" y2="447.2" stroke="#404040" stroke-width="1.2" /><line x1="402.9" y1="442.8" x2="402.9" y2="447.2" stroke="#404040" stroke-width="1.2" /><rect x="375.8" y="440.8" width="6.7" height="8.4" fill="#9372b2" stroke="#404040" stroke-width="1.3" /><line x1="378.0" y1="440.8" x2="378.0" y2="449.2" stroke="#404040" stroke-width="1.3" /><text x="360.9" y="446.8" font-size="5.0" text-anchor="end" fill="#222" >4</text><line x1="372.1" y1="455.3" x2="375.1" y2="455.3" stroke="#404040" stroke-width="1.2" /><line x1="380.6" y1="455.3" x2="393.3" y2="455.3" stroke="#404040" stroke-width="1.2" /><line x1="372.1" y1="453.1" x2="372.1" y2="457.5" stroke="#404040" stroke-width="1.2" /><line x1="393.3" y1="453.1" x2="393.3" y2="457.5" stroke="#404040" stroke-width="1.2" /><rect x="375.1" y="451.1" width="5.6" height="8.4" fill="#845b53" stroke="#404040" stroke-width="1.3" /><line x1="377.2" y1="451.1" x2="377.2" y2="459.5" stroke="#404040" stroke-width="1.3" /><text x="360.9" y="457.1" font-size="5.0" text-anchor="end" fill="#222" >5</text><line x1="363.5" y1="460.9" x2="363.5" y2="462.4" stroke="#333" stroke-width="0.6" /><text x="363.5" y="466.2" font-size="4.9" text-anchor="middle" fill="#222" >0</text><line x1="375.2" y1="460.9" x2="375.2" y2="462.4" stroke="#333" stroke-width="0.6" /><text x="375.2" y="466.2" font-size="4.9" text-anchor="middle" fill="#222" >250</text><line x1="386.9" y1="460.9" x2="386.9" y2="462.4" stroke="#333" stroke-width="0.6" /><text x="386.9" y="466.2" font-size="4.9" text-anchor="middle" fill="#222" >500</text><line x1="398.6" y1="460.9" x2="398.6" y2="462.4" stroke="#333" stroke-width="0.6" /><text x="398.6" y="466.2" font-size="4.9" text-anchor="middle" fill="#222" >750</text><line x1="410.4" y1="460.9" x2="410.4" y2="462.4" stroke="#333" stroke-width="0.6" /><text x="410.4" y="466.2" font-size="4.9" text-anchor="middle" fill="#222" >1000</text><line x1="422.1" y1="460.9" x2="422.1" y2="462.4" stroke="#333" stroke-width="0.6" /><text x="422.1" y="466.2" font-size="4.9" text-anchor="middle" fill="#222" >1250</text><line x1="433.8" y1="460.9" x2="433.8" y2="462.4" stroke="#333" stroke-width="0.6" /><text x="433.8" y="466.2" font-size="4.9" text-anchor="middle" fill="#222" >1500</text><line x1="445.5" y1="460.9" x2="445.5" y2="462.4" stroke="#333" stroke-width="0.6" /><text x="445.5" y="466.2" font-size="4.9" text-anchor="middle" fill="#222" >1750</text><line x1="457.2" y1="460.9" x2="457.2" y2="462.4" stroke="#333" stroke-width="0.6" /><text x="457.2" y="466.2" font-size="4.9" text-anchor="middle" fill="#222" >2000</text><text x="410.4" y="471.9" font-size="4.4" text-anchor="middle" fill="#222" >Her2 Intensity (a.u.)</text><text x="0.0" y="0.0" font-size="4.6" text-anchor="middle" fill="#222" transform="translate(355.0,429.6) rotate(-90)">Dose order</text><path d="M434.6,402.6 H435.8 V456.8 H434.6" fill="none" stroke="#333" stroke-width="0.7"/><path d="M440.10,422.02L440.10,425.52M441.62,422.90L438.58,424.65M441.62,424.65L438.58,422.90" stroke="#111" stroke-width="1.3" stroke-linecap="round" fill="none"/><path d="M440.10,425.82L440.10,429.32M441.62,426.70L438.58,428.45M441.62,428.45L438.58,426.70" stroke="#111" stroke-width="1.3" stroke-linecap="round" fill="none"/><path d="M440.10,429.62L440.10,433.12M441.62,430.50L438.58,432.25M441.62,432.25L438.58,430.50" stroke="#111" stroke-width="1.3" stroke-linecap="round" fill="none"/><path d="M440.10,433.42L440.10,436.92M441.62,434.30L438.58,436.05M441.62,436.05L438.58,434.30" stroke="#111" stroke-width="1.3" stroke-linecap="round" fill="none"/><rect x="475.0" y="398.4" width="94.6" height="62.5" fill="none" stroke="#333" stroke-width="0.8"/><text x="522.3" y="395.3" font-size="7.65" text-anchor="middle" fill="#000" >Tuc-VHL: 72 hr</text><line x1="484.3" y1="403.6" x2="490.4" y2="403.6" stroke="#404040" stroke-width="1.2" /><line x1="506.5" y1="403.6" x2="550.0" y2="403.6" stroke="#404040" stroke-width="1.2" /><line x1="484.3" y1="401.4" x2="484.3" y2="405.8" stroke="#404040" stroke-width="1.2" /><line x1="550.0" y1="401.4" x2="550.0" y2="405.8" stroke="#404040" stroke-width="1.2" /><rect x="490.4" y="399.4" width="16.1" height="8.4" fill="#3274a1" stroke="#404040" stroke-width="1.3" /><line x1="496.9" y1="399.4" x2="496.9" y2="407.8" stroke="#404040" stroke-width="1.3" /><text x="472.4" y="405.4" font-size="5.0" text-anchor="end" fill="#222" >0</text><line x1="484.3" y1="413.9" x2="490.4" y2="413.9" stroke="#404040" stroke-width="1.2" /><line x1="505.7" y1="413.9" x2="550.0" y2="413.9" stroke="#404040" stroke-width="1.2" /><line x1="484.3" y1="411.8" x2="484.3" y2="416.1" stroke="#404040" stroke-width="1.2" /><line x1="550.0" y1="411.8" x2="550.0" y2="416.1" stroke="#404040" stroke-width="1.2" /><rect x="490.4" y="409.8" width="15.2" height="8.4" fill="#e1812c" stroke="#404040" stroke-width="1.3" /><line x1="496.0" y1="409.8" x2="496.0" y2="418.1" stroke="#404040" stroke-width="1.3" /><text x="472.4" y="415.8" font-size="5.0" text-anchor="end" fill="#222" >1</text><line x1="484.3" y1="424.3" x2="489.9" y2="424.3" stroke="#404040" stroke-width="1.2" /><line x1="503.2" y1="424.3" x2="545.6" y2="424.3" stroke="#404040" stroke-width="1.2" /><line x1="484.3" y1="422.1" x2="484.3" y2="426.5" stroke="#404040" stroke-width="1.2" /><line x1="545.6" y1="422.1" x2="545.6" y2="426.5" stroke="#404040" stroke-width="1.2" /><rect x="489.9" y="420.1" width="13.3" height="8.4" fill="#3a923a" stroke="#404040" stroke-width="1.3" /><line x1="495.1" y1="420.1" x2="495.1" y2="428.5" stroke="#404040" stroke-width="1.3" /><text x="472.4" y="426.1" font-size="5.0" text-anchor="end" fill="#222" >2</text><line x1="483.6" y1="434.6" x2="488.7" y2="434.6" stroke="#404040" stroke-width="1.2" /><line x1="499.5" y1="434.6" x2="537.2" y2="434.6" stroke="#404040" stroke-width="1.2" /><line x1="483.6" y1="432.4" x2="483.6" y2="436.8" stroke="#404040" stroke-width="1.2" /><line x1="537.2" y1="432.4" x2="537.2" y2="436.8" stroke="#404040" stroke-width="1.2" /><rect x="488.7" y="430.4" width="10.9" height="8.4" fill="#c03d3e" stroke="#404040" stroke-width="1.3" /><line x1="493.0" y1="430.4" x2="493.0" y2="438.8" stroke="#404040" stroke-width="1.3" /><text x="472.4" y="436.4" font-size="5.0" text-anchor="end" fill="#222" >3</text><line x1="483.6" y1="445.0" x2="487.3" y2="445.0" stroke="#404040" stroke-width="1.2" /><line x1="493.7" y1="445.0" x2="510.6" y2="445.0" stroke="#404040" stroke-width="1.2" /><line x1="483.6" y1="442.8" x2="483.6" y2="447.2" stroke="#404040" stroke-width="1.2" /><line x1="510.6" y1="442.8" x2="510.6" y2="447.2" stroke="#404040" stroke-width="1.2" /><rect x="487.3" y="440.8" width="6.5" height="8.4" fill="#9372b2" stroke="#404040" stroke-width="1.3" /><line x1="489.9" y1="440.8" x2="489.9" y2="449.2" stroke="#404040" stroke-width="1.3" /><text x="472.4" y="446.8" font-size="5.0" text-anchor="end" fill="#222" >4</text><line x1="483.6" y1="455.3" x2="486.7" y2="455.3" stroke="#404040" stroke-width="1.2" /><line x1="492.9" y1="455.3" x2="505.8" y2="455.3" stroke="#404040" stroke-width="1.2" /><line x1="483.6" y1="453.1" x2="483.6" y2="457.5" stroke="#404040" stroke-width="1.2" /><line x1="505.8" y1="453.1" x2="505.8" y2="457.5" stroke="#404040" stroke-width="1.2" /><rect x="486.7" y="451.1" width="6.1" height="8.4" fill="#845b53" stroke="#404040" stroke-width="1.3" /><line x1="489.4" y1="451.1" x2="489.4" y2="459.5" stroke="#404040" stroke-width="1.3" /><text x="472.4" y="457.1" font-size="5.0" text-anchor="end" fill="#222" >5</text><line x1="475.0" y1="460.9" x2="475.0" y2="462.4" stroke="#333" stroke-width="0.6" /><text x="475.0" y="466.2" font-size="4.9" text-anchor="middle" fill="#222" >0</text><line x1="486.8" y1="460.9" x2="486.8" y2="462.4" stroke="#333" stroke-width="0.6" /><text x="486.8" y="466.2" font-size="4.9" text-anchor="middle" fill="#222" >250</text><line x1="498.6" y1="460.9" x2="498.6" y2="462.4" stroke="#333" stroke-width="0.6" /><text x="498.6" y="466.2" font-size="4.9" text-anchor="middle" fill="#222" >500</text><line x1="510.5" y1="460.9" x2="510.5" y2="462.4" stroke="#333" stroke-width="0.6" /><text x="510.5" y="466.2" font-size="4.9" text-anchor="middle" fill="#222" >750</text><line x1="522.3" y1="460.9" x2="522.3" y2="462.4" stroke="#333" stroke-width="0.6" /><text x="522.3" y="466.2" font-size="4.9" text-anchor="middle" fill="#222" >1000</text><line x1="534.1" y1="460.9" x2="534.1" y2="462.4" stroke="#333" stroke-width="0.6" /><text x="534.1" y="466.2" font-size="4.9" text-anchor="middle" fill="#222" >1250</text><line x1="546.0" y1="460.9" x2="546.0" y2="462.4" stroke="#333" stroke-width="0.6" /><text x="546.0" y="466.2" font-size="4.9" text-anchor="middle" fill="#222" >1500</text><line x1="557.8" y1="460.9" x2="557.8" y2="462.4" stroke="#333" stroke-width="0.6" /><text x="557.8" y="466.2" font-size="4.9" text-anchor="middle" fill="#222" >1750</text><line x1="569.6" y1="460.9" x2="569.6" y2="462.4" stroke="#333" stroke-width="0.6" /><text x="569.6" y="466.2" font-size="4.9" text-anchor="middle" fill="#222" >2000</text><text x="522.3" y="471.9" font-size="4.4" text-anchor="middle" fill="#222" >Her2 Intensity (a.u.)</text><text x="0.0" y="0.0" font-size="4.6" text-anchor="middle" fill="#222" transform="translate(466.5,429.6) rotate(-90)">Dose order</text><path d="M551.4,402.6 H552.6 V456.8 H551.4" fill="none" stroke="#333" stroke-width="0.7"/><path d="M556.90,422.02L556.90,425.52M558.42,422.90L555.38,424.65M558.42,424.65L555.38,422.90" stroke="#111" stroke-width="1.3" stroke-linecap="round" fill="none"/><path d="M556.90,425.82L556.90,429.32M558.42,426.70L555.38,428.45M558.42,428.45L555.38,426.70" stroke="#111" stroke-width="1.3" stroke-linecap="round" fill="none"/><path d="M556.90,429.62L556.90,433.12M558.42,430.50L555.38,432.25M558.42,432.25L555.38,430.50" stroke="#111" stroke-width="1.3" stroke-linecap="round" fill="none"/><path d="M556.90,433.42L556.90,436.92M558.42,434.30L555.38,436.05M558.42,436.05L555.38,434.30" stroke="#111" stroke-width="1.3" stroke-linecap="round" fill="none"/><text x="8.5" y="545.0" font-size="12" text-anchor="start" fill="#000" >G</text><rect x="25.9" y="567.2" width="261.9" height="262.2" fill="#fff" stroke="none" stroke-width="1" /><line x1="25.2" y1="567.2" x2="25.2" y2="829.4" stroke="#dedede" stroke-width="0.8" /><line x1="45.5" y1="567.2" x2="45.5" y2="829.4" stroke="#dedede" stroke-width="0.8" /><line x1="65.7" y1="567.2" x2="65.7" y2="829.4" stroke="#dedede" stroke-width="0.8" /><line x1="86.0" y1="567.2" x2="86.0" y2="829.4" stroke="#dedede" stroke-width="0.8" /><line x1="106.3" y1="567.2" x2="106.3" y2="829.4" stroke="#dedede" stroke-width="0.8" /><line x1="126.5" y1="567.2" x2="126.5" y2="829.4" stroke="#dedede" stroke-width="0.8" /><line x1="146.8" y1="567.2" x2="146.8" y2="829.4" stroke="#dedede" stroke-width="0.8" /><line x1="167.1" y1="567.2" x2="167.1" y2="829.4" stroke="#dedede" stroke-width="0.8" /><line x1="187.3" y1="567.2" x2="187.3" y2="829.4" stroke="#dedede" stroke-width="0.8" /><line x1="207.6" y1="567.2" x2="207.6" y2="829.4" stroke="#dedede" stroke-width="0.8" /><line x1="227.9" y1="567.2" x2="227.9" y2="829.4" stroke="#dedede" stroke-width="0.8" /><line x1="248.2" y1="567.2" x2="248.2" y2="829.4" stroke="#dedede" stroke-width="0.8" /><line x1="268.4" y1="567.2" x2="268.4" y2="829.4" stroke="#dedede" stroke-width="0.8" /><line x1="288.7" y1="567.2" x2="288.7" y2="829.4" stroke="#dedede" stroke-width="0.8" /><line x1="25.9" y1="567.2" x2="287.8" y2="567.2" stroke="#dedede" stroke-width="0.8" /><line x1="25.9" y1="579.1" x2="287.8" y2="579.1" stroke="#dedede" stroke-width="0.8" /><line x1="25.9" y1="591.0" x2="287.8" y2="591.0" stroke="#dedede" stroke-width="0.8" /><line x1="25.9" y1="603.0" x2="287.8" y2="603.0" stroke="#dedede" stroke-width="0.8" /><line x1="25.9" y1="614.9" x2="287.8" y2="614.9" stroke="#dedede" stroke-width="0.8" /><line x1="25.9" y1="626.8" x2="287.8" y2="626.8" stroke="#dedede" stroke-width="0.8" /><line x1="25.9" y1="638.7" x2="287.8" y2="638.7" stroke="#dedede" stroke-width="0.8" /><line x1="25.9" y1="650.6" x2="287.8" y2="650.6" stroke="#dedede" stroke-width="0.8" /><line x1="25.9" y1="662.6" x2="287.8" y2="662.6" stroke="#dedede" stroke-width="0.8" /><line x1="25.9" y1="674.5" x2="287.8" y2="674.5" stroke="#dedede" stroke-width="0.8" /><line x1="25.9" y1="686.4" x2="287.8" y2="686.4" stroke="#dedede" stroke-width="0.8" /><line x1="25.9" y1="698.3" x2="287.8" y2="698.3" stroke="#dedede" stroke-width="0.8" /><line x1="25.9" y1="710.2" x2="287.8" y2="710.2" stroke="#dedede" stroke-width="0.8" /><line x1="25.9" y1="722.2" x2="287.8" y2="722.2" stroke="#dedede" stroke-width="0.8" /><line x1="25.9" y1="734.1" x2="287.8" y2="734.1" stroke="#dedede" stroke-width="0.8" /><line x1="25.9" y1="746.0" x2="287.8" y2="746.0" stroke="#dedede" stroke-width="0.8" /><line x1="25.9" y1="757.9" x2="287.8" y2="757.9" stroke="#dedede" stroke-width="0.8" /><line x1="25.9" y1="769.8" x2="287.8" y2="769.8" stroke="#dedede" stroke-width="0.8" /><line x1="25.9" y1="781.8" x2="287.8" y2="781.8" stroke="#dedede" stroke-width="0.8" /><line x1="25.9" y1="793.7" x2="287.8" y2="793.7" stroke="#dedede" stroke-width="0.8" /><line x1="25.9" y1="805.6" x2="287.8" y2="805.6" stroke="#dedede" stroke-width="0.8" /><line x1="25.9" y1="817.5" x2="287.8" y2="817.5" stroke="#dedede" stroke-width="0.8" /><line x1="25.9" y1="829.4" x2="287.8" y2="829.4" stroke="#dedede" stroke-width="0.8" /><line x1="25.9" y1="567.2" x2="25.9" y2="829.4" stroke="#a0a0a0" stroke-width="1.3" /><line x1="25.9" y1="829.4" x2="287.8" y2="829.4" stroke="#a0a0a0" stroke-width="1.3" /><line x1="25.2" y1="829.4" x2="25.2" y2="831.4" stroke="#8a8a8a" stroke-width="1" /><text x="25.2" y="838.6" font-size="7.4" text-anchor="middle" fill="#111" >−60</text><line x1="65.7" y1="829.4" x2="65.7" y2="831.4" stroke="#8a8a8a" stroke-width="1" /><text x="65.7" y="838.6" font-size="7.4" text-anchor="middle" fill="#111" >−40</text><line x1="106.3" y1="829.4" x2="106.3" y2="831.4" stroke="#8a8a8a" stroke-width="1" /><text x="106.3" y="838.6" font-size="7.4" text-anchor="middle" fill="#111" >−20</text><line x1="146.8" y1="829.4" x2="146.8" y2="831.4" stroke="#8a8a8a" stroke-width="1" /><text x="146.8" y="838.6" font-size="7.4" text-anchor="middle" fill="#111" >0</text><line x1="187.3" y1="829.4" x2="187.3" y2="831.4" stroke="#8a8a8a" stroke-width="1" /><text x="187.3" y="838.6" font-size="7.4" text-anchor="middle" fill="#111" >20</text><line x1="227.9" y1="829.4" x2="227.9" y2="831.4" stroke="#8a8a8a" stroke-width="1" /><text x="227.9" y="838.6" font-size="7.4" text-anchor="middle" fill="#111" >40</text><line x1="268.4" y1="829.4" x2="268.4" y2="831.4" stroke="#8a8a8a" stroke-width="1" /><text x="268.4" y="838.6" font-size="7.4" text-anchor="middle" fill="#111" >60</text><line x1="45.5" y1="829.4" x2="45.5" y2="830.9" stroke="#8a8a8a" stroke-width="0.8" /><line x1="86.0" y1="829.4" x2="86.0" y2="830.9" stroke="#8a8a8a" stroke-width="0.8" /><line x1="126.5" y1="829.4" x2="126.5" y2="830.9" stroke="#8a8a8a" stroke-width="0.8" /><line x1="167.1" y1="829.4" x2="167.1" y2="830.9" stroke="#8a8a8a" stroke-width="0.8" /><line x1="207.6" y1="829.4" x2="207.6" y2="830.9" stroke="#8a8a8a" stroke-width="0.8" /><line x1="248.2" y1="829.4" x2="248.2" y2="830.9" stroke="#8a8a8a" stroke-width="0.8" /><line x1="23.9" y1="567.2" x2="25.9" y2="567.2" stroke="#8a8a8a" stroke-width="1" /><text x="23.3" y="569.8" font-size="7.4" text-anchor="end" fill="#111" >60</text><line x1="23.9" y1="591.0" x2="25.9" y2="591.0" stroke="#8a8a8a" stroke-width="1" /><text x="23.3" y="593.6" font-size="7.4" text-anchor="end" fill="#111" >50</text><line x1="23.9" y1="614.9" x2="25.9" y2="614.9" stroke="#8a8a8a" stroke-width="1" /><text x="23.3" y="617.5" font-size="7.4" text-anchor="end" fill="#111" >40</text><line x1="23.9" y1="638.7" x2="25.9" y2="638.7" stroke="#8a8a8a" stroke-width="1" /><text x="23.3" y="641.3" font-size="7.4" text-anchor="end" fill="#111" >30</text><line x1="23.9" y1="662.6" x2="25.9" y2="662.6" stroke="#8a8a8a" stroke-width="1" /><text x="23.3" y="665.2" font-size="7.4" text-anchor="end" fill="#111" >20</text><line x1="23.9" y1="686.4" x2="25.9" y2="686.4" stroke="#8a8a8a" stroke-width="1" /><text x="23.3" y="689.0" font-size="7.4" text-anchor="end" fill="#111" >10</text><line x1="23.9" y1="710.2" x2="25.9" y2="710.2" stroke="#8a8a8a" stroke-width="1" /><text x="23.3" y="712.8" font-size="7.4" text-anchor="end" fill="#111" >0</text><line x1="23.9" y1="734.1" x2="25.9" y2="734.1" stroke="#8a8a8a" stroke-width="1" /><text x="23.3" y="736.7" font-size="7.4" text-anchor="end" fill="#111" >−10</text><line x1="23.9" y1="757.9" x2="25.9" y2="757.9" stroke="#8a8a8a" stroke-width="1" /><text x="23.3" y="760.5" font-size="7.4" text-anchor="end" fill="#111" >−20</text><line x1="23.9" y1="781.8" x2="25.9" y2="781.8" stroke="#8a8a8a" stroke-width="1" /><text x="23.3" y="784.4" font-size="7.4" text-anchor="end" fill="#111" >−30</text><line x1="23.9" y1="805.6" x2="25.9" y2="805.6" stroke="#8a8a8a" stroke-width="1" /><text x="23.3" y="808.2" font-size="7.4" text-anchor="end" fill="#111" >−40</text><line x1="23.9" y1="829.4" x2="25.9" y2="829.4" stroke="#8a8a8a" stroke-width="1" /><text x="23.3" y="832.0" font-size="7.4" text-anchor="end" fill="#111" >−50</text><line x1="24.4" y1="579.1" x2="25.9" y2="579.1" stroke="#8a8a8a" stroke-width="0.8" /><line x1="24.4" y1="603.0" x2="25.9" y2="603.0" stroke="#8a8a8a" stroke-width="0.8" /><line x1="24.4" y1="626.8" x2="25.9" y2="626.8" stroke="#8a8a8a" stroke-width="0.8" /><line x1="24.4" y1="650.6" x2="25.9" y2="650.6" stroke="#8a8a8a" stroke-width="0.8" /><line x1="24.4" y1="674.5" x2="25.9" y2="674.5" stroke="#8a8a8a" stroke-width="0.8" /><line x1="24.4" y1="698.3" x2="25.9" y2="698.3" stroke="#8a8a8a" stroke-width="0.8" /><line x1="24.4" y1="722.2" x2="25.9" y2="722.2" stroke="#8a8a8a" stroke-width="0.8" /><line x1="24.4" y1="746.0" x2="25.9" y2="746.0" stroke="#8a8a8a" stroke-width="0.8" /><line x1="24.4" y1="769.8" x2="25.9" y2="769.8" stroke="#8a8a8a" stroke-width="0.8" /><line x1="24.4" y1="793.7" x2="25.9" y2="793.7" stroke="#8a8a8a" stroke-width="0.8" /><line x1="24.4" y1="817.5" x2="25.9" y2="817.5" stroke="#8a8a8a" stroke-width="0.8" /><text x="156.3" y="562.7" font-size="10.45" text-anchor="middle" fill="#000" >SKOV3: 48 hr treatment</text><text x="157.4" y="850.3" font-size="10.4" text-anchor="middle" fill="#000" >tsne_x</text><text x="0.0" y="0.0" font-size="10.4" text-anchor="middle" fill="#000" transform="translate(9.4,697.3) rotate(-90)">tsne_y</text><path d="M120.5,612.8 L114.5,616.1 L114.5,609.5 Z" fill="#c4bc24" stroke="#111" stroke-width="1.2"/><path d="M121.5,612.6 L115.6,615.9 L115.6,609.3 Z" fill="#c4bc24" stroke="#111" stroke-width="1.2"/><path d="M114.0,618.0 L117.3,624.0 L110.7,624.0 Z" fill="#c4bc24" stroke="#111" stroke-width="1.2"/><path d="M113.3,617.9 L116.6,623.8 L110.0,623.8 Z" fill="#c4bc24" stroke="#111" stroke-width="1.2"/><path d="M110.2,623.6 L113.0,627.0 L110.2,630.5 L107.4,627.0 Z" fill="#c4bc24" stroke="#111" stroke-width="1.2"/><path d="M109.0,622.5 L111.8,626.0 L109.0,629.4 L106.2,626.0 Z" fill="#c4bc24" stroke="#111" stroke-width="1.2"/><path d="M111.1,621.2 L113.9,624.7 L111.1,628.1 L108.3,624.7 Z" fill="#c4bc24" stroke="#111" stroke-width="1.2"/><path d="M112.4,619.5 L115.2,623.0 L112.4,626.5 L109.6,623.0 Z" fill="#c4bc24" stroke="#111" stroke-width="1.2"/><path d="M107.1,627.6 L109.9,631.0 L107.1,634.5 L104.3,631.0 Z" fill="#c4bc24" stroke="#111" stroke-width="1.2"/><path d="M106.3,626.8 L109.1,630.3 L106.3,633.7 L103.5,630.3 Z" fill="#c4bc24" stroke="#111" stroke-width="1.2"/><circle cx="96.2" cy="626.9" r="3.13" fill="#c4bc24" stroke="#111" stroke-width="1.2"/><circle cx="97.1" cy="627.0" r="3.13" fill="#c4bc24" stroke="#111" stroke-width="1.2"/><path d="M96.9,625.7 H99.1 V627.8 H101.3 V630.1 H99.1 V632.2 H96.9 V630.1 H94.8 V627.8 H96.9 Z" fill="#c4bc24" stroke="#111" stroke-width="1.2"/><path d="M96.5,626.2 H98.8 V628.3 H100.9 V630.5 H98.8 V632.7 H96.5 V630.5 H94.4 V628.3 H96.5 Z" fill="#c4bc24" stroke="#111" stroke-width="1.2"/><circle cx="103.7" cy="633.4" r="3.13" fill="#c4bc24" stroke="#111" stroke-width="1.2"/><circle cx="103.8" cy="632.9" r="3.13" fill="#c4bc24" stroke="#111" stroke-width="1.2"/><path d="M123.6,625.8 L117.6,629.1 L117.6,622.5 Z" fill="#c4bc24" stroke="#111" stroke-width="1.2"/><path d="M123.5,624.9 L117.5,628.2 L117.5,621.6 Z" fill="#c4bc24" stroke="#111" stroke-width="1.2"/><path d="M128.8,629.6 L122.8,632.9 L122.8,626.3 Z" fill="#c4bc24" stroke="#111" stroke-width="1.2"/><path d="M128.4,629.0 L122.5,632.3 L122.5,625.7 Z" fill="#c4bc24" stroke="#111" stroke-width="1.2"/><path d="M130.4,630.9 L124.4,634.2 L124.4,627.6 Z" fill="#c4bc24" stroke="#111" stroke-width="1.2"/><path d="M130.3,630.6 L124.4,633.9 L124.4,627.3 Z" fill="#c4bc24" stroke="#111" stroke-width="1.2"/><path d="M133.0,626.8 L135.8,630.3 L133.0,633.7 L130.2,630.3 Z" fill="#c4bc24" stroke="#111" stroke-width="1.2"/><path d="M133.2,626.8 L136.0,630.3 L133.2,633.7 L130.4,630.3 Z" fill="#c4bc24" stroke="#111" stroke-width="1.2"/><path d="M134.9,638.5 L128.9,641.8 L128.9,635.2 Z" fill="#c4bc24" stroke="#111" stroke-width="1.2"/><path d="M132.8,637.1 L126.8,640.4 L126.8,633.8 Z" fill="#c4bc24" stroke="#111" stroke-width="1.2"/><path d="M133.2,633.3 H135.4 V635.4 H137.5 V637.7 H135.4 V639.8 H133.2 V637.7 H131.1 V635.4 H133.2 Z" fill="#c4bc24" stroke="#111" stroke-width="1.2"/><path d="M133.3,633.1 H135.6 V635.3 H137.7 V637.5 H135.6 V639.6 H133.3 V637.5 H131.2 V635.3 H133.3 Z" fill="#c4bc24" stroke="#111" stroke-width="1.2"/><path d="M95.7,639.6 L99.0,645.6 L92.4,645.6 Z" fill="#c4bc24" stroke="#111" stroke-width="1.2"/><path d="M97.2,638.8 L100.5,644.8 L93.9,644.8 Z" fill="#c4bc24" stroke="#111" stroke-width="1.2"/><path d="M97.1,640.2 L100.4,646.1 L93.8,646.1 Z" fill="#c4bc24" stroke="#111" stroke-width="1.2"/><path d="M99.0,641.1 L102.3,647.0 L95.7,647.0 Z" fill="#c4bc24" stroke="#111" stroke-width="1.2"/><circle cx="143.2" cy="644.4" r="3.13" fill="#c4bc24" stroke="#111" stroke-width="1.2"/><circle cx="143.1" cy="644.0" r="3.13" fill="#c4bc24" stroke="#111" stroke-width="1.2"/><path d="M145.2,643.0 H147.5 V645.1 H149.6 V647.3 H147.5 V649.4 H145.2 V647.3 H143.1 V645.1 H145.2 Z" fill="#c4bc24" stroke="#111" stroke-width="1.2"/><path d="M144.7,643.6 H147.0 V645.7 H149.1 V647.9 H147.0 V650.0 H144.7 V647.9 H142.6 V645.7 H144.7 Z" fill="#c4bc24" stroke="#111" stroke-width="1.2"/><path d="M131.7,659.2 L135.0,665.2 L128.4,665.2 Z" fill="#c4bc24" stroke="#111" stroke-width="1.2"/><path d="M131.6,659.1 L134.9,665.0 L128.3,665.0 Z" fill="#c4bc24" stroke="#111" stroke-width="1.2"/><path d="M130.2,660.4 L133.5,666.3 L126.9,666.3 Z" fill="#c4bc24" stroke="#111" stroke-width="1.2"/><path d="M130.4,660.0 L133.7,666.0 L127.1,666.0 Z" fill="#c4bc24" stroke="#111" stroke-width="1.2"/><rect x="144.9" y="671.3" width="5.6" height="5.6" fill="#c4bc24" stroke="#111" stroke-width="1.2"/><rect x="143.5" y="671.4" width="5.6" height="5.6" fill="#c4bc24" stroke="#111" stroke-width="1.2"/><rect x="144.6" y="673.0" width="5.6" height="5.6" fill="#c4bc24" stroke="#111" stroke-width="1.2"/><rect x="146.0" y="673.5" width="5.6" height="5.6" fill="#c4bc24" stroke="#111" stroke-width="1.2"/><rect x="131.8" y="681.9" width="5.6" height="5.6" fill="#c4bc24" stroke="#111" stroke-width="1.2"/><rect x="132.1" y="680.3" width="5.6" height="5.6" fill="#c4bc24" stroke="#111" stroke-width="1.2"/><rect x="134.8" y="682.8" width="5.6" height="5.6" fill="#c4bc24" stroke="#111" stroke-width="1.2"/><rect x="133.7" y="682.3" width="5.6" height="5.6" fill="#c4bc24" stroke="#111" stroke-width="1.2"/><circle cx="143.8" cy="699.2" r="3.13" fill="#c4bc24" stroke="#111" stroke-width="1.2"/><circle cx="144.1" cy="699.2" r="3.13" fill="#c4bc24" stroke="#111" stroke-width="1.2"/><circle cx="143.3" cy="701.1" r="3.13" fill="#c4bc24" stroke="#111" stroke-width="1.2"/><circle cx="144.6" cy="701.2" r="3.13" fill="#c4bc24" stroke="#111" stroke-width="1.2"/><circle cx="142.8" cy="725.5" r="3.13" fill="#c4bc24" stroke="#111" stroke-width="1.2"/><circle cx="141.9" cy="723.9" r="3.13" fill="#c4bc24" stroke="#111" stroke-width="1.2"/><circle cx="143.9" cy="722.7" r="3.13" fill="#c4bc24" stroke="#111" stroke-width="1.2"/><circle cx="142.4" cy="721.3" r="3.13" fill="#c4bc24" stroke="#111" stroke-width="1.2"/><path d="M138.4,605.0 L132.5,608.3 L132.5,601.7 Z" fill="#d63030" stroke="#111" stroke-width="1.2"/><path d="M137.2,605.0 L131.3,608.3 L131.3,601.7 Z" fill="#d63030" stroke="#111" stroke-width="1.2"/><path d="M140.3,605.2 L134.4,608.5 L134.4,601.9 Z" fill="#d63030" stroke="#111" stroke-width="1.2"/><path d="M139.3,604.1 L133.4,607.4 L133.4,600.8 Z" fill="#d63030" stroke="#111" stroke-width="1.2"/><path d="M150.8,603.6 L153.6,607.0 L150.8,610.5 L148.0,607.0 Z" fill="#d63030" stroke="#111" stroke-width="1.2"/><path d="M151.2,603.0 L154.0,606.5 L151.2,609.9 L148.4,606.5 Z" fill="#d63030" stroke="#111" stroke-width="1.2"/><path d="M156.5,600.2 L159.3,603.7 L156.5,607.2 L153.7,603.7 Z" fill="#d63030" stroke="#111" stroke-width="1.2"/><path d="M157.2,599.1 L160.0,602.5 L157.2,606.0 L154.4,602.5 Z" fill="#d63030" stroke="#111" stroke-width="1.2"/><path d="M158.3,586.6 L161.6,592.6 L155.0,592.6 Z" fill="#d63030" stroke="#111" stroke-width="1.2"/><path d="M158.1,585.5 L161.4,591.5 L154.8,591.5 Z" fill="#d63030" stroke="#111" stroke-width="1.2"/><path d="M161.8,592.5 L155.9,595.8 L155.9,589.2 Z" fill="#d63030" stroke="#111" stroke-width="1.2"/><path d="M161.9,591.2 L156.0,594.5 L156.0,587.9 Z" fill="#d63030" stroke="#111" stroke-width="1.2"/><path d="M163.2,591.7 L166.0,595.1 L163.2,598.6 L160.4,595.1 Z" fill="#d63030" stroke="#111" stroke-width="1.2"/><path d="M161.2,591.8 L164.0,595.3 L161.2,598.8 L158.4,595.3 Z" fill="#d63030" stroke="#111" stroke-width="1.2"/><path d="M168.3,590.3 L171.1,593.7 L168.3,597.2 L165.5,593.7 Z" fill="#d63030" stroke="#111" stroke-width="1.2"/><path d="M167.7,590.9 L170.5,594.4 L167.7,597.9 L164.9,594.4 Z" fill="#d63030" stroke="#111" stroke-width="1.2"/><path d="M169.6,593.5 L172.4,597.0 L169.6,600.5 L166.8,597.0 Z" fill="#d63030" stroke="#111" stroke-width="1.2"/><path d="M169.1,595.2 L171.9,598.7 L169.1,602.1 L166.3,598.7 Z" fill="#d63030" stroke="#111" stroke-width="1.2"/><path d="M166.4,593.7 L169.2,597.1 L166.4,600.6 L163.6,597.1 Z" fill="#d63030" stroke="#111" stroke-width="1.2"/><path d="M165.7,593.5 L168.5,597.0 L165.7,600.5 L162.9,597.0 Z" fill="#d63030" stroke="#111" stroke-width="1.2"/><path d="M158.8,600.9 L152.8,604.2 L152.8,597.6 Z" fill="#d63030" stroke="#111" stroke-width="1.2"/><path d="M158.5,602.8 L152.6,606.1 L152.6,599.5 Z" fill="#d63030" stroke="#111" stroke-width="1.2"/><path d="M152.4,604.6 L155.2,608.0 L152.4,611.5 L149.6,608.0 Z" fill="#d63030" stroke="#111" stroke-width="1.2"/><path d="M150.9,603.8 L153.8,607.3 L150.9,610.8 L148.1,607.3 Z" fill="#d63030" stroke="#111" stroke-width="1.2"/><path d="M171.3,621.7 H173.6 V623.8 H175.7 V626.0 H173.6 V628.1 H171.3 V626.0 H169.2 V623.8 H171.3 Z" fill="#d63030" stroke="#111" stroke-width="1.2"/><path d="M171.0,622.3 H173.2 V624.4 H175.3 V626.6 H173.2 V628.7 H171.0 V626.6 H168.9 V624.4 H171.0 Z" fill="#d63030" stroke="#111" stroke-width="1.2"/><path d="M172.4,620.3 H174.7 V622.4 H176.8 V624.6 H174.7 V626.7 H172.4 V624.6 H170.3 V622.4 H172.4 Z" fill="#d63030" stroke="#111" stroke-width="1.2"/><path d="M173.9,621.0 H176.1 V623.2 H178.3 V625.4 H176.1 V627.5 H173.9 V625.4 H171.8 V623.2 H173.9 Z" fill="#d63030" stroke="#111" stroke-width="1.2"/><path d="M170.9,624.4 L173.7,627.8 L170.9,631.3 L168.1,627.8 Z" fill="#d63030" stroke="#111" stroke-width="1.2"/><path d="M171.0,624.8 L173.9,628.3 L171.0,631.8 L168.2,628.3 Z" fill="#d63030" stroke="#111" stroke-width="1.2"/><path d="M174.1,627.7 H176.3 V629.8 H178.4 V632.0 H176.3 V634.1 H174.1 V632.0 H171.9 V629.8 H174.1 Z" fill="#d63030" stroke="#111" stroke-width="1.2"/><path d="M175.3,628.1 H177.5 V630.2 H179.6 V632.4 H177.5 V634.6 H175.3 V632.4 H173.1 V630.2 H175.3 Z" fill="#d63030" stroke="#111" stroke-width="1.2"/><path d="M165.1,629.8 L168.4,635.7 L161.8,635.7 Z" fill="#d63030" stroke="#111" stroke-width="1.2"/><path d="M166.1,629.3 L169.4,635.2 L162.8,635.2 Z" fill="#d63030" stroke="#111" stroke-width="1.2"/><path d="M178.9,637.0 L182.2,642.9 L175.6,642.9 Z" fill="#d63030" stroke="#111" stroke-width="1.2"/><path d="M178.8,637.5 L182.1,643.4 L175.5,643.4 Z" fill="#d63030" stroke="#111" stroke-width="1.2"/><path d="M168.4,639.9 H170.6 V642.0 H172.7 V644.2 H170.6 V646.3 H168.4 V644.2 H166.2 V642.0 H168.4 Z" fill="#d63030" stroke="#111" stroke-width="1.2"/><path d="M170.4,640.4 H172.6 V642.5 H174.7 V644.8 H172.6 V646.9 H170.4 V644.8 H168.3 V642.5 H170.4 Z" fill="#d63030" stroke="#111" stroke-width="1.2"/><path d="M170.9,644.4 H173.1 V646.5 H175.2 V648.8 H173.1 V650.9 H170.9 V648.8 H168.8 V646.5 H170.9 Z" fill="#d63030" stroke="#111" stroke-width="1.2"/><path d="M170.9,644.8 H173.1 V647.0 H175.3 V649.2 H173.1 V651.3 H170.9 V649.2 H168.8 V647.0 H170.9 Z" fill="#d63030" stroke="#111" stroke-width="1.2"/><path d="M174.2,645.4 H176.5 V647.5 H178.6 V649.8 H176.5 V651.9 H174.2 V649.8 H172.1 V647.5 H174.2 Z" fill="#d63030" stroke="#111" stroke-width="1.2"/><path d="M173.5,645.2 H175.7 V647.3 H177.8 V649.6 H175.7 V651.7 H173.5 V649.6 H171.4 V647.3 H173.5 Z" fill="#d63030" stroke="#111" stroke-width="1.2"/><rect x="100.0" y="693.3" width="5.6" height="5.6" fill="#d63030" stroke="#111" stroke-width="1.2"/><rect x="101.0" y="692.5" width="5.6" height="5.6" fill="#d63030" stroke="#111" stroke-width="1.2"/><rect x="102.6" y="694.2" width="5.6" height="5.6" fill="#d63030" stroke="#111" stroke-width="1.2"/><rect x="102.4" y="695.1" width="5.6" height="5.6" fill="#d63030" stroke="#111" stroke-width="1.2"/><rect x="101.5" y="696.3" width="5.6" height="5.6" fill="#d63030" stroke="#111" stroke-width="1.2"/><rect x="101.6" y="697.8" width="5.6" height="5.6" fill="#d63030" stroke="#111" stroke-width="1.2"/><path d="M114.3,697.0 L117.6,702.9 L111.0,702.9 Z" fill="#d63030" stroke="#111" stroke-width="1.2"/><path d="M115.9,698.1 L119.2,704.0 L112.6,704.0 Z" fill="#d63030" stroke="#111" stroke-width="1.2"/><path d="M116.9,697.4 L120.2,703.3 L113.6,703.3 Z" fill="#d63030" stroke="#111" stroke-width="1.2"/><path d="M116.6,696.9 L119.9,702.8 L113.3,702.8 Z" fill="#d63030" stroke="#111" stroke-width="1.2"/><path d="M120.5,701.7 L123.8,707.6 L117.2,707.6 Z" fill="#d63030" stroke="#111" stroke-width="1.2"/><path d="M121.9,702.7 L125.2,708.7 L118.6,708.7 Z" fill="#d63030" stroke="#111" stroke-width="1.2"/><circle cx="128.8" cy="709.7" r="3.13" fill="#d63030" stroke="#111" stroke-width="1.2"/><circle cx="128.2" cy="709.6" r="3.13" fill="#d63030" stroke="#111" stroke-width="1.2"/><circle cx="128.5" cy="711.5" r="3.13" fill="#d63030" stroke="#111" stroke-width="1.2"/><circle cx="130.0" cy="712.3" r="3.13" fill="#d63030" stroke="#111" stroke-width="1.2"/><circle cx="110.4" cy="717.6" r="3.13" fill="#d63030" stroke="#111" stroke-width="1.2"/><circle cx="109.4" cy="715.9" r="3.13" fill="#d63030" stroke="#111" stroke-width="1.2"/><circle cx="110.9" cy="717.5" r="3.13" fill="#d63030" stroke="#111" stroke-width="1.2"/><circle cx="110.4" cy="717.8" r="3.13" fill="#d63030" stroke="#111" stroke-width="1.2"/><rect x="108.4" y="728.1" width="5.6" height="5.6" fill="#d63030" stroke="#111" stroke-width="1.2"/><rect x="107.7" y="728.8" width="5.6" height="5.6" fill="#d63030" stroke="#111" stroke-width="1.2"/><rect x="183.0" y="626.6" width="5.6" height="5.6" fill="#2c82c4" stroke="#111" stroke-width="1.2"/><rect x="181.0" y="625.7" width="5.6" height="5.6" fill="#2c82c4" stroke="#111" stroke-width="1.2"/><circle cx="181.5" cy="631.6" r="3.13" fill="#2c82c4" stroke="#111" stroke-width="1.2"/><circle cx="181.2" cy="632.8" r="3.13" fill="#2c82c4" stroke="#111" stroke-width="1.2"/><rect x="186.7" y="632.4" width="5.6" height="5.6" fill="#2c82c4" stroke="#111" stroke-width="1.2"/><rect x="186.0" y="631.0" width="5.6" height="5.6" fill="#2c82c4" stroke="#111" stroke-width="1.2"/><circle cx="183.6" cy="638.7" r="3.13" fill="#2c82c4" stroke="#111" stroke-width="1.2"/><circle cx="184.4" cy="639.1" r="3.13" fill="#2c82c4" stroke="#111" stroke-width="1.2"/><circle cx="189.1" cy="641.8" r="3.13" fill="#2c82c4" stroke="#111" stroke-width="1.2"/><circle cx="190.2" cy="642.7" r="3.13" fill="#2c82c4" stroke="#111" stroke-width="1.2"/><rect x="189.4" y="637.2" width="5.6" height="5.6" fill="#2c82c4" stroke="#111" stroke-width="1.2"/><rect x="189.8" y="637.9" width="5.6" height="5.6" fill="#2c82c4" stroke="#111" stroke-width="1.2"/><path d="M206.5,603.1 H208.7 V605.2 H210.8 V607.5 H208.7 V609.6 H206.5 V607.5 H204.4 V605.2 H206.5 Z" fill="#2c82c4" stroke="#111" stroke-width="1.2"/><path d="M206.0,603.1 H208.3 V605.2 H210.4 V607.4 H208.3 V609.5 H206.0 V607.4 H203.9 V605.2 H206.0 Z" fill="#2c82c4" stroke="#111" stroke-width="1.2"/><path d="M207.1,608.8 H209.3 V610.9 H211.5 V613.2 H209.3 V615.3 H207.1 V613.2 H205.0 V610.9 H207.1 Z" fill="#2c82c4" stroke="#111" stroke-width="1.2"/><path d="M208.6,608.2 H210.9 V610.3 H213.0 V612.5 H210.9 V614.6 H208.6 V612.5 H206.5 V610.3 H208.6 Z" fill="#2c82c4" stroke="#111" stroke-width="1.2"/><path d="M206.6,614.6 H208.8 V616.7 H210.9 V619.0 H208.8 V621.1 H206.6 V619.0 H204.5 V616.7 H206.6 Z" fill="#2c82c4" stroke="#111" stroke-width="1.2"/><path d="M207.5,615.0 H209.8 V617.1 H211.9 V619.4 H209.8 V621.5 H207.5 V619.4 H205.4 V617.1 H207.5 Z" fill="#2c82c4" stroke="#111" stroke-width="1.2"/><path d="M202.4,618.4 L205.7,624.3 L199.1,624.3 Z" fill="#2c82c4" stroke="#111" stroke-width="1.2"/><path d="M201.9,618.5 L205.2,624.4 L198.6,624.4 Z" fill="#2c82c4" stroke="#111" stroke-width="1.2"/><path d="M204.9,617.6 L208.2,623.6 L201.6,623.6 Z" fill="#2c82c4" stroke="#111" stroke-width="1.2"/><path d="M205.0,619.0 L208.3,625.0 L201.7,625.0 Z" fill="#2c82c4" stroke="#111" stroke-width="1.2"/><path d="M220.7,611.6 L223.5,615.1 L220.7,618.6 L217.9,615.1 Z" fill="#2c82c4" stroke="#111" stroke-width="1.2"/><path d="M221.8,612.6 L224.6,616.1 L221.8,619.6 L219.0,616.1 Z" fill="#2c82c4" stroke="#111" stroke-width="1.2"/><circle cx="224.3" cy="612.3" r="3.13" fill="#2c82c4" stroke="#111" stroke-width="1.2"/><circle cx="225.4" cy="612.8" r="3.13" fill="#2c82c4" stroke="#111" stroke-width="1.2"/><path d="M242.4,621.9 L236.5,625.2 L236.5,618.6 Z" fill="#2c82c4" stroke="#111" stroke-width="1.2"/><path d="M241.8,621.4 L235.9,624.7 L235.9,618.1 Z" fill="#2c82c4" stroke="#111" stroke-width="1.2"/><path d="M243.9,624.1 L237.9,627.4 L237.9,620.8 Z" fill="#2c82c4" stroke="#111" stroke-width="1.2"/><path d="M243.7,623.9 L237.7,627.2 L237.7,620.6 Z" fill="#2c82c4" stroke="#111" stroke-width="1.2"/><path d="M195.2,676.1 H197.5 V678.3 H199.6 V680.5 H197.5 V682.6 H195.2 V680.5 H193.1 V678.3 H195.2 Z" fill="#ec8420" stroke="#111" stroke-width="1.2"/><path d="M196.9,676.3 H199.2 V678.4 H201.3 V680.7 H199.2 V682.8 H196.9 V680.7 H194.8 V678.4 H196.9 Z" fill="#ec8420" stroke="#111" stroke-width="1.2"/><path d="M201.5,676.6 L195.6,679.9 L195.6,673.3 Z" fill="#ec8420" stroke="#111" stroke-width="1.2"/><path d="M201.1,676.9 L195.1,680.2 L195.1,673.6 Z" fill="#ec8420" stroke="#111" stroke-width="1.2"/><path d="M203.9,679.8 L206.7,683.3 L203.9,686.7 L201.1,683.3 Z" fill="#ec8420" stroke="#111" stroke-width="1.2"/><path d="M202.2,680.0 L205.0,683.5 L202.2,686.9 L199.4,683.5 Z" fill="#ec8420" stroke="#111" stroke-width="1.2"/><path d="M205.1,682.1 L207.9,685.6 L205.1,689.1 L202.3,685.6 Z" fill="#ec8420" stroke="#111" stroke-width="1.2"/><path d="M205.0,680.5 L207.8,684.0 L205.0,687.4 L202.2,684.0 Z" fill="#ec8420" stroke="#111" stroke-width="1.2"/><path d="M193.6,684.4 L196.9,690.3 L190.3,690.3 Z" fill="#ec8420" stroke="#111" stroke-width="1.2"/><path d="M193.6,684.6 L196.9,690.6 L190.3,690.6 Z" fill="#ec8420" stroke="#111" stroke-width="1.2"/><path d="M192.5,688.2 L195.8,694.1 L189.2,694.1 Z" fill="#ec8420" stroke="#111" stroke-width="1.2"/><path d="M192.1,686.8 L195.4,692.7 L188.8,692.7 Z" fill="#ec8420" stroke="#111" stroke-width="1.2"/><path d="M198.0,694.2 H200.3 V696.3 H202.4 V698.5 H200.3 V700.6 H198.0 V698.5 H195.9 V696.3 H198.0 Z" fill="#ec8420" stroke="#111" stroke-width="1.2"/><path d="M198.7,694.1 H201.0 V696.2 H203.1 V698.4 H201.0 V700.6 H198.7 V698.4 H196.6 V696.2 H198.7 Z" fill="#ec8420" stroke="#111" stroke-width="1.2"/><path d="M198.9,694.9 H201.1 V697.1 H203.2 V699.3 H201.1 V701.4 H198.9 V699.3 H196.7 V697.1 H198.9 Z" fill="#ec8420" stroke="#111" stroke-width="1.2"/><path d="M198.9,694.1 H201.1 V696.2 H203.2 V698.4 H201.1 V700.5 H198.9 V698.4 H196.8 V696.2 H198.9 Z" fill="#ec8420" stroke="#111" stroke-width="1.2"/><path d="M213.7,696.0 H215.9 V698.1 H218.0 V700.4 H215.9 V702.5 H213.7 V700.4 H211.6 V698.1 H213.7 Z" fill="#ec8420" stroke="#111" stroke-width="1.2"/><path d="M213.8,696.5 H216.1 V698.6 H218.2 V700.8 H216.1 V702.9 H213.8 V700.8 H211.7 V698.6 H213.8 Z" fill="#ec8420" stroke="#111" stroke-width="1.2"/><rect x="213.9" y="696.2" width="5.6" height="5.6" fill="#ec8420" stroke="#111" stroke-width="1.2"/><rect x="214.4" y="696.3" width="5.6" height="5.6" fill="#ec8420" stroke="#111" stroke-width="1.2"/><circle cx="213.0" cy="702.0" r="3.13" fill="#ec8420" stroke="#111" stroke-width="1.2"/><circle cx="214.2" cy="703.2" r="3.13" fill="#ec8420" stroke="#111" stroke-width="1.2"/><rect x="189.5" y="710.5" width="5.6" height="5.6" fill="#ec8420" stroke="#111" stroke-width="1.2"/><rect x="191.1" y="709.7" width="5.6" height="5.6" fill="#ec8420" stroke="#111" stroke-width="1.2"/><path d="M199.2,707.4 L202.5,713.3 L195.9,713.3 Z" fill="#ec8420" stroke="#111" stroke-width="1.2"/><path d="M199.1,708.0 L202.4,714.0 L195.8,714.0 Z" fill="#ec8420" stroke="#111" stroke-width="1.2"/><circle cx="210.5" cy="711.5" r="3.13" fill="#ec8420" stroke="#111" stroke-width="1.2"/><circle cx="211.3" cy="712.5" r="3.13" fill="#ec8420" stroke="#111" stroke-width="1.2"/><rect x="227.7" y="679.5" width="5.6" height="5.6" fill="#8c60c8" stroke="#111" stroke-width="1.2"/><rect x="228.0" y="678.8" width="5.6" height="5.6" fill="#8c60c8" stroke="#111" stroke-width="1.2"/><rect x="228.6" y="680.2" width="5.6" height="5.6" fill="#8c60c8" stroke="#111" stroke-width="1.2"/><rect x="228.3" y="681.0" width="5.6" height="5.6" fill="#8c60c8" stroke="#111" stroke-width="1.2"/><circle cx="158.0" cy="709.9" r="3.13" fill="#8c60c8" stroke="#111" stroke-width="1.2"/><circle cx="156.5" cy="708.9" r="3.13" fill="#8c60c8" stroke="#111" stroke-width="1.2"/><circle cx="157.4" cy="707.3" r="3.13" fill="#8c60c8" stroke="#111" stroke-width="1.2"/><circle cx="158.9" cy="708.3" r="3.13" fill="#8c60c8" stroke="#111" stroke-width="1.2"/><path d="M243.9,699.4 L247.2,705.4 L240.6,705.4 Z" fill="#8c60c8" stroke="#111" stroke-width="1.2"/><path d="M243.3,700.1 L246.6,706.0 L240.0,706.0 Z" fill="#8c60c8" stroke="#111" stroke-width="1.2"/><path d="M246.9,699.7 L250.2,705.7 L243.6,705.7 Z" fill="#8c60c8" stroke="#111" stroke-width="1.2"/><path d="M246.6,699.5 L249.9,705.4 L243.3,705.4 Z" fill="#8c60c8" stroke="#111" stroke-width="1.2"/><path d="M250.4,705.6 H252.6 V707.7 H254.8 V709.9 H252.6 V712.0 H250.4 V709.9 H248.3 V707.7 H250.4 Z" fill="#8c60c8" stroke="#111" stroke-width="1.2"/><path d="M251.5,705.8 H253.7 V707.9 H255.8 V710.1 H253.7 V712.2 H251.5 V710.1 H249.4 V707.9 H251.5 Z" fill="#8c60c8" stroke="#111" stroke-width="1.2"/><path d="M252.9,708.3 L255.7,711.8 L252.9,715.2 L250.1,711.8 Z" fill="#8c60c8" stroke="#111" stroke-width="1.2"/><path d="M252.3,708.5 L255.1,712.0 L252.3,715.5 L249.5,712.0 Z" fill="#8c60c8" stroke="#111" stroke-width="1.2"/><path d="M264.7,714.2 L267.5,717.6 L264.7,721.1 L261.9,717.6 Z" fill="#8c60c8" stroke="#111" stroke-width="1.2"/><path d="M265.0,713.5 L267.8,716.9 L265.0,720.4 L262.1,716.9 Z" fill="#8c60c8" stroke="#111" stroke-width="1.2"/><path d="M264.5,718.1 L267.3,721.6 L264.5,725.0 L261.7,721.6 Z" fill="#8c60c8" stroke="#111" stroke-width="1.2"/><path d="M264.1,718.0 L266.9,721.5 L264.1,725.0 L261.3,721.5 Z" fill="#8c60c8" stroke="#111" stroke-width="1.2"/><path d="M279.2,729.2 L273.3,732.5 L273.3,725.9 Z" fill="#8c60c8" stroke="#111" stroke-width="1.2"/><path d="M278.5,730.2 L272.6,733.5 L272.6,726.9 Z" fill="#8c60c8" stroke="#111" stroke-width="1.2"/><path d="M277.4,732.0 L271.4,735.3 L271.4,728.7 Z" fill="#8c60c8" stroke="#111" stroke-width="1.2"/><path d="M277.8,732.1 L271.9,735.4 L271.9,728.8 Z" fill="#8c60c8" stroke="#111" stroke-width="1.2"/><path d="M77.0,689.0 L79.8,692.5 L77.0,696.0 L74.2,692.5 Z" fill="#2c922c" stroke="#111" stroke-width="1.2"/><path d="M76.7,690.3 L79.5,693.8 L76.7,697.2 L73.9,693.8 Z" fill="#2c922c" stroke="#111" stroke-width="1.2"/><path d="M78.1,695.3 L80.9,698.8 L78.1,702.3 L75.3,698.8 Z" fill="#2c922c" stroke="#111" stroke-width="1.2"/><path d="M76.8,696.7 L79.6,700.1 L76.8,703.6 L74.0,700.1 Z" fill="#2c922c" stroke="#111" stroke-width="1.2"/><path d="M65.3,704.2 H67.5 V706.3 H69.6 V708.5 H67.5 V710.6 H65.3 V708.5 H63.1 V706.3 H65.3 Z" fill="#2c922c" stroke="#111" stroke-width="1.2"/><path d="M66.7,702.3 H69.0 V704.4 H71.1 V706.6 H69.0 V708.7 H66.7 V706.6 H64.6 V704.4 H66.7 Z" fill="#2c922c" stroke="#111" stroke-width="1.2"/><path d="M69.4,703.6 H71.6 V705.7 H73.8 V707.9 H71.6 V710.0 H69.4 V707.9 H67.3 V705.7 H69.4 Z" fill="#2c922c" stroke="#111" stroke-width="1.2"/><path d="M69.4,702.2 H71.7 V704.3 H73.8 V706.5 H71.7 V708.6 H69.4 V706.5 H67.3 V704.3 H69.4 Z" fill="#2c922c" stroke="#111" stroke-width="1.2"/><path d="M65.7,705.8 L68.5,709.2 L65.7,712.7 L62.9,709.2 Z" fill="#2c922c" stroke="#111" stroke-width="1.2"/><path d="M65.6,705.1 L68.4,708.6 L65.6,712.0 L62.8,708.6 Z" fill="#2c922c" stroke="#111" stroke-width="1.2"/><path d="M62.7,711.4 L66.0,717.4 L59.4,717.4 Z" fill="#2c922c" stroke="#111" stroke-width="1.2"/><path d="M61.8,710.4 L65.1,716.3 L58.5,716.3 Z" fill="#2c922c" stroke="#111" stroke-width="1.2"/><path d="M64.3,717.0 L67.6,723.0 L61.0,723.0 Z" fill="#2c922c" stroke="#111" stroke-width="1.2"/><path d="M64.9,715.3 L68.2,721.2 L61.6,721.2 Z" fill="#2c922c" stroke="#111" stroke-width="1.2"/><path d="M70.1,717.8 L73.4,723.7 L66.8,723.7 Z" fill="#2c922c" stroke="#111" stroke-width="1.2"/><path d="M70.1,717.6 L73.4,723.6 L66.8,723.6 Z" fill="#2c922c" stroke="#111" stroke-width="1.2"/><path d="M46.3,721.8 L40.3,725.1 L40.3,718.5 Z" fill="#2c922c" stroke="#111" stroke-width="1.2"/><path d="M46.1,721.7 L40.2,725.0 L40.2,718.4 Z" fill="#2c922c" stroke="#111" stroke-width="1.2"/><path d="M52.2,720.7 L46.2,724.0 L46.2,717.4 Z" fill="#2c922c" stroke="#111" stroke-width="1.2"/><path d="M52.2,719.9 L46.3,723.2 L46.3,716.6 Z" fill="#2c922c" stroke="#111" stroke-width="1.2"/><path d="M50.0,723.7 L52.8,727.1 L50.0,730.6 L47.2,727.1 Z" fill="#2c922c" stroke="#111" stroke-width="1.2"/><path d="M51.4,725.4 L54.3,728.9 L51.4,732.3 L48.6,728.9 Z" fill="#2c922c" stroke="#111" stroke-width="1.2"/><path d="M47.5,722.4 L50.3,725.9 L47.5,729.4 L44.7,725.9 Z" fill="#2c922c" stroke="#111" stroke-width="1.2"/><path d="M45.6,724.3 L48.4,727.8 L45.6,731.3 L42.8,727.8 Z" fill="#2c922c" stroke="#111" stroke-width="1.2"/><path d="M53.5,733.3 H55.7 V735.5 H57.9 V737.7 H55.7 V739.8 H53.5 V737.7 H51.4 V735.5 H53.5 Z" fill="#2c922c" stroke="#111" stroke-width="1.2"/><path d="M53.2,732.7 H55.4 V734.8 H57.6 V737.0 H55.4 V739.2 H53.2 V737.0 H51.1 V734.8 H53.2 Z" fill="#2c922c" stroke="#111" stroke-width="1.2"/><path d="M58.8,732.6 H61.1 V734.7 H63.2 V737.0 H61.1 V739.1 H58.8 V737.0 H56.7 V734.7 H58.8 Z" fill="#2c922c" stroke="#111" stroke-width="1.2"/><path d="M59.0,731.7 H61.2 V733.8 H63.4 V736.1 H61.2 V738.2 H59.0 V736.1 H56.9 V733.8 H59.0 Z" fill="#2c922c" stroke="#111" stroke-width="1.2"/><path d="M75.6,727.2 L78.4,730.7 L75.6,734.1 L72.8,730.7 Z" fill="#2c922c" stroke="#111" stroke-width="1.2"/><path d="M74.5,726.3 L77.3,729.8 L74.5,733.3 L71.7,729.8 Z" fill="#2c922c" stroke="#111" stroke-width="1.2"/><path d="M72.6,731.3 L75.4,734.8 L72.6,738.3 L69.8,734.8 Z" fill="#2c922c" stroke="#111" stroke-width="1.2"/><path d="M71.4,730.8 L74.2,734.3 L71.4,737.7 L68.6,734.3 Z" fill="#2c922c" stroke="#111" stroke-width="1.2"/><path d="M73.5,733.5 L76.8,739.4 L70.2,739.4 Z" fill="#2c922c" stroke="#111" stroke-width="1.2"/><path d="M74.4,735.2 L77.7,741.1 L71.1,741.1 Z" fill="#2c922c" stroke="#111" stroke-width="1.2"/><path d="M43.8,737.7 H46.1 V739.8 H48.2 V742.0 H46.1 V744.1 H43.8 V742.0 H41.7 V739.8 H43.8 Z" fill="#2c922c" stroke="#111" stroke-width="1.2"/><path d="M43.7,736.7 H45.9 V738.8 H48.0 V741.0 H45.9 V743.1 H43.7 V741.0 H41.6 V738.8 H43.7 Z" fill="#2c922c" stroke="#111" stroke-width="1.2"/><rect x="44.0" y="742.4" width="5.6" height="5.6" fill="#2c922c" stroke="#111" stroke-width="1.2"/><rect x="44.9" y="743.1" width="5.6" height="5.6" fill="#2c922c" stroke="#111" stroke-width="1.2"/><rect x="50.4" y="744.3" width="5.6" height="5.6" fill="#2c922c" stroke="#111" stroke-width="1.2"/><rect x="51.4" y="744.0" width="5.6" height="5.6" fill="#2c922c" stroke="#111" stroke-width="1.2"/><rect x="61.8" y="741.2" width="5.6" height="5.6" fill="#2c922c" stroke="#111" stroke-width="1.2"/><rect x="62.0" y="742.2" width="5.6" height="5.6" fill="#2c922c" stroke="#111" stroke-width="1.2"/><circle cx="56.2" cy="751.9" r="3.13" fill="#2c922c" stroke="#111" stroke-width="1.2"/><circle cx="56.4" cy="751.1" r="3.13" fill="#2c922c" stroke="#111" stroke-width="1.2"/><circle cx="66.5" cy="748.4" r="3.13" fill="#2c922c" stroke="#111" stroke-width="1.2"/><circle cx="65.7" cy="749.2" r="3.13" fill="#2c922c" stroke="#111" stroke-width="1.2"/><circle cx="52.6" cy="756.1" r="3.13" fill="#2c922c" stroke="#111" stroke-width="1.2"/><circle cx="54.0" cy="756.7" r="3.13" fill="#2c922c" stroke="#111" stroke-width="1.2"/><path d="M60.3,752.9 L63.6,758.9 L57.0,758.9 Z" fill="#2c922c" stroke="#111" stroke-width="1.2"/><path d="M61.3,751.6 L64.6,757.5 L58.0,757.5 Z" fill="#2c922c" stroke="#111" stroke-width="1.2"/><path d="M66.4,752.1 L69.7,758.0 L63.1,758.0 Z" fill="#2c922c" stroke="#111" stroke-width="1.2"/><path d="M66.1,751.7 L69.4,757.6 L62.8,757.6 Z" fill="#2c922c" stroke="#111" stroke-width="1.2"/><path d="M56.9,758.3 L60.2,764.3 L53.6,764.3 Z" fill="#2c922c" stroke="#111" stroke-width="1.2"/><path d="M56.2,758.6 L59.5,764.6 L52.9,764.6 Z" fill="#2c922c" stroke="#111" stroke-width="1.2"/><rect x="81.7" y="757.6" width="5.6" height="5.6" fill="#2c922c" stroke="#111" stroke-width="1.2"/><rect x="80.8" y="759.2" width="5.6" height="5.6" fill="#2c922c" stroke="#111" stroke-width="1.2"/><rect x="82.1" y="756.5" width="5.6" height="5.6" fill="#2c922c" stroke="#111" stroke-width="1.2"/><rect x="81.6" y="756.0" width="5.6" height="5.6" fill="#2c922c" stroke="#111" stroke-width="1.2"/><circle cx="87.7" cy="756.1" r="3.13" fill="#2c922c" stroke="#111" stroke-width="1.2"/><circle cx="87.5" cy="757.9" r="3.13" fill="#2c922c" stroke="#111" stroke-width="1.2"/><circle cx="90.6" cy="755.4" r="3.13" fill="#2c922c" stroke="#111" stroke-width="1.2"/><circle cx="91.5" cy="755.5" r="3.13" fill="#2c922c" stroke="#111" stroke-width="1.2"/><rect x="80.6" y="763.1" width="5.6" height="5.6" fill="#2c922c" stroke="#111" stroke-width="1.2"/><rect x="80.2" y="761.9" width="5.6" height="5.6" fill="#2c922c" stroke="#111" stroke-width="1.2"/><path d="M132.0,749.9 L126.0,753.2 L126.0,746.6 Z" fill="#2c922c" stroke="#111" stroke-width="1.2"/><path d="M130.8,750.2 L124.8,753.5 L124.8,746.9 Z" fill="#2c922c" stroke="#111" stroke-width="1.2"/><path d="M132.0,753.3 L126.1,756.6 L126.1,750.0 Z" fill="#2c922c" stroke="#111" stroke-width="1.2"/><path d="M132.0,753.4 L126.1,756.7 L126.1,750.1 Z" fill="#2c922c" stroke="#111" stroke-width="1.2"/><path d="M148.4,758.5 L142.5,761.8 L142.5,755.2 Z" fill="#80c080" stroke="#111" stroke-width="1.2"/><path d="M149.1,759.3 L143.2,762.6 L143.2,756.0 Z" fill="#80c080" stroke="#111" stroke-width="1.2"/><path d="M150.9,757.3 L154.2,763.2 L147.6,763.2 Z" fill="#98602a" stroke="#111" stroke-width="1.2"/><path d="M150.5,756.6 L153.8,762.5 L147.2,762.5 Z" fill="#98602a" stroke="#111" stroke-width="1.2"/><path d="M151.3,758.7 L154.6,764.6 L148.0,764.6 Z" fill="#98602a" stroke="#111" stroke-width="1.2"/><path d="M150.5,759.0 L153.8,765.0 L147.2,765.0 Z" fill="#98602a" stroke="#111" stroke-width="1.2"/><circle cx="169.0" cy="744.1" r="3.13" fill="#98602a" stroke="#111" stroke-width="1.2"/><circle cx="168.8" cy="744.2" r="3.13" fill="#98602a" stroke="#111" stroke-width="1.2"/><circle cx="169.2" cy="747.6" r="3.13" fill="#98602a" stroke="#111" stroke-width="1.2"/><circle cx="169.8" cy="747.9" r="3.13" fill="#98602a" stroke="#111" stroke-width="1.2"/><rect x="180.4" y="744.4" width="5.6" height="5.6" fill="#98602a" stroke="#111" stroke-width="1.2"/><rect x="181.0" y="746.4" width="5.6" height="5.6" fill="#98602a" stroke="#111" stroke-width="1.2"/><rect x="180.3" y="746.1" width="5.6" height="5.6" fill="#98602a" stroke="#111" stroke-width="1.2"/><rect x="181.0" y="745.1" width="5.6" height="5.6" fill="#98602a" stroke="#111" stroke-width="1.2"/><path d="M200.5,753.8 L194.6,757.1 L194.6,750.5 Z" fill="#98602a" stroke="#111" stroke-width="1.2"/><path d="M199.5,755.4 L193.6,758.7 L193.6,752.1 Z" fill="#98602a" stroke="#111" stroke-width="1.2"/><path d="M192.4,759.1 L195.2,762.5 L192.4,766.0 L189.6,762.5 Z" fill="#98602a" stroke="#111" stroke-width="1.2"/><path d="M193.0,759.8 L195.8,763.3 L193.0,766.8 L190.1,763.3 Z" fill="#98602a" stroke="#111" stroke-width="1.2"/><path d="M199.2,757.4 H201.4 V759.5 H203.6 V761.8 H201.4 V763.9 H199.2 V761.8 H197.1 V759.5 H199.2 Z" fill="#98602a" stroke="#111" stroke-width="1.2"/><path d="M199.3,758.2 H201.5 V760.3 H203.6 V762.5 H201.5 V764.6 H199.3 V762.5 H197.1 V760.3 H199.3 Z" fill="#98602a" stroke="#111" stroke-width="1.2"/><path d="M193.2,764.2 L196.1,767.7 L193.2,771.2 L190.4,767.7 Z" fill="#98602a" stroke="#111" stroke-width="1.2"/><path d="M194.0,764.4 L196.8,767.9 L194.0,771.3 L191.2,767.9 Z" fill="#98602a" stroke="#111" stroke-width="1.2"/><path d="M195.9,767.6 L198.7,771.1 L195.9,774.5 L193.1,771.1 Z" fill="#98602a" stroke="#111" stroke-width="1.2"/><path d="M195.9,766.7 L198.7,770.2 L195.9,773.6 L193.1,770.2 Z" fill="#98602a" stroke="#111" stroke-width="1.2"/><path d="M195.2,771.2 L198.0,774.6 L195.2,778.1 L192.4,774.6 Z" fill="#98602a" stroke="#111" stroke-width="1.2"/><path d="M195.6,771.4 L198.4,774.9 L195.6,778.3 L192.8,774.9 Z" fill="#98602a" stroke="#111" stroke-width="1.2"/><path d="M197.1,776.4 L199.9,779.9 L197.1,783.4 L194.3,779.9 Z" fill="#98602a" stroke="#111" stroke-width="1.2"/><path d="M196.5,774.9 L199.3,778.3 L196.5,781.8 L193.7,778.3 Z" fill="#98602a" stroke="#111" stroke-width="1.2"/><circle cx="128.5" cy="728.7" r="3.13" fill="#7c7c7c" stroke="#111" stroke-width="1.2"/><circle cx="129.9" cy="728.1" r="3.13" fill="#7c7c7c" stroke="#111" stroke-width="1.2"/><circle cx="125.0" cy="772.3" r="3.13" fill="#2cbccc" stroke="#111" stroke-width="1.2"/><circle cx="125.7" cy="772.9" r="3.13" fill="#2cbccc" stroke="#111" stroke-width="1.2"/><circle cx="126.2" cy="775.3" r="3.13" fill="#2cbccc" stroke="#111" stroke-width="1.2"/><circle cx="126.6" cy="774.3" r="3.13" fill="#2cbccc" stroke="#111" stroke-width="1.2"/><rect x="123.9" y="784.4" width="5.6" height="5.6" fill="#2cbccc" stroke="#111" stroke-width="1.2"/><rect x="125.4" y="784.1" width="5.6" height="5.6" fill="#2cbccc" stroke="#111" stroke-width="1.2"/><rect x="124.2" y="784.2" width="5.6" height="5.6" fill="#2cbccc" stroke="#111" stroke-width="1.2"/><rect x="124.7" y="785.0" width="5.6" height="5.6" fill="#2cbccc" stroke="#111" stroke-width="1.2"/><path d="M123.5,794.0 L126.8,799.9 L120.2,799.9 Z" fill="#2cbccc" stroke="#111" stroke-width="1.2"/><path d="M123.3,793.9 L126.6,799.8 L120.0,799.8 Z" fill="#2cbccc" stroke="#111" stroke-width="1.2"/><path d="M129.5,795.2 L132.8,801.2 L126.2,801.2 Z" fill="#2cbccc" stroke="#111" stroke-width="1.2"/><path d="M130.5,795.1 L133.8,801.1 L127.2,801.1 Z" fill="#2cbccc" stroke="#111" stroke-width="1.2"/><path d="M119.8,805.2 H122.0 V807.3 H124.2 V809.6 H122.0 V811.7 H119.8 V809.6 H117.7 V807.3 H119.8 Z" fill="#2cbccc" stroke="#111" stroke-width="1.2"/><path d="M119.4,804.9 H121.7 V807.0 H123.8 V809.3 H121.7 V811.4 H119.4 V809.3 H117.3 V807.0 H119.4 Z" fill="#2cbccc" stroke="#111" stroke-width="1.2"/><path d="M126.7,804.0 H129.0 V806.1 H131.1 V808.4 H129.0 V810.5 H126.7 V808.4 H124.6 V806.1 H126.7 Z" fill="#2cbccc" stroke="#111" stroke-width="1.2"/><path d="M125.2,802.4 H127.5 V804.5 H129.6 V806.8 H127.5 V808.9 H125.2 V806.8 H123.1 V804.5 H125.2 Z" fill="#2cbccc" stroke="#111" stroke-width="1.2"/><path d="M132.0,804.5 H134.2 V806.7 H136.3 V808.9 H134.2 V811.0 H132.0 V808.9 H129.8 V806.7 H132.0 Z" fill="#2cbccc" stroke="#111" stroke-width="1.2"/><path d="M131.9,803.6 H134.1 V805.7 H136.2 V808.0 H134.1 V810.1 H131.9 V808.0 H129.8 V805.7 H131.9 Z" fill="#2cbccc" stroke="#111" stroke-width="1.2"/><path d="M134.2,808.6 L137.5,814.5 L130.9,814.5 Z" fill="#2cbccc" stroke="#111" stroke-width="1.2"/><path d="M135.1,808.8 L138.4,814.8 L131.8,814.8 Z" fill="#2cbccc" stroke="#111" stroke-width="1.2"/><path d="M128.6,815.3 L131.4,818.8 L128.6,822.2 L125.8,818.8 Z" fill="#2cbccc" stroke="#111" stroke-width="1.2"/><path d="M127.9,814.3 L130.7,817.8 L127.9,821.3 L125.1,817.8 Z" fill="#2cbccc" stroke="#111" stroke-width="1.2"/><path d="M126.8,819.3 L129.6,822.7 L126.8,826.2 L124.0,822.7 Z" fill="#2cbccc" stroke="#111" stroke-width="1.2"/><path d="M126.1,818.0 L128.9,821.5 L126.1,825.0 L123.3,821.5 Z" fill="#2cbccc" stroke="#111" stroke-width="1.2"/><path d="M139.1,823.6 L133.1,826.9 L133.1,820.3 Z" fill="#2cbccc" stroke="#111" stroke-width="1.2"/><path d="M139.0,821.9 L133.1,825.2 L133.1,818.6 Z" fill="#2cbccc" stroke="#111" stroke-width="1.2"/><circle cx="226.7" cy="739.0" r="3.13" fill="#ec7cc4" stroke="#111" stroke-width="1.2"/><circle cx="227.0" cy="738.6" r="3.13" fill="#ec7cc4" stroke="#111" stroke-width="1.2"/><circle cx="227.6" cy="740.1" r="3.13" fill="#ec7cc4" stroke="#111" stroke-width="1.2"/><circle cx="226.4" cy="741.4" r="3.13" fill="#ec7cc4" stroke="#111" stroke-width="1.2"/><rect x="226.0" y="751.2" width="5.6" height="5.6" fill="#ec7cc4" stroke="#111" stroke-width="1.2"/><rect x="227.4" y="752.0" width="5.6" height="5.6" fill="#ec7cc4" stroke="#111" stroke-width="1.2"/><rect x="226.7" y="753.4" width="5.6" height="5.6" fill="#ec7cc4" stroke="#111" stroke-width="1.2"/><rect x="226.9" y="754.7" width="5.6" height="5.6" fill="#ec7cc4" stroke="#111" stroke-width="1.2"/><path d="M232.5,773.6 L235.8,779.5 L229.2,779.5 Z" fill="#ec7cc4" stroke="#111" stroke-width="1.2"/><path d="M233.3,774.6 L236.6,780.5 L230.0,780.5 Z" fill="#ec7cc4" stroke="#111" stroke-width="1.2"/><path d="M235.7,777.4 L239.0,783.3 L232.4,783.3 Z" fill="#ec7cc4" stroke="#111" stroke-width="1.2"/><path d="M235.7,776.3 L239.0,782.2 L232.4,782.2 Z" fill="#ec7cc4" stroke="#111" stroke-width="1.2"/><path d="M228.2,793.6 H230.5 V795.7 H232.6 V798.0 H230.5 V800.1 H228.2 V798.0 H226.1 V795.7 H228.2 Z" fill="#ec7cc4" stroke="#111" stroke-width="1.2"/><path d="M227.2,793.8 H229.4 V796.0 H231.5 V798.2 H229.4 V800.3 H227.2 V798.2 H225.1 V796.0 H227.2 Z" fill="#ec7cc4" stroke="#111" stroke-width="1.2"/><path d="M230.7,797.8 L233.5,801.3 L230.7,804.7 L227.9,801.3 Z" fill="#ec7cc4" stroke="#111" stroke-width="1.2"/><path d="M229.1,796.6 L232.0,800.1 L229.1,803.6 L226.3,800.1 Z" fill="#ec7cc4" stroke="#111" stroke-width="1.2"/><path d="M212.0,797.6 L214.8,801.1 L212.0,804.6 L209.2,801.1 Z" fill="#ec7cc4" stroke="#111" stroke-width="1.2"/><path d="M212.1,797.7 L214.9,801.2 L212.1,804.6 L209.3,801.2 Z" fill="#ec7cc4" stroke="#111" stroke-width="1.2"/><path d="M215.7,805.2 L218.5,808.6 L215.7,812.1 L212.9,808.6 Z" fill="#ec7cc4" stroke="#111" stroke-width="1.2"/><path d="M217.1,805.1 L219.9,808.6 L217.1,812.1 L214.2,808.6 Z" fill="#ec7cc4" stroke="#111" stroke-width="1.2"/><path d="M206.9,805.2 L210.2,811.1 L203.6,811.1 Z" fill="#ec7cc4" stroke="#111" stroke-width="1.2"/><path d="M205.5,805.6 L208.8,811.5 L202.2,811.5 Z" fill="#ec7cc4" stroke="#111" stroke-width="1.2"/><path d="M212.5,811.1 L206.6,814.4 L206.6,807.8 Z" fill="#ec7cc4" stroke="#111" stroke-width="1.2"/><path d="M210.6,811.6 L204.7,814.9 L204.7,808.3 Z" fill="#ec7cc4" stroke="#111" stroke-width="1.2"/><ellipse cx="188.0" cy="618.0" rx="61.0" ry="45.0" transform="rotate(30 188.0 618.0)" fill="none" stroke="#e02020" stroke-width="1.6" stroke-dasharray="0.1 2.5" stroke-linecap="round"/><ellipse cx="60.1" cy="726.6" rx="27.8" ry="45.0" transform="rotate(0 60.1 726.6)" fill="none" stroke="#20a040" stroke-width="1.6" stroke-dasharray="0.1 2.5" stroke-linecap="round"/><ellipse cx="129.3" cy="727.8" rx="9.2" ry="9.2" transform="rotate(0 129.3 727.8)" fill="none" stroke="#555" stroke-width="1.6" stroke-dasharray="0.1 2.5" stroke-linecap="round"/><ellipse cx="129.8" cy="811.0" rx="24.0" ry="19.0" transform="rotate(0 129.8 811.0)" fill="none" stroke="#2040b0" stroke-width="1.6" stroke-dasharray="0.1 2.5" stroke-linecap="round"/><ellipse cx="202.5" cy="700.0" rx="20.7" ry="27.7" transform="rotate(0 202.5 700.0)" fill="none" stroke="#f07020" stroke-width="1.6" stroke-dasharray="0.1 2.5" stroke-linecap="round"/><ellipse cx="260.0" cy="718.0" rx="31.5" ry="16.6" transform="rotate(24.5 260.0 718.0)" fill="none" stroke="#9040c0" stroke-width="1.6" stroke-dasharray="0.1 2.5" stroke-linecap="round"/><ellipse cx="195.7" cy="767.7" rx="11.4" ry="21.5" transform="rotate(0 195.7 767.7)" fill="none" stroke="#f0d020" stroke-width="1.6" stroke-dasharray="0.1 2.5" stroke-linecap="round"/><ellipse cx="221.3" cy="795.7" rx="31.5" ry="16.4" transform="rotate(-44.4 221.3 795.7)" fill="none" stroke="#9040c0" stroke-width="1.6" stroke-dasharray="0.1 2.5" stroke-linecap="round"/><text x="288.6" y="545.1" font-size="12" text-anchor="start" fill="#000" >H</text><rect x="318.1" y="566.8" width="262.4" height="262.4" fill="#fff" stroke="none" stroke-width="1" /><line x1="318.1" y1="566.8" x2="318.1" y2="829.2" stroke="#dedede" stroke-width="0.8" /><line x1="327.7" y1="566.8" x2="327.7" y2="829.2" stroke="#dedede" stroke-width="0.8" /><line x1="337.2" y1="566.8" x2="337.2" y2="829.2" stroke="#dedede" stroke-width="0.8" /><line x1="346.8" y1="566.8" x2="346.8" y2="829.2" stroke="#dedede" stroke-width="0.8" /><line x1="356.3" y1="566.8" x2="356.3" y2="829.2" stroke="#dedede" stroke-width="0.8" /><line x1="365.9" y1="566.8" x2="365.9" y2="829.2" stroke="#dedede" stroke-width="0.8" /><line x1="375.5" y1="566.8" x2="375.5" y2="829.2" stroke="#dedede" stroke-width="0.8" /><line x1="385.0" y1="566.8" x2="385.0" y2="829.2" stroke="#dedede" stroke-width="0.8" /><line x1="394.6" y1="566.8" x2="394.6" y2="829.2" stroke="#dedede" stroke-width="0.8" /><line x1="404.1" y1="566.8" x2="404.1" y2="829.2" stroke="#dedede" stroke-width="0.8" /><line x1="413.7" y1="566.8" x2="413.7" y2="829.2" stroke="#dedede" stroke-width="0.8" /><line x1="423.3" y1="566.8" x2="423.3" y2="829.2" stroke="#dedede" stroke-width="0.8" /><line x1="432.8" y1="566.8" x2="432.8" y2="829.2" stroke="#dedede" stroke-width="0.8" /><line x1="442.4" y1="566.8" x2="442.4" y2="829.2" stroke="#dedede" stroke-width="0.8" /><line x1="451.9" y1="566.8" x2="451.9" y2="829.2" stroke="#dedede" stroke-width="0.8" /><line x1="461.5" y1="566.8" x2="461.5" y2="829.2" stroke="#dedede" stroke-width="0.8" /><line x1="471.1" y1="566.8" x2="471.1" y2="829.2" stroke="#dedede" stroke-width="0.8" /><line x1="480.6" y1="566.8" x2="480.6" y2="829.2" stroke="#dedede" stroke-width="0.8" /><line x1="490.2" y1="566.8" x2="490.2" y2="829.2" stroke="#dedede" stroke-width="0.8" /><line x1="499.7" y1="566.8" x2="499.7" y2="829.2" stroke="#dedede" stroke-width="0.8" /><line x1="509.3" y1="566.8" x2="509.3" y2="829.2" stroke="#dedede" stroke-width="0.8" /><line x1="518.9" y1="566.8" x2="518.9" y2="829.2" stroke="#dedede" stroke-width="0.8" /><line x1="528.4" y1="566.8" x2="528.4" y2="829.2" stroke="#dedede" stroke-width="0.8" /><line x1="538.0" y1="566.8" x2="538.0" y2="829.2" stroke="#dedede" stroke-width="0.8" /><line x1="547.5" y1="566.8" x2="547.5" y2="829.2" stroke="#dedede" stroke-width="0.8" /><line x1="557.1" y1="566.8" x2="557.1" y2="829.2" stroke="#dedede" stroke-width="0.8" /><line x1="566.7" y1="566.8" x2="566.7" y2="829.2" stroke="#dedede" stroke-width="0.8" /><line x1="576.2" y1="566.8" x2="576.2" y2="829.2" stroke="#dedede" stroke-width="0.8" /><line x1="318.1" y1="567.0" x2="580.5" y2="567.0" stroke="#dedede" stroke-width="0.8" /><line x1="318.1" y1="588.9" x2="580.5" y2="588.9" stroke="#dedede" stroke-width="0.8" /><line x1="318.1" y1="610.7" x2="580.5" y2="610.7" stroke="#dedede" stroke-width="0.8" /><line x1="318.1" y1="632.6" x2="580.5" y2="632.6" stroke="#dedede" stroke-width="0.8" /><line x1="318.1" y1="654.5" x2="580.5" y2="654.5" stroke="#dedede" stroke-width="0.8" /><line x1="318.1" y1="676.3" x2="580.5" y2="676.3" stroke="#dedede" stroke-width="0.8" /><line x1="318.1" y1="698.2" x2="580.5" y2="698.2" stroke="#dedede" stroke-width="0.8" /><line x1="318.1" y1="720.1" x2="580.5" y2="720.1" stroke="#dedede" stroke-width="0.8" /><line x1="318.1" y1="741.9" x2="580.5" y2="741.9" stroke="#dedede" stroke-width="0.8" /><line x1="318.1" y1="763.8" x2="580.5" y2="763.8" stroke="#dedede" stroke-width="0.8" /><line x1="318.1" y1="785.7" x2="580.5" y2="785.7" stroke="#dedede" stroke-width="0.8" /><line x1="318.1" y1="807.5" x2="580.5" y2="807.5" stroke="#dedede" stroke-width="0.8" /><line x1="318.1" y1="829.4" x2="580.5" y2="829.4" stroke="#dedede" stroke-width="0.8" /><line x1="318.1" y1="566.8" x2="318.1" y2="829.2" stroke="#a0a0a0" stroke-width="1.3" /><line x1="318.1" y1="829.2" x2="580.5" y2="829.2" stroke="#a0a0a0" stroke-width="1.3" /><line x1="318.1" y1="829.2" x2="318.1" y2="831.2" stroke="#8a8a8a" stroke-width="1" /><text x="318.1" y="839.7" font-size="7.4" text-anchor="middle" fill="#111" >−30</text><line x1="337.2" y1="829.2" x2="337.2" y2="831.2" stroke="#8a8a8a" stroke-width="1" /><text x="337.2" y="839.7" font-size="7.4" text-anchor="middle" fill="#111" >−26</text><line x1="356.3" y1="829.2" x2="356.3" y2="831.2" stroke="#8a8a8a" stroke-width="1" /><text x="356.3" y="839.7" font-size="7.4" text-anchor="middle" fill="#111" >−22</text><line x1="375.5" y1="829.2" x2="375.5" y2="831.2" stroke="#8a8a8a" stroke-width="1" /><text x="375.5" y="839.7" font-size="7.4" text-anchor="middle" fill="#111" >−18</text><line x1="394.6" y1="829.2" x2="394.6" y2="831.2" stroke="#8a8a8a" stroke-width="1" /><text x="394.6" y="839.7" font-size="7.4" text-anchor="middle" fill="#111" >−14</text><line x1="413.7" y1="829.2" x2="413.7" y2="831.2" stroke="#8a8a8a" stroke-width="1" /><text x="413.7" y="839.7" font-size="7.4" text-anchor="middle" fill="#111" >−10</text><line x1="432.8" y1="829.2" x2="432.8" y2="831.2" stroke="#8a8a8a" stroke-width="1" /><text x="432.8" y="839.7" font-size="7.4" text-anchor="middle" fill="#111" >−6</text><line x1="451.9" y1="829.2" x2="451.9" y2="831.2" stroke="#8a8a8a" stroke-width="1" /><text x="451.9" y="839.7" font-size="7.4" text-anchor="middle" fill="#111" >−2</text><line x1="471.1" y1="829.2" x2="471.1" y2="831.2" stroke="#8a8a8a" stroke-width="1" /><text x="471.1" y="839.7" font-size="7.4" text-anchor="middle" fill="#111" >2</text><line x1="490.2" y1="829.2" x2="490.2" y2="831.2" stroke="#8a8a8a" stroke-width="1" /><text x="490.2" y="839.7" font-size="7.4" text-anchor="middle" fill="#111" >6</text><line x1="509.3" y1="829.2" x2="509.3" y2="831.2" stroke="#8a8a8a" stroke-width="1" /><text x="509.3" y="839.7" font-size="7.4" text-anchor="middle" fill="#111" >10</text><line x1="528.4" y1="829.2" x2="528.4" y2="831.2" stroke="#8a8a8a" stroke-width="1" /><text x="528.4" y="839.7" font-size="7.4" text-anchor="middle" fill="#111" >14</text><line x1="547.5" y1="829.2" x2="547.5" y2="831.2" stroke="#8a8a8a" stroke-width="1" /><text x="547.5" y="839.7" font-size="7.4" text-anchor="middle" fill="#111" >18</text><line x1="566.7" y1="829.2" x2="566.7" y2="831.2" stroke="#8a8a8a" stroke-width="1" /><text x="566.7" y="839.7" font-size="7.4" text-anchor="middle" fill="#111" >22</text><line x1="327.7" y1="829.2" x2="327.7" y2="830.7" stroke="#8a8a8a" stroke-width="0.8" /><line x1="346.8" y1="829.2" x2="346.8" y2="830.7" stroke="#8a8a8a" stroke-width="0.8" /><line x1="365.9" y1="829.2" x2="365.9" y2="830.7" stroke="#8a8a8a" stroke-width="0.8" /><line x1="385.0" y1="829.2" x2="385.0" y2="830.7" stroke="#8a8a8a" stroke-width="0.8" /><line x1="404.1" y1="829.2" x2="404.1" y2="830.7" stroke="#8a8a8a" stroke-width="0.8" /><line x1="423.3" y1="829.2" x2="423.3" y2="830.7" stroke="#8a8a8a" stroke-width="0.8" /><line x1="442.4" y1="829.2" x2="442.4" y2="830.7" stroke="#8a8a8a" stroke-width="0.8" /><line x1="461.5" y1="829.2" x2="461.5" y2="830.7" stroke="#8a8a8a" stroke-width="0.8" /><line x1="480.6" y1="829.2" x2="480.6" y2="830.7" stroke="#8a8a8a" stroke-width="0.8" /><line x1="499.7" y1="829.2" x2="499.7" y2="830.7" stroke="#8a8a8a" stroke-width="0.8" /><line x1="518.9" y1="829.2" x2="518.9" y2="830.7" stroke="#8a8a8a" stroke-width="0.8" /><line x1="538.0" y1="829.2" x2="538.0" y2="830.7" stroke="#8a8a8a" stroke-width="0.8" /><line x1="557.1" y1="829.2" x2="557.1" y2="830.7" stroke="#8a8a8a" stroke-width="0.8" /><line x1="576.2" y1="829.2" x2="576.2" y2="830.7" stroke="#8a8a8a" stroke-width="0.8" /><line x1="316.1" y1="567.0" x2="318.1" y2="567.0" stroke="#8a8a8a" stroke-width="1" /><text x="315.5" y="569.6" font-size="7.4" text-anchor="end" fill="#111" >30</text><line x1="316.1" y1="588.9" x2="318.1" y2="588.9" stroke="#8a8a8a" stroke-width="1" /><text x="315.5" y="591.5" font-size="7.4" text-anchor="end" fill="#111" >25</text><line x1="316.1" y1="610.7" x2="318.1" y2="610.7" stroke="#8a8a8a" stroke-width="1" /><text x="315.5" y="613.3" font-size="7.4" text-anchor="end" fill="#111" >20</text><line x1="316.1" y1="632.6" x2="318.1" y2="632.6" stroke="#8a8a8a" stroke-width="1" /><text x="315.5" y="635.2" font-size="7.4" text-anchor="end" fill="#111" >15</text><line x1="316.1" y1="654.5" x2="318.1" y2="654.5" stroke="#8a8a8a" stroke-width="1" /><text x="315.5" y="657.1" font-size="7.4" text-anchor="end" fill="#111" >10</text><line x1="316.1" y1="676.3" x2="318.1" y2="676.3" stroke="#8a8a8a" stroke-width="1" /><text x="315.5" y="678.9" font-size="7.4" text-anchor="end" fill="#111" >5</text><line x1="316.1" y1="698.2" x2="318.1" y2="698.2" stroke="#8a8a8a" stroke-width="1" /><text x="315.5" y="700.8" font-size="7.4" text-anchor="end" fill="#111" >0</text><line x1="316.1" y1="720.1" x2="318.1" y2="720.1" stroke="#8a8a8a" stroke-width="1" /><text x="315.5" y="722.7" font-size="7.4" text-anchor="end" fill="#111" >−5</text><line x1="316.1" y1="741.9" x2="318.1" y2="741.9" stroke="#8a8a8a" stroke-width="1" /><text x="315.5" y="744.5" font-size="7.4" text-anchor="end" fill="#111" >−10</text><line x1="316.1" y1="763.8" x2="318.1" y2="763.8" stroke="#8a8a8a" stroke-width="1" /><text x="315.5" y="766.4" font-size="7.4" text-anchor="end" fill="#111" >−15</text><line x1="316.1" y1="785.7" x2="318.1" y2="785.7" stroke="#8a8a8a" stroke-width="1" /><text x="315.5" y="788.3" font-size="7.4" text-anchor="end" fill="#111" >−20</text><line x1="316.1" y1="807.5" x2="318.1" y2="807.5" stroke="#8a8a8a" stroke-width="1" /><text x="315.5" y="810.1" font-size="7.4" text-anchor="end" fill="#111" >−25</text><line x1="316.1" y1="829.4" x2="318.1" y2="829.4" stroke="#8a8a8a" stroke-width="1" /><text x="315.5" y="832.0" font-size="7.4" text-anchor="end" fill="#111" >−30</text><text x="449.3" y="562.7" font-size="10.45" text-anchor="middle" fill="#000" >SKBR3: 48 hr treatment</text><text x="449.9" y="850.3" font-size="10.4" text-anchor="middle" fill="#000" >tsne_x</text><text x="0.0" y="0.0" font-size="10.4" text-anchor="middle" fill="#000" transform="translate(306.5,698) rotate(-90)">tsne_y</text><path d="M342.0,647.0 L336.0,650.3 L336.0,643.7 Z" fill="#ec7cc4" stroke="#111" stroke-width="1.2"/><path d="M343.0,646.8 L337.1,650.1 L337.1,643.5 Z" fill="#ec7cc4" stroke="#111" stroke-width="1.2"/><path d="M341.7,642.5 L344.5,646.0 L341.7,649.5 L338.9,646.0 Z" fill="#ec7cc4" stroke="#111" stroke-width="1.2"/><path d="M341.0,642.4 L343.8,645.8 L341.0,649.3 L338.2,645.8 Z" fill="#ec7cc4" stroke="#111" stroke-width="1.2"/><path d="M344.0,647.1 L346.8,650.5 L344.0,654.0 L341.2,650.5 Z" fill="#ec7cc4" stroke="#111" stroke-width="1.2"/><path d="M342.8,646.0 L345.6,649.5 L342.8,652.9 L340.0,649.5 Z" fill="#ec7cc4" stroke="#111" stroke-width="1.2"/><path d="M345.9,648.1 L348.7,651.6 L345.9,655.0 L343.1,651.6 Z" fill="#ec7cc4" stroke="#111" stroke-width="1.2"/><path d="M347.2,646.4 L350.0,649.9 L347.2,653.4 L344.4,649.9 Z" fill="#ec7cc4" stroke="#111" stroke-width="1.2"/><path d="M353.3,648.9 L347.4,652.2 L347.4,645.6 Z" fill="#ec7cc4" stroke="#111" stroke-width="1.2"/><path d="M352.6,648.2 L346.7,651.5 L346.7,644.9 Z" fill="#ec7cc4" stroke="#111" stroke-width="1.2"/><path d="M356.1,645.6 H358.4 V647.7 H360.5 V650.0 H358.4 V652.1 H356.1 V650.0 H354.0 V647.7 H356.1 Z" fill="#ec7cc4" stroke="#111" stroke-width="1.2"/><path d="M356.9,645.7 H359.2 V647.8 H361.3 V650.1 H359.2 V652.2 H356.9 V650.1 H354.8 V647.8 H356.9 Z" fill="#ec7cc4" stroke="#111" stroke-width="1.2"/><path d="M360.3,645.1 H362.5 V647.2 H364.7 V649.5 H362.5 V651.6 H360.3 V649.5 H358.2 V647.2 H360.3 Z" fill="#ec7cc4" stroke="#111" stroke-width="1.2"/><path d="M359.9,645.6 H362.2 V647.7 H364.3 V649.9 H362.2 V652.1 H359.9 V649.9 H357.8 V647.7 H359.9 Z" fill="#ec7cc4" stroke="#111" stroke-width="1.2"/><path d="M360.0,649.3 L362.8,652.8 L360.0,656.2 L357.2,652.8 Z" fill="#ec7cc4" stroke="#111" stroke-width="1.2"/><path d="M360.1,648.8 L362.9,652.3 L360.1,655.8 L357.3,652.3 Z" fill="#ec7cc4" stroke="#111" stroke-width="1.2"/><path d="M370.3,643.8 L373.6,649.7 L367.0,649.7 Z" fill="#ec7cc4" stroke="#111" stroke-width="1.2"/><path d="M370.2,642.9 L373.5,648.9 L366.9,648.9 Z" fill="#ec7cc4" stroke="#111" stroke-width="1.2"/><path d="M373.4,641.4 L376.7,647.4 L370.1,647.4 Z" fill="#ec7cc4" stroke="#111" stroke-width="1.2"/><path d="M373.0,640.8 L376.3,646.7 L369.7,646.7 Z" fill="#ec7cc4" stroke="#111" stroke-width="1.2"/><rect x="378.3" y="637.3" width="5.6" height="5.6" fill="#ec7cc4" stroke="#111" stroke-width="1.2"/><rect x="378.2" y="636.9" width="5.6" height="5.6" fill="#ec7cc4" stroke="#111" stroke-width="1.2"/><rect x="381.4" y="638.7" width="5.6" height="5.6" fill="#ec7cc4" stroke="#111" stroke-width="1.2"/><rect x="381.6" y="638.6" width="5.6" height="5.6" fill="#ec7cc4" stroke="#111" stroke-width="1.2"/><circle cx="399.9" cy="635.4" r="3.13" fill="#ec7cc4" stroke="#111" stroke-width="1.2"/><circle cx="397.8" cy="634.0" r="3.13" fill="#ec7cc4" stroke="#111" stroke-width="1.2"/><circle cx="398.8" cy="637.6" r="3.13" fill="#ec7cc4" stroke="#111" stroke-width="1.2"/><circle cx="399.0" cy="637.5" r="3.13" fill="#ec7cc4" stroke="#111" stroke-width="1.2"/><path d="M317.1,695.8 L320.4,701.8 L313.8,701.8 Z" fill="#8c60c8" stroke="#111" stroke-width="1.2"/><path d="M318.6,695.0 L321.9,701.0 L315.3,701.0 Z" fill="#8c60c8" stroke="#111" stroke-width="1.2"/><path d="M324.9,697.8 L318.9,701.1 L318.9,694.5 Z" fill="#8c60c8" stroke="#111" stroke-width="1.2"/><path d="M326.8,698.8 L320.8,702.1 L320.8,695.5 Z" fill="#8c60c8" stroke="#111" stroke-width="1.2"/><path d="M324.5,691.9 L327.8,697.8 L321.2,697.8 Z" fill="#8c60c8" stroke="#111" stroke-width="1.2"/><path d="M324.4,691.5 L327.7,697.4 L321.1,697.4 Z" fill="#8c60c8" stroke="#111" stroke-width="1.2"/><path d="M331.1,688.6 L333.9,692.1 L331.1,695.6 L328.2,692.1 Z" fill="#8c60c8" stroke="#111" stroke-width="1.2"/><path d="M330.5,689.2 L333.3,692.7 L330.5,696.1 L327.7,692.7 Z" fill="#8c60c8" stroke="#111" stroke-width="1.2"/><path d="M328.7,691.9 L331.5,695.4 L328.7,698.9 L325.9,695.4 Z" fill="#8c60c8" stroke="#111" stroke-width="1.2"/><path d="M328.6,691.8 L331.4,695.2 L328.6,698.7 L325.8,695.2 Z" fill="#8c60c8" stroke="#111" stroke-width="1.2"/><path d="M335.8,682.1 L338.6,685.5 L335.8,689.0 L333.0,685.5 Z" fill="#8c60c8" stroke="#111" stroke-width="1.2"/><path d="M336.0,681.7 L338.8,685.2 L336.0,688.7 L333.2,685.2 Z" fill="#8c60c8" stroke="#111" stroke-width="1.2"/><path d="M340.6,684.9 L343.4,688.4 L340.6,691.8 L337.8,688.4 Z" fill="#8c60c8" stroke="#111" stroke-width="1.2"/><path d="M339.2,685.1 L342.0,688.5 L339.2,692.0 L336.4,688.5 Z" fill="#8c60c8" stroke="#111" stroke-width="1.2"/><path d="M345.2,678.9 L348.5,684.8 L341.9,684.8 Z" fill="#8c60c8" stroke="#111" stroke-width="1.2"/><path d="M346.6,679.4 L349.9,685.4 L343.3,685.4 Z" fill="#8c60c8" stroke="#111" stroke-width="1.2"/><path d="M346.9,681.2 L350.2,687.2 L343.6,687.2 Z" fill="#8c60c8" stroke="#111" stroke-width="1.2"/><path d="M347.2,679.6 L350.5,685.5 L343.9,685.5 Z" fill="#8c60c8" stroke="#111" stroke-width="1.2"/><rect x="394.7" y="651.8" width="5.6" height="5.6" fill="#8c60c8" stroke="#111" stroke-width="1.2"/><rect x="393.6" y="651.3" width="5.6" height="5.6" fill="#8c60c8" stroke="#111" stroke-width="1.2"/><circle cx="423.6" cy="631.7" r="3.13" fill="#8c60c8" stroke="#111" stroke-width="1.2"/><circle cx="423.9" cy="631.7" r="3.13" fill="#8c60c8" stroke="#111" stroke-width="1.2"/><circle cx="426.2" cy="632.5" r="3.13" fill="#8c60c8" stroke="#111" stroke-width="1.2"/><circle cx="427.5" cy="632.6" r="3.13" fill="#8c60c8" stroke="#111" stroke-width="1.2"/><circle cx="445.1" cy="633.4" r="3.13" fill="#c4bc24" stroke="#111" stroke-width="1.2"/><circle cx="444.2" cy="631.8" r="3.13" fill="#c4bc24" stroke="#111" stroke-width="1.2"/><circle cx="447.8" cy="635.3" r="3.13" fill="#c4bc24" stroke="#111" stroke-width="1.2"/><circle cx="446.3" cy="633.9" r="3.13" fill="#c4bc24" stroke="#111" stroke-width="1.2"/><rect x="440.5" y="642.0" width="5.6" height="5.6" fill="#c4bc24" stroke="#111" stroke-width="1.2"/><rect x="439.3" y="642.0" width="5.6" height="5.6" fill="#c4bc24" stroke="#111" stroke-width="1.2"/><rect x="434.7" y="654.5" width="5.6" height="5.6" fill="#c4bc24" stroke="#111" stroke-width="1.2"/><rect x="433.7" y="653.4" width="5.6" height="5.6" fill="#c4bc24" stroke="#111" stroke-width="1.2"/><path d="M410.2,674.1 L413.5,680.0 L406.9,680.0 Z" fill="#c4bc24" stroke="#111" stroke-width="1.2"/><path d="M410.6,673.5 L413.9,679.4 L407.3,679.4 Z" fill="#c4bc24" stroke="#111" stroke-width="1.2"/><path d="M412.7,672.7 L416.0,678.7 L409.4,678.7 Z" fill="#c4bc24" stroke="#111" stroke-width="1.2"/><path d="M413.4,671.6 L416.7,677.5 L410.1,677.5 Z" fill="#c4bc24" stroke="#111" stroke-width="1.2"/><path d="M434.0,671.5 L437.3,677.5 L430.7,677.5 Z" fill="#c4bc24" stroke="#111" stroke-width="1.2"/><path d="M433.8,670.4 L437.1,676.4 L430.5,676.4 Z" fill="#c4bc24" stroke="#111" stroke-width="1.2"/><path d="M400.0,685.0 L402.8,688.5 L400.0,691.9 L397.2,688.5 Z" fill="#c4bc24" stroke="#111" stroke-width="1.2"/><path d="M400.2,683.8 L403.0,687.2 L400.2,690.7 L397.3,687.2 Z" fill="#c4bc24" stroke="#111" stroke-width="1.2"/><path d="M403.8,681.8 H406.0 V683.9 H408.2 V686.2 H406.0 V688.3 H403.8 V686.2 H401.7 V683.9 H403.8 Z" fill="#c4bc24" stroke="#111" stroke-width="1.2"/><path d="M401.8,682.0 H404.1 V684.1 H406.2 V686.3 H404.1 V688.4 H401.8 V686.3 H399.7 V684.1 H401.8 Z" fill="#c4bc24" stroke="#111" stroke-width="1.2"/><path d="M430.4,682.5 H432.6 V684.6 H434.7 V686.9 H432.6 V689.0 H430.4 V686.9 H428.2 V684.6 H430.4 Z" fill="#c4bc24" stroke="#111" stroke-width="1.2"/><path d="M429.8,683.2 H432.0 V685.3 H434.1 V687.5 H432.0 V689.6 H429.8 V687.5 H427.7 V685.3 H429.8 Z" fill="#c4bc24" stroke="#111" stroke-width="1.2"/><path d="M403.2,691.6 L406.0,695.1 L403.2,698.6 L400.4,695.1 Z" fill="#c4bc24" stroke="#111" stroke-width="1.2"/><path d="M402.7,693.3 L405.5,696.8 L402.7,700.2 L399.9,696.8 Z" fill="#c4bc24" stroke="#111" stroke-width="1.2"/><path d="M435.8,693.8 L438.6,697.2 L435.8,700.7 L433.0,697.2 Z" fill="#c4bc24" stroke="#111" stroke-width="1.2"/><path d="M435.1,693.6 L437.9,697.1 L435.1,700.6 L432.3,697.1 Z" fill="#c4bc24" stroke="#111" stroke-width="1.2"/><circle cx="445.3" cy="630.5" r="3.13" fill="#c4bc24" stroke="#111" stroke-width="1.2"/><circle cx="445.0" cy="632.4" r="3.13" fill="#c4bc24" stroke="#111" stroke-width="1.2"/><circle cx="448.6" cy="635.6" r="3.13" fill="#c4bc24" stroke="#111" stroke-width="1.2"/><circle cx="447.1" cy="634.9" r="3.13" fill="#c4bc24" stroke="#111" stroke-width="1.2"/><rect x="440.3" y="641.5" width="5.6" height="5.6" fill="#c4bc24" stroke="#111" stroke-width="1.2"/><rect x="439.9" y="642.1" width="5.6" height="5.6" fill="#c4bc24" stroke="#111" stroke-width="1.2"/><circle cx="452.4" cy="660.2" r="3.13" fill="#c4bc24" stroke="#111" stroke-width="1.2"/><circle cx="453.8" cy="661.0" r="3.13" fill="#c4bc24" stroke="#111" stroke-width="1.2"/><path d="M406.6,696.2 L409.4,699.6 L406.6,703.1 L403.8,699.6 Z" fill="#c4bc24" stroke="#111" stroke-width="1.2"/><path d="M406.7,696.6 L409.6,700.1 L406.7,703.6 L403.9,700.1 Z" fill="#c4bc24" stroke="#111" stroke-width="1.2"/><path d="M406.8,702.2 L409.6,705.7 L406.8,709.2 L404.0,705.7 Z" fill="#c4bc24" stroke="#111" stroke-width="1.2"/><path d="M408.0,702.7 L410.8,706.1 L408.0,709.6 L405.2,706.1 Z" fill="#c4bc24" stroke="#111" stroke-width="1.2"/><path d="M434.5,694.4 L437.3,697.8 L434.5,701.3 L431.7,697.8 Z" fill="#c4bc24" stroke="#111" stroke-width="1.2"/><path d="M435.5,693.9 L438.3,697.4 L435.5,700.8 L432.7,697.4 Z" fill="#c4bc24" stroke="#111" stroke-width="1.2"/><path d="M398.2,686.3 L401.0,689.7 L398.2,693.2 L395.4,689.7 Z" fill="#c4bc24" stroke="#111" stroke-width="1.2"/><path d="M398.1,686.8 L400.9,690.2 L398.1,693.7 L395.3,690.2 Z" fill="#c4bc24" stroke="#111" stroke-width="1.2"/><path d="M389.1,724.0 L383.2,727.3 L383.2,720.7 Z" fill="#c4bc24" stroke="#111" stroke-width="1.2"/><path d="M391.2,724.5 L385.2,727.8 L385.2,721.2 Z" fill="#c4bc24" stroke="#111" stroke-width="1.2"/><path d="M403.9,720.5 L397.9,723.8 L397.9,717.2 Z" fill="#c4bc24" stroke="#111" stroke-width="1.2"/><path d="M403.9,720.9 L397.9,724.2 L397.9,717.6 Z" fill="#c4bc24" stroke="#111" stroke-width="1.2"/><path d="M518.9,725.4 L513.0,728.7 L513.0,722.1 Z" fill="#c4bc24" stroke="#111" stroke-width="1.2"/><path d="M518.1,725.3 L512.2,728.6 L512.2,722.0 Z" fill="#c4bc24" stroke="#111" stroke-width="1.2"/><path d="M523.1,721.9 L517.2,725.2 L517.2,718.6 Z" fill="#c4bc24" stroke="#111" stroke-width="1.2"/><path d="M524.1,721.1 L518.2,724.4 L518.2,717.8 Z" fill="#c4bc24" stroke="#111" stroke-width="1.2"/><circle cx="374.8" cy="696.1" r="3.13" fill="#2c922c" stroke="#111" stroke-width="1.2"/><circle cx="374.7" cy="697.0" r="3.13" fill="#2c922c" stroke="#111" stroke-width="1.2"/><circle cx="375.9" cy="696.1" r="3.13" fill="#2c922c" stroke="#111" stroke-width="1.2"/><circle cx="376.0" cy="697.6" r="3.13" fill="#2c922c" stroke="#111" stroke-width="1.2"/><rect x="373.9" y="705.9" width="5.6" height="5.6" fill="#2c922c" stroke="#111" stroke-width="1.2"/><rect x="375.5" y="706.9" width="5.6" height="5.6" fill="#2c922c" stroke="#111" stroke-width="1.2"/><rect x="378.6" y="708.5" width="5.6" height="5.6" fill="#2c922c" stroke="#111" stroke-width="1.2"/><rect x="378.3" y="708.0" width="5.6" height="5.6" fill="#2c922c" stroke="#111" stroke-width="1.2"/><circle cx="378.8" cy="719.4" r="3.13" fill="#2c922c" stroke="#111" stroke-width="1.2"/><circle cx="380.2" cy="720.5" r="3.13" fill="#2c922c" stroke="#111" stroke-width="1.2"/><circle cx="382.3" cy="726.5" r="3.13" fill="#2c922c" stroke="#111" stroke-width="1.2"/><circle cx="381.7" cy="726.4" r="3.13" fill="#2c922c" stroke="#111" stroke-width="1.2"/><circle cx="381.8" cy="729.9" r="3.13" fill="#2c922c" stroke="#111" stroke-width="1.2"/><circle cx="383.3" cy="730.7" r="3.13" fill="#2c922c" stroke="#111" stroke-width="1.2"/><circle cx="375.9" cy="733.9" r="3.13" fill="#2c922c" stroke="#111" stroke-width="1.2"/><circle cx="374.9" cy="732.2" r="3.13" fill="#2c922c" stroke="#111" stroke-width="1.2"/><path d="M379.4,738.1 L382.7,744.1 L376.1,744.1 Z" fill="#2c922c" stroke="#111" stroke-width="1.2"/><path d="M378.9,738.4 L382.2,744.4 L375.6,744.4 Z" fill="#2c922c" stroke="#111" stroke-width="1.2"/><path d="M384.9,737.6 L388.2,743.6 L381.6,743.6 Z" fill="#2c922c" stroke="#111" stroke-width="1.2"/><path d="M384.2,738.4 L387.5,744.3 L380.9,744.3 Z" fill="#2c922c" stroke="#111" stroke-width="1.2"/><path d="M388.8,739.5 L392.1,745.5 L385.5,745.5 Z" fill="#2c922c" stroke="#111" stroke-width="1.2"/><path d="M386.8,738.6 L390.1,744.5 L383.5,744.5 Z" fill="#2c922c" stroke="#111" stroke-width="1.2"/><rect x="380.6" y="743.4" width="5.6" height="5.6" fill="#2c922c" stroke="#111" stroke-width="1.2"/><rect x="380.3" y="744.6" width="5.6" height="5.6" fill="#2c922c" stroke="#111" stroke-width="1.2"/><rect x="381.4" y="749.1" width="5.6" height="5.6" fill="#2c922c" stroke="#111" stroke-width="1.2"/><rect x="380.7" y="747.7" width="5.6" height="5.6" fill="#2c922c" stroke="#111" stroke-width="1.2"/><path d="M398.7,767.5 H400.9 V769.6 H403.0 V771.9 H400.9 V774.0 H398.7 V771.9 H396.6 V769.6 H398.7 Z" fill="#2c922c" stroke="#111" stroke-width="1.2"/><path d="M399.5,768.0 H401.7 V770.1 H403.9 V772.3 H401.7 V774.5 H399.5 V772.3 H397.4 V770.1 H399.5 Z" fill="#2c922c" stroke="#111" stroke-width="1.2"/><path d="M402.2,764.2 L405.0,767.7 L402.2,771.2 L399.4,767.7 Z" fill="#2c922c" stroke="#111" stroke-width="1.2"/><path d="M403.3,765.1 L406.1,768.6 L403.3,772.0 L400.5,768.6 Z" fill="#2c922c" stroke="#111" stroke-width="1.2"/><path d="M401.2,772.9 H403.4 V775.0 H405.5 V777.3 H403.4 V779.4 H401.2 V777.3 H399.1 V775.0 H401.2 Z" fill="#2c922c" stroke="#111" stroke-width="1.2"/><path d="M401.6,773.6 H403.8 V775.7 H405.9 V777.9 H403.8 V780.0 H401.6 V777.9 H399.4 V775.7 H401.6 Z" fill="#2c922c" stroke="#111" stroke-width="1.2"/><path d="M405.4,775.8 L408.7,781.7 L402.1,781.7 Z" fill="#2c922c" stroke="#111" stroke-width="1.2"/><path d="M404.9,775.7 L408.2,781.7 L401.6,781.7 Z" fill="#2c922c" stroke="#111" stroke-width="1.2"/><path d="M419.2,779.7 H421.4 V781.8 H423.6 V784.1 H421.4 V786.2 H419.2 V784.1 H417.1 V781.8 H419.2 Z" fill="#2c922c" stroke="#111" stroke-width="1.2"/><path d="M420.7,779.1 H423.0 V781.2 H425.1 V783.4 H423.0 V785.5 H420.7 V783.4 H418.6 V781.2 H420.7 Z" fill="#2c922c" stroke="#111" stroke-width="1.2"/><path d="M423.9,778.2 L426.7,781.7 L423.9,785.1 L421.1,781.7 Z" fill="#2c922c" stroke="#111" stroke-width="1.2"/><path d="M424.8,778.6 L427.6,782.0 L424.8,785.5 L422.0,782.0 Z" fill="#2c922c" stroke="#111" stroke-width="1.2"/><path d="M425.6,783.4 H427.9 V785.5 H430.0 V787.8 H427.9 V789.9 H425.6 V787.8 H423.5 V785.5 H425.6 Z" fill="#2c922c" stroke="#111" stroke-width="1.2"/><path d="M425.1,783.5 H427.4 V785.6 H429.5 V787.9 H427.4 V790.0 H425.1 V787.9 H423.0 V785.6 H425.1 Z" fill="#2c922c" stroke="#111" stroke-width="1.2"/><path d="M432.9,787.2 L426.9,790.5 L426.9,783.9 Z" fill="#2c922c" stroke="#111" stroke-width="1.2"/><path d="M432.9,788.6 L427.0,791.9 L427.0,785.3 Z" fill="#2c922c" stroke="#111" stroke-width="1.2"/><path d="M423.6,786.5 L426.9,792.5 L420.3,792.5 Z" fill="#2c922c" stroke="#111" stroke-width="1.2"/><path d="M424.7,787.5 L428.0,793.5 L421.4,793.5 Z" fill="#2c922c" stroke="#111" stroke-width="1.2"/><path d="M435.8,788.3 L429.9,791.6 L429.9,785.0 Z" fill="#2c922c" stroke="#111" stroke-width="1.2"/><path d="M436.9,788.8 L431.0,792.1 L431.0,785.5 Z" fill="#2c922c" stroke="#111" stroke-width="1.2"/><path d="M441.8,767.2 L444.6,770.6 L441.8,774.1 L439.0,770.6 Z" fill="#2c922c" stroke="#111" stroke-width="1.2"/><path d="M441.1,766.6 L443.9,770.1 L441.1,773.5 L438.3,770.1 Z" fill="#2c922c" stroke="#111" stroke-width="1.2"/><path d="M441.3,771.0 L444.1,774.5 L441.3,778.0 L438.5,774.5 Z" fill="#2c922c" stroke="#111" stroke-width="1.2"/><path d="M441.1,770.8 L443.9,774.3 L441.1,777.7 L438.3,774.3 Z" fill="#2c922c" stroke="#111" stroke-width="1.2"/><path d="M447.9,752.2 L442.0,755.5 L442.0,748.9 Z" fill="#2c922c" stroke="#111" stroke-width="1.2"/><path d="M449.6,752.4 L443.7,755.7 L443.7,749.1 Z" fill="#2c922c" stroke="#111" stroke-width="1.2"/><path d="M442.1,770.0 L444.9,773.4 L442.1,776.9 L439.3,773.4 Z" fill="#2c922c" stroke="#111" stroke-width="1.2"/><path d="M441.6,770.2 L444.4,773.7 L441.6,777.2 L438.8,773.7 Z" fill="#2c922c" stroke="#111" stroke-width="1.2"/><circle cx="425.2" cy="724.4" r="3.13" fill="#2cbccc" stroke="#111" stroke-width="1.2"/><circle cx="423.5" cy="724.6" r="3.13" fill="#2cbccc" stroke="#111" stroke-width="1.2"/><circle cx="428.6" cy="723.3" r="3.13" fill="#2cbccc" stroke="#111" stroke-width="1.2"/><circle cx="428.5" cy="721.7" r="3.13" fill="#2cbccc" stroke="#111" stroke-width="1.2"/><circle cx="433.3" cy="722.7" r="3.13" fill="#2cbccc" stroke="#111" stroke-width="1.2"/><circle cx="433.3" cy="723.0" r="3.13" fill="#2cbccc" stroke="#111" stroke-width="1.2"/><rect x="419.2" y="726.6" width="5.6" height="5.6" fill="#2cbccc" stroke="#111" stroke-width="1.2"/><rect x="418.8" y="725.2" width="5.6" height="5.6" fill="#2cbccc" stroke="#111" stroke-width="1.2"/><rect x="422.7" y="727.6" width="5.6" height="5.6" fill="#2cbccc" stroke="#111" stroke-width="1.2"/><rect x="423.4" y="727.5" width="5.6" height="5.6" fill="#2cbccc" stroke="#111" stroke-width="1.2"/><path d="M487.0,781.5 L490.3,787.5 L483.7,787.5 Z" fill="#2cbccc" stroke="#111" stroke-width="1.2"/><path d="M487.0,780.6 L490.3,786.6 L483.7,786.6 Z" fill="#2cbccc" stroke="#111" stroke-width="1.2"/><path d="M485.4,785.7 L488.7,791.6 L482.1,791.6 Z" fill="#2cbccc" stroke="#111" stroke-width="1.2"/><path d="M485.5,786.1 L488.8,792.1 L482.2,792.1 Z" fill="#2cbccc" stroke="#111" stroke-width="1.2"/><path d="M486.2,795.1 H488.4 V797.2 H490.5 V799.5 H488.4 V801.6 H486.2 V799.5 H484.1 V797.2 H486.2 Z" fill="#2cbccc" stroke="#111" stroke-width="1.2"/><path d="M486.6,795.2 H488.9 V797.3 H491.0 V799.6 H488.9 V801.7 H486.6 V799.6 H484.5 V797.3 H486.6 Z" fill="#2cbccc" stroke="#111" stroke-width="1.2"/><path d="M489.6,796.9 H491.8 V799.0 H493.9 V801.3 H491.8 V803.4 H489.6 V801.3 H487.5 V799.0 H489.6 Z" fill="#2cbccc" stroke="#111" stroke-width="1.2"/><path d="M490.7,798.0 H493.0 V800.2 H495.1 V802.4 H493.0 V804.5 H490.7 V802.4 H488.6 V800.2 H490.7 Z" fill="#2cbccc" stroke="#111" stroke-width="1.2"/><path d="M483.3,798.7 L486.1,802.2 L483.3,805.6 L480.5,802.2 Z" fill="#2cbccc" stroke="#111" stroke-width="1.2"/><path d="M484.9,798.0 L487.7,801.5 L484.9,804.9 L482.1,801.5 Z" fill="#2cbccc" stroke="#111" stroke-width="1.2"/><path d="M481.1,803.4 L483.9,806.8 L481.1,810.3 L478.3,806.8 Z" fill="#2cbccc" stroke="#111" stroke-width="1.2"/><path d="M481.0,804.0 L483.8,807.5 L481.0,811.0 L478.2,807.5 Z" fill="#2cbccc" stroke="#111" stroke-width="1.2"/><path d="M485.2,806.1 L488.0,809.6 L485.2,813.0 L482.4,809.6 Z" fill="#2cbccc" stroke="#111" stroke-width="1.2"/><path d="M486.0,807.2 L488.8,810.6 L486.0,814.1 L483.2,810.6 Z" fill="#2cbccc" stroke="#111" stroke-width="1.2"/><path d="M492.2,812.3 L486.3,815.6 L486.3,809.0 Z" fill="#2cbccc" stroke="#111" stroke-width="1.2"/><path d="M492.6,811.6 L486.7,814.9 L486.7,808.3 Z" fill="#2cbccc" stroke="#111" stroke-width="1.2"/><path d="M483.3,810.3 L486.1,813.7 L483.3,817.2 L480.5,813.7 Z" fill="#2cbccc" stroke="#111" stroke-width="1.2"/><path d="M483.0,811.0 L485.8,814.5 L483.0,818.0 L480.2,814.5 Z" fill="#2cbccc" stroke="#111" stroke-width="1.2"/><circle cx="457.4" cy="648.4" r="3.13" fill="#7c7c7c" stroke="#111" stroke-width="1.2"/><circle cx="455.9" cy="647.4" r="3.13" fill="#7c7c7c" stroke="#111" stroke-width="1.2"/><path d="M503.9,583.4 L498.0,586.7 L498.0,580.1 Z" fill="#98602a" stroke="#111" stroke-width="1.2"/><path d="M505.5,584.4 L499.5,587.7 L499.5,581.1 Z" fill="#98602a" stroke="#111" stroke-width="1.2"/><path d="M505.3,578.6 L508.6,584.6 L502.0,584.6 Z" fill="#98602a" stroke="#111" stroke-width="1.2"/><path d="M504.7,579.3 L508.0,585.2 L501.4,585.2 Z" fill="#98602a" stroke="#111" stroke-width="1.2"/><path d="M511.4,581.2 L514.2,584.7 L511.4,588.1 L508.6,584.7 Z" fill="#98602a" stroke="#111" stroke-width="1.2"/><path d="M511.1,581.0 L513.9,584.5 L511.1,587.9 L508.3,584.5 Z" fill="#98602a" stroke="#111" stroke-width="1.2"/><path d="M516.4,587.0 L510.5,590.3 L510.5,583.7 Z" fill="#98602a" stroke="#111" stroke-width="1.2"/><path d="M517.5,587.2 L511.5,590.5 L511.5,583.9 Z" fill="#98602a" stroke="#111" stroke-width="1.2"/><path d="M501.0,585.4 L503.8,588.9 L501.0,592.3 L498.2,588.9 Z" fill="#98602a" stroke="#111" stroke-width="1.2"/><path d="M500.4,585.6 L503.2,589.1 L500.4,592.6 L497.6,589.1 Z" fill="#98602a" stroke="#111" stroke-width="1.2"/><path d="M507.2,585.6 L510.5,591.5 L503.9,591.5 Z" fill="#98602a" stroke="#111" stroke-width="1.2"/><path d="M507.5,584.9 L510.8,590.8 L504.2,590.8 Z" fill="#98602a" stroke="#111" stroke-width="1.2"/><path d="M505.5,589.1 L508.3,592.6 L505.5,596.0 L502.7,592.6 Z" fill="#98602a" stroke="#111" stroke-width="1.2"/><path d="M505.1,589.0 L507.9,592.5 L505.1,596.0 L502.3,592.5 Z" fill="#98602a" stroke="#111" stroke-width="1.2"/><rect x="500.7" y="593.2" width="5.6" height="5.6" fill="#98602a" stroke="#111" stroke-width="1.2"/><rect x="499.9" y="594.3" width="5.6" height="5.6" fill="#98602a" stroke="#111" stroke-width="1.2"/><path d="M478.1,606.6 L481.4,612.5 L474.8,612.5 Z" fill="#98602a" stroke="#111" stroke-width="1.2"/><path d="M478.6,606.8 L481.9,612.7 L475.3,612.7 Z" fill="#98602a" stroke="#111" stroke-width="1.2"/><path d="M481.7,603.9 L485.0,609.9 L478.4,609.9 Z" fill="#98602a" stroke="#111" stroke-width="1.2"/><path d="M481.4,605.2 L484.7,611.2 L478.1,611.2 Z" fill="#98602a" stroke="#111" stroke-width="1.2"/><path d="M485.9,600.1 L489.2,606.1 L482.6,606.1 Z" fill="#98602a" stroke="#111" stroke-width="1.2"/><path d="M484.6,601.5 L487.9,607.4 L481.3,607.4 Z" fill="#98602a" stroke="#111" stroke-width="1.2"/><rect x="487.7" y="612.5" width="5.6" height="5.6" fill="#98602a" stroke="#111" stroke-width="1.2"/><rect x="489.1" y="610.6" width="5.6" height="5.6" fill="#98602a" stroke="#111" stroke-width="1.2"/><rect x="488.7" y="608.8" width="5.6" height="5.6" fill="#98602a" stroke="#111" stroke-width="1.2"/><rect x="488.8" y="607.4" width="5.6" height="5.6" fill="#98602a" stroke="#111" stroke-width="1.2"/><circle cx="504.1" cy="608.8" r="3.13" fill="#98602a" stroke="#111" stroke-width="1.2"/><circle cx="504.0" cy="608.2" r="3.13" fill="#98602a" stroke="#111" stroke-width="1.2"/><circle cx="504.2" cy="614.6" r="3.13" fill="#98602a" stroke="#111" stroke-width="1.2"/><circle cx="503.3" cy="613.5" r="3.13" fill="#98602a" stroke="#111" stroke-width="1.2"/><circle cx="506.8" cy="617.1" r="3.13" fill="#98602a" stroke="#111" stroke-width="1.2"/><circle cx="507.4" cy="615.4" r="3.13" fill="#98602a" stroke="#111" stroke-width="1.2"/><path d="M517.7,620.5 L521.0,626.4 L514.4,626.4 Z" fill="#ec8420" stroke="#111" stroke-width="1.2"/><path d="M517.7,620.3 L521.0,626.3 L514.4,626.3 Z" fill="#ec8420" stroke="#111" stroke-width="1.2"/><path d="M521.0,617.9 L524.3,623.8 L517.7,623.8 Z" fill="#ec8420" stroke="#111" stroke-width="1.2"/><path d="M520.8,617.8 L524.1,623.8 L517.5,623.8 Z" fill="#ec8420" stroke="#111" stroke-width="1.2"/><circle cx="515.7" cy="635.6" r="3.13" fill="#ec8420" stroke="#111" stroke-width="1.2"/><circle cx="515.8" cy="634.8" r="3.13" fill="#ec8420" stroke="#111" stroke-width="1.2"/><circle cx="520.0" cy="637.0" r="3.13" fill="#ec8420" stroke="#111" stroke-width="1.2"/><circle cx="521.4" cy="638.8" r="3.13" fill="#ec8420" stroke="#111" stroke-width="1.2"/><rect x="501.5" y="642.1" width="5.6" height="5.6" fill="#ec8420" stroke="#111" stroke-width="1.2"/><rect x="499.6" y="644.0" width="5.6" height="5.6" fill="#ec8420" stroke="#111" stroke-width="1.2"/><rect x="505.6" y="644.7" width="5.6" height="5.6" fill="#ec8420" stroke="#111" stroke-width="1.2"/><rect x="505.3" y="644.0" width="5.6" height="5.6" fill="#ec8420" stroke="#111" stroke-width="1.2"/><path d="M566.1,638.5 L560.2,641.8 L560.2,635.2 Z" fill="#ec8420" stroke="#111" stroke-width="1.2"/><path d="M566.3,637.6 L560.3,640.9 L560.3,634.3 Z" fill="#ec8420" stroke="#111" stroke-width="1.2"/><path d="M567.1,639.0 L570.4,644.9 L563.8,644.9 Z" fill="#ec8420" stroke="#111" stroke-width="1.2"/><path d="M566.0,638.1 L569.3,644.1 L562.7,644.1 Z" fill="#ec8420" stroke="#111" stroke-width="1.2"/><path d="M571.3,632.9 L574.1,636.4 L571.3,639.9 L568.5,636.4 Z" fill="#ec8420" stroke="#111" stroke-width="1.2"/><path d="M570.1,632.4 L572.9,635.9 L570.1,639.3 L567.3,635.9 Z" fill="#ec8420" stroke="#111" stroke-width="1.2"/><path d="M578.4,636.6 L572.5,639.9 L572.5,633.3 Z" fill="#ec8420" stroke="#111" stroke-width="1.2"/><path d="M579.2,638.4 L573.3,641.7 L573.3,635.1 Z" fill="#ec8420" stroke="#111" stroke-width="1.2"/><path d="M568.5,637.3 L571.3,640.8 L568.5,644.3 L565.6,640.8 Z" fill="#ec8420" stroke="#111" stroke-width="1.2"/><path d="M568.3,636.3 L571.1,639.8 L568.3,643.3 L565.5,639.8 Z" fill="#ec8420" stroke="#111" stroke-width="1.2"/><circle cx="469.8" cy="654.0" r="3.13" fill="#d63030" stroke="#111" stroke-width="1.2"/><circle cx="470.7" cy="654.7" r="3.13" fill="#d63030" stroke="#111" stroke-width="1.2"/><circle cx="470.5" cy="656.9" r="3.13" fill="#d63030" stroke="#111" stroke-width="1.2"/><circle cx="471.5" cy="656.6" r="3.13" fill="#d63030" stroke="#111" stroke-width="1.2"/><rect x="515.6" y="667.4" width="5.6" height="5.6" fill="#d63030" stroke="#111" stroke-width="1.2"/><rect x="515.8" y="668.4" width="5.6" height="5.6" fill="#d63030" stroke="#111" stroke-width="1.2"/><rect x="515.6" y="670.8" width="5.6" height="5.6" fill="#d63030" stroke="#111" stroke-width="1.2"/><rect x="515.8" y="670.0" width="5.6" height="5.6" fill="#d63030" stroke="#111" stroke-width="1.2"/><circle cx="529.4" cy="676.6" r="3.13" fill="#d63030" stroke="#111" stroke-width="1.2"/><circle cx="528.6" cy="677.4" r="3.13" fill="#d63030" stroke="#111" stroke-width="1.2"/><circle cx="532.9" cy="675.2" r="3.13" fill="#d63030" stroke="#111" stroke-width="1.2"/><circle cx="534.3" cy="675.8" r="3.13" fill="#d63030" stroke="#111" stroke-width="1.2"/><path d="M535.5,680.1 L538.8,686.1 L532.2,686.1 Z" fill="#d63030" stroke="#111" stroke-width="1.2"/><path d="M536.5,678.8 L539.8,684.7 L533.2,684.7 Z" fill="#d63030" stroke="#111" stroke-width="1.2"/><rect x="541.7" y="679.9" width="5.6" height="5.6" fill="#d63030" stroke="#111" stroke-width="1.2"/><rect x="541.5" y="679.6" width="5.6" height="5.6" fill="#d63030" stroke="#111" stroke-width="1.2"/><rect x="540.5" y="685.2" width="5.6" height="5.6" fill="#d63030" stroke="#111" stroke-width="1.2"/><rect x="539.8" y="685.5" width="5.6" height="5.6" fill="#d63030" stroke="#111" stroke-width="1.2"/><path d="M565.8,698.8 L568.6,702.3 L565.8,705.7 L563.0,702.3 Z" fill="#d63030" stroke="#111" stroke-width="1.2"/><path d="M565.0,700.4 L567.8,703.8 L565.0,707.3 L562.1,703.8 Z" fill="#d63030" stroke="#111" stroke-width="1.2"/><path d="M565.0,702.8 H567.3 V705.0 H569.4 V707.2 H567.3 V709.3 H565.0 V707.2 H562.9 V705.0 H565.0 Z" fill="#d63030" stroke="#111" stroke-width="1.2"/><path d="M564.6,702.4 H566.8 V704.5 H568.9 V706.8 H566.8 V708.9 H564.6 V706.8 H562.5 V704.5 H564.6 Z" fill="#d63030" stroke="#111" stroke-width="1.2"/><path d="M555.1,708.4 H557.3 V710.5 H559.5 V712.7 H557.3 V714.9 H555.1 V712.7 H553.0 V710.5 H555.1 Z" fill="#d63030" stroke="#111" stroke-width="1.2"/><path d="M554.8,710.2 H557.1 V712.3 H559.2 V714.5 H557.1 V716.6 H554.8 V714.5 H552.7 V712.3 H554.8 Z" fill="#d63030" stroke="#111" stroke-width="1.2"/><path d="M559.7,711.1 L563.0,717.0 L556.4,717.0 Z" fill="#d63030" stroke="#111" stroke-width="1.2"/><path d="M560.6,711.2 L563.9,717.1 L557.3,717.1 Z" fill="#d63030" stroke="#111" stroke-width="1.2"/><path d="M562.6,714.7 H564.8 V716.8 H566.9 V719.0 H564.8 V721.1 H562.6 V719.0 H560.5 V716.8 H562.6 Z" fill="#d63030" stroke="#111" stroke-width="1.2"/><path d="M562.2,713.4 H564.4 V715.5 H566.5 V717.8 H564.4 V719.9 H562.2 V717.8 H560.0 V715.5 H562.2 Z" fill="#d63030" stroke="#111" stroke-width="1.2"/><path d="M556.6,715.9 H558.8 V718.0 H560.9 V720.3 H558.8 V722.4 H556.6 V720.3 H554.5 V718.0 H556.6 Z" fill="#d63030" stroke="#111" stroke-width="1.2"/><path d="M555.4,716.3 H557.6 V718.4 H559.7 V720.7 H557.6 V722.8 H555.4 V720.7 H553.3 V718.4 H555.4 Z" fill="#d63030" stroke="#111" stroke-width="1.2"/><path d="M564.0,717.2 L567.3,723.1 L560.7,723.1 Z" fill="#d63030" stroke="#111" stroke-width="1.2"/><path d="M564.0,717.2 L567.3,723.2 L560.7,723.2 Z" fill="#d63030" stroke="#111" stroke-width="1.2"/><path d="M554.6,720.5 H556.9 V722.6 H559.0 V724.9 H556.9 V727.0 H554.6 V724.9 H552.5 V722.6 H554.6 Z" fill="#d63030" stroke="#111" stroke-width="1.2"/><path d="M555.4,721.3 H557.6 V723.4 H559.7 V725.6 H557.6 V727.8 H555.4 V725.6 H553.2 V723.4 H555.4 Z" fill="#d63030" stroke="#111" stroke-width="1.2"/><path d="M525.9,723.6 L529.2,729.5 L522.6,729.5 Z" fill="#d63030" stroke="#111" stroke-width="1.2"/><path d="M525.5,722.9 L528.8,728.8 L522.2,728.8 Z" fill="#d63030" stroke="#111" stroke-width="1.2"/><path d="M530.2,725.5 L533.5,731.4 L526.9,731.4 Z" fill="#d63030" stroke="#111" stroke-width="1.2"/><path d="M529.4,725.8 L532.7,731.8 L526.1,731.8 Z" fill="#d63030" stroke="#111" stroke-width="1.2"/><path d="M537.0,729.8 L531.1,733.1 L531.1,726.5 Z" fill="#d63030" stroke="#111" stroke-width="1.2"/><path d="M536.9,729.9 L531.0,733.2 L531.0,726.6 Z" fill="#d63030" stroke="#111" stroke-width="1.2"/><path d="M543.4,725.9 L546.2,729.4 L543.4,732.8 L540.6,729.4 Z" fill="#d63030" stroke="#111" stroke-width="1.2"/><path d="M544.0,726.2 L546.8,729.7 L544.0,733.1 L541.2,729.7 Z" fill="#d63030" stroke="#111" stroke-width="1.2"/><path d="M546.8,727.4 L549.7,730.9 L546.8,734.4 L544.0,730.9 Z" fill="#d63030" stroke="#111" stroke-width="1.2"/><path d="M547.4,729.4 L550.2,732.9 L547.4,736.3 L544.6,732.9 Z" fill="#d63030" stroke="#111" stroke-width="1.2"/><path d="M542.3,731.3 L545.1,734.8 L542.3,738.3 L539.5,734.8 Z" fill="#d63030" stroke="#111" stroke-width="1.2"/><path d="M543.0,730.4 L545.8,733.9 L543.0,737.3 L540.2,733.9 Z" fill="#d63030" stroke="#111" stroke-width="1.2"/><path d="M551.4,733.0 L554.2,736.4 L551.4,739.9 L548.6,736.4 Z" fill="#d63030" stroke="#111" stroke-width="1.2"/><path d="M550.5,734.5 L553.3,738.0 L550.5,741.4 L547.6,738.0 Z" fill="#d63030" stroke="#111" stroke-width="1.2"/><path d="M553.9,735.5 L556.7,738.9 L553.9,742.4 L551.1,738.9 Z" fill="#d63030" stroke="#111" stroke-width="1.2"/><path d="M554.5,736.2 L557.3,739.7 L554.5,743.2 L551.6,739.7 Z" fill="#d63030" stroke="#111" stroke-width="1.2"/><path d="M491.7,743.4 L485.8,746.7 L485.8,740.1 Z" fill="#d63030" stroke="#111" stroke-width="1.2"/><path d="M491.7,744.1 L485.8,747.4 L485.8,740.8 Z" fill="#d63030" stroke="#111" stroke-width="1.2"/><path d="M493.9,743.2 L488.0,746.5 L488.0,739.9 Z" fill="#d63030" stroke="#111" stroke-width="1.2"/><path d="M494.6,743.4 L488.7,746.7 L488.7,740.1 Z" fill="#d63030" stroke="#111" stroke-width="1.2"/><path d="M481.1,722.1 L475.2,725.4 L475.2,718.8 Z" fill="#2c82c4" stroke="#111" stroke-width="1.2"/><path d="M481.2,721.2 L475.2,724.5 L475.2,717.9 Z" fill="#2c82c4" stroke="#111" stroke-width="1.2"/><path d="M505.6,759.0 L508.4,762.4 L505.6,765.9 L502.8,762.4 Z" fill="#2c82c4" stroke="#111" stroke-width="1.2"/><path d="M506.0,759.2 L508.8,762.7 L506.0,766.1 L503.2,762.7 Z" fill="#2c82c4" stroke="#111" stroke-width="1.2"/><path d="M510.6,760.1 L513.4,763.6 L510.6,767.1 L507.8,763.6 Z" fill="#2c82c4" stroke="#111" stroke-width="1.2"/><path d="M510.0,758.6 L512.8,762.0 L510.0,765.5 L507.2,762.0 Z" fill="#2c82c4" stroke="#111" stroke-width="1.2"/><path d="M511.8,764.0 L515.1,769.9 L508.5,769.9 Z" fill="#2c82c4" stroke="#111" stroke-width="1.2"/><path d="M513.2,763.4 L516.5,769.3 L509.9,769.3 Z" fill="#2c82c4" stroke="#111" stroke-width="1.2"/><path d="M515.3,764.7 L518.6,770.7 L512.0,770.7 Z" fill="#2c82c4" stroke="#111" stroke-width="1.2"/><path d="M516.0,765.4 L519.3,771.3 L512.7,771.3 Z" fill="#2c82c4" stroke="#111" stroke-width="1.2"/><path d="M522.4,771.0 L516.4,774.3 L516.4,767.7 Z" fill="#2c82c4" stroke="#111" stroke-width="1.2"/><path d="M522.7,770.0 L516.8,773.3 L516.8,766.7 Z" fill="#2c82c4" stroke="#111" stroke-width="1.2"/><path d="M524.6,773.9 L518.7,777.2 L518.7,770.6 Z" fill="#2c82c4" stroke="#111" stroke-width="1.2"/><path d="M526.1,773.6 L520.1,776.9 L520.1,770.3 Z" fill="#2c82c4" stroke="#111" stroke-width="1.2"/><path d="M515.6,769.4 L518.9,775.3 L512.3,775.3 Z" fill="#2c82c4" stroke="#111" stroke-width="1.2"/><path d="M516.1,770.2 L519.4,776.1 L512.8,776.1 Z" fill="#2c82c4" stroke="#111" stroke-width="1.2"/><rect x="533.6" y="774.2" width="5.6" height="5.6" fill="#2c82c4" stroke="#111" stroke-width="1.2"/><rect x="533.4" y="774.2" width="5.6" height="5.6" fill="#2c82c4" stroke="#111" stroke-width="1.2"/><rect x="535.4" y="773.4" width="5.6" height="5.6" fill="#2c82c4" stroke="#111" stroke-width="1.2"/><rect x="536.4" y="773.3" width="5.6" height="5.6" fill="#2c82c4" stroke="#111" stroke-width="1.2"/><rect x="533.0" y="779.1" width="5.6" height="5.6" fill="#2c82c4" stroke="#111" stroke-width="1.2"/><rect x="532.7" y="778.9" width="5.6" height="5.6" fill="#2c82c4" stroke="#111" stroke-width="1.2"/><circle cx="545.7" cy="780.6" r="3.13" fill="#2c82c4" stroke="#111" stroke-width="1.2"/><circle cx="544.3" cy="779.1" r="3.13" fill="#2c82c4" stroke="#111" stroke-width="1.2"/><circle cx="550.0" cy="781.2" r="3.13" fill="#2c82c4" stroke="#111" stroke-width="1.2"/><circle cx="549.9" cy="780.3" r="3.13" fill="#2c82c4" stroke="#111" stroke-width="1.2"/><circle cx="546.1" cy="784.5" r="3.13" fill="#2c82c4" stroke="#111" stroke-width="1.2"/><circle cx="547.0" cy="784.7" r="3.13" fill="#2c82c4" stroke="#111" stroke-width="1.2"/><ellipse cx="362.5" cy="645.2" rx="29.8" ry="17.2" transform="rotate(0 362.5 645.2)" fill="none" stroke="#9040c0" stroke-width="1.6" stroke-dasharray="0.1 2.5" stroke-linecap="round"/><ellipse cx="334.5" cy="689.2" rx="21.5" ry="14.4" transform="rotate(-35.8 334.5 689.2)" fill="none" stroke="#9040c0" stroke-width="1.6" stroke-dasharray="0.1 2.5" stroke-linecap="round"/><ellipse cx="456.4" cy="647.5" rx="9.2" ry="9.2" transform="rotate(0 456.4 647.5)" fill="none" stroke="#555" stroke-width="1.6" stroke-dasharray="0.1 2.5" stroke-linecap="round"/><ellipse cx="505.4" cy="588.6" rx="16.0" ry="14.3" transform="rotate(0 505.4 588.6)" fill="none" stroke="#a05020" stroke-width="1.6" stroke-dasharray="0.1 2.5" stroke-linecap="round"/><ellipse cx="567.7" cy="639.7" rx="13.3" ry="12.3" transform="rotate(0 567.7 639.7)" fill="none" stroke="#f07020" stroke-width="1.6" stroke-dasharray="0.1 2.5" stroke-linecap="round"/><ellipse cx="550.5" cy="721.7" rx="26.8" ry="30.6" transform="rotate(0 550.5 721.7)" fill="none" stroke="#e02020" stroke-width="1.6" stroke-dasharray="0.1 2.5" stroke-linecap="round"/><ellipse cx="408.8" cy="766.5" rx="49.6" ry="34.4" transform="rotate(0 408.8 766.5)" fill="none" stroke="#20a040" stroke-width="1.6" stroke-dasharray="0.1 2.5" stroke-linecap="round"/><ellipse cx="486.2" cy="801.1" rx="15.5" ry="24.2" transform="rotate(0 486.2 801.1)" fill="none" stroke="#2040b0" stroke-width="1.6" stroke-dasharray="0.1 2.5" stroke-linecap="round"/><text x="584.7" y="568.3" font-size="7.45" text-anchor="start" fill="#111" text-decoration="underline">Compound Group</text><circle cx="587.2" cy="574.0" r="3.1" fill="#a0a0a0" stroke="#444" stroke-width="0.9"/><text x="592.7" y="576.7" font-size="7.45" text-anchor="start" fill="#111" >DMSO</text><circle cx="587.2" cy="582.1" r="3.1" fill="#f8a050" stroke="#444" stroke-width="0.9"/><text x="592.7" y="584.8" font-size="7.45" text-anchor="start" fill="#111" >Trastuzumab</text><circle cx="587.2" cy="590.2" r="3.1" fill="#b08060" stroke="#444" stroke-width="0.9"/><text x="592.7" y="592.9" font-size="7.45" text-anchor="start" fill="#111" >Pertuzumab</text><circle cx="587.2" cy="598.2" r="3.1" fill="#e06060" stroke="#444" stroke-width="0.9"/><text x="592.7" y="600.9" font-size="7.45" text-anchor="start" fill="#111" >Lap-VHL/Tuc-VHL</text><circle cx="587.2" cy="606.3" r="3.1" fill="#d0d060" stroke="#444" stroke-width="0.9"/><text x="592.7" y="609.0" font-size="7.45" text-anchor="start" fill="#111" >Lap-VHL<tspan font-size="4.6" dy="2.6">inactive</tspan><tspan dy="-2.6">/Tuc-VHL</tspan><tspan font-size="4.6" dy="2.6">inactive</tspan></text><circle cx="587.2" cy="614.4" r="3.1" fill="#b090d8" stroke="#444" stroke-width="0.9"/><text x="592.7" y="617.1" font-size="7.45" text-anchor="start" fill="#111" >Alpelisib</text><circle cx="587.2" cy="622.5" r="3.1" fill="#f0a0d8" stroke="#444" stroke-width="0.9"/><text x="592.7" y="625.2" font-size="7.45" text-anchor="start" fill="#111" >Ipatasertib</text><circle cx="587.2" cy="630.6" r="3.1" fill="#5898d0" stroke="#444" stroke-width="0.9"/><text x="592.7" y="633.3" font-size="7.45" text-anchor="start" fill="#111" >Neratinib</text><circle cx="587.2" cy="638.6" r="3.1" fill="#50d0e0" stroke="#444" stroke-width="0.9"/><text x="592.7" y="641.3" font-size="7.45" text-anchor="start" fill="#111" >BDTX-189</text><circle cx="587.2" cy="646.7" r="3.1" fill="#60b860" stroke="#444" stroke-width="0.9"/><text x="592.7" y="649.4" font-size="7.45" text-anchor="start" fill="#111" >Lapatinib and Tucatinib</text><text x="584.7" y="659.2" font-size="7.45" text-anchor="start" fill="#111" text-decoration="underline">Dose Order</text><circle cx="587.2" cy="666.2" r="2.85" fill="#fff" stroke="#222" stroke-width="0.9"/><text x="592.7" y="668.9" font-size="7.45" text-anchor="start" fill="#111" >0</text><rect x="584.7" y="672.0" width="5.1" height="5.1" fill="#fff" stroke="#222" stroke-width="0.9"/><text x="592.7" y="677.2" font-size="7.45" text-anchor="start" fill="#111" >1</text><path d="M587.2,679.7 L590.2,685.1 L584.2,685.1 Z" fill="#fff" stroke="#222" stroke-width="0.9"/><text x="592.7" y="685.5" font-size="7.45" text-anchor="start" fill="#111" >2</text><path d="M586.2,688.2 H588.2 V690.1 H590.1 V692.1 H588.2 V694.0 H586.2 V692.1 H584.3 V690.1 H586.2 Z" fill="#fff" stroke="#222" stroke-width="0.9"/><text x="592.7" y="693.8" font-size="7.45" text-anchor="start" fill="#111" >3</text><path d="M587.2,696.3 L589.8,699.4 L587.2,702.6 L584.7,699.4 Z" fill="#fff" stroke="#222" stroke-width="0.9"/><text x="592.7" y="702.1" font-size="7.45" text-anchor="start" fill="#111" >4</text><path d="M590.4,707.7 L585.0,710.7 L585.0,704.7 Z" fill="#fff" stroke="#222" stroke-width="0.9"/><text x="592.7" y="710.4" font-size="7.45" text-anchor="start" fill="#111" >5</text>
</svg></body></html>
